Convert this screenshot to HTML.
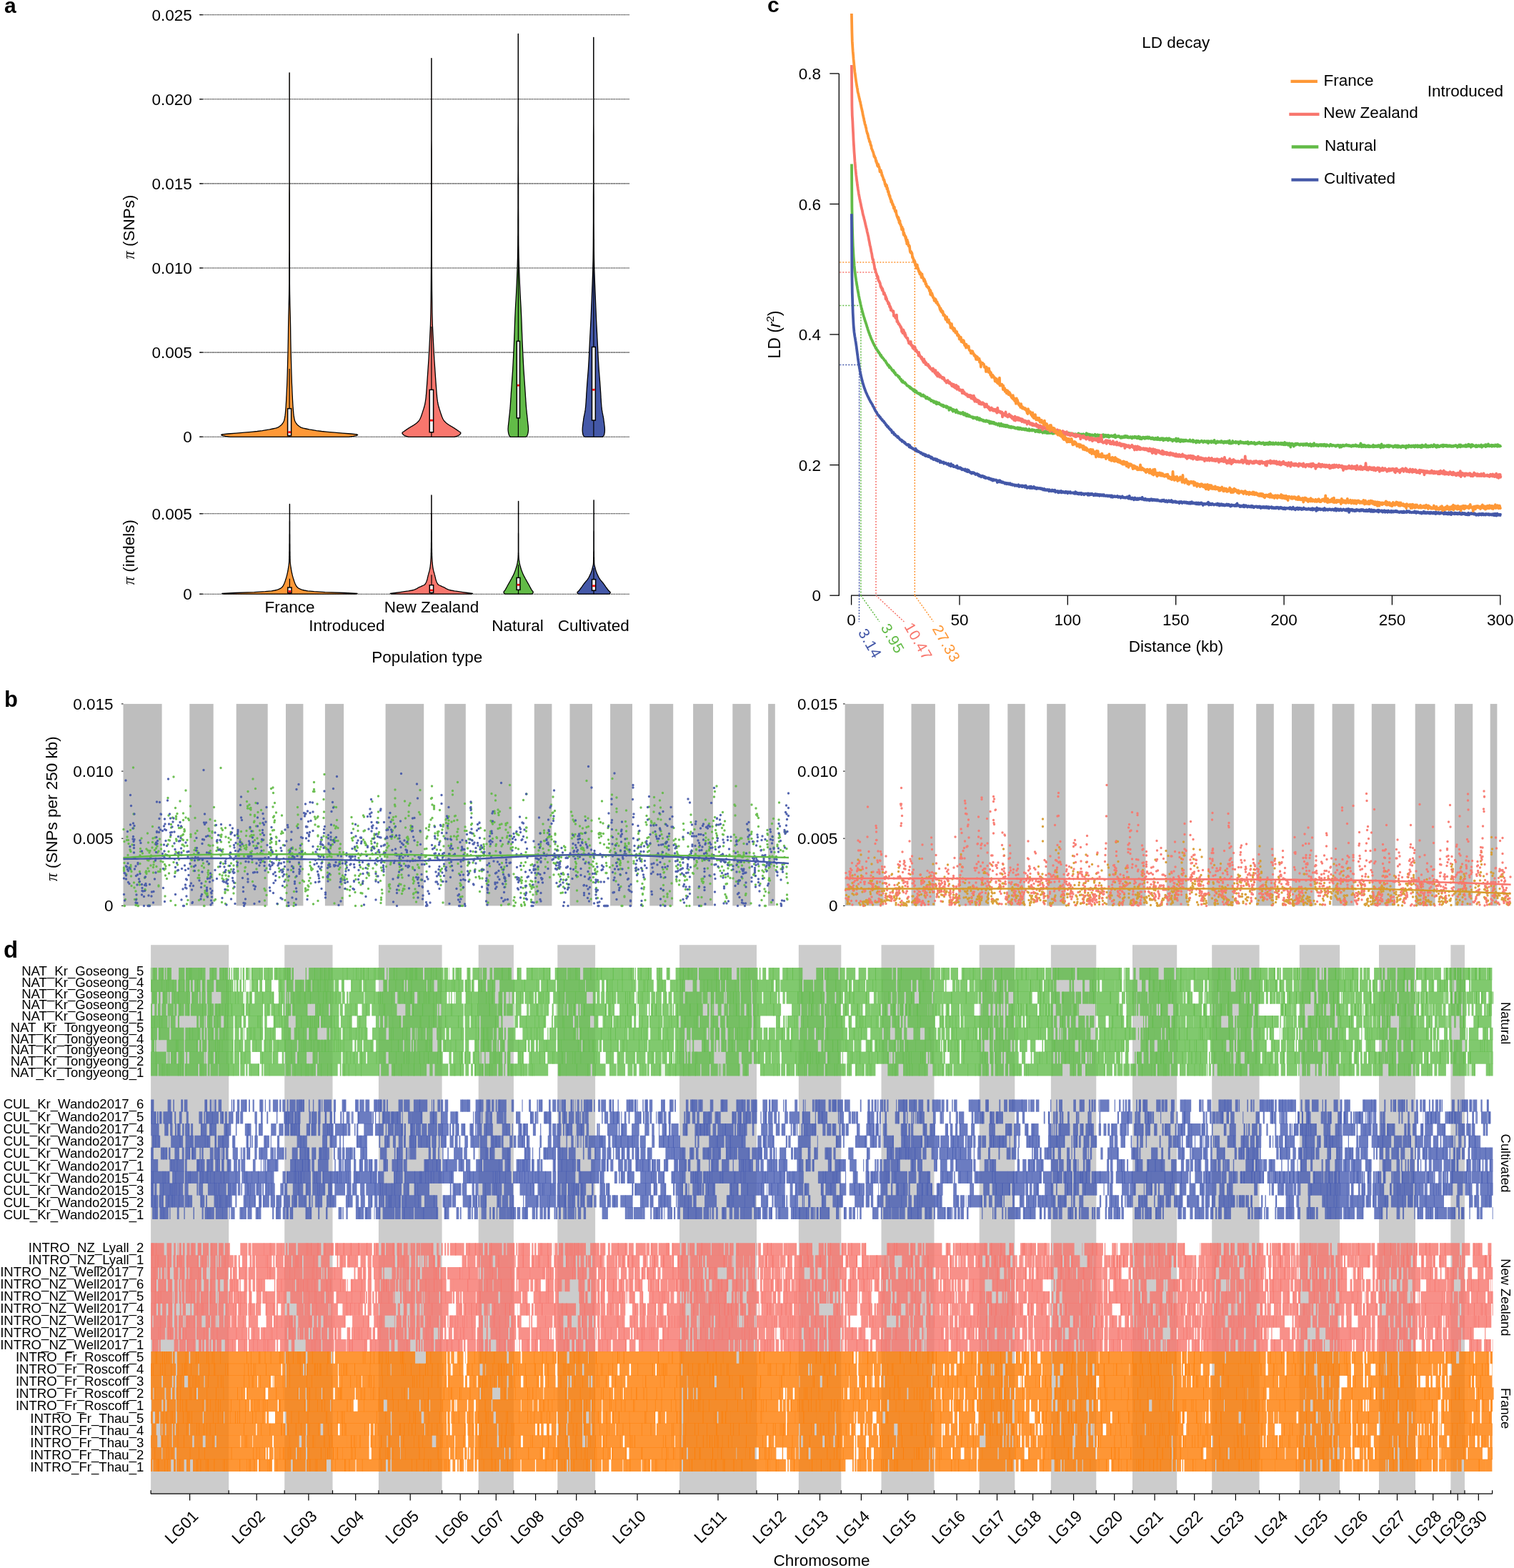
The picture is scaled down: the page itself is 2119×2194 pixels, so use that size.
<!DOCTYPE html>
<html><head><meta charset="utf-8"><title>Figure</title>
<style>html,body{margin:0;padding:0;background:#fff;overflow:hidden;} svg{display:block;} text{font-family:'Liberation Sans', Arial, Helvetica, sans-serif;}</style>
</head><body>
<svg width="2119" height="2194" viewBox="0 0 2119 2194">
<rect x="0" y="0" width="2119" height="2194" fill="#fff"/>
<text x="6" y="18" font-size="30" font-weight="bold">a</text>
<line x1="280" y1="611.2" x2="881" y2="611.2" stroke="#000" stroke-width="1.1" stroke-dasharray="1.4 0.9"/>
<line x1="279" y1="611.2" x2="284" y2="611.2" stroke="#000" stroke-width="1.1"/>
<text x="268.8" y="619.2" font-size="22.5" text-anchor="end" fill="#000" >0</text>
<line x1="280" y1="493.1" x2="881" y2="493.1" stroke="#000" stroke-width="1.1" stroke-dasharray="1.4 0.9"/>
<line x1="279" y1="493.1" x2="284" y2="493.1" stroke="#000" stroke-width="1.1"/>
<text x="268.8" y="501.1" font-size="22.5" text-anchor="end" fill="#000" >0.005</text>
<line x1="280" y1="375.0" x2="881" y2="375.0" stroke="#000" stroke-width="1.1" stroke-dasharray="1.4 0.9"/>
<line x1="279" y1="375.0" x2="284" y2="375.0" stroke="#000" stroke-width="1.1"/>
<text x="268.8" y="383.0" font-size="22.5" text-anchor="end" fill="#000" >0.010</text>
<line x1="280" y1="256.9" x2="881" y2="256.9" stroke="#000" stroke-width="1.1" stroke-dasharray="1.4 0.9"/>
<line x1="279" y1="256.9" x2="284" y2="256.9" stroke="#000" stroke-width="1.1"/>
<text x="268.8" y="264.9" font-size="22.5" text-anchor="end" fill="#000" >0.015</text>
<line x1="280" y1="138.8" x2="881" y2="138.8" stroke="#000" stroke-width="1.1" stroke-dasharray="1.4 0.9"/>
<line x1="279" y1="138.8" x2="284" y2="138.8" stroke="#000" stroke-width="1.1"/>
<text x="268.8" y="146.8" font-size="22.5" text-anchor="end" fill="#000" >0.020</text>
<line x1="280" y1="20.7" x2="881" y2="20.7" stroke="#000" stroke-width="1.1" stroke-dasharray="1.4 0.9"/>
<line x1="279" y1="20.7" x2="284" y2="20.7" stroke="#000" stroke-width="1.1"/>
<text x="268.8" y="28.7" font-size="22.5" text-anchor="end" fill="#000" >0.025</text>
<line x1="280" y1="831.2" x2="881" y2="831.2" stroke="#000" stroke-width="1.1" stroke-dasharray="1.4 0.9"/>
<line x1="279" y1="831.2" x2="284" y2="831.2" stroke="#000" stroke-width="1.1"/>
<text x="268.8" y="839.2" font-size="22.5" text-anchor="end" fill="#000" >0</text>
<line x1="280" y1="718.8" x2="881" y2="718.8" stroke="#000" stroke-width="1.1" stroke-dasharray="1.4 0.9"/>
<line x1="279" y1="718.8" x2="284" y2="718.8" stroke="#000" stroke-width="1.1"/>
<text x="268.8" y="726.8" font-size="22.5" text-anchor="end" fill="#000" >0.005</text>
<text transform="translate(187.5,317.6) rotate(-90)" font-size="22.5" text-anchor="middle"><tspan font-family="Liberation Serif, serif" font-style="italic">π</tspan> (SNPs)</text>
<text transform="translate(187.8,772.6) rotate(-90)" font-size="22.5" text-anchor="middle"><tspan font-family="Liberation Serif, serif" font-style="italic">π</tspan> (indels)</text>
<path d="M322.1,611.3 315.7,610.4 312.0,609.6 309.6,608.7 310.6,607.8 319.0,607.0 330.9,606.1 342.1,605.2 351.7,604.3 360.0,603.5 367.1,602.6 372.6,601.7 377.3,600.9 381.7,600.0 385.7,599.1 388.3,598.3 390.1,597.4 391.5,596.5 392.6,595.6 393.6,594.8 394.4,593.9 395.1,593.0 395.7,592.2 396.3,591.3 396.8,590.4 397.2,589.6 397.6,588.7 397.8,587.8 398.1,587.0 398.2,586.1 398.4,585.2 398.6,584.3 398.7,583.5 398.8,582.6 399.0,581.7 399.1,580.9 399.2,580.0 399.3,579.1 399.4,578.3 399.5,577.4 399.5,576.5 399.6,575.6 399.7,574.8 399.8,573.9 399.8,573.0 399.9,572.2 400.0,571.3 400.0,570.4 400.1,569.6 400.2,568.7 400.2,567.8 400.3,567.0 400.3,566.1 400.4,565.2 400.4,564.3 400.5,563.5 400.5,562.6 400.6,561.7 400.6,560.9 400.7,560.0 400.7,559.1 400.8,558.3 400.8,557.4 400.8,556.5 400.9,555.6 400.9,554.8 401.0,553.9 401.0,553.0 401.1,552.2 401.1,551.3 401.8,535.8 402.3,520.3 402.7,504.8 403.1,489.3 403.4,473.8 403.6,458.3 403.9,442.8 404.3,427.3 404.6,411.8 404.8,396.3 404.8,380.8 404.8,365.3 404.9,349.8 404.9,334.3 404.9,318.8 404.9,303.3 404.9,287.8 404.9,272.3 405.0,256.8 405.0,241.3 405.0,225.8 405.0,210.3 405.0,194.8 405.0,179.3 405.0,163.8 405.0,148.3 405.0,132.8 405.0,117.3 405.0,101.8 405.2,101.8 405.2,117.3 405.2,132.8 405.2,148.3 405.2,163.8 405.2,179.3 405.2,194.8 405.2,210.3 405.2,225.8 405.2,241.3 405.2,256.8 405.3,272.3 405.3,287.8 405.3,303.3 405.3,318.8 405.3,334.3 405.3,349.8 405.4,365.3 405.4,380.8 405.4,396.3 405.6,411.8 405.9,427.3 406.3,442.8 406.6,458.3 406.8,473.8 407.1,489.3 407.5,504.8 407.9,520.3 408.4,535.8 409.1,551.3 409.1,552.2 409.2,553.0 409.2,553.9 409.3,554.8 409.3,555.6 409.4,556.5 409.4,557.4 409.4,558.3 409.5,559.1 409.5,560.0 409.6,560.9 409.6,561.7 409.7,562.6 409.7,563.5 409.8,564.3 409.8,565.2 409.9,566.1 409.9,567.0 410.0,567.8 410.0,568.7 410.1,569.6 410.2,570.4 410.2,571.3 410.3,572.2 410.4,573.0 410.4,573.9 410.5,574.8 410.6,575.6 410.7,576.5 410.7,577.4 410.8,578.3 410.9,579.1 411.0,580.0 411.1,580.9 411.2,581.7 411.4,582.6 411.5,583.5 411.6,584.3 411.8,585.2 412.0,586.1 412.1,587.0 412.4,587.8 412.6,588.7 413.0,589.6 413.4,590.4 413.9,591.3 414.5,592.2 415.1,593.0 415.8,593.9 416.6,594.8 417.6,595.6 418.7,596.5 420.1,597.4 421.9,598.3 424.5,599.1 428.5,600.0 432.9,600.9 437.6,601.7 443.1,602.6 450.2,603.5 458.5,604.3 468.1,605.2 479.3,606.1 491.2,607.0 499.6,607.8 500.6,608.7 498.2,609.6 494.5,610.4 488.1,611.3Z" fill="#FE9837" stroke="#000" stroke-width="1.3" stroke-linejoin="round"/>
<line x1="405.1" y1="516.0" x2="405.1" y2="571.7" stroke="#000" stroke-width="1.2"/>
<line x1="405.1" y1="609.6" x2="405.1" y2="611.3" stroke="#000" stroke-width="1.2"/>
<rect x="402.6" y="571.7" width="5.0" height="37.9" fill="#fff" stroke="#000" stroke-width="1.5"/>
<rect x="403.3" y="603.3" width="3.6" height="2.8" fill="#f00"/>
<path d="M571.9,611.3 568.7,610.4 566.3,609.6 565.1,608.7 564.1,607.8 563.3,607.0 562.9,606.1 563.2,605.2 564.3,604.3 565.7,603.5 566.8,602.6 568.1,601.7 569.3,600.9 570.6,600.0 572.0,599.1 573.3,598.3 574.8,597.4 576.3,596.5 577.8,595.6 579.2,594.8 580.5,593.9 581.7,593.0 582.8,592.2 583.8,591.3 584.7,590.4 585.6,589.6 586.3,588.7 586.9,587.8 587.4,587.0 587.9,586.1 588.3,585.2 588.7,584.3 589.1,583.5 589.4,582.6 589.7,581.7 590.1,580.9 590.3,580.0 590.6,579.1 590.9,578.3 591.2,577.4 591.5,576.5 591.7,575.6 592.0,574.8 592.3,573.9 592.6,573.0 592.9,572.2 593.1,571.3 593.4,570.4 593.7,569.6 593.9,568.7 594.1,567.8 594.4,567.0 594.6,566.1 594.8,565.2 594.9,564.3 595.1,563.5 595.2,562.6 595.4,561.7 595.5,560.9 595.6,560.0 595.8,559.1 595.9,558.3 596.0,557.4 596.1,556.5 596.2,555.6 596.3,554.8 596.3,553.9 596.4,553.0 596.5,552.2 596.6,551.3 597.8,535.1 598.9,518.9 600.0,502.7 600.9,486.5 601.7,470.3 602.5,454.1 602.9,437.9 603.1,421.7 603.3,405.5 603.4,389.3 603.5,373.1 603.6,356.9 603.6,340.7 603.6,324.5 603.6,308.4 603.7,292.2 603.7,276.0 603.7,259.8 603.7,243.6 603.7,227.4 603.7,211.2 603.8,195.0 603.8,178.8 603.8,162.6 603.8,146.4 603.8,130.2 603.8,114.0 603.8,97.8 603.8,81.6 604.0,81.6 604.0,97.8 604.0,114.0 604.0,130.2 604.0,146.4 604.0,162.6 604.0,178.8 604.0,195.0 604.1,211.2 604.1,227.4 604.1,243.6 604.1,259.8 604.1,276.0 604.1,292.2 604.2,308.4 604.2,324.5 604.2,340.7 604.2,356.9 604.3,373.1 604.4,389.3 604.5,405.5 604.7,421.7 604.9,437.9 605.3,454.1 606.1,470.3 606.9,486.5 607.8,502.7 608.9,518.9 610.0,535.1 611.2,551.3 611.3,552.2 611.4,553.0 611.5,553.9 611.5,554.8 611.6,555.6 611.7,556.5 611.8,557.4 611.9,558.3 612.0,559.1 612.2,560.0 612.3,560.9 612.4,561.7 612.6,562.6 612.7,563.5 612.9,564.3 613.0,565.2 613.2,566.1 613.4,567.0 613.7,567.8 613.9,568.7 614.1,569.6 614.4,570.4 614.7,571.3 614.9,572.2 615.2,573.0 615.5,573.9 615.8,574.8 616.1,575.6 616.3,576.5 616.6,577.4 616.9,578.3 617.2,579.1 617.5,580.0 617.7,580.9 618.1,581.7 618.4,582.6 618.7,583.5 619.1,584.3 619.5,585.2 619.9,586.1 620.4,587.0 620.9,587.8 621.5,588.7 622.2,589.6 623.1,590.4 624.0,591.3 625.0,592.2 626.1,593.0 627.3,593.9 628.6,594.8 630.0,595.6 631.5,596.5 633.0,597.4 634.5,598.3 635.8,599.1 637.2,600.0 638.5,600.9 639.7,601.7 641.0,602.6 642.1,603.5 643.5,604.3 644.6,605.2 644.9,606.1 644.5,607.0 643.7,607.8 642.7,608.7 641.5,609.6 639.1,610.4 635.9,611.3Z" fill="#F8766D" stroke="#000" stroke-width="1.3" stroke-linejoin="round"/>
<line x1="603.9" y1="457.0" x2="603.9" y2="545.4" stroke="#000" stroke-width="1.2"/>
<line x1="603.9" y1="604.8" x2="603.9" y2="611.3" stroke="#000" stroke-width="1.2"/>
<rect x="601.2" y="545.4" width="5.4" height="59.4" fill="#fff" stroke="#000" stroke-width="1.5"/>
<rect x="601.9" y="586.8" width="4.0" height="2.8" fill="#f00"/>
<path d="M714.3,611.3 713.6,610.4 712.9,609.6 712.4,608.7 712.2,607.8 711.9,607.0 711.7,606.1 711.5,605.2 711.4,604.3 711.3,603.5 711.2,602.6 711.1,601.7 711.1,600.9 711.1,600.0 711.1,599.1 711.2,598.3 711.3,597.4 711.3,596.5 711.4,595.6 711.5,594.8 711.6,593.9 711.7,593.0 711.8,592.2 711.9,591.3 712.0,590.4 712.1,589.6 712.2,588.7 712.3,587.8 712.4,587.0 712.4,586.1 712.5,585.2 712.6,584.3 712.7,583.5 712.8,582.6 712.9,581.7 713.0,580.9 713.1,580.0 713.2,579.1 713.3,578.3 713.4,577.4 713.5,576.5 713.5,575.6 713.6,574.8 713.7,573.9 713.8,573.0 713.9,572.2 714.0,571.3 714.0,570.4 714.1,569.6 714.2,568.7 714.2,567.8 714.3,567.0 714.4,566.1 714.4,565.2 714.5,564.3 714.5,563.5 714.6,562.6 714.7,561.7 714.7,560.9 714.8,560.0 714.8,559.1 714.9,558.3 714.9,557.4 715.0,556.5 715.1,555.6 715.1,554.8 715.2,553.9 715.2,553.0 715.3,552.2 715.3,551.3 716.5,533.9 717.7,516.6 718.6,499.2 719.4,481.8 720.1,464.4 720.7,447.1 721.5,429.7 722.5,412.3 723.3,394.9 724.0,377.6 724.5,360.2 724.8,342.8 724.9,325.5 724.9,308.1 725.0,290.7 725.0,273.3 725.0,256.0 725.1,238.6 725.1,221.2 725.1,203.9 725.1,186.5 725.2,169.1 725.2,151.7 725.2,134.4 725.2,117.0 725.2,99.6 725.2,82.2 725.2,64.9 725.2,47.5 725.4,47.5 725.4,64.9 725.4,82.2 725.4,99.6 725.4,117.0 725.4,134.4 725.4,151.7 725.4,169.1 725.5,186.5 725.5,203.9 725.5,221.2 725.5,238.6 725.6,256.0 725.6,273.3 725.6,290.7 725.7,308.1 725.7,325.5 725.8,342.8 726.1,360.2 726.6,377.6 727.3,394.9 728.1,412.3 729.1,429.7 729.9,447.1 730.5,464.4 731.2,481.8 732.0,499.2 732.9,516.6 734.1,533.9 735.3,551.3 735.3,552.2 735.4,553.0 735.4,553.9 735.5,554.8 735.5,555.6 735.6,556.5 735.7,557.4 735.7,558.3 735.8,559.1 735.8,560.0 735.9,560.9 735.9,561.7 736.0,562.6 736.1,563.5 736.1,564.3 736.2,565.2 736.2,566.1 736.3,567.0 736.4,567.8 736.4,568.7 736.5,569.6 736.6,570.4 736.6,571.3 736.7,572.2 736.8,573.0 736.9,573.9 737.0,574.8 737.1,575.6 737.1,576.5 737.2,577.4 737.3,578.3 737.4,579.1 737.5,580.0 737.6,580.9 737.7,581.7 737.8,582.6 737.9,583.5 738.0,584.3 738.1,585.2 738.2,586.1 738.2,587.0 738.3,587.8 738.4,588.7 738.5,589.6 738.6,590.4 738.7,591.3 738.8,592.2 738.9,593.0 739.0,593.9 739.1,594.8 739.2,595.6 739.3,596.5 739.3,597.4 739.4,598.3 739.5,599.1 739.5,600.0 739.5,600.9 739.5,601.7 739.4,602.6 739.3,603.5 739.2,604.3 739.1,605.2 738.9,606.1 738.7,607.0 738.4,607.8 738.2,608.7 737.7,609.6 737.0,610.4 736.3,611.3Z" fill="#62BB47" stroke="#000" stroke-width="1.3" stroke-linejoin="round"/>
<line x1="725.4" y1="330.0" x2="725.4" y2="477.4" stroke="#000" stroke-width="1.2"/>
<line x1="725.4" y1="584.9" x2="725.4" y2="611.3" stroke="#000" stroke-width="1.2"/>
<rect x="723.3" y="477.4" width="4.2" height="107.5" fill="#fff" stroke="#000" stroke-width="1.5"/>
<rect x="724.0" y="537.8" width="2.8" height="2.8" fill="#f00"/>
<path d="M818.3,611.3 817.4,610.4 816.7,609.6 816.1,608.7 815.9,607.8 815.7,607.0 815.6,606.1 815.4,605.2 815.3,604.3 815.3,603.5 815.2,602.6 815.2,601.7 815.2,600.9 815.2,600.0 815.3,599.1 815.3,598.3 815.4,597.4 815.5,596.5 815.6,595.6 815.7,594.8 815.8,593.9 815.9,593.0 816.0,592.2 816.1,591.3 816.2,590.4 816.4,589.6 816.5,588.7 816.6,587.8 816.7,587.0 816.8,586.1 817.0,585.2 817.1,584.3 817.3,583.5 817.4,582.6 817.6,581.7 817.8,580.9 817.9,580.0 818.1,579.1 818.3,578.3 818.5,577.4 818.6,576.5 818.8,575.6 818.9,574.8 819.1,573.9 819.2,573.0 819.3,572.2 819.4,571.3 819.5,570.4 819.6,569.6 819.7,568.7 819.8,567.8 819.8,567.0 819.9,566.1 820.0,565.2 820.0,564.3 820.1,563.5 820.2,562.6 820.2,561.7 820.3,560.9 820.3,560.0 820.4,559.1 820.4,558.3 820.5,557.4 820.6,556.5 820.6,555.6 820.6,554.8 820.7,553.9 820.7,553.0 820.8,552.2 820.8,551.3 822.0,534.1 823.4,516.9 824.4,499.7 825.2,482.5 826.1,465.3 827.0,448.1 827.7,430.9 828.4,413.6 829.1,396.4 829.7,379.2 830.1,362.0 830.3,344.8 830.4,327.6 830.5,310.4 830.5,293.2 830.5,276.0 830.6,258.8 830.6,241.6 830.6,224.4 830.6,207.2 830.6,190.0 830.7,172.7 830.7,155.5 830.7,138.3 830.7,121.1 830.7,103.9 830.7,86.7 830.7,69.5 830.7,52.3 830.9,52.3 830.9,69.5 830.9,86.7 830.9,103.9 830.9,121.1 830.9,138.3 830.9,155.5 830.9,172.7 831.0,190.0 831.0,207.2 831.0,224.4 831.0,241.6 831.0,258.8 831.1,276.0 831.1,293.2 831.1,310.4 831.2,327.6 831.3,344.8 831.5,362.0 831.9,379.2 832.5,396.4 833.2,413.6 833.9,430.9 834.6,448.1 835.5,465.3 836.4,482.5 837.2,499.7 838.2,516.9 839.6,534.1 840.8,551.3 840.8,552.2 840.9,553.0 840.9,553.9 841.0,554.8 841.0,555.6 841.0,556.5 841.1,557.4 841.2,558.3 841.2,559.1 841.3,560.0 841.3,560.9 841.4,561.7 841.4,562.6 841.5,563.5 841.6,564.3 841.6,565.2 841.7,566.1 841.8,567.0 841.8,567.8 841.9,568.7 842.0,569.6 842.1,570.4 842.2,571.3 842.3,572.2 842.4,573.0 842.5,573.9 842.7,574.8 842.8,575.6 843.0,576.5 843.1,577.4 843.3,578.3 843.5,579.1 843.7,580.0 843.8,580.9 844.0,581.7 844.2,582.6 844.3,583.5 844.5,584.3 844.6,585.2 844.8,586.1 844.9,587.0 845.0,587.8 845.1,588.7 845.2,589.6 845.4,590.4 845.5,591.3 845.6,592.2 845.7,593.0 845.8,593.9 845.9,594.8 846.0,595.6 846.1,596.5 846.2,597.4 846.3,598.3 846.3,599.1 846.4,600.0 846.4,600.9 846.4,601.7 846.4,602.6 846.3,603.5 846.3,604.3 846.2,605.2 846.0,606.1 845.9,607.0 845.7,607.8 845.5,608.7 844.9,609.6 844.2,610.4 843.3,611.3Z" fill="#4458A8" stroke="#000" stroke-width="1.3" stroke-linejoin="round"/>
<line x1="830.9" y1="335.0" x2="830.9" y2="485.5" stroke="#000" stroke-width="1.2"/>
<line x1="830.9" y1="588.1" x2="830.9" y2="611.3" stroke="#000" stroke-width="1.2"/>
<rect x="828.5" y="485.5" width="4.8" height="102.6" fill="#fff" stroke="#000" stroke-width="1.5"/>
<rect x="829.2" y="543.9" width="3.4" height="2.8" fill="#f00"/>
<path d="M313.4,831.2 310.7,830.3 328.3,829.5 355.8,828.6 371.2,827.7 380.1,826.9 385.0,826.0 388.5,825.1 390.8,824.2 392.5,823.4 393.8,822.5 394.8,821.6 395.5,820.8 396.1,819.9 396.6,819.0 397.1,818.2 397.5,817.3 397.9,816.4 398.2,815.5 398.6,814.7 398.9,813.8 399.2,812.9 399.4,812.1 399.7,811.2 400.0,810.3 400.3,809.5 400.5,808.6 400.8,807.7 401.0,806.9 401.3,806.0 401.5,805.1 401.7,804.2 401.9,803.4 402.1,802.5 402.3,801.6 402.5,800.8 402.7,799.9 402.9,799.0 403.0,798.2 403.2,797.3 403.3,796.4 403.4,795.5 403.6,794.7 403.7,793.8 403.8,792.9 404.0,792.1 404.1,791.2 404.2,790.3 404.3,789.5 404.4,788.6 404.5,787.7 404.6,786.9 404.6,786.0 404.7,785.1 404.7,784.2 404.7,783.4 404.7,782.5 404.8,781.6 404.8,780.8 404.8,779.9 404.8,779.0 404.8,778.2 404.9,777.3 404.9,776.4 404.9,775.5 404.9,774.7 404.9,773.8 404.9,772.9 404.9,772.1 405.0,771.2 405.0,768.9 405.0,766.7 405.0,764.4 405.0,762.1 405.1,759.9 405.1,757.6 405.1,755.3 405.1,753.1 405.1,750.8 405.1,748.5 405.2,746.3 405.2,744.0 405.2,741.7 405.2,739.5 405.2,737.2 405.2,735.0 405.2,732.7 405.2,730.4 405.3,728.2 405.3,725.9 405.3,723.6 405.3,721.4 405.3,719.1 405.3,716.8 405.3,714.6 405.3,712.3 405.3,710.0 405.3,707.8 405.3,705.5 405.5,705.5 405.5,707.8 405.5,710.0 405.5,712.3 405.5,714.6 405.5,716.8 405.5,719.1 405.5,721.4 405.5,723.6 405.5,725.9 405.5,728.2 405.6,730.4 405.6,732.7 405.6,735.0 405.6,737.2 405.6,739.5 405.6,741.7 405.6,744.0 405.6,746.3 405.7,748.5 405.7,750.8 405.7,753.1 405.7,755.3 405.7,757.6 405.7,759.9 405.8,762.1 405.8,764.4 405.8,766.7 405.8,768.9 405.8,771.2 405.9,772.1 405.9,772.9 405.9,773.8 405.9,774.7 405.9,775.5 405.9,776.4 405.9,777.3 406.0,778.2 406.0,779.0 406.0,779.9 406.0,780.8 406.0,781.6 406.1,782.5 406.1,783.4 406.1,784.2 406.1,785.1 406.2,786.0 406.2,786.9 406.3,787.7 406.4,788.6 406.5,789.5 406.6,790.3 406.7,791.2 406.8,792.1 407.0,792.9 407.1,793.8 407.2,794.7 407.4,795.5 407.5,796.4 407.6,797.3 407.8,798.2 407.9,799.0 408.1,799.9 408.3,800.8 408.5,801.6 408.7,802.5 408.9,803.4 409.1,804.2 409.3,805.1 409.5,806.0 409.8,806.9 410.0,807.7 410.3,808.6 410.5,809.5 410.8,810.3 411.1,811.2 411.4,812.1 411.6,812.9 411.9,813.8 412.2,814.7 412.6,815.5 412.9,816.4 413.3,817.3 413.7,818.2 414.2,819.0 414.7,819.9 415.3,820.8 416.0,821.6 417.0,822.5 418.3,823.4 420.0,824.2 422.3,825.1 425.8,826.0 430.7,826.9 439.6,827.7 455.0,828.6 482.5,829.5 500.1,830.3 497.4,831.2Z" fill="#FE9837" stroke="#000" stroke-width="1.3" stroke-linejoin="round"/>
<line x1="405.4" y1="809.8" x2="405.4" y2="822.0" stroke="#000" stroke-width="1.2"/>
<line x1="405.4" y1="829.8" x2="405.4" y2="831.2" stroke="#000" stroke-width="1.2"/>
<rect x="402.8" y="822.0" width="5.2" height="7.8" fill="#fff" stroke="#000" stroke-width="1.5"/>
<rect x="403.5" y="826.1" width="3.8" height="2.8" fill="#f00"/>
<path d="M548.9,831.2 546.3,830.3 553.4,829.5 560.1,828.6 566.3,827.7 571.8,826.9 576.7,826.0 580.1,825.1 582.2,824.2 583.7,823.4 585.1,822.5 586.7,821.6 588.7,820.8 590.7,819.9 592.7,819.0 594.2,818.2 595.1,817.3 595.6,816.4 596.1,815.5 596.5,814.7 596.9,813.8 597.2,812.9 597.5,812.1 597.8,811.2 598.0,810.3 598.2,809.5 598.4,808.6 598.6,807.7 598.8,806.9 599.0,806.0 599.2,805.1 599.5,804.2 599.7,803.4 599.9,802.5 600.2,801.6 600.4,800.8 600.7,799.9 600.9,799.0 601.1,798.2 601.3,797.3 601.5,796.4 601.7,795.5 601.9,794.7 602.0,793.8 602.1,792.9 602.2,792.1 602.3,791.2 602.4,790.3 602.5,789.5 602.6,788.6 602.6,787.7 602.7,786.9 602.8,786.0 602.9,785.1 602.9,784.2 603.0,783.4 603.0,782.5 603.1,781.6 603.1,780.8 603.2,779.9 603.2,779.0 603.2,778.2 603.3,777.3 603.3,776.4 603.3,775.5 603.3,774.7 603.3,773.8 603.4,772.9 603.4,772.1 603.4,771.2 603.4,768.5 603.5,765.8 603.5,763.1 603.5,760.4 603.6,757.7 603.6,755.0 603.6,752.3 603.6,749.6 603.6,746.9 603.6,744.2 603.7,741.5 603.7,738.8 603.7,736.1 603.7,733.4 603.7,730.7 603.7,728.0 603.7,725.3 603.7,722.6 603.7,719.9 603.8,717.2 603.8,714.5 603.8,711.8 603.8,709.1 603.8,706.4 603.8,703.7 603.8,701.0 603.8,698.3 603.8,695.6 603.8,692.9 604.0,692.9 604.0,695.6 604.0,698.3 604.0,701.0 604.0,703.7 604.0,706.4 604.0,709.1 604.0,711.8 604.0,714.5 604.0,717.2 604.1,719.9 604.1,722.6 604.1,725.3 604.1,728.0 604.1,730.7 604.1,733.4 604.1,736.1 604.1,738.8 604.1,741.5 604.2,744.2 604.2,746.9 604.2,749.6 604.2,752.3 604.2,755.0 604.2,757.7 604.3,760.4 604.3,763.1 604.3,765.8 604.4,768.5 604.4,771.2 604.4,772.1 604.4,772.9 604.5,773.8 604.5,774.7 604.5,775.5 604.5,776.4 604.5,777.3 604.6,778.2 604.6,779.0 604.6,779.9 604.7,780.8 604.7,781.6 604.8,782.5 604.8,783.4 604.9,784.2 604.9,785.1 605.0,786.0 605.1,786.9 605.2,787.7 605.2,788.6 605.3,789.5 605.4,790.3 605.5,791.2 605.6,792.1 605.7,792.9 605.8,793.8 605.9,794.7 606.1,795.5 606.3,796.4 606.5,797.3 606.7,798.2 606.9,799.0 607.1,799.9 607.4,800.8 607.6,801.6 607.9,802.5 608.1,803.4 608.3,804.2 608.6,805.1 608.8,806.0 609.0,806.9 609.2,807.7 609.4,808.6 609.6,809.5 609.8,810.3 610.0,811.2 610.3,812.1 610.6,812.9 610.9,813.8 611.3,814.7 611.7,815.5 612.2,816.4 612.7,817.3 613.6,818.2 615.1,819.0 617.1,819.9 619.1,820.8 621.1,821.6 622.7,822.5 624.1,823.4 625.6,824.2 627.7,825.1 631.1,826.0 636.0,826.9 641.5,827.7 647.7,828.6 654.4,829.5 661.5,830.3 658.9,831.2Z" fill="#F8766D" stroke="#000" stroke-width="1.3" stroke-linejoin="round"/>
<line x1="604.0" y1="804.3" x2="604.0" y2="818.7" stroke="#000" stroke-width="1.2"/>
<line x1="604.0" y1="829.3" x2="604.0" y2="831.2" stroke="#000" stroke-width="1.2"/>
<rect x="601.3" y="818.7" width="5.3" height="10.6" fill="#fff" stroke="#000" stroke-width="1.5"/>
<rect x="602.0" y="824.6" width="3.9" height="2.8" fill="#f00"/>
<path d="M707.1,831.2 705.8,830.3 705.2,829.5 705.0,828.6 705.2,827.7 706.0,826.9 706.7,826.0 707.3,825.1 707.8,824.2 708.3,823.4 708.7,822.5 709.2,821.6 709.7,820.8 710.1,819.9 710.6,819.0 711.1,818.2 711.6,817.3 712.1,816.4 712.6,815.5 713.1,814.7 713.6,813.8 714.1,812.9 714.5,812.1 715.0,811.2 715.5,810.3 716.0,809.5 716.4,808.6 716.9,807.7 717.4,806.9 717.8,806.0 718.3,805.1 718.7,804.2 719.1,803.4 719.5,802.5 719.8,801.6 720.2,800.8 720.5,799.9 720.8,799.0 721.2,798.2 721.5,797.3 721.8,796.4 722.0,795.5 722.3,794.7 722.6,793.8 722.8,792.9 723.0,792.1 723.3,791.2 723.5,790.3 723.7,789.5 723.9,788.6 724.1,787.7 724.2,786.9 724.4,786.0 724.5,785.1 724.6,784.2 724.8,783.4 724.9,782.5 725.0,781.6 725.1,780.8 725.1,779.9 725.2,779.0 725.2,778.2 725.2,777.3 725.3,776.4 725.3,775.5 725.3,774.7 725.3,773.8 725.4,772.9 725.4,772.1 725.4,771.2 725.4,768.8 725.4,766.4 725.4,764.0 725.4,761.6 725.4,759.2 725.4,756.8 725.4,754.4 725.4,752.0 725.4,749.6 725.4,747.2 725.5,744.8 725.5,742.4 725.5,740.0 725.5,737.6 725.5,735.1 725.5,732.7 725.5,730.3 725.5,727.9 725.5,725.5 725.5,723.1 725.5,720.7 725.5,718.3 725.5,715.9 725.5,713.5 725.5,711.1 725.5,708.7 725.5,706.3 725.5,703.9 725.5,701.5 725.7,701.5 725.7,703.9 725.7,706.3 725.7,708.7 725.7,711.1 725.7,713.5 725.7,715.9 725.7,718.3 725.7,720.7 725.7,723.1 725.7,725.5 725.7,727.9 725.7,730.3 725.7,732.7 725.7,735.1 725.7,737.6 725.7,740.0 725.7,742.4 725.7,744.8 725.8,747.2 725.8,749.6 725.8,752.0 725.8,754.4 725.8,756.8 725.8,759.2 725.8,761.6 725.8,764.0 725.8,766.4 725.8,768.8 725.8,771.2 725.8,772.1 725.8,772.9 725.9,773.8 725.9,774.7 725.9,775.5 725.9,776.4 726.0,777.3 726.0,778.2 726.0,779.0 726.1,779.9 726.1,780.8 726.2,781.6 726.3,782.5 726.4,783.4 726.6,784.2 726.7,785.1 726.8,786.0 727.0,786.9 727.1,787.7 727.3,788.6 727.5,789.5 727.7,790.3 727.9,791.2 728.2,792.1 728.4,792.9 728.6,793.8 728.9,794.7 729.2,795.5 729.4,796.4 729.7,797.3 730.0,798.2 730.4,799.0 730.7,799.9 731.0,800.8 731.4,801.6 731.7,802.5 732.1,803.4 732.5,804.2 732.9,805.1 733.4,806.0 733.8,806.9 734.3,807.7 734.8,808.6 735.2,809.5 735.7,810.3 736.2,811.2 736.7,812.1 737.1,812.9 737.6,813.8 738.1,814.7 738.6,815.5 739.1,816.4 739.6,817.3 740.1,818.2 740.6,819.0 741.1,819.9 741.5,820.8 742.0,821.6 742.5,822.5 742.9,823.4 743.4,824.2 743.9,825.1 744.5,826.0 745.2,826.9 746.0,827.7 746.2,828.6 746.0,829.5 745.4,830.3 744.1,831.2Z" fill="#62BB47" stroke="#000" stroke-width="1.3" stroke-linejoin="round"/>
<line x1="725.5" y1="790.0" x2="725.5" y2="808.4" stroke="#000" stroke-width="1.2"/>
<line x1="725.5" y1="825.3" x2="725.5" y2="831.2" stroke="#000" stroke-width="1.2"/>
<rect x="723.1" y="808.4" width="4.8" height="16.9" fill="#fff" stroke="#000" stroke-width="1.5"/>
<rect x="723.8" y="816.9" width="3.4" height="2.8" fill="#f00"/>
<path d="M810.1,831.2 808.4,830.3 808.0,829.5 808.0,828.6 808.9,827.7 810.0,826.9 810.7,826.0 811.4,825.1 812.1,824.2 812.7,823.4 813.4,822.5 814.0,821.6 814.6,820.8 815.2,819.9 815.8,819.0 816.4,818.2 817.0,817.3 817.7,816.4 818.4,815.5 819.1,814.7 819.8,813.8 820.6,812.9 821.3,812.1 822.0,811.2 822.6,810.3 823.2,809.5 823.8,808.6 824.2,807.7 824.7,806.9 825.1,806.0 825.5,805.1 825.9,804.2 826.3,803.4 826.7,802.5 827.0,801.6 827.4,800.8 827.7,799.9 828.0,799.0 828.3,798.2 828.5,797.3 828.8,796.4 829.0,795.5 829.2,794.7 829.5,793.8 829.7,792.9 829.9,792.1 830.1,791.2 830.3,790.3 830.4,789.5 830.5,788.6 830.5,787.7 830.6,786.9 830.6,786.0 830.6,785.1 830.6,784.2 830.7,783.4 830.7,782.5 830.7,781.6 830.7,780.8 830.7,779.9 830.8,779.0 830.8,778.2 830.8,777.3 830.8,776.4 830.8,775.5 830.8,774.7 830.8,773.8 830.8,772.9 830.8,772.1 830.9,771.2 830.9,768.7 830.9,766.3 830.9,763.8 830.9,761.4 830.9,758.9 830.9,756.4 830.9,754.0 830.9,751.5 830.9,749.0 830.9,746.6 830.9,744.1 831.0,741.7 831.0,739.2 831.0,736.7 831.0,734.3 831.0,731.8 831.0,729.3 831.0,726.9 831.0,724.4 831.0,722.0 831.0,719.5 831.0,717.0 831.0,714.6 831.0,712.1 831.0,709.6 831.0,707.2 831.0,704.7 831.0,702.3 831.0,699.8 831.2,699.8 831.2,702.3 831.2,704.7 831.2,707.2 831.2,709.6 831.2,712.1 831.2,714.6 831.2,717.0 831.2,719.5 831.2,722.0 831.2,724.4 831.2,726.9 831.2,729.3 831.2,731.8 831.2,734.3 831.2,736.7 831.2,739.2 831.2,741.7 831.3,744.1 831.3,746.6 831.3,749.0 831.3,751.5 831.3,754.0 831.3,756.4 831.3,758.9 831.3,761.4 831.3,763.8 831.3,766.3 831.3,768.7 831.4,771.2 831.4,772.1 831.4,772.9 831.4,773.8 831.4,774.7 831.4,775.5 831.4,776.4 831.4,777.3 831.4,778.2 831.4,779.0 831.5,779.9 831.5,780.8 831.5,781.6 831.5,782.5 831.5,783.4 831.6,784.2 831.6,785.1 831.6,786.0 831.6,786.9 831.7,787.7 831.7,788.6 831.8,789.5 831.9,790.3 832.1,791.2 832.3,792.1 832.5,792.9 832.7,793.8 833.0,794.7 833.2,795.5 833.4,796.4 833.7,797.3 833.9,798.2 834.2,799.0 834.5,799.9 834.8,800.8 835.2,801.6 835.5,802.5 835.9,803.4 836.3,804.2 836.7,805.1 837.1,806.0 837.5,806.9 838.0,807.7 838.4,808.6 839.0,809.5 839.6,810.3 840.2,811.2 840.9,812.1 841.6,812.9 842.4,813.8 843.1,814.7 843.8,815.5 844.5,816.4 845.2,817.3 845.8,818.2 846.4,819.0 847.0,819.9 847.6,820.8 848.2,821.6 848.8,822.5 849.5,823.4 850.1,824.2 850.8,825.1 851.5,826.0 852.2,826.9 853.3,827.7 854.2,828.6 854.2,829.5 853.8,830.3 852.1,831.2Z" fill="#4458A8" stroke="#000" stroke-width="1.3" stroke-linejoin="round"/>
<line x1="831.0" y1="795.0" x2="831.0" y2="810.7" stroke="#000" stroke-width="1.2"/>
<line x1="831.0" y1="826.2" x2="831.0" y2="831.2" stroke="#000" stroke-width="1.2"/>
<rect x="828.5" y="810.7" width="5.1" height="15.5" fill="#fff" stroke="#000" stroke-width="1.5"/>
<rect x="829.2" y="818.4" width="3.7" height="2.8" fill="#f00"/>
<text x="405.5" y="857.2" font-size="22.5" text-anchor="middle" fill="#000" >France</text>
<text x="604.0" y="857.2" font-size="22.5" text-anchor="middle" fill="#000" >New Zealand</text>
<text x="485.4" y="882.8" font-size="22.5" text-anchor="middle" fill="#000" >Introduced</text>
<text x="724.5" y="882.8" font-size="22.5" text-anchor="middle" fill="#000" >Natural</text>
<text x="830.8" y="882.8" font-size="22.5" text-anchor="middle" fill="#000" >Cultivated</text>
<text x="597.7" y="927.2" font-size="22.5" text-anchor="middle" fill="#000" >Population type</text>
<text x="1074" y="17" font-size="30" font-weight="bold">c</text>
<line x1="1174.3" y1="102.9" x2="1174.3" y2="833.8" stroke="#000" stroke-width="1.3"/>
<line x1="1161.3" y1="833.2" x2="1174.3" y2="833.2" stroke="#000" stroke-width="1.3"/>
<text x="1149.0" y="841.2" font-size="22.5" text-anchor="end" fill="#000" >0</text>
<line x1="1161.3" y1="650.6" x2="1174.3" y2="650.6" stroke="#000" stroke-width="1.3"/>
<text x="1149.0" y="658.6" font-size="22.5" text-anchor="end" fill="#000" >0.2</text>
<line x1="1161.3" y1="468.0" x2="1174.3" y2="468.0" stroke="#000" stroke-width="1.3"/>
<text x="1149.0" y="476.0" font-size="22.5" text-anchor="end" fill="#000" >0.4</text>
<line x1="1161.3" y1="285.5" x2="1174.3" y2="285.5" stroke="#000" stroke-width="1.3"/>
<text x="1149.0" y="293.5" font-size="22.5" text-anchor="end" fill="#000" >0.6</text>
<line x1="1161.3" y1="102.9" x2="1174.3" y2="102.9" stroke="#000" stroke-width="1.3"/>
<text x="1149.0" y="110.9" font-size="22.5" text-anchor="end" fill="#000" >0.8</text>
<line x1="1191.0" y1="833.2" x2="2100.4" y2="833.2" stroke="#000" stroke-width="1.3"/>
<line x1="1191.6" y1="833.2" x2="1191.6" y2="846.5" stroke="#000" stroke-width="1.3"/>
<text x="1191.6" y="875.0" font-size="22.5" text-anchor="middle" fill="#000" >0</text>
<line x1="1343.0" y1="833.2" x2="1343.0" y2="846.5" stroke="#000" stroke-width="1.3"/>
<text x="1343.0" y="875.0" font-size="22.5" text-anchor="middle" fill="#000" >50</text>
<line x1="1494.3" y1="833.2" x2="1494.3" y2="846.5" stroke="#000" stroke-width="1.3"/>
<text x="1494.3" y="875.0" font-size="22.5" text-anchor="middle" fill="#000" >100</text>
<line x1="1645.7" y1="833.2" x2="1645.7" y2="846.5" stroke="#000" stroke-width="1.3"/>
<text x="1645.7" y="875.0" font-size="22.5" text-anchor="middle" fill="#000" >150</text>
<line x1="1797.1" y1="833.2" x2="1797.1" y2="846.5" stroke="#000" stroke-width="1.3"/>
<text x="1797.1" y="875.0" font-size="22.5" text-anchor="middle" fill="#000" >200</text>
<line x1="1948.4" y1="833.2" x2="1948.4" y2="846.5" stroke="#000" stroke-width="1.3"/>
<text x="1948.4" y="875.0" font-size="22.5" text-anchor="middle" fill="#000" >250</text>
<line x1="2099.8" y1="833.2" x2="2099.8" y2="846.5" stroke="#000" stroke-width="1.3"/>
<text x="2099.8" y="875.0" font-size="22.5" text-anchor="middle" fill="#000" >300</text>
<text x="1646.0" y="911.6" font-size="22.5" text-anchor="middle" fill="#000" >Distance (kb)</text>
<text transform="translate(1092.3,468.1) rotate(-90)" font-size="23" text-anchor="middle">LD (<tspan font-style="italic">r</tspan><tspan font-size="15" dy="-9">2</tspan><tspan dy="9">)</tspan></text>
<text x="1645.7" y="67.0" font-size="22.5" text-anchor="middle" fill="#000" >LD decay</text>
<line x1="1806.5" y1="113.9" x2="1843.9" y2="113.9" stroke="#FE9837" stroke-width="4.3"/>
<text x="1852.6" y="119.6" font-size="22.5" text-anchor="start" fill="#000" >France</text>
<line x1="1804.3" y1="159.9" x2="1846.5" y2="159.9" stroke="#F8766D" stroke-width="4.3"/>
<text x="1852.2" y="165.2" font-size="22.5" text-anchor="start" fill="#000" >New Zealand</text>
<line x1="1807.7" y1="205.5" x2="1845.3" y2="205.5" stroke="#62BB47" stroke-width="4.3"/>
<text x="1854.0" y="211.2" font-size="22.5" text-anchor="start" fill="#000" >Natural</text>
<line x1="1807.4" y1="251.7" x2="1845.3" y2="251.7" stroke="#4458A8" stroke-width="4.3"/>
<text x="1852.9" y="256.9" font-size="22.5" text-anchor="start" fill="#000" >Cultivated</text>
<text x="1997.7" y="134.7" font-size="22.5" text-anchor="start" fill="#000" >Introduced</text>
<line x1="1175.3" y1="366.9" x2="1280.3" y2="366.9" stroke="#FE9837" stroke-width="1.5" stroke-dasharray="2 2"/>
<line x1="1280.3" y1="366.9" x2="1280.3" y2="833.2" stroke="#FE9837" stroke-width="1.5" stroke-dasharray="2 2"/>
<line x1="1280.3" y1="833.2" x2="1306.3" y2="869.7" stroke="#FE9837" stroke-width="1.5" stroke-dasharray="2 2"/>
<line x1="1175.3" y1="381.1" x2="1226.0" y2="381.1" stroke="#F8766D" stroke-width="1.5" stroke-dasharray="2 2"/>
<line x1="1226.0" y1="381.1" x2="1226.0" y2="833.2" stroke="#F8766D" stroke-width="1.5" stroke-dasharray="2 2"/>
<line x1="1226.0" y1="833.2" x2="1265.7" y2="870.3" stroke="#F8766D" stroke-width="1.5" stroke-dasharray="2 2"/>
<line x1="1175.3" y1="427.6" x2="1204.9" y2="427.6" stroke="#62BB47" stroke-width="1.5" stroke-dasharray="2 2"/>
<line x1="1204.9" y1="427.6" x2="1204.9" y2="833.2" stroke="#62BB47" stroke-width="1.5" stroke-dasharray="2 2"/>
<line x1="1204.9" y1="833.2" x2="1230.8" y2="869.7" stroke="#62BB47" stroke-width="1.5" stroke-dasharray="2 2"/>
<line x1="1175.3" y1="510.6" x2="1202.6" y2="510.6" stroke="#4458A8" stroke-width="1.5" stroke-dasharray="2 2"/>
<line x1="1202.6" y1="510.6" x2="1202.6" y2="833.2" stroke="#4458A8" stroke-width="1.5" stroke-dasharray="2 2"/>
<line x1="1202.6" y1="833.2" x2="1202.4" y2="870.3" stroke="#4458A8" stroke-width="1.5" stroke-dasharray="2 2"/>
<path d="M1192 229.6l.4 60.7 .5 26.6 .5 15.9 .4 11.1 .5 8.6 .4 7.1 .5 6.2 .4 5.6 .5 4.6 .4 4.1 .5 3.5 .4 3.3 .5 3 .4 2.9 .5 2.8 .4 2.8 .5 2.6 .4 2.6 .5 2.7 .4 2.4 .5 2.4 .4 2.5 .5 2.2 .4 2.1 .5 2.3 .4 2.1 .5 1.9 .4 1.9 .5 2.1 .4 2 .5 1.6 .4 1.7 .5 1.9 .4 1.7 .5 1.5 .4 1.7 .5 1.7 .4 1.3 .5 1.4 .4 1.7 .5 1.4 .4 1.6 .5 1 .4 1.5 .5 1.4 .4 1.1 .5 1.8 .4 1.5 .5 1.1 .4 1.9 .5 1.2 .4 1.3 .5 1.3 .4 1.4 .5 .7 .4 1.8 .5 1.2 .4 .5 .5 1.8 .4 .9 .5 1.4 .4 .7 .5 1.2 .4 1.1 .5 .6 .4 1.5 .5 .6 .4 1.1 .5 .5 .4 1.5 .5 .6 .4 .6 .5 1.1 .4 1 .5 1 .4-.6 .5 1.7 .4 .6 .5 .5 .4 .4 .5 1.6 .4-.3 .5 1.4 .4 1 .5-.6 .4 1.2 .5 .2 .4 1.4 .5 1.2 .4 .8 .5-1.1 .4 1.1 .5 1.2 .4 1.1 .5 0 .4 0 .5 1.1 .4 .4 .5 .5 .4 .3 .5 1.2 .4 .5 .5 .4 .4 .5 .5 0 .4 1 .5 1.5 .4-.2 .5 .9 .4 1.1 .5 .2 .4 1.5 .5-.7 .4 .3 .5 0 .4 2.2 .5 1.4 .4-1.6 .5 .7 .4 1.4 .5-.4 .4 .9 .5 .5 .4 .9 .5 1.2 .4-.2 .5 1.2 .4-.4 .5 1.1 .4-1.2 .5 1 .4 2.1 .5-.5 .4 1.4 .5-.9 .4 2.4 .5 .2 .4 .6 .5-.3 .4 0 .5 .5 .4 .6 .5 0 .4 .9 .5 .8 .4 .8 .5 0 .4-.8 .5 1.9 .4 .7 .5 1.1 .4 .1 .5-.5 .4 .4 .5 2.5 .4-.5 .5 1.2 .4 .7 .5-1.8 .4 1.3 .5 .5 .4 .5 .5 .4 .4 .2 .5 .4 .4-.9 .5 1.4 .4 0 .5 1.1 .4-.1 .5 1.2 .4 .6 .5 0 .4 .3 .5 .3 .4-.1 .5 .6 .4 .1 .5 1 .4 .1 .5 .8 .4-1.1 .5 2 .4-.9 .5 .4 .4 .7 .5 0 .4 1 .5-.3 .4-.1 .5 .5 .4 1.9 .5-.6 .4-.6 .5 1.2 .4-.9 .5 2.8 .4-2.2 .5 1.8 .4 .3 .5-1.2 .4 1.6 .5 .8 .4-.1 .5 .1 .4 .8 .5-.3 .4 .4 .5-.1 .4 .8 .5-.9 .4 1.6 .5-.7 .4-.2 .5 1.4 .4 1.2 .5-.3 .4-.8 .5 1.1 .4-.6 .5 .5 .4 .4 .5-1.5 .4 2.1 .5-.7 .4 .5 .5-.3 .4 .2 .5 .7 .4 1.5 .5 .9 .4-1 .5 1 .4-.7 .5-1 .4 1.7 .5 .5 .4-.4 .5 .8 .4 .4 .5-.8 .4-.3 .5 1.2 .4 .2 .5 .1 .4 1.3 .5 .7 .4-1.3 .5 1 .4 .4 .5 .1 .4 .4 .5-.8 .4 1 .5 1.2 .4-.7 .5-.8 .4 1.1 .5 .7 .4-.5 .5-.5 .4 1.8 .5-1.9 .4 3.1 .5-1.7 .4-.7 .5 2 .4-.4 .5-1 .4 1.5 .5-.5 .4-.9 .5 1.1 .4 .9 .5 .5 .4-.2 .5 .1 .4 .6 .5-.4 .4 1.3 .5-.6 .4 .3 .5 .4 .4-1 .5 .4 .4 1.9 .5-.7 .4-.2 .5 .6 .4-.4 .5 .8 .4-.6 .5 .9 .4-1.1 .5 2.3 .4-1.2 .5-.6 .4 1.2 .5 .1 .4 .6 .5-.8 .4 1.4 .5 2.6 .4-3.5 .5 1.4 .4-.3 .5 .6 .4-1.3 .5 .7 .4 1.4 .5-.2 .4 1.4 .5-1.5 .4 .8 .5 2.3 .4-2.6 .5 .1 .4 .8 .5 .2 .4 .9 .5-.4 .4-.5 .5 .9 .4 2 .5-.8 .4-2.9 .5 2.2 .4-.4 .5 1.3 .4-.4 .5 1.8 .4-.6 .5 .2 .4-.4 .5 0 .4 .5 .5 .9 .4-.4 .5-.5 .4 1.4 .5-.7 .4 0 .5-.4 .4 .4 .5 .1 .4-1.5 .5 3.1 .4-.2 .5-.4 .4 1.1 .5-.3 .4 .1 .5-2 .4 1.9 .5 .7 .4 1 .5 .3 .4-.1 .5-1.8 .4-.7 .5 2.3 .4-.3 .5 .9 .4-.7 .5 .4 .4-1.1 .5 1.6 .4-.5 .5 .7 .4 .3 .5-.3 .4 .4 .5-.1 .4 .8 .5-.1 .4-.6 .5 .1 .4 1.9 .5-1.2 .4 .9 .5-.3 .4-.6 .5 0 .4 .8 .5 .3 .4 .4 .5-1.3 .4 .7 .5 .5 .4 1.4 .5-2.9 .4 2.3 .5-.6 .4 .9 .5-.6 .4 .8 .5 1 .4-2.7 .5 2.1 .4 .1 .5-.7 .4 1.1 .5-.4 .4-.4 .5 .8 .4-.1 .5 .9 .4-.5 .5-.2 .4 1.6 .5-.2 .4 .3 .5-.3 .4-.4 .5-.2 .4 .3 .5 1 .4-.5 .5-1.1 .4 1.2 .5-.9 .4 1.3 .5-.9 .4 .1 .5 1.2 .4-.1 .5-1 .4 1.9 .5 1.2 .4-2.6 .5 2.6 .4-1.8 .5 .2 .4 .4 .5-.8 .4 2.1 .5-.4 .4-.9 .5 .5 .4-.8 .5 1 .4 1.1 .5-1.9 .4 1.1 .5 .5 .4 .8 .5 .3 .4-1.2 .5-.1 .4 1 .5-.5 .4 .1 .5 1.2 .4 .6 .5-1 .4-.2 .5 .7 .4-1.8 .5 1.5 .4-.6 .5 2.6 .4-1.1 .5-.3 .4-.2 .5-1.6 .4 2.5 .5 .8 .4-1.7 .5 1.2 .4 .1 .5-1.6 .4 2 .5 .4 .4-.7 .5-.1 .4 .7 .5-1.7 .4 1.4 .5 .8 .4-1.6 .5 1.7 .4-.9 .5-1.2 .4 1.6 .5-.6 .4 1.1 .5-1 .4 1.7 .5-1.2 .4 .9 .5-.6 .4 .2 .5 1.3 .4-.7 .5-.3 .4-.6 .5 1.9 .4-.2 .5-.8 .4 .6 .5-.9 .4 .1 .5 .2 .4 1 .5 0 .4-.7 .5 1.2 .4 .1 .5-.4 .4 .7 .5-.9 .4 .2 .5 .6 .4-.4 .5 .7 .4-1.4 .5 2.1 .4-1.6 .5 .5 .4-.8 .5 1.5 .4 .6 .5-.1 .4-.1 .5-1.7 .4 .7 .5 .3 .4-.3 .5 1.6 .4-.6 .5-.1 .4 .4 .5-1 .4 .1 .5 .1 .4 1.1 .5-.1 .4 .3 .5 .4 .4-1.7 .5 .6 .4 .6 .5-1 .4 .6 .5 1.3 .4 .1 .5 0 .4-.7 .5-.1 .4 1 .5-1 .4-1.1 .5 2.5 .4-1.2 .5-.1 .4 .5 .5 .5 .4 0 .5-.2 .4 .3 .5-1.5 .4 .6 .5 .8 .4-.8 .5-.2 .4 .2 .5 .2 .4 .6 .5-.5 .4 1 .5 1.1 .4-1.3 .5 1.1 .4-.7 .5-1 .4 .7 .5-.7 .4 1.6 .5-1.4 .4 1.9 .5-.5 .4-1.9 .5 2.2 .4 .6 .5-1.7 .4 1.4 .5-2 .4 1.6 .5-1.4 .4 1.6 .5-1.6 .4-.6 .5 2.3 .4 1.5 .5-2.1 .4 1.1 .5-.5 .4-.2 .5 .7 .4 .8 .5-2.1 .4 1.4 .5-.1 .4-1.3 .5 2.4 .4 .3 .5-2.2 .4 2.1 .5-1.2 .4-.1 .5 1.3 .4-1 .5 .2 .4 .9 .5-.1 .4-.3 .5-1.6 .4-.1 .5 2 .4-1.5 .5 .9 .4-.9 .5 .7 .4-.7 .5 2.2 .4-2 .5 .7 .4 0 .5 1.1 .4-1.9 .5 1.1 .4-.1 .5 .6 .4 0 .5-.7 .4 .6 .5-.5 .4 .7 .5-.4 .4-.4 .5 .6 .4 .3 .5 1.4 .4-2 .5 .6 .4 .9 .5-2.6 .4 .3 .5 .5 .4 2.2 .5 .5 .4-1.5 .5 .7 .4-1.1 .5-1.6 .4 .1 .5 2.6 .4-.6 .5-1.1 .4 1.8 .5-1.9 .4 2 .5 .3 .4-1.6 .5-.3 .4 1.5 .5-1.4 .4 1.5 .5-1.5 .4 1.5 .5-.5 .4-.4 .5-.3 .4 .9 .5-1.6 .4 1.3 .5-.1 .4 .8 .5-1.4 .4 2.3 .5-1.5 .4-.6 .5 1.9 .4 .2 .5-1.3 .4-.5 .5 .7 .4-.5 .5 .3 .4 1.4 .5-.8 .4-.2 .5 .2 .4-.3 .5 .7 .4 .1 .5-.9 .4 .3 .5 1.8 .4-1.5 .5-.4 .4 1.7 .5-1.5 .4-.8 .5-.7 .4 .9 .5 .3 .4 .7 .5-.4 .4-.4 .5 .2 .4 0 .5 1.3 .4-1.4 .5 .2 .4 1.9 .5-1.9 .4 1.6 .5-.1 .4-1.1 .5-.9 .4 1.4 .5 .2 .4 .2 .5-.6 .4 .8 .5 .2 .4-1.8 .5 1.9 .4-3.4 .5 1.9 .4 .2 .5 1.7 .4-.6 .5-2.1 .4 1.4 .5-.1 .4 0 .5-.2 .4-.7 .5 1.7 .4-1.3 .5 .5 .4-.2 .5 0 .4 1.1 .5-.3 .4-.7 .5-.2 .4 .4 .5 1.1 .4-.6 .5 .1 .4-.4 .5 0 .4 .4 .5-1.5 .4 2.6 .5-1.8 .4 .2 .5 1.5 .4-.8 .5-.1 .4-.5 .5-.7 .4 1.3 .5 .8 .4-1.5 .5 1.7 .4-1.9 .5 .4 .4 .9 .5-.3 .4 .5 .5-1 .4-.2 .5 .1 .4-.2 .5 .1 .4-.3 .5 1.4 .4-.7 .5-1 .4 3.4 .5-2.5 .4-.3 .5 1.9 .4 0 .5-1.8 .4-.2 .5 .4 .4 1.6 .5-1 .4-.4 .5 .6 .4 1 .5-2 .4 .8 .5-.7 .4 2.7 .5-.3 .4-.6 .5-.8 .4 .6 .5-.1 .4-.1 .5-1.2 .4 0 .5 .5 .4 .3 .5 .7 .4 .1 .5-.3 .4-.9 .5 1.3 .4-.6 .5 1 .4-2.8 .5-.1 .4 1.7 .5 2 .4-1.2 .5-.5 .4 .8 .5-.3 .4 0 .5-.7 .4 .5 .5 .1 .4-.6 .5-.3 .4 .9 .5 .7 .4-.3 .5-.1 .4 .1 .5 1.6 .4-1.8 .5 .6 .4 .8 .5-1.5 .4 .2 .5 .6 .4 .5 .5-1 .4 .1 .5-.2 .4-.9 .5 1.7 .4 .1 .5-2.2 .4 1.2 .5-1.1 .4 .5 .5 .8 .4-.7 .5 1.6 .4-1.9 .5 1.3 .4 .2 .5 .7 .4-.3 .5-.5 .4-.1 .5-.1 .4 .9 .5-1.3 .4 .9 .5-.4 .4 .2 .5-.3 .4 1.8 .5-2.1 .4 .7 .5 .1 .4 .3 .5-.1 .4 0 .5 .4 .4-1.8 .5 1.1 .4-.9 .5 1.2 .4-1.1 .5 .2 .4 .7 .5 1.1 .4-.6 .5-.1 .4 .8 .5-1.7 .4-.9 .5 1.3 .4 .2 .5 1.1 .4 .7 .5-2.5 .4 2.8 .5-.6 .4-.5 .5-.4 .4 1.6 .5-1.7 .4-.4 .5 .5 .4-1.1 .5 1.4 .4-.4 .5 .3 .4 .1 .5-1 .4 1.8 .5-1.7 .4 1.4 .5-1.8 .4 1.5 .5-.9 .4 .7 .5-.5 .4-1.1 .5 .8 .4 1 .5 .4 .4-1.5 .5-.5 .4 1 .5 .5 .4-.3 .5-.1 .4 1.3 .5 .1 .4-.1 .5-1.2 .4 .7 .5-.1 .4-.9 .5 1.8 .4-.6 .5-.4 .4 1.5 .5-.5 .4 .1 .5 .3 .4-.3 .5-1.5 .4 .7 .5 1.1 .4-1.3 .5 .6 .4 .3 .5 .8 .4-2.9 .5 2.6 .4-.8 .5 .9 .4-.3 .5-.5 .4 1.2 .5-.6 .4-.9 .5 1.5 .4-1.1 .5 .7 .4-1.6 .5 1.2 .4-.7 .5 .1 .4-.7 .5 3.1 .4-1.7 .5 .3 .4 .7 .5-.9 .4 .5 .5-1.4 .4 1.2 .5-.4 .4 .7 .5-.2 .4-1.8 .5 .4 .4 .6 .5 1.4 .4 .7 .5-.9 .4-1.8 .5-.5 .4 1.6 .5 .2 .4-.1 .5 .7 .4-.3 .5-.8 .4 .3 .5 .8 .4 0 .5-.1 .4 1.8 .5-1.9 .4 .3 .5-.8 .4 .5 .5 .7 .4 .1 .5-.5 .4 .4 .5-.2 .4-1.4 .5-1.1 .4 4.3 .5-1.1 .4-.7 .5-1.2 .4 .4 .5 2 .4-3.1 .5 1.9 .4 .9 .5-.5 .4 .5 .5-.7 .4 2 .5-2.6 .4-.2 .5 1.2 .4 .9 .5-1.1 .4 .9 .5-1.2 .4-.4 .5 1.9 .4 .2 .5 0 .4-1.5 .5-.5 .4 0 .5 .8 .4 .6 .5 0 .4-1.5 .5 1.3 .4-.1 .5 0 .4 0 .5-.1 .4 .6 .5-.3 .4 .1 .5-.7 .4 .8 .5-.3 .4-1.5 .5 2 .4-.6 .5 .9 .4-.8 .5 .1 .4 .3 .5-.2 .4-.3 .5-1 .4 2.8 .5-2.6 .4 1 .5 .7 .4-.2 .5 .2 .4 .2 .5 .4 .4-.7 .5 1.9 .4-2.9 .5 1 .4-.5 .5-.1 .4 .7 .5 .9 .4-1.7 .5 .1 .4 1.1 .5-.2 .4 1.1 .5-.7 .4-.5 .5-.4 .4 .4 .5-.3 .4-.9 .5 1.1 .4-.1 .5-.1 .4-.1 .5 1.6 .4-.7 .5 .2 .4-1.2 .5-.3 .4 .6 .5 .4 .4-.4 .5 .1 .4 .9 .5-.5 .4-.9 .5 .4 .4 1.4 .5-.9 .4-1 .5 3 .4-1.6 .5-.5 .4-.6 .5 .2 .4 .6 .5 .2 .4 .3 .5-.7 .4-.9 .5 2.1 .4-.8 .5 .1 .4-.1 .5-1 .4 .6 .5 .4 .4 .6 .5-.7 .4-2.4 .5 2.2 .4 .5 .5 .7 .4-.4 .5 1.3 .4-.8 .5 0 .4-.3 .5-1.7 .4 1.7 .5-.2 .4-.8 .5 .8 .4-.1 .5-.7 .4 .3 .5-.1 .4 .4 .5-.5 .4 .8 .5-1.9 .4 1.3 .5-1.1 .4 1 .5 .7 .4-.3 .5-.1 .4 .1 .5 1.2 .4-2 .5 1.5 .4-1.8 .5 .8 .4 .5 .5-.8 .4 .8 .5 .5 .4-1.5 .5 .9 .4-.2 .5-1.2 .4 1.3 .5-.4 .4 1.6 .5-1.6 .4 1.9 .5-3.8 .4 4 .5-1 .4-.1 .5 1.2 .4-.8 .5 .4 .4 .2 .5-1.5 .4-.7 .5-1 .4 1.7 .5 .9 .4-.3 .5-.2 .4-.3 .5-.2 .4 .3 .5 .5 .4-1.6 .5 1.9 .4-1.7 .5 1 .4-.3 .5 .2 .4-.5 .5-.1 .4 .7 .5-.6 .4 2.7 .5-2.2 .4-.1 .5 .1 .4-.4 .5-1 .4 1.6 .5 .5 .4-1.4 .5 1.2 .4-.9 .5 .9 .4 .3 .5 .1 .4 0 .5-.9 .4 1.2 .5-1 .4 .7 .5 .2 .4-.7 .5-.7 .4 1.4 .5-1.3 .4 .2 .5-.1 .4 1.4 .5-.7 .4-1.5 .5 2.2 .4 1 .5-.2 .4-1.7 .5 .5 .4 .3 .5 .3 .4-.6 .5-.9 .4 1.4 .5 0 .4-1.5 .5 .8 .4 .4 .5-.1 .4 .4 .5 .2 .4-.2 .5-.5 .4-.9 .5 1.5 .4 .6 .5 .5 .4-1.5 .5 0 .4 1.1 .5 0 .4-.8 .5 .3 .4-1.1 .5 1 .4-1 .5 .5 .4 0 .5-.2 .4-1.2 .5 .9 .4 .9 .5-.3 .4-.2 .5 .6 .4 .3 .5 .1 .4-1.2 .5 .6 .4-.3 .5-.4 .4-.4 .5 1.1 .4-.6 .5 2.3 .4-1.7 .5-.1 .4-.1 .5 1.7 .4-2.1 .5 .6 .4-.4 .5 .5 .4 .1 .5 .8 .4-1.8 .5 1 .4 1.3 .5-1.6 .4 .2 .5-.5 .4-1.3 .5 1.9 .4 1 .5-1.2 .4-1 .5 1.6 .4-.2 .5 .7 .4 0 .5-.9 .4 .5 .5-1.6 .4 2.2 .5-.7 .4 .7 .5 0 .4-1 .5 .1 .4-.5 .5-.9 .4 1.5 .5 .2 .4-.9 .5 1.3 .4-.4 .5 .3 .4-.9 .5-.8 .4 2 .5-.1 .4-.6 .5-.2 .4 .1 .5 .1 .4-.2 .5-1.1 .4 2.1 .5-1.7 .4 .9 .5 0 .4 .4 .5-1.4 .4 2.2 .5-.4 .4 .1 .5 .4 .4-1.6 .5-1.7 .4 2.6 .5 .7 .4-.1 .5-1.2 .4 .3 .5 .3 .4-1.5 .5 .8 .4 .1 .5 1.7 .4-1.7 .5 1.7 .4-1.2 .5-1.2 .4 2.9 .5-2.4 .4 1.2 .5 3.6 .4-4.4 .5-.5 .4 1.7 .5-.7 .4-1 .5 .1 .4 .4 .5 1.2 .4-.9 .5 3.1 .4-1.6 .5-.3 .4 .1 .5-.1 .4-2.1 .5 2.1 .4-.7 .5-.3 .4-.7 .5-.4 .4 .4 .5 .8 .4-.8 .5 .3 .4 .1 .5 1 .4-.7 .5 .1 .4 1.1 .5-1.2 .4 .7 .5-1.2 .4 1 .5-.1 .4 0 .5-.4 .4-.4 .5 .5 .4 1.3 .5-.2 .4-.1 .5-1.6 .4 1.4 .5-.8 .4 .7 .5-.7 .4-.7 .5 1.8 .4-.4 .5-1.2 .4-.5 .5 1 .4-.4 .5 .6 .4 .7 .5 .7 .4-1.4 .5 1.3 .4-.1 .5-1.2 .4-.9 .5 1.9 .4-.2 .5 1.4 .4-.7 .5-.5 .4 .4 .5-1.7 .4 .9 .5-.3 .4 1.5 .5-.9 .4-2.7 .5 3.4 .4-1.7 .5 1.2 .4-.9 .5 .6 .4 .3 .5-.3 .4-.9 .5 1.8 .4-.8 .5-.3 .4 .6 .5-.9 .4 1.8 .5-1.2 .4 .1 .5 0 .4-.9 .5-.2 .4 1 .5 .2 .4 .7 .5-.6 .4-1.2 .5 1.2 .4 .3 .5 .1 .4-.5 .5-1.1 .4 1.8 .5-1.4 .4 1 .5-1.6 .4 1.7 .5-1.1 .4 1.4 .5 .5 .4-.4 .5-1.8 .4 .2 .5 .1 .4 1.1 .5-.2 .4-.1 .5 .1 .4 .2 .5 .1 .4 .8 .5-1.3 .4 .2 .5-1.5 .4 .4 .5 .5 .4-.4 .5 1.1 .4 .6 .5-1.1 .4 0 .5 0 .4 .4 .5-.4 .4 .7 .5-.1 .4 0 .5 .4 .4-.6 .5 .1 .4 1.3 .5-1.4 .4 .7 .5-.6 .4-.4 .5 0 .4-.2 .5 .6 .4-.4 .5 .1 .4 1.2 .5-1 .4 2.6 .5-2.2 .4 .4 .5-1.1 .4 .6 .5 1.9 .4-1.4 .5 .2 .4-.6 .5 .5 .4-1.5 .5 .2 .4 1 .5 .3 .4-.9 .5 .1 .4-.1 .5 .2 .4-.8 .5-.2 .4 1.1 .5-1.3 .4 .6 .5 .3 .4-.3 .5 .9 .4-.5 .5 .3 .4-.7 .5 .2 .4 1 .5-.1 .4-.6 .5 .6 .4-.1 .5 0 .4 1 .5-1.5 .4 .7 .5 0 .4-.5 .5-.7 .4 1.4 .5-.3 .4-.2 .5 0 .4 0 .5-.7 .4 .9 .5-1.5 .4 1.3 .5-1.1 .4 .9 .5 .8 .4-.7 .5-.2 .4 .8 .5-.6 .4-.1 .5 0 .4 1.4 .5-.6 .4-.1 .5-1.3 .4 1.4 .5-4.1 .4 4 .5-1.2 .4 2.3 .5-2.7 .4 2.2 .5-.3 .4-2 .5 1.2 .4 1.3 .5-.3 .4-2.1 .5 .9 .4-.5 .5 .1 .4 .3 .5 1.9 .4-1.3 .5-.2 .4-.1 .5 .7 .4 .1 .5-1.2 .4 1.8 .5-1.9 .4 .6 .5 .5 .4 1 .5-1.6 .4 .5 .5 .8 .4-.5 .5 .4 .4-.1 .5-.6 .4 .3 .5 .2 .4-.7 .5 1.3 .4-2.7 .5 .8 .4 1.8 .5-.8 .4-.8 .5 .8 .4 .5 .5-1.2 .4 1 .5-.7 .4 0 .5 .1 .4 .9 .5-1.7 .4 .6 .5 .8 .4-1.4 .5-.3 .4 1.6 .5-.4 .4-.1 .5 .2 .4-.8 .5 2.9 .4-2.9 .5 .4 .4-2.6 .5 2.6 .4 1.5 .5-1.1 .4 .4 .5-.8 .4 1.7 .5-1.2 .4-1.1 .5 1.5 .4-.8 .5 .7 .4-.3 .5 .1 .4-.1 .5-.8 .4-.4 .5 1.8 .4-.8 .5 .3 .4-.5 .5-1.2 .4 .6 .5 2 .4-1.7 .5 .3 .4-.8 .5 .7 .4 .2 .5 .1 .4 .1 .5-.4 .4 0 .5 .5 .4 .2 .5-.3 .4 1.4 .5-1.2 .4 0 .5-.6 .4 1.3 .5-1.6 .4-.4 .5 .5 .4 1.2 .5-1.4 .4 1.9 .5-1 .4-1.1 .5 .9 .4 1.5 .5-1.9 .4-.4 .5 1.4 .4 .6 .5-.2 .4-1 .5 .4 .4 .1 .5 .6 .4 .7 .5-1.6 .4 1 .5-1.2 .4 .7 .5-1.2 .4 .2 .5 .9 .4-1 .5 1.3 .4-1.1 .5 .5 .4-.1 .5-.2 .4 .3 .5 .8 .4 1.5 .5-3.2 .4 1.1 .5-.4 .4-.5 .5 .9 .4-.9 .5 .6 .4 1 .5-2.5 .4 1.7 .5 .2 .4-1.1 .5 1.1 .4-.1 .5-.5 .4 1.1 .5-1.8 .4 1.4 .5-.6 .4-.7 .5 .7 .4-.1 .5 .8 .4-1.7 .5 1 .4-.2 .5 1.5 .4-2 .5 1.6 .4-2.1 .5 1.6 .4-.4 .5 .4 .4-.8 .5-.5 .4-.2 .5 2.2 .4-.9 .5-.8 .4 1.3 .5-1.2 .4 0 .5-.4 .4 1.8 .5 .6 .4-2.2 .5 1 .4-.4 .5 1.7 .4-3.4 .5 1.9 .4 .4 .5-1.6 .4 1.4 .5-.2 .4 .4 .5-1 .4 .8 .5-.8 .4 .9 .5-2.7 .4 2 .5-.8 .4 2.3 .5-.4 .4-.2 .5-1.2 .4 .3 .5 1.5 .4-.7 .5-1.2 .4 .6 .5 .1 .4 .7 .5-1.5 .4 1.6 .5-.5 .4-.6 .5-1 .4 .7 .5 .4 .4 .7 .5-.9 .4 1.1 .5-.8 .4-.6 .5-1.6 .4 1.2 .5-.2 .4 1 .5 .3 .4 .8 .5-1 .4-.9 .5 2.6 .4-1.5 .5-.4 .4 0 .5-.9 .4 .5 .5 .8 .4 .9 .5-.3 .4-.2 .5 .3 .4-1.2 .5-.1 .4 .3 .5-.9 .4 .8 .5-.2 .4 .8 .5-.5 .4-1.5 .5 1.5 .4 1 .5-2.4 .4 .8 .5 .6 .4-1.1 .5 .6 .4 .5 .5-1.1 .4 1.2 .5 .1 .4-1.3 .5 1 .4 .8 .5-1.5 .4 1 .5 .2 .4-.7 .5 .9 .4-.5 .5-1 .4 1.1 .5 .3 .4-.1 .5-1 .4 .8 .5 .7 .4-.9 .5 .7 .4 .1 .5-1 .4 .5 .5-.7 .4 1 .5-.9 .4-.3 .5 .4 .4-.1 .5 .4 .4 0 .5-1.2 .4 .4 .5 .7 .4 .1 .5-.3 .4 1.9 .5-1.1 .4-.9 .5 .6 .4 .4 .5-.7 .4-1.6 .5 1.4 .4 0 .5 1.5 .4-3 .5 2.6 .4-1.3 .5 .8 .4-.9 .5 .3 .4 .7 .5-.8 .4 .8 .5-.9 .4-.2 .5 .1 .4-.2 .5 .3 .4 1.1 .5-1.9 .4-.4 .5 1.2 .4 1.3 .5-.5 .4 .2 .5 0 .4-1.5 .5 .6 .4-2.1 .5 1.6 .4 .9 .5-1.6 .4-.4 .5 .5 .4 1.2 .5 .7 .4 1.1 .5-.9 .4-2.2 .5-.6 .4 1.8 .5 .7 .4-2 .5 .8 .4 .1 .5 .3 .4-.1 .5 .5 .4 .4 .5-.8 .4 .5 .5 1 .4-2.3 .5 .1 .4 1.1 .5 1 .4-1.3 .5 .7 .4-1.1 .5 1 .4-1.2 .5 1 .4-.2 .5 0 .4 .7 .5-.2 .4-1.3 .5 1.1 .4-1.9 .5 2 .4 1.3 .5-1.7 .4 0 .5-.3 .4 .6 .5-1 .4 .8 .5-.7 .4-.1 .5 .4 .4-.1 .5-1.3 .4 2.9 .5-1.5 .4-1.3 .5 2 .4-.8 .5 .2 .4 .3 .5-1.2 .4-1.5 .5 2.1 .4 .3 .5 .6 .4-1.4 .5 .4 .4 .5 .5-.6 .4 .1 .5 .4 .4-1 .5 2 .4-1.9 .5 .7 .4-.3 .5-.3 .4 1 .5 .3 .4 .3 .5-.6 .4-.8 .5 1 .4-1.7 .5 1.1 .4 .3 .5 .1 .4-1.3 .5-.3 .4 2.4 .5-1.7 .4-.8 .5 .3 .4 .9 .5 .9 .4-.9 .5 .9 .4-.7 .5 .1 .4 .4 .5-1" fill="none" stroke="#62BB47" stroke-width="3.8" stroke-linejoin="round"/>
<path d="M1191.9 299.3l.5 84.6 .4 26.1 .5 15.6 .4 12.3 .5 9.6 .4 7.3 .5 5.8 .4 4.2 .5 3.4 .4 2.8 .5 2.7 .4 2.6 .5 2.8 .4 2.9 .5 3.2 .4 3.4 .5 3.6 .4 3.4 .5 3.5 .4 3.3 .5 3.1 .4 2.9 .5 2.8 .4 2.6 .5 2.5 .4 2.5 .5 2.3 .4 2.4 .5 1.9 .4 2.2 .5 1.7 .4 1.8 .5 1.6 .4 1.8 .5 1.6 .4 1.7 .5 1.2 .4 1.6 .5 1.6 .4 1.1 .5 1.1 .4 1.5 .5 1 .4 1.3 .5 1.1 .4 .9 .5 .8 .4 1.2 .5 1.1 .4 .8 .5 1 .4 1 .5 .6 .4 1.2 .5 1 .4 .7 .5 .8 .4 .9 .5 1.1 .4 .3 .5 .8 .4 1 .5 .5 .4 .7 .5 1 .4 1.2 .5 .9 .4 .3 .5 .8 .4 1.3 .5 .8 .4 .9 .5 1 .4 1 .5 .5 .4 .9 .5 .2 .4 .6 .5 1.2 .4 .8 .5 .7 .4 .6 .5 .7 .4 .6 .5-.2 .4 .9 .5 1 .4 .6 .5-.2 .4 1.6 .5-.1 .4 .7 .5 .7 .4 .7 .5-.3 .4 1.5 .5 .1 .4 .2 .5 .7 .4-.2 .5 1.1 .4 .9 .5 .1 .4 .7 .5 .6 .4 .6 .5 1.4 .4-.4 .5 .5 .4 .9 .5 1.2 .4-.6 .5 1 .4-.5 .5 1.9 .4 .2 .5 .9 .4-.1 .5 0 .4 1.5 .5 .4 .4-.3 .5 .2 .4 1.5 .5 .2 .4 2 .5-1.2 .4 .5 .5 .7 .4-.3 .5 .9 .4 1.9 .5-.6 .4 .2 .5 .1 .4 1.5 .5 .5 .4 .2 .5 0 .4 .9 .5 .4 .4-.2 .5 1.2 .4-1.3 .5 .9 .4 1 .5 .5 .4-.2 .5 1.3 .4 .8 .5 0 .4 .2 .5 .8 .4 .1 .5-.6 .4 .9 .5 1.3 .4-1.1 .5 1.1 .4 0 .5 .1 .4 .2 .5 1.1 .4 .4 .5 .4 .4-.8 .5 1.1 .4 .7 .5 .6 .4 .2 .5 .4 .4 .5 .5 .1 .4-.6 .5 .8 .4-.2 .5-.7 .4 .8 .5 2.5 .4-1.6 .5-.4 .4 1.3 .5 1.6 .4-.7 .5 .6 .4-.1 .5 .3 .4 1.1 .5 0 .4-.2 .5 .8 .4 .4 .5-.5 .4 .6 .5 .2 .4-.3 .5 1.4 .4-.5 .5-1.6 .4 1.2 .5 .5 .4 1.9 .5-1.3 .4 1.1 .5-.2 .4 .8 .5 .3 .4-.6 .5 .5 .4 .5 .5 .3 .4 .1 .5 .1 .4 .8 .5 .6 .4-.2 .5-.6 .4 1 .5 0 .4 .5 .5 1 .4-1 .5 .3 .4-.3 .5 .6 .4 .1 .5 1.5 .4-.6 .5-.3 .4 1.7 .5-1.7 .4 1.5 .5 .3 .4 0 .5-.3 .4 .3 .5 0 .4 .9 .5-1.6 .4 1.2 .5 .6 .4-.2 .5-.5 .4 1.1 .5-.1 .4 1.1 .5 .6 .4-.6 .5-1 .4 1.2 .5-.3 .4 1.4 .5 .6 .4-.7 .5 1.3 .4-.2 .5-.3 .4-.7 .5 .8 .4-.8 .5 1.7 .4-.4 .5 1 .4-.5 .5-1.2 .4 1.8 .5 .3 .4 .6 .5-1.4 .4 .2 .5 .8 .4-.5 .5 0 .4 .3 .5 2.4 .4-1.8 .5 0 .4 .5 .5 .4 .4 1 .5-.1 .4 .1 .5-.3 .4 .3 .5-.3 .4-.4 .5 2.3 .4-1.3 .5 1 .4-.6 .5 .3 .4 .1 .5-.5 .4 .9 .5 .4 .4 .5 .5-.1 .4 .5 .5-.2 .4-.1 .5-1 .4 1 .5 1.5 .4-1.4 .5 1.2 .4-.4 .5-.1 .4 1.8 .5-3.2 .4 3.1 .5-.4 .4-.3 .5-1 .4 1.5 .5-.8 .4-.2 .5 2.2 .4-.2 .5 .2 .4-.2 .5 .1 .4 .4 .5 0 .4 .1 .5 .5 .4-1.7 .5 2.1 .4-2.7 .5 3 .4 .4 .5-1.1 .4 1.1 .5 .2 .4-.8 .5 .3 .4 .5 .5-1.2 .4 1.2 .5 .5 .4-.2 .5-.5 .4 .8 .5 1.3 .4 .1 .5-.7 .4-.3 .5 .6 .4 .2 .5-.2 .4 .3 .5 .7 .4 .4 .5-1.9 .4 2.2 .5-.3 .4 .7 .5-.5 .4 .4 .5 .9 .4-2.6 .5 2.9 .4-.7 .5-1.1 .4-.3 .5 1.9 .4-.6 .5 1.4 .4-.3 .5-.1 .4 .9 .5-.4 .4 .5 .5 1.3 .4-1.2 .5 .5 .4 .1 .5-1.1 .4 .8 .5 .3 .4 0 .5-.6 .4 .8 .5 .7 .4 .1 .5 1 .4-1.1 .5 .2 .4 .1 .5 .3 .4 0 .5-.6 .4 1.5 .5 .6 .4 .2 .5-1.1 .4 .7 .5 1.4 .4-1.1 .5 .5 .4-.2 .5 .9 .4 .1 .5 1 .4-.9 .5 .1 .4-.8 .5 .6 .4 0 .5 .4 .4-.5 .5 1.7 .4-1.2 .5 1 .4-.8 .5 1.1 .4 .9 .5-1.3 .4 .9 .5-.2 .4 .4 .5 .2 .4-.5 .5 .5 .4-.2 .5 0 .4-.1 .5 1.5 .4-.9 .5 1 .4 .1 .5-.8 .4 1.3 .5-1 .4 1 .5 .7 .4-1.2 .5 0 .4 .1 .5 2.1 .4-1.5 .5-.4 .4 1.4 .5-.5 .4 .2 .5-.4 .4 .5 .5-.1 .4-.1 .5-.2 .4 .4 .5 .2 .4 1.2 .5 1.7 .4-1.6 .5-.5 .4-.3 .5 1 .4 .2 .5 .5 .4-.5 .5-1.6 .4 2 .5-.6 .4 .2 .5 1 .4-1.1 .5 .9 .4 .6 .5-.2 .4 .2 .5-.8 .4 .7 .5 0 .4 .7 .5 0 .4-.2 .5 1.3 .4-.7 .5-.4 .4-.1 .5 .4 .4-.2 .5 1.4 .4-.5 .5-.4 .4-.1 .5-.2 .4 .6 .5 1 .4-.1 .5-.5 .4 .2 .5-1.1 .4 1.7 .5-.5 .4 1 .5-.8 .4-.1 .5 .5 .4-.4 .5 1.3 .4-.6 .5 .1 .4 .1 .5-.3 .4 .6 .5-.1 .4 1 .5-.9 .4 .2 .5-.4 .4 .1 .5 .1 .4 1.1 .5-.7 .4 .6 .5-.6 .4 0 .5-.9 .4 1.8 .5 .8 .4-1.3 .5 1 .4-.3 .5-.8 .4 .9 .5-.9 .4 .4 .5 1 .4-.6 .5-.7 .4 1.6 .5-1.4 .4 .6 .5 0 .4 .1 .5-.3 .4-.4 .5 2.1 .4-1.6 .5 .1 .4-.9 .5 1.6 .4 .8 .5 .1 .4 .9 .5-.7 .4-.6 .5-.1 .4 .9 .5-.8 .4 .2 .5-.7 .4 .7 .5 1.2 .4-1.1 .5 .3 .4-1.6 .5 2.3 .4-.5 .5 .7 .4-.7 .5-.6 .4-.2 .5 1.2 .4-.3 .5-1.5 .4 1.6 .5-.3 .4 .9 .5-.6 .4-.4 .5 .7 .4-.2 .5 1.3 .4-1.1 .5-.4 .4 .8 .5-.1 .4 .4 .5 0 .4-.6 .5 .6 .4 .1 .5-.6 .4 .4 .5 .6 .4-1 .5 .3 .4 .5 .5 .3 .4 .4 .5-1 .4 1 .5 .3 .4 .6 .5-1.1 .4-.2 .5-.3 .4 1.4 .5 .5 .4-1.1 .5 .7 .4 .3 .5 .2 .4-.7 .5 .7 .4-.4 .5-.4 .4 .8 .5 .1 .4-.7 .5 .9 .4 1 .5-2 .4 1.4 .5 .2 .4-.5 .5 .3 .4-.3 .5 1 .4-1.3 .5 .6 .4-1.1 .5 1.5 .4 .1 .5-1.2 .4 .5 .5 .9 .4-.5 .5-.4 .4-.7 .5 1.7 .4 1.1 .5-1.4 .4 .6 .5 0 .4-.2 .5 .1 .4 .1 .5-.6 .4 2.1 .5 .2 .4-1.4 .5 .9 .4-1.5 .5 .4 .4 .9 .5-1.3 .4-.1 .5 1.1 .4-1.4 .5 2.3 .4-.5 .5-.3 .4 .3 .5-.9 .4 0 .5 1.1 .4 .1 .5-.4 .4-.1 .5-.2 .4 1.2 .5-1.7 .4 .4 .5 .3 .4-.6 .5 .2 .4 .2 .5 1.3 .4 .5 .5-.9 .4-1.1 .5 .6 .4 .4 .5-.1 .4 0 .5 .6 .4-1.5 .5 .9 .4 .5 .5 .3 .4-.2 .5-.1 .4-.1 .5-.2 .4 .4 .5-.1 .4-.3 .5 1.2 .4 .1 .5-.9 .4 .6 .5 .4 .4-2.5 .5 1.9 .4 .3 .5-1.3 .4 .2 .5 1.2 .4-.1 .5 .7 .4-1.1 .5 1 .4 0 .5 .6 .4-1.7 .5 .3 .4 .5 .5 0 .4-.7 .5 .3 .4-.5 .5 2.2 .4-1.3 .5 0 .4-.3 .5 .4 .4 .5 .5-.6 .4 .2 .5 1.3 .4-.7 .5-.3 .4-.4 .5 .3 .4-.4 .5 .6 .4-.5 .5 0 .4 .2 .5-.4 .4 .8 .5 1.5 .4-1.9 .5-.6 .4 1.6 .5-.6 .4 1.3 .5-.9 .4 .4 .5-1 .4-.5 .5 .9 .4 .5 .5-.8 .4-.5 .5 .7 .4 .1 .5 .1 .4 .2 .5 1.5 .4-1.4 .5-.2 .4-.4 .5 1.2 .4-1.4 .5 1.9 .4-.9 .5-.8 .4 1 .5-.1 .4 .8 .5-1.5 .4 1 .5-.1 .4 .6 .5-1.2 .4 .3 .5 1.7 .4-.8 .5-1.2 .4 1.1 .5-.6 .4 .1 .5-.3 .4 1.4 .5-.9 .4 .5 .5 0 .4-1 .5 .5 .4 1 .5-1.4 .4 1.2 .5-.2 .4 .5 .5 .1 .4 .1 .5-.4 .4 .1 .5-.5 .4 .1 .5 .9 .4-.8 .5 1 .4 0 .5-1 .4 .9 .5-.8 .4 .7 .5-.6 .4 .7 .5-.1 .4-.6 .5 1.9 .4-.7 .5-1.4 .4 1.2 .5-.5 .4 1.6 .5-1.2 .4 .3 .5-.3 .4 .5 .5-.7 .4-.1 .5 .3 .4 0 .5 .7 .4-.3 .5-.2 .4 0 .5-.2 .4 .6 .5-1.2 .4 1.1 .5 .9 .4-.9 .5-.1 .4 .4 .5-.5 .4 .1 .5 1 .4-.8 .5 1.6 .4-.8 .5-.3 .4-.3 .5 .2 .4-1.1 .5 1.5 .4 .5 .5-.2 .4-.5 .5 .6 .4 .1 .5-.4 .4 .3 .5 .4 .4-.3 .5-.4 .4 .3 .5 .1 .4-1 .5 1.1 .4-.2 .5-1.1 .4 .3 .5 2.1 .4-1 .5 .8 .4-3.6 .5 3.8 .4-.5 .5-.7 .4 .6 .5 .8 .4 .5 .5-1 .4-.3 .5-.5 .4 1 .5 .3 .4-.6 .5-.1 .4 2.2 .5-1.7 .4 0 .5-1.2 .4 .8 .5 1.4 .4-1.1 .5 1.5 .4-1.2 .5-.4 .4 .4 .5 1.2 .4-1.7 .5 .6 .4-.4 .5 1.2 .4-1.1 .5 .4 .4-.9 .5 .1 .4 .8 .5-.5 .4 .4 .5 .4 .4 .2 .5-1.1 .4-1.5 .5 2.8 .4-.8 .5-.3 .4 .4 .5 1.4 .4-.9 .5 1 .4-1.1 .5 .9 .4-1.5 .5 .7 .4 .3 .5 1 .4-.7 .5 .4 .4-.9 .5 .1 .4 1 .5 .2 .4-.1 .5 0 .4-1 .5 1.7 .4-1.2 .5 .7 .4-.3 .5-1.4 .4-.1 .5 .2 .4 1 .5 .7 .4-.7 .5 .6 .4-1.2 .5 .4 .4-.1 .5 .6 .4-.7 .5 .7 .4 .5 .5-.6 .4-.3 .5 .3 .4-.4 .5 .2 .4 1.1 .5-.2 .4-1.1 .5 .8 .4 .5 .5 .2 .4-.1 .5 .3 .4-.6 .5 .1 .4-.1 .5 .8 .4-.1 .5 .6 .4-.4 .5-1.1 .4-.4 .5 .1 .4 .4 .5 .9 .4-1.2 .5-.3 .4 1.1 .5 .7 .4 0 .5 .6 .4-1 .5-.3 .4 .2 .5-.6 .4 .4 .5 1.2 .4 .6 .5-.5 .4-.6 .5-.2 .4 .3 .5-1.3 .4 1.6 .5 .1 .4-.5 .5 .1 .4-.4 .5 1 .4 0 .5-2.1 .4 1.3 .5 .6 .4 .9 .5-1.5 .4 .5 .5 .9 .4-.5 .5-.4 .4-.1 .5 .3 .4-.4 .5 1.1 .4-1.1 .5 .9 .4 .2 .5 .3 .4-.7 .5 0 .4 .3 .5-.2 .4 .7 .5-.7 .4 1.3 .5 .5 .4-2 .5 .7 .4-1 .5 1.2 .4-.1 .5-.4 .4-.5 .5 .7 .4 1.2 .5-.2 .4-.7 .5-.5 .4 .3 .5-.4 .4-.3 .5 .3 .4 1 .5-.2 .4 0 .5-.8 .4-.1 .5 1.4 .4-.7 .5 .9 .4-1.1 .5 1.1 .4-.5 .5-.3 .4 0 .5 1.4 .4-.5 .5-.7 .4 .3 .5-1 .4 2 .5-.2 .4-1 .5 .5 .4-1.9 .5 2.3 .4-.3 .5-.1 .4 .4 .5-.3 .4-.7 .5 .1 .4 .4 .5 .7 .4-.5 .5-.4 .4 .6 .5-.9 .4 2 .5-1 .4-.8 .5 .7 .4 .6 .5-.3 .4 1 .5-2.1 .4 1.9 .5-1 .4 .6 .5 .5 .4-1.7 .5-.1 .4 .6 .5-.7 .4-.2 .5 1.3 .4 .7 .5-1 .4 .6 .5 2 .4-2 .5-.4 .4 .2 .5 .3 .4-.4 .5 .7 .4-.3 .5 .5 .4-.5 .5-.1 .4-.5 .5-.2 .4 .7 .5-.1 .4 .5 .5-2.8 .4 2.4 .5 1.6 .4-1.1 .5-1.2 .4 .4 .5 1.3 .4 .1 .5-.4 .4-.8 .5 1.3 .4-1.1 .5-.5 .4 0 .5 1 .4-.3 .5 .8 .4 0 .5 .4 .4-.6 .5-.1 .4 0 .5-.5 .4 0 .5 .1 .4 .6 .5-.6 .4 .5 .5 .7 .4-2.1 .5 1 .4-.1 .5 .7 .4-.9 .5 .5 .4 1.8 .5-2.2 .4 .8 .5 .2 .4-.2 .5-.6 .4 1.4 .5-1.7 .4 .5 .5 .5 .4-.2 .5 1.1 .4-.9 .5-.3 .4 .6 .5 .9 .4-.6 .5-.4 .4 0 .5 .8 .4-.9 .5 .3 .4-.4 .5-.8 .4 1.6 .5 .1 .4-1.1 .5 1.1 .4-.4 .5-1 .4 .6 .5 1 .4 .2 .5-.3 .4 1.4 .5-1.4 .4-.6 .5-.4 .4 1.8 .5-1.2 .4 .1 .5-.2 .4 0 .5 .3 .4 .5 .5 .1 .4-.1 .5 .4 .4-.9 .5-.3 .4 .7 .5-1.2 .4 1.8 .5-.2 .4 0 .5-3.3 .4 2.8 .5 .3 .4-.6 .5 0 .4 .2 .5 .6 .4-.5 .5 1 .4 .8 .5-1 .4-.4 .5-.1 .4 1.2 .5-.7 .4 .2 .5-.2 .4-.5 .5 1.3 .4-1 .5 .2 .4-1.3 .5 2.6 .4-.9 .5-.4 .4-.4 .5 .1 .4-.6 .5 1.3 .4-.8 .5 .8 .4 .1 .5 .9 .4-1 .5 0 .4 .2 .5-.7 .4 .3 .5 .4 .4 .5 .5-.2 .4-.6 .5 .9 .4-.9 .5-.7 .4 1.9 .5-.9 .4-.3 .5-.4 .4 .5 .5 1.3 .4-1 .5 1.4 .4-1.3 .5 .7 .4-.6 .5-.3 .4 0 .5 .2 .4-.6 .5 0 .4 1 .5 .6 .4-.7 .5 0 .4-.5 .5 1.2 .4 0 .5-1.3 .4 .8 .5-.3 .4-.6 .5 1.9 .4 .5 .5-1.3 .4 .7 .5-1.1 .4 .5 .5 .7 .4-1 .5 .4 .4-.8 .5 1 .4 .4 .5-1.3 .4 .1 .5 .5 .4 .9 .5-1.1 .4-.2 .5 .5 .4 .7 .5-1.6 .4 .9 .5 .9 .4-.8 .5-.1 .4 .7 .5-1.2 .4 2 .5-1 .4-.5 .5 .4 .4-.1 .5-.1 .4-.6 .5 .6 .4-.8 .5 1.9 .4-1.5 .5 .2 .4 0 .5 1 .4-.6 .5 1 .4-1.1 .5 .4 .4-.1 .5-.1 .4 .8 .5 .1 .4 .1 .5-1.6 .4 1.1 .5-.9 .4 0 .5-.3 .4 .5 .5 .9 .4 .5 .5 .3 .4-1.6 .5 .2 .4 .5 .5 0 .4 .1 .5-1.2 .4 1 .5 .5 .4-.2 .5-.2 .4-.4 .5 .4 .4 1.1 .5-.7 .4 .4 .5 .4 .4-1.7 .5 1.1 .4-.1 .5 1 .4-1.4 .5 .1 .4-.3 .5 .5 .4-.2 .5 .1 .4 .3 .5-.4 .4-.3 .5 .3 .4-.1 .5 .6 .4 .5 .5-.9 .4-1.2 .5 1.8 .4-.4 .5-.5 .4 .4 .5 1.3 .4-2 .5 .3 .4 .6 .5-1.8 .4 1.6 .5 .9 .4-.2 .5-.1 .4-.4 .5 .1 .4 1.7 .5-1.4 .4 .6 .5-1.5 .4 .9 .5 .1 .4-.1 .5-1.4 .4 1.1 .5 1.1 .4-.5 .5-.8 .4 1 .5-1.6 .4 1.5 .5-.2 .4-.5 .5-.2 .4-.4 .5 .9 .4 1.1 .5-.5 .4-.2 .5 .3 .4-.9 .5 .7 .4-2.1 .5 1.5 .4 0 .5 .3 .4-.1 .5 .5 .4-.7 .5 .9 .4-.7 .5 .7 .4-.4 .5 .4 .4-.2 .5-.6 .4 .5 .5-.9 .4 .8 .5 .2 .4-.4 .5 .1 .4 .7 .5 .2 .4 .1 .5-1.2 .4 .1 .5 .8 .4 0 .5-1.6 .4 2.3 .5-.5 .4-1.4 .5 1.4 .4-.9 .5 .2 .4-.5 .5 .1 .4 .3 .5 .3 .4-.7 .5 3 .4-2.8 .5-1.6 .4 1.5 .5 .2 .4 1.4 .5-2 .4 .2 .5 .8 .4-.3 .5-.3 .4 .9 .5-.9 .4 .1 .5 1.2 .4-.3 .5-.5 .4 .2 .5 .1 .4 .3 .5-.9 .4 1.3 .5-.3 .4 .7 .5-.6 .4 .1 .5-2.4 .4 1.6 .5 1.3 .4-.8 .5-.5 .4 .7 .5-.4 .4 .2 .5-.6 .4 .7 .5 .6 .4-.7 .5 .1 .4-.7 .5 .7 .4-.5 .5-.5 .4 .5 .5 .1 .4 .5 .5 .3 .4-.7 .5-.1 .4 .6 .5-.9 .4 .4 .5 0 .4 .1 .5-.3 .4 1.4 .5-.4 .4-.7 .5-.7 .4 .5 .5-1.3 .4 .5 .5 2.7 .4-1.6 .5 .1 .4 .4 .5-1.3 .4 1 .5-.1 .4 .5 .5-1.1 .4 1.8 .5-.4 .4-.5 .5-.5 .4-.2 .5-.6 .4 .8 .5 .6 .4 .6 .5-.2 .4 .1 .5-1 .4 0 .5-.6 .4 .5 .5-.3 .4 .6 .5 .6 .4-.5 .5-.1 .4 .6 .5 .5 .4-.2 .5-1.7 .4 2.1 .5-1.3 .4-.6 .5 .7 .4 .8 .5-2.2 .4 2.4 .5 2.5 .4-2.9 .5-1.2 .4 .5 .5-.3 .4 1.4 .5-1.2 .4 .7 .5-.6 .4-.6 .5 1.6 .4 .2 .5 .2 .4-1.3 .5 .4 .4 .4 .5-.2 .4-.3 .5 1.6 .4-1.7 .5 .8 .4-.8 .5 1.2 .4-1 .5-.9 .4 1.5 .5-.4 .4-.3 .5 .2 .4-.3 .5 .7 .4-.1 .5 .8 .4-1.3 .5 1.2 .4-.5 .5-1.1 .4 1.3 .5-1.5 .4 1.4 .5-1.5 .4 1.3 .5-.3 .4-.7 .5-.2 .4 .7 .5 1.2 .4-.3 .5-.4 .4-.1 .5-.2 .4 1.2 .5-.8 .4 .7 .5-1.6 .4 0 .5 1.8 .4-1.4 .5 .5 .4 .4 .5 .3 .4-.2 .5 0 .4-2.2 .5 2.1 .4 .4 .5-.5 .4 0 .5 1.1 .4-1.3 .5-1.3 .4 1.6 .5 0 .4 1.1 .5-1.4 .4-.4 .5 .8 .4 1 .5-2.1 .4 1.8 .5-.4 .4 .1 .5-.9 .4 .5 .5-.5 .4 .5 .5-.4 .4 1.1 .5-1 .4 .2 .5-1.2 .4 .8 .5 2.1 .4-1.7 .5-.7 .4 1 .5-.2 .4-.1 .5 .1 .4-.1 .5 .9 .4-1.3 .5 .9 .4 .4 .5-1 .4 1.9 .5-.6 .4-.8 .5-.3 .4 .9 .5-1.5 .4 1.4 .5 1 .4-1.1 .5 .3 .4-1 .5 1 .4-.9 .5 .2 .4 .3 .5 1.2 .4-1.5 .5-.8 .4 1.2 .5 .5 .4-.1 .5-.2 .4 .7 .5-.2 .4-.1 .5-.8 .4-.6 .5 1.9 .4-1.5 .5 1.4 .4-.1 .5-1.4 .4 .3 .5 .7 .4 .4 .5-1.2 .4 .4 .5-.4 .4-.1 .5 .8 .4-.3 .5-1 .4 1.5 .5-.4 .4 0 .5-.6 .4 1.3 .5-.2 .4 0 .5-.2 .4 .2 .5 .8 .4-.8 .5 0 .4-.4 .5 .7 .4-.5 .5-.3 .4 1.1 .5-.7 .4 .9 .5-1.2 .4 .1 .5-.3 .4 1.5 .5-.5 .4-1.2 .5 1.6 .4-.9 .5 .4 .4-.4 .5 .5 .4 0 .5 .2 .4 .1 .5-2.1 .4 1.3 .5 .3 .4-.1 .5-.5 .4 .4 .5 .1 .4-1.1 .5 .7 .4 1 .5-.9 .4 .4 .5 .1 .4 .3 .5 .2 .4 .2 .5-.6 .4 .1 .5-.2 .4 .2 .5-.1 .4 .5 .5 0 .4-1.2 .5-.6 .4 1.7 .5-.6 .4-.6 .5 1.5 .4 .4 .5-1.6 .4 .1 .5 .2 .4-.1 .5 .5 .4-.6 .5 .7 .4-.3 .5 .9 .4-.7 .5 .7 .4 .3 .5-.5 .4 .1 .5-.7 .4 .3 .5 1.4 .4-.6 .5-.7 .4-.3 .5 .2 .4 .7 .5-1.9 .4 1.4 .5-.9 .4 1.7 .5-1.7 .4 1.4 .5-.7 .4 .2 .5 1 .4-1 .5 .4 .4-.1 .5-.9 .4 .6 .5 .7 .4-.4 .5-.1 .4-.5 .5 1.4 .4-1.3 .5 1.5 .4-1 .5 .3 .4-1.2 .5 .9 .4-.6 .5 .6 .4 .7 .5-.5 .4 0 .5 .4 .4-1.3 .5 .8 .4-.4 .5 1 .4-1 .5 1.4 .4 .3 .5-2.5 .4 1.2 .5-.9 .4 1.7 .5-1.2 .4 .9 .5-.2 .4-.7 .5-.4 .4 1.7 .5-1.1 .4 .6 .5 .7 .4-.1 .5-.9 .4-.5 .5 .9 .4-.7 .5-.5 .4 .7 .5-.1 .4-.6 .5 .9 .4 .7 .5-.2 .4 .9 .5-.5 .4-.5 .5-1.4 .4 1.4 .5 .6 .4-.9 .5 1.1 .4-1.5 .5 .8 .4 .3 .5 .6 .4-1.1 .5 1.3 .4-1.4 .5-.9 .4 1 .5 1 .4-1.1 .5 1.3 .4-1.2 .5 1.3 .4-2.5 .5 3.1 .4-3 .5 1.3 .4-.7 .5 .9 .4-.3 .5 0 .4 .6 .5 .2 .4-.8 .5 1 .4-1.8 .5 .4 .4-.2 .5 1.2 .4 .2 .5-.8 .4-.1 .5-.3 .4 1.2 .5 .3 .4-1.1 .5 .3 .4-.2 .5 .3 .4 .3 .5-1.7 .4 1.1 .5 .9 .4-1.1 .5 1.4 .4 .1 .5-1.5 .4 .1 .5 1.3 .4-1.8 .5 .4 .4-.3 .5 1 .4 .2 .5 .1 .4-.1 .5-1 .4 1.6 .5-.8 .4-.2 .5 1.3 .4-.9 .5 .1 .4 .3 .5 .8 .4-1.3 .5 .5 .4-1.9 .5 .9 .4 1.9 .5-.1 .4-1.3 .5-.4 .4-.3 .5 .1 .4 .4 .5-.7 .4 1 .5 0 .4-.7 .5 0 .4 .1 .5 .4 .4 .2 .5 .5 .4-1.4 .5 .9 .4 .2 .5 .2 .4 .4 .5-.8 .4 1 .5 .7 .4-1.1 .5 .7 .4-.4 .5-.3 .4-.4 .5 .3 .4 1.1 .5-1.2 .4-.5 .5 .2 .4 .8 .5-.9 .4 1 .5-.1 .4-.3 .5 .9 .4-1.8 .5 .5 .4 .2 .5 .4 .4-1.1 .5 .5 .4 1.2 .5-1.1 .4 .9 .5-.7 .4-.3 .5 .7 .4 .5 .5-.8 .4-.8 .5 .4 .4 .2 .5 .1 .4-.4 .5 1 .4-1 .5 1.2 .4-1.2 .5 .1 .4 1.3 .5-.3 .4-.6 .5-.2 .4 .3 .5 .2 .4 .1 .5 .5 .4-1.1 .5 .5 .4 0 .5-.8 .4 1.5 .5 .4 .4-1.1 .5-1 .4 .6 .5 1.6 .4-2.4 .5 .1 .4 .9 .5 .6 .4 1.1 .5-.8 .4-2 .5 1.1 .4-.2 .5 0 .4 1.1 .5-.3 .4-.7 .5 .7 .4 0 .5 .6 .4-1.1 .5 .8" fill="none" stroke="#4458A8" stroke-width="3.8" stroke-linejoin="round"/>
<path d="M1191.9 91.1l.5 56.9 .4 14.1 .5 7.6 .4 8.7 .5 9.6 .4 9.1 .5 8.1 .4 7.1 .5 6.7 .4 6.2 .5 5.6 .4 5.1 .5 4.7 .4 4.2 .5 3.7 .4 3.6 .5 3.2 .4 3.8 .5 2.8 .4 3.2 .5 2.7 .4 3 .5 2.5 .4 2.2 .5 2.7 .4 1.6 .5 2.9 .4 1.3 .5 2.7 .4 2.3 .5 1.9 .4 1.8 .5 1.9 .4 2.2 .5 2.5 .4 1.9 .5 1.4 .4 1.4 .5 2.7 .4 .8 .5 2.3 .4 1.7 .5 2.6 .4 1.5 .5 2 .4 1.8 .5 1.3 .4 2.6 .5 2.4 .4 1.1 .5 2.4 .4 1.6 .5 2.9 .4 2.1 .5 2.4 .4 2 .5 3.2 .4 1 .5 2.4 .4 2.1 .5 3.3 .4 1.4 .5 2.2 .4 3.4 .5 2.6 .4 1.7 .5-.6 .4 3.5 .5 1.9 .4 1.8 .5 2.6 .4 3.8 .5-.2 .4 1.3 .5 3 .4 .9 .5 1.5 .4 .7 .5 2 .4 1.8 .5-1.1 .4 1.6 .5 4.1 .4 1 .5-.3 .4 .6 .5 2.1 .4-.1 .5 2.1 .4 3.5 .5-.7 .4 2.3 .5-.6 .4 1.8 .5 2.3 .4-2.3 .5 2.3 .4 1.3 .5 1.6 .4 2.6 .5 0 .4-1.7 .5 2.6 .4 .2 .5 1 .4 4.7 .5-2.9 .4 2.7 .5-.3 .4 3 .5 .3 .4 .7 .5 .7 .4 2.5 .5-1.7 .4 1.2 .5 .5 .4 3.9 .5-1.1 .4 2.5 .5-.8 .4 4.6 .5-2.4 .4 2.1 .5 .4 .4 .3 .5 0 .4 1.4 .5 .8 .4-1.4 .5 6.8 .4-1.2 .5-.1 .4 .5 .5 .1 .4 3 .5-.5 .4 1.6 .5-1.4 .4-3.5 .5 9.4 .4-2 .5 2.3 .4-.1 .5 2.2 .4 .8 .5-.4 .4 .1 .5 1.9 .4 .6 .5 0 .4 2.2 .5 .8 .4-.8 .5 1.9 .4 4.6 .5-1.8 .4-.1 .5 3.9 .4-2.9 .5-1.8 .4 1.6 .5 1.2 .4 3 .5 1.7 .4-3.2 .5 4.9 .4-2.2 .5 2.6 .4 1 .5 .7 .4 .2 .5 .9 .4-1 .5 2.5 .4 1.5 .5 .6 .4 2.8 .5-1.3 .4 .2 .5 1.8 .4-1.1 .5-1.3 .4-.5 .5 5 .4-.3 .5 1 .4-.9 .5 1.5 .4 2.5 .5-1.3 .4-1.2 .5 1.4 .4 2.9 .5-2.5 .4-1.2 .5 .9 .4 1.8 .5 3.3 .4-.3 .5-.5 .4-.1 .5 2.1 .4 .5 .5 .1 .4 1 .5 0 .4 3.8 .5-4.7 .4 3.7 .5-.8 .4 2.8 .5-.6 .4 1.3 .5 .8 .4 .2 .5 1.6 .4-2.4 .5 3.5 .4-.9 .5 1.3 .4 2 .5 0 .4 1.7 .5-4.8 .4 2.2 .5 2.9 .4-2 .5 1.7 .4 2.9 .5-.6 .4-1.7 .5 2.2 .4 .8 .5-.3 .4 .3 .5 .8 .4-1.6 .5 2.5 .4-.9 .5 2.2 .4 .5 .5-1.2 .4 2.3 .5 .1 .4 0 .5 1.4 .4-.9 .5 .5 .4 .8 .5 .3 .4 1.9 .5-4 .4 3 .5-1.7 .4 2.2 .5 1.4 .4 .1 .5 1.6 .4-.5 .5-3.4 .4 2.4 .5 3.7 .4 .4 .5-1.4 .4-1.7 .5 5 .4-5 .5 3.4 .4-.1 .5 .7 .4-2.1 .5 2 .4 2.3 .5-1.7 .4-.7 .5 2 .4 .5 .5 .1 .4-.5 .5 2 .4-.5 .5-1 .4 2.1 .5 0 .4 .5 .5-1.9 .4 1.4 .5 1.9 .4 .9 .5-.4 .4 .1 .5 1 .4 .7 .5 1.3 .4-1.3 .5-1 .4 1.6 .5-2.7 .4 2.8 .5-.3 .4 .8 .5 .9 .4-.2 .5-1.6 .4 1.7 .5-.3 .4 1.3 .5 .8 .4-1.4 .5 2.4 .4 1.1 .5-1.7 .4 1.5 .5-2.4 .4 1.4 .5 2.2 .4-3.1 .5 1.9 .4-.2 .5 2.8 .4 .3 .5-1.9 .4 1.2 .5-3.1 .4 4.6 .5-.3 .4 1.5 .5-4.3 .4 3.7 .5-.6 .4-2.5 .5 2.7 .4 1 .5 1.4 .4-.5 .5-.6 .4 1.5 .5-.4 .4-.3 .5-.2 .4 1.7 .5 .3 .4 2.4 .5-2.6 .4-1.7 .5 3.3 .4 1.3 .5-2.3 .4 .4 .5 .9 .4 1.8 .5-.6 .4 1 .5-.2 .4 1.1 .5-.7 .4-.6 .5 1.5 .4-.2 .5 2.3 .4-2.1 .5 .7 .4-.3 .5 2.1 .4-.1 .5 0 .4-2.1 .5 0 .4 2.5 .5 .8 .4 1.2 .5-3.8 .4 2.3 .5-1.6 .4 1.2 .5 1.2 .4 1.7 .5-1.6 .4-3.2 .5 4 .4 2.3 .5 1.7 .4-4.7 .5 1.9 .4 0 .5 2.3 .4-.6 .5 1.6 .4-2.9 .5 1.6 .4-.4 .5-.5 .4 1.5 .5-1.1 .4 4.5 .5-1.9 .4-1.5 .5 .7 .4 3.2 .5-2.5 .4 1.8 .5 .1 .4 .9 .5-.3 .4-.8 .5-.2 .4-1.2 .5 2.4 .4 .5 .5-.4 .4 .5 .5-1.1 .4 4.5 .5-3.1 .4-.4 .5 .8 .4 .8 .5 1.4 .4-3.7 .5 3.9 .4-1.2 .5 .8 .4 1.7 .5-.1 .4-1.5 .5 .9 .4 2.7 .5-.4 .4-.4 .5 2.2 .4-1.6 .5-.5 .4-1 .5-.4 .4 2.2 .5 0 .4 1.2 .5-1.9 .4 2.6 .5-2 .4 2.2 .5-.7 .4-1.2 .5-.2 .4 1.2 .5 0 .4 1.7 .5-1.8 .4-.8 .5 2 .4 2.6 .5-.2 .4-6.7 .5 4.7 .4 1 .5-.4 .4 0 .5 .2 .4-.8 .5 .7 .4 .4 .5 1.1 .4-1.6 .5 1.8 .4-1.2 .5 .4 .4-.2 .5 6.6 .4-3.3 .5 .3 .4-.5 .5-1.1 .4 .5 .5 .5 .4 .3 .5 .4 .4 1.3 .5-5.4 .4 3.2 .5 1.7 .4-1.1 .5 .4 .4 2.2 .5-1.4 .4 2.1 .5-2.1 .4 .5 .5-1.4 .4-1 .5 2.1 .4 .8 .5-.3 .4-1.1 .5 2.6 .4-.5 .5 .1 .4-.9 .5 3.2 .4 0 .5-1.3 .4-.4 .5 .6 .4 2 .5 1.5 .4-3.3 .5-.4 .4-1.6 .5 6 .4-4.8 .5 2.7 .4-.3 .5 1.2 .4-2.6 .5-.8 .4 2.3 .5 .5 .4 1.1 .5-3.4 .4 1.7 .5 .4 .4-1.2 .5 1.6 .4 1.4 .5-.9 .4-1.6 .5 2.4 .4 .8 .5-.3 .4 1.3 .5-3.7 .4 2.8 .5 .3 .4-1 .5 .5 .4-.7 .5 2.6 .4-1.7 .5-.7 .4 1.6 .5 0 .4 .9 .5-1.7 .4 .3 .5 1.5 .4 2.5 .5-2.1 .4-2.1 .5 2.1 .4-1.1 .5-1.2 .4 1.7 .5 .2 .4 1.4 .5 1.3 .4 0 .5-.3 .4-1.4 .5 .9 .4-.1 .5 2 .4-2.5 .5 .3 .4 2.7 .5-1 .4-1.1 .5 .9 .4 .2 .5 .2 .4 .9 .5-.4 .4-.6 .5-.2 .4-1.4 .5 1.8 .4 2.1 .5-1 .4-1 .5 .7 .4-.6 .5 1.5 .4 2.3 .5-.1 .4-.6 .5-.4 .4-1.1 .5-1.1 .4 1.7 .5-.5 .4 1.8 .5-.7 .4-.8 .5 1.4 .4 3.2 .5-4.6 .4 2.6 .5-.5 .4-.7 .5-.7 .4 1.1 .5 .4 .4 .8 .5 .1 .4-.4 .5-1.1 .4 1.4 .5-.9 .4-.6 .5 2.6 .4-2.8 .5 .4 .4 1.8 .5-2.4 .4 2.4 .5 .8 .4-1 .5 1 .4 2.5 .5-.8 .4-.5 .5-.3 .4-1.3 .5 .6 .4 0 .5 .5 .4 .2 .5-1 .4 3.1 .5-3.2 .4 1.9 .5 1 .4-1.3 .5-.6 .4 1 .5 2.5 .4-1.6 .5-1 .4 1.2 .5-.9 .4-1.9 .5 2.7 .4 1.1 .5 .3 .4-1.4 .5-1.6 .4 3.4 .5-1.6 .4 1.2 .5 .6 .4-.9 .5-.4 .4-.6 .5 .4 .4 .7 .5-.5 .4 1.1 .5-2.8 .4 1.3 .5 1.3 .4-.7 .5 .3 .4-.6 .5 2.3 .4 1.3 .5-3.2 .4 2.8 .5-3.1 .4 2.1 .5-2.6 .4 3.2 .5-.5 .4 .3 .5 1.4 .4-.6 .5-.7 .4-.9 .5 1.2 .4-.9 .5 .5 .4 2.5 .5-.7 .4-.6 .5 .5 .4-2.5 .5 2 .4-2.1 .5 1.4 .4 1.4 .5 .1 .4 .5 .5-.6 .4-.1 .5 .1 .4 1.8 .5 0 .4-3.4 .5 2.1 .4 1.6 .5-1.9 .4 .7 .5-.9 .4-.7 .5 1.8 .4-.6 .5 .4 .4-1.5 .5 .4 .4 1.4 .5-.3 .4 1.3 .5-1.9 .4 4.9 .5-2.7 .4-.5 .5 .8 .4-.8 .5-.1 .4 .3 .5-1.4 .4 1.6 .5 1.1 .4-2.9 .5 3 .4-1.6 .5 .4 .4 .7 .5 .3 .4 1.5 .5-1.8 .4 2.4 .5-2 .4 .6 .5 .4 .4-1.6 .5-.5 .4 1.7 .5 .8 .4 .3 .5-1.4 .4 2.7 .5-2.3 .4-.5 .5 2.4 .4 .1 .5-2.6 .4 2.4 .5-2.6 .4 1.8 .5 2.9 .4-1.2 .5-.6 .4 0 .5-1.7 .4 1.5 .5 .3 .4-1.8 .5 1.7 .4 .5 .5-.3 .4 .3 .5-.7 .4-1 .5 1.5 .4-2.3 .5 1.6 .4 2.3 .5 1 .4-1.7 .5-3.4 .4 4.8 .5-.9 .4-.9 .5 1.3 .4-.2 .5-2 .4-6.5 .5 9.4 .4-4.1 .5 3.7 .4-.2 .5 .9 .4 1 .5-.4 .4 .4 .5-.8 .4-.3 .5 .8 .4-1.3 .5-1 .4 1.1 .5-1.8 .4 1.4 .5 3.3 .4-1.8 .5-.8 .4-.4 .5-1.4 .4 1.6 .5-.2 .4 1.1 .5 .2 .4-.1 .5-2.2 .4 4.2 .5-1.1 .4-.5 .5-.3 .4 1 .5 1.1 .4-.7 .5-2.1 .4 0 .5-1.3 .4 3.2 .5 .8 .4 .7 .5-1.3 .4 1 .5-2.1 .4 1.9 .5-.7 .4-.6 .5-1.2 .4 3.6 .5-4.1 .4 3.6 .5-1.7 .4 1.9 .5-1.4 .4 1.8 .5-1.2 .4-.9 .5 .7 .4-1.2 .5 2.4 .4 1.1 .5-.7 .4-.3 .5 1.6 .4-3 .5 2.2 .4-.6 .5-.5 .4 1.4 .5-2 .4 1.3 .5 .7 .4-1.8 .5 1.3 .4 4.1 .5-2.5 .4-2.3 .5 2.4 .4-1.4 .5 .6 .4-.7 .5 1.7 .4-1.7 .5 1.3 .4 .2 .5 .6 .4-2.2 .5 2.4 .4-.9 .5 1.9 .4-2.2 .5-.1 .4 .7 .5-.2 .4 .2 .5-1.3 .4-.9 .5 .9 .4 1.1 .5 1.4 .4-.8 .5-.8 .4 1.1 .5 .4 .4 3.5 .5-1.8 .4-1.3 .5-2 .4 1.7 .5 0 .4 1.1 .5 2.1 .4-2.7 .5-2.3 .4 2.4 .5-1.8 .4 3.2 .5 .4 .4-.9 .5-2.2 .4 1.8 .5 1.8 .4-2.7 .5 .6 .4 1.1 .5 .4 .4-.4 .5 .4 .4-.1 .5-.9 .4 .7 .5 .6 .4-1.7 .5 1.7 .4 0 .5 .5 .4 0 .5-1.7 .4-.2 .5 2 .4-.4 .5 .4 .4-.7 .5-.9 .4 2.1 .5-.5 .4 1.2 .5 .5 .4 .1 .5 0 .4-2.4 .5-1.3 .4 1.9 .5-.6 .4-.1 .5 2.6 .4-2.8 .5 3.2 .4 .3 .5 2.1 .4-2 .5 1.4 .4-5.4 .5 2.1 .4 2.2 .5-2.8 .4 3.2 .5-1.7 .4-2.1 .5 5.6 .4-4.3 .5 4.6 .4-4.9 .5 .8 .4 1.5 .5-.2 .4-1.9 .5 2.2 .4 .1 .5 .5 .4-2.5 .5 1.3 .4 .7 .5 1.2 .4-.7 .5-.6 .4 0 .5 2.5 .4-2.8 .5 1.5 .4-3 .5 4.9 .4-1.5 .5-2.7 .4 3 .5 1.1 .4-.6 .5-.9 .4 1.1 .5-2 .4 .7 .5 0 .4 .6 .5-1.3 .4 3.1 .5-1.8 .4-1.1 .5 1.1 .4 .9 .5-.4 .4 1.4 .5-1.7 .4-.4 .5 1.6 .4 1.1 .5-2.7 .4-.7 .5 1.2 .4 .8 .5-1.1 .4 1.6 .5-1.2 .4 2.2 .5-2.5 .4 .4 .5 1.4 .4 .8 .5 .4 .4-2 .5 1 .4 .7 .5 1.2 .4-2.8 .5-.4 .4 2.3 .5-.9 .4 2.1 .5-1.6 .4 .5 .5-1.3 .4 1.4 .5 1.2 .4-1.7 .5-1.1 .4 2.6 .5-1.4 .4 .6 .5-.9 .4 2.1 .5-2 .4 .4 .5 .7 .4-.2 .5-2.5 .4 3.4 .5-1.9 .4 1.8 .5-.7 .4 .4 .5-.7 .4-.4 .5 1.6 .4 .2 .5 1 .4-.5 .5-1.5 .4 2.4 .5 1.4 .4-1.8 .5-1.1 .4-.9 .5 1.4 .4-1.8 .5 2.8 .4-1.4 .5-.2 .4 1.1 .5-1.8 .4-.6 .5 1.7 .4 2.1 .5-2.5 .4 2.2 .5-3.3 .4 2.3 .5 .7 .4 1.7 .5-4.4 .4 2.2 .5-1 .4 1.6 .5-1 .4 .8 .5-1 .4 .3 .5 1.3 .4 1.4 .5-1.5 .4-.1 .5-.7 .4 2.6 .5-4.3 .4 0 .5 1.6 .4 1.5 .5 .7 .4-.4 .5 .3 .4-.7 .5-.7 .4-.7 .5 1.9 .4-1.6 .5 1.7 .4 .5 .5-1.7 .4 .3 .5-.1 .4 1.6 .5-.6 .4-.9 .5 1.2 .4 2.5 .5-2.4 .4 .6 .5-1.3 .4-.7 .5 1.3 .4 .1 .5-.4 .4 1.9 .5-1.7 .4 .1 .5 .5 .4 .5 .5-2.9 .4 2.6 .5 1.3 .4-2.9 .5 2 .4-1.1 .5-.6 .4 1.6 .5-.4 .4-2.4 .5 1.9 .4 1.8 .5-1.7 .4-.1 .5 .5 .4-.1 .5 1.6 .4-2 .5-.3 .4 2 .5 .7 .4-.1 .5 0 .4-1.8 .5-.9 .4 1 .5 .8 .4-2 .5 1.8 .4 1.1 .5-1.5 .4 3.3 .5-1.5 .4-2.4 .5 .2 .4 .5 .5 1.8 .4-.2 .5-1.3 .4 1 .5-3.2 .4 3.7 .5-2.6 .4 .7 .5 .2 .4-1 .5 3.3 .4-1.9 .5 0 .4-4.3 .5 5.6 .4 .3 .5 .2 .4 .7 .5-2.6 .4 3.2 .5 1.1 .4-3.7 .5 .2 .4 1.2 .5 .8 .4-1.8 .5-.7 .4 3.6 .5-3.1 .4-2.8 .5 4.1 .4 .6 .5 .9 .4 .1 .5 1.6 .4-4.5 .5-.5 .4-.5 .5 3.9 .4-2.6 .5-1.6 .4-.4 .5 2.7 .4-.7 .5 1 .4-1.5 .5 .2 .4 1.5 .5-.8 .4 1 .5-.9 .4-.2 .5 .8 .4-.8 .5 .6 .4 .4 .5-1.2 .4 .5 .5 .3 .4 .7 .5-.5 .4 0 .5 .3 .4-1 .5 .9 .4-1.4 .5-1.3 .4 2.8 .5-3 .4 2.3 .5 2.1 .4-1 .5-2.1 .4 2.1 .5-.6 .4-1.3 .5 .9 .4-7.6 .5 7.4 .4 .8 .5-2.3 .4 3 .5 1.4 .4-2.7 .5-1 .4 .7 .5 2.1 .4-2.2 .5 1.3 .4 2.2 .5-3.7 .4 1 .5-.8 .4 .3 .5 .6 .4-1.1 .5 1.5 .4-.3 .5 1.2 .4-.6 .5-.3 .4 1.4 .5-2.1 .4 1 .5-1.6 .4 2.6 .5-2.7 .4 2.2 .5-2.1 .4 1.2 .5-1.6 .4 .4 .5-.3 .4 1.8 .5 .1 .4 .3 .5-.4 .4-.8 .5 1.1 .4 1.2 .5-2.4 .4-.5 .5 1.7 .4 1.8 .5-2.6 .4-.3 .5-.8 .4 .3 .5 0 .4-.2 .5 2.5 .4 .3 .5-1.5 .4 .1 .5 .9 .4-1 .5 .1 .4 .6 .5-.7 .4 1.6 .5 2.5 .4-4 .5 .3 .4-1.3 .5 5.8 .4-4.7 .5 .5 .4-.8 .5-1.2 .4 1.5 .5-.7 .4 1.2 .5-.7 .4 .1 .5 .1 .4-2.5 .5 4.1 .4-2.6 .5 1.6 .4 .2 .5-1.3 .4-1 .5 2.4 .4-1.8 .5 1.1 .4 .7 .5-1.2 .4-1.5 .5 1.3 .4 1.5 .5-1.6 .4 2.1 .5-2.9 .4 .7 .5-.9 .4 1 .5 3.1 .4-1.2 .5-1 .4-.4 .5 2.2 .4-1.5 .5-1 .4 3.2 .5-3.6 .4 1.9 .5 .7 .4 .4 .5 1.3 .4-1.4 .5-1.6 .4 2.1 .5-1 .4-1.9 .5 .3 .4 .3 .5-1.6 .4 3.3 .5 .2 .4-.1 .5-1.6 .4 1.1 .5 1.6 .4-1 .5-.6 .4-.7 .5 .9 .4 1.7 .5-1.5 .4 2.9 .5-3.6 .4 1.7 .5-2.9 .4 1.8 .5 1.9 .4-2.2 .5-.1 .4 .9 .5 3.4 .4-3.9 .5-1.8 .4 2.8 .5 .2 .4 .5 .5-.8 .4 .4 .5-1 .4 1.8 .5-1.2 .4 .7 .5-1.5 .4 2.7 .5-1.4 .4-.8 .5 .6 .4-1.3 .5 .6 .4 1.8 .5-.2 .4 .3 .5-.1 .4-1.2 .5 .5 .4 2.2 .5-2.4 .4-1.8 .5 1.9 .4-.4 .5 .4 .4 .2 .5-1.3 .4 1.8 .5-.7 .4 1 .5-1.6 .4-.4 .5 .7 .4 2.7 .5-4.3 .4 3.6 .5-1.4 .4 1.5 .5-1.9 .4 1 .5 0 .4 2.2 .5-2.8 .4 .5 .5-1.2 .4 1.3 .5-1.3 .4 .8 .5 .7 .4 .2 .5-1.8 .4 .1 .5 2.7 .4-2.2 .5 .9 .4-.6 .5-1.6 .4 1.9 .5 0 .4 2.3 .5-4.5 .4 1.7 .5 1.5 .4-1.5 .5-2 .4 3.5 .5-.5 .4-1.3 .5-.1 .4 .4 .5 1.1 .4-.5 .5 4.6 .4-3.9 .5 .9 .4-2 .5 2.7 .4-1.9 .5 .7 .4-.2 .5 .1 .4-.3 .5-3.1 .4 1.7 .5 2.3 .4-2.4 .5 1.4 .4-2 .5 1.2 .4 2.6 .5-1.5 .4-1.4 .5 .3 .4-1.3 .5 2.7 .4-.9 .5 1.2 .4 .1 .5-1.3 .4-.8 .5-.3 .4 1 .5 .5 .4 1.7 .5-2.8 .4 1.7 .5-1.8 .4 .6 .5 1.7 .4-.3 .5-1.3 .4-.1 .5 2.2 .4-1.6 .5-.2 .4-.9 .5 4.5 .4-.8 .5-1.6 .4 2.1 .5-2.1 .4-1 .5 1.1 .4 1.1 .5-3.1 .4 2.9 .5 0 .4 .4 .5-1.2 .4 .8 .5-3.5 .4 2.1 .5 1.4 .4-.6 .5-.3 .4-1.9 .5 1.4 .4-1.9 .5 1.9 .4 .7 .5-1 .4 1.2 .5-.5 .4 1.1 .5-1.5 .4-1.6 .5 .5 .4 .6 .5 1 .4 .2 .5-1.1 .4 1.1 .5-.9 .4 1.6 .5-2.4 .4 3.2 .5-1.1 .4-.8 .5 5.2 .4-4 .5-1.4 .4 1.6 .5 1.5 .4-2 .5 .1 .4 .4 .5-1.3 .4 3.1 .5-2.6 .4 1.2 .5-.4 .4-1.1 .5 2.4 .4-1.2 .5-1.2 .4 0 .5-1.5 .4 1.1 .5 2.4 .4 .1 .5-2.2 .4 1.9 .5 .5 .4-.2 .5 .6 .4-3.9 .5 2.7 .4-1.4 .5 2 .4-1.7 .5 1.1 .4 1 .5-3 .4 1.1 .5 0 .4 .9 .5-1.9 .4 2.9 .5 1.5 .4-2.7 .5 1 .4-4 .5 1.9 .4 2.3 .5-.4 .4 .5 .5 .8 .4-1.5 .5-.4 .4-.2 .5 .7 .4-2.7 .5 4.5 .4-4.5 .5 .7 .4 2.1 .5 1.1 .4-.4 .5 1.2 .4-2.4 .5-.2 .4 1.5 .5-2.1 .4 1.7 .5 .4 .4-.2 .5-2.9 .4 2.3 .5-7 .4 8.4 .5-1.6 .4 1.8 .5 .5 .4-3.3 .5 2.8 .4-.6 .5 1.4 .4-3.4 .5 0 .4 .7 .5-1.3 .4 2.5 .5-1.1 .4 1.2 .5 .2 .4 .7 .5-2.7 .4 2.6 .5 0 .4-2.1 .5 .5 .4-1 .5 3.3 .4 .2 .5-3.7 .4 2 .5 .6 .4 .4 .5-.9 .4 2.2 .5-3.2 .4 2.2 .5-.9 .4 .3 .5-1.3 .4-1.2 .5 1.5 .4 1.3 .5-1.6 .4-1 .5 1.9 .4 3.3 .5-4.3 .4 1.1 .5 .7 .4-.2 .5 .9 .4 .3 .5-1.5 .4-.9 .5-1.1 .4 3.4 .5-.8 .4 .9 .5-2.3 .4 1.2 .5-1.1 .4-.1 .5-.7 .4 1.6 .5 .9 .4 .3 .5-.6 .4-.6 .5 2.9 .4-.6 .5-.6 .4-1.1 .5 1.4 .4-2.5 .5-.6 .4 2.4 .5-.6 .4 1.1 .5-2.2 .4 1.3 .5-1.6 .4 .9 .5 1 .4-.6 .5-1.1 .4-.6 .5 1.3 .4-.6 .5-.6 .4 1.9 .5-1.2 .4 2.7 .5 1 .4-1.1 .5 2.1 .4-5 .5-.6 .4 2 .5-2 .4 2.4 .5 .9 .4-.1 .5 .3 .4-1.5 .5 .2 .4 .4 .5-.3 .4 1.2 .5 2.2 .4-3.4 .5-.8 .4 2.1 .5-1 .4 0 .5-.7 .4-1.6 .5 1.7 .4-2.2 .5 2.7 .4-1.5 .5 3.2 .4-2.4 .5 .7 .4-.5 .5-.8 .4-.4 .5-1.2 .4 2.3 .5-1.7 .4 4 .5-3 .4 .8 .5 .8 .4-.2 .5 1.7 .4-1.5 .5-.5 .4 .5 .5 2.1 .4-1 .5-3.3 .4 2.2 .5-.9 .4 1.2 .5 .8 .4-.8 .5 .8 .4 1.3 .5-4.2 .4 2.1 .5 .2 .4 .5 .5-.4 .4 1 .5-1.1 .4 .6 .5-2.5 .4 2.2 .5-1.7 .4 2.2 .5 1.5 .4-2.2 .5 .6 .4 .4 .5 .9 .4-.7 .5 .5 .4-2.1 .5 .6 .4-1.7 .5 4.6 .4-4.2 .5 2.6 .4-.9 .5 0 .4-1.6 .5 1.4 .4 .2 .5 .4 .4-.9 .5 .8 .4-1.5 .5 2.7 .4-2.3 .5 5.4 .4-4.9 .5-.4 .4 1.1 .5-.4 .4 1.6 .5 .2 .4-2.3 .5 0 .4-.1 .5 1.6 .4 .7 .5-.4 .4-1 .5 .3 .4 .8 .5 .7 .4-1.5 .5 1.5 .4-1.8 .5 .7 .4 1.2 .5-2.5 .4-1 .5 .8 .4 1.2 .5-1.1 .4 1.2 .5 1.9 .4-2.2 .5 2.2 .4-.6 .5-2.3 .4 2.5 .5-.1 .4 .2 .5-.9 .4 .1 .5-1 .4-.4 .5 1.1 .4 .9 .5-1.5 .4 2.8 .5-2.6 .4 1 .5-2 .4 3.6 .5-1 .4 .8 .5-3.1 .4-1.1 .5 3.3 .4-1.4 .5 .3 .4-1.3 .5 1.7 .4 1.4 .5-2.2 .4 1.6 .5-2 .4-1.7 .5 3.1 .4 2.1 .5-.3 .4-2.3 .5 2.4 .4-3 .5 1.9 .4-.8 .5 1.7 .4-1.4 .5-.3 .4 1.8 .5-2.1 .4 1.7 .5 1 .4-2.6 .5 1.1 .4 .4 .5-2.8 .4 1.6 .5 0 .4 0 .5-.4 .4 2.7 .5-2.7 .4 1.1 .5 .9 .4 1.2 .5-3.9 .4 .4 .5 .3 .4 1 .5 1.5 .4-1.3 .5 .4 .4 1.8 .5-2.3 .4 .6 .5 2.3 .4-1.4 .5-1.7 .4 0 .5 2.2 .4-2.8 .5 .3 .4 2.2 .5 .7 .4 .4 .5-3.3 .4 1.9 .5-4.7 .4 3.1 .5 4.8 .4-1.7 .5-1.1 .4-2 .5-.4 .4 3 .5-1.5 .4-.8 .5 1.9 .4 0 .5-1.7 .4 .4 .5 3.3 .4-3.9 .5 2.5 .4-2.1 .5-.2 .4-.2 .5 1.2 .4 .1 .5 1 .4-1.8 .5 1.4 .4-1.2 .5-.1 .4 1.7 .5-.2 .4-2.5 .5 2.2 .4-2 .5 .5 .4 3.4 .5-.4 .4-1.9 .5 1 .4 .9 .5 .6 .4 0 .5-3.1 .4 .9 .5 .3 .4-3.2 .5 2.1 .4 1.5 .5-.8 .4-.4 .5-.7 .4 .8 .5 .7 .4-.4 .5 1.9 .4-.4 .5-2.6 .4 2.8 .5-1.1 .4 .9 .5-1.7 .4 1.9 .5-1.9 .4 2.1 .5-1.2 .4-.3 .5-1.3 .4-.3 .5 3.1 .4-2.5 .5 0 .4 2 .5-.5 .4 .7 .5-2.3 .4-1 .5 1.6 .4 2.4 .5-1.3 .4 .6 .5 .1 .4-.4 .5 0 .4-.4 .5 .5 .4 .2 .5-1.2 .4 1.6 .5-.7 .4-.1 .5-.1 .4 1.3 .5-1.2 .4 1.7 .5-2.7 .4 2 .5-2.7 .4 2 .5-.6 .4 .1 .5-.7 .4 1.2 .5 .8 .4-3 .5 2.2 .4 .4 .5 .5 .4-.2 .5-1.8 .4 2.6 .5-2.3 .4 1.7 .5-.3 .4-1 .5-2.5 .4 3 .5 2.1 .4-1 .5-1.5 .4 1.7 .5 1.2 .4 .6 .5-4.8 .4 3.1 .5 .1 .4-2 .5-1.3 .4 3.9 .5-2.1" fill="none" stroke="#F8766D" stroke-width="3.8" stroke-linejoin="round"/>
<path d="M1191.9 19l.5 25.3 .4 13.6 .5 8.1 .4 6 .5 5.4 .4 5.3 .5 5 .4 4.6 .5 4.3 .4 4.1 .5 3.4 .4 3.5 .5 3.5 .4 2.8 .5 3.1 .4 2.5 .5 2.8 .4 1.9 .5 4 .4 1.5 .5 1.7 .4 2 .5 2.2 .4 2 .5 1.8 .4 2.2 .5 1.1 .4 2.9 .5 1.5 .4 2.7 .5 1.8 .4 1.6 .5 2.6 .4 1.6 .5 3.2 .4 1.5 .5 2.6 .4 .8 .5 3.7 .4 .7 .5 3 .4 1.6 .5 .5 .4 2.8 .5 1.2 .4 2.5 .5 2.5 .4 1.2 .5 2.1 .4-.1 .5 2.8 .4 1.9 .5 2.3 .4 .1 .5 2.6 .4 1.5 .5-.3 .4 1.9 .5 3 .4-.2 .5 1.4 .4 3.6 .5 .7 .4 .9 .5 1.7 .4 .7 .5 1.2 .4 1.4 .5 1.9 .4 2.8 .5-.9 .4 1.7 .5 1.1 .4-.1 .5 3.1 .4 2.1 .5-1.1 .4 3.4 .5-.7 .4 3.5 .5 1.2 .4-1.1 .5-1.3 .4 3.5 .5-.5 .4 1.1 .5 2.7 .4 3.5 .5-1.2 .4 .9 .5-1.6 .4 3 .5-.2 .4 4.2 .5-.7 .4 1.9 .5 1.1 .4 .8 .5 3 .4 .4 .5-.3 .4 2 .5 1.8 .4 2.6 .5-.9 .4 3.5 .5-2.3 .4 1.9 .5-.8 .4 5.2 .5-1.9 .4 1.3 .5 4.5 .4-1.1 .5 .9 .4 4.2 .5-.5 .4 3 .5-.9 .4 3.1 .5 1.9 .4-.5 .5 4.2 .4-2.5 .5 1.5 .4 1.7 .5 2.8 .4-1 .5 1 .4 2.3 .5 2.9 .4-1.6 .5-.2 .4 3.1 .5 2.5 .4-.8 .5 2.3 .4-2.1 .5 4.4 .4 1.3 .5 2.1 .4 .6 .5 2 .4-1.8 .5 4 .4-2.8 .5 3 .4 4 .5 .8 .4-3.5 .5 5.3 .4-.6 .5 .6 .4 2.8 .5 1 .4 3.3 .5-3.6 .4 2.8 .5 1.7 .4-1.8 .5 6.3 .4 2.1 .5-2.9 .4 2.9 .5 0 .4 2.1 .5-.5 .4 3.8 .5-2.3 .4 5.5 .5-.6 .4 4.7 .5-5.7 .4 3.8 .5-.8 .4 3.2 .5 2.3 .4-1.1 .5 .4 .4 .8 .5 4.6 .4 3.1 .5 1.1 .4-.7 .5-.4 .4 2.3 .5-.7 .4 1.1 .5 5.7 .4-1.1 .5 2.2 .4 .2 .5 3.8 .4 1.3 .5-2.7 .4 1.7 .5 .5 .4 4.4 .5 .8 .4-1.6 .5 5.3 .4-3 .5-1.2 .4-.5 .5 4.1 .4 1.6 .5-.7 .4 2.5 .5 2.2 .4-1.3 .5 2.3 .4 2.3 .5-1.2 .4-1 .5 2.5 .4 1 .5 3.5 .4-3.6 .5-1.1 .4 4 .5 .9 .4-.5 .5 2.5 .4 .4 .5 2.4 .4-2.7 .5 1.1 .4 2 .5 0 .4 3.9 .5-.3 .4-.2 .5 3.5 .4-.9 .5 1.7 .4 .5 .5-.8 .4 .8 .5 1.5 .4-1.4 .5 2.1 .4 2.9 .5-.1 .4-1.4 .5 6.5 .4-5 .5 3.7 .4 .9 .5 1.8 .4-2.9 .5 2.3 .4 .5 .5 3 .4-.5 .5 .8 .4 1 .5 3.2 .4-1.4 .5 1.1 .4-2.3 .5 3.5 .4-2.5 .5 4.5 .4-.6 .5-1 .4 .3 .5 2.5 .4 1.1 .5-.4 .4 1.1 .5 .8 .4 .4 .5 1.3 .4 1.5 .5 2.5 .4-.4 .5-1.3 .4 4.4 .5 0 .4-1.7 .5 2.9 .4-1.9 .5 .4 .4 .8 .5 4.7 .4-1.8 .5 1 .4 .4 .5-.1 .4 2.2 .5 1.1 .4 2.9 .5-4 .4 4.8 .5-.8 .4-3.3 .5 5.3 .4 1.8 .5-.2 .4-.7 .5 .5 .4-2.9 .5 4.6 .4 .5 .5-1.2 .4 2.6 .5-.8 .4 5.6 .5-5.2 .4 1.2 .5-1.5 .4 3.6 .5 3 .4-1 .5-.5 .4 3.2 .5-.4 .4 2.2 .5-1.6 .4-2.1 .5 3.3 .4-.9 .5 3.8 .4-1.9 .5 .1 .4 2.1 .5-1.9 .4 2.5 .5 2.7 .4-1.9 .5 1.3 .4 1.2 .5-.9 .4 1.2 .5 4.3 .4-3.3 .5 1.3 .4 .3 .5-1 .4 .2 .5 6.1 .4-.5 .5-1.9 .4 2.3 .5 .9 .4 .3 .5-1.7 .4-1.3 .5 .9 .4 2.3 .5 3.2 .4 .9 .5-2.5 .4 .4 .5 3.2 .4 2 .5-4.6 .4 2.9 .5 0 .4-.2 .5 .5 .4 .5 .5 1.1 .4-2.4 .5 3.4 .4 1.9 .5 .5 .4 .5 .5-.2 .4 .3 .5 3.4 .4-3.1 .5 1.1 .4 2.4 .5-1.5 .4-1.8 .5 1.8 .4 .7 .5 1 .4 0 .5 2.9 .4 0 .5 .2 .4-1 .5 2.9 .4 .5 .5 2.5 .4-4.2 .5 1.4 .4 3 .5-3.7 .4 2.8 .5 .5 .4 .2 .5-1.2 .4 2.2 .5-2 .4 5 .5-2.3 .4 1.6 .5 .3 .4 7.1 .5-5.8 .4 1 .5-.8 .4 1.2 .5-1.4 .4 .6 .5 .9 .4 .3 .5-.1 .4 1.8 .5 2.7 .4 .1 .5-.8 .4 .6 .5 1.8 .4 4.4 .5-6.7 .4 3.7 .5-2.1 .4 4.8 .5-1.9 .4 1.6 .5 .1 .4 1.4 .5-5.6 .4 3.5 .5 2.6 .4-1.9 .5 3.7 .4 1.7 .5-3.8 .4 2 .5 2.3 .4 2.5 .5-.9 .4 0 .5-2.2 .4 2 .5 .7 .4-.8 .5 2.2 .4-.7 .5 .3 .4 4.8 .5-3.4 .4 3.9 .5-3.3 .4 1 .5-1.5 .4 1.6 .5 4.1 .4-2.1 .5-.1 .4 3.4 .5-3.4 .4 1.2 .5 1.1 .4-7.1 .5 10.8 .4 0 .5-2.2 .4 1.6 .5-.6 .4 0 .5 1.1 .4-1.6 .5 2.3 .4 .2 .5 4.7 .4-5.3 .5 5.2 .4-.5 .5-.4 .4-.8 .5 4.6 .4-.1 .5-2.1 .4 .3 .5 1.1 .4 3.3 .5-4.2 .4 2.2 .5 2.3 .4-3.8 .5 2.7 .4 2.5 .5-2.1 .4 1 .5-1.9 .4 3.7 .5-2.1 .4 1.8 .5 1.7 .4-1 .5 2.9 .4 .2 .5 0 .4 1.3 .5-1.4 .4-3 .5 5.6 .4 .3 .5-1.6 .4-.2 .5 3.8 .4-2.3 .5 .6 .4 .4 .5 5.1 .4-4.7 .5-2.7 .4 4.6 .5-1.2 .4-.8 .5 3.6 .4-.7 .5 2.8 .4-1.6 .5 3 .4 .1 .5-1.2 .4 1.6 .5 2.2 .4-1.5 .5-3.1 .4 3 .5 .6 .4 2.2 .5-2 .4 2.6 .5-1.7 .4 .6 .5 0 .4 .8 .5 .1 .4 1.2 .5-1.5 .4 0 .5 1.9 .4 .8 .5-.5 .4 1.7 .5 .3 .4 2.6 .5-4.9 .4 6.1 .5-6.9 .4 1.3 .5 3.8 .4-1.7 .5 1.5 .4 .1 .5-1.1 .4 .2 .5 2 .4 1.6 .5 .8 .4-.4 .5-.5 .4 2.9 .5-5.3 .4 4.1 .5 2.4 .4 .9 .5-.3 .4 .6 .5-.2 .4-1.2 .5-3.6 .4 3.2 .5 .8 .4 3.4 .5-3 .4 .4 .5 2.1 .4-2.4 .5 2 .4 1.2 .5-1.2 .4 .8 .5-2.6 .4 1.2 .5 2 .4 2.7 .5-2.6 .4-.3 .5 .5 .4 2.8 .5-3.2 .4 3 .5-.6 .4 1 .5-1 .4 1.7 .5 2.5 .4-2.5 .5-.1 .4-3.2 .5 5.5 .4-1.6 .5 2 .4-.1 .5-1.2 .4 .5 .5-.8 .4 5.9 .5-1.5 .4 .2 .5 .9 .4 .6 .5-.5 .4 .6 .5 2.7 .4-6.7 .5 3.5 .4-1.1 .5 1.5 .4-4.1 .5 2.8 .4 3.5 .5-3.2 .4 3.4 .5-2.1 .4 1.5 .5-2 .4 1.8 .5-1.7 .4 4.3 .5-3.6 .4 3.8 .5-1.2 .4 1 .5 3 .4-2.6 .5-.3 .4 1.4 .5 1.5 .4-1.8 .5 4.1 .4-2.3 .5-.6 .4-.2 .5 1.2 .4 1.5 .5 1.1 .4-6.8 .5 4.6 .4 1.2 .5-3.1 .4 5.7 .5-.2 .4-1.4 .5 1.8 .4-2.5 .5 5 .4-3 .5-.1 .4 4.6 .5-4.8 .4 2.7 .5-1.8 .4 .8 .5 .7 .4-.2 .5 3.7 .4-.3 .5-2.5 .4 5.2 .5-3.8 .4 0 .5 1.3 .4-2.2 .5 4.3 .4-3.6 .5-.3 .4 4.1 .5-3.1 .4 1.4 .5-1.4 .4 1.5 .5 1.2 .4-4 .5 2.4 .4 .8 .5 3.9 .4 1.3 .5-2.3 .4 .4 .5 1 .4 .2 .5-3.9 .4 .4 .5 1.6 .4-1.3 .5 2 .4 1 .5-1.3 .4 2.4 .5 1.8 .4-2.1 .5 .9 .4-.6 .5 .2 .4-.5 .5-.8 .4 3.1 .5 1.1 .4-1.7 .5 .5 .4-2.3 .5 2.1 .4 1.2 .5-.5 .4 .5 .5-1.6 .4-.2 .5 1.9 .4 3.2 .5-3 .4-1.6 .5 1.6 .4 1 .5 2.6 .4 0 .5-3 .4-.1 .5 1.5 .4 .6 .5-1.4 .4 3.5 .5-2.2 .4 1.4 .5-.6 .4 1.4 .5-.8 .4 .8 .5 1.8 .4-1.4 .5 2.2 .4-4.3 .5 1.9 .4-1.2 .5-.4 .4 2.5 .5 3.4 .4-2.5 .5 1.4 .4-4.7 .5 3.8 .4-2.1 .5 2.5 .4 1.5 .5-2.3 .4 2.8 .5-3 .4 1.7 .5-1.1 .4 6.5 .5-5.3 .4-3.3 .5 3.3 .4-.1 .5 3.8 .4-6.8 .5 4.5 .4 1.4 .5 2 .4-.8 .5-2.1 .4 2.7 .5-2.5 .4 .1 .5-.1 .4 .1 .5 3.3 .4-5.1 .5 .3 .4 4.4 .5-.7 .4 .8 .5-1.7 .4 1.7 .5-1.3 .4-.3 .5 .2 .4 1.2 .5 0 .4-.6 .5 3.4 .4-1.7 .5-1.2 .4-1.5 .5 2.3 .4-2.5 .5 1.4 .4-.3 .5 .6 .4 1.9 .5-5.6 .4 8.1 .5-1.6 .4-1.3 .5-.2 .4 2.4 .5-1.3 .4 3.3 .5-3 .4-1.2 .5-.7 .4 2.4 .5 2.1 .4-3.7 .5 4.4 .4-.6 .5-1.8 .4 2.8 .5-4.9 .4-.6 .5 4.3 .4 .4 .5 .1 .4-.6 .5-2.2 .4 3.5 .5-1.4 .4 2.3 .5-1 .4-2.2 .5 3.2 .4 .5 .5 .1 .4-2.4 .5-.4 .4 3.3 .5-1.3 .4 0 .5 2.1 .4 .2 .5-.8 .4-1 .5 3 .4-4.1 .5 1.9 .4 .7 .5-2.7 .4 1.2 .5 2.9 .4-1.5 .5-1.5 .4 2.9 .5-.5 .4 .1 .5 3 .4-5.4 .5 1.7 .4-.5 .5 4 .4-3.5 .5 5.5 .4-3 .5-.1 .4 1.3 .5-1.9 .4-1 .5 .6 .4 1.2 .5-1.5 .4 2 .5-1.1 .4 .8 .5 .4 .4 3 .5 1.4 .4-.6 .5-3.2 .4-.7 .5 3.2 .4 .6 .5-.4 .4-2.5 .5 1.7 .4-.8 .5 2.3 .4 0 .5-1.1 .4-.9 .5 3.8 .4-2.4 .5 1.2 .4-.3 .5 .5 .4 .8 .5-2.4 .4 0 .5 1.9 .4-6.3 .5 5.5 .4-.6 .5 2.2 .4-.5 .5-.8 .4-1.5 .5 1.8 .4-.1 .5 .8 .4 .4 .5-1.4 .4 2.2 .5-1.7 .4 1.8 .5-.1 .4 1.8 .5-2 .4 2.8 .5-3.2 .4-.7 .5 2.7 .4-3.1 .5 2.9 .4 .2 .5-.2 .4 .5 .5-.2 .4 1.9 .5-2.2 .4-3 .5 2.8 .4 2.2 .5 .4 .4-.4 .5-1 .4-1.4 .5 4.3 .4-3.5 .5-.8 .4-2.1 .5 7.5 .4-3.1 .5-3 .4 4.7 .5-6.5 .4 2.4 .5 4.3 .4-1.1 .5 1.2 .4 1.3 .5-2.9 .4 4.5 .5-3.7 .4-.7 .5 3.1 .4-3 .5 .6 .4 2.1 .5-2.7 .4-.7 .5 2.9 .4-.4 .5-.9 .4 2.7 .5-3.5 .4 3.4 .5-3 .4 2.7 .5-2.7 .4 3.3 .5-1.1 .4-.5 .5 .9 .4-.2 .5 1.7 .4-2.4 .5 2 .4-1.2 .5-.4 .4 .3 .5-.9 .4 2.6 .5-.3 .4 .5 .5-3.2 .4 2.1 .5 3.4 .4-.4 .5-2.1 .4 .4 .5 .4 .4 1.6 .5 .8 .4-1.8 .5 0 .4-.3 .5 .7 .4 2.6 .5-4 .4 2.3 .5-9.5 .4 6.8 .5-.8 .4 1.9 .5 3.6 .4 .4 .5-1.3 .4-1.3 .5 2 .4-3.5 .5-.5 .4 1 .5 1.3 .4-2.6 .5 1.8 .4 4.3 .5-3.1 .4-.2 .5-.3 .4 2.4 .5 0 .4-.8 .5-.3 .4-3.2 .5 1.2 .4 1.9 .5-.1 .4 .5 .5-.2 .4 4 .5-1 .4-8.8 .5 8.4 .4-.5 .5-.6 .4-.3 .5 1.2 .4 2.6 .5-3.9 .4 .8 .5 .2 .4-2.5 .5 2.9 .4-1.2 .5 1.9 .4 .4 .5 2.4 .4-3.2 .5 0 .4 1.8 .5 2.3 .4-2.9 .5 .6 .4 .3 .5 0 .4-1.6 .5-.3 .4 .3 .5 .6 .4 1.2 .5-1.8 .4 .3 .5 1.4 .4-.1 .5 .5 .4-2.2 .5 5.4 .4-3.4 .5 0 .4-.9 .5 2.3 .4 1.1 .5-1.7 .4 0 .5-.1 .4 4.2 .5-2.6 .4-1.6 .5 1.1 .4 1.6 .5-1.4 .4 .4 .5-.1 .4-.5 .5 1.3 .4 1.9 .5-1.8 .4-1.2 .5-.8 .4 1.4 .5-.7 .4-.4 .5 2.6 .4-.5 .5 1.4 .4-.9 .5-1.3 .4 2.2 .5-.7 .4 1.7 .5-3.8 .4 1.1 .5 .8 .4 4.3 .5-3.5 .4-2.5 .5 .5 .4 2.4 .5-3.3 .4 1.5 .5 1 .4 4.6 .5-3.8 .4 1 .5-.8 .4-2.5 .5 4.4 .4-.4 .5-3 .4 .9 .5-1.6 .4 4.6 .5-3 .4 1.6 .5 .2 .4 1.3 .5-1.8 .4-.7 .5 1.7 .4 .7 .5-2.4 .4 .9 .5-1.9 .4 4 .5-2.7 .4 2.3 .5-.1 .4 0 .5 .3 .4-2.3 .5 1.5 .4-1.2 .5 .9 .4-.8 .5 4.3 .4-2.8 .5 1.1 .4-2.1 .5 3.4 .4-2.5 .5 0 .4-.1 .5-1.6 .4-.6 .5 3.1 .4-1.6 .5 1.1 .4 3.1 .5-3 .4 3.2 .5-2.2 .4-1.9 .5 2.4 .4 .8 .5-.4 .4-1.9 .5-.5 .4 2.7 .5 1.5 .4-.1 .5-2.8 .4 .2 .5 .8 .4 1.2 .5-.8 .4 0 .5-.5 .4-3.5 .5 2 .4 1.9 .5-2.2 .4 5 .5-3.8 .4 2 .5 .5 .4 1.2 .5-3.9 .4 1.3 .5 2.4 .4-1.9 .5 1.1 .4-4.3 .5 3.9 .4-.3 .5-.3 .4-2.2 .5 1.5 .4 .7 .5-.1 .4-.9 .5 3 .4-.1 .5-1.7 .4 2.6 .5-3.6 .4 2.1 .5 1.9 .4-1.4 .5-.9 .4 1 .5-.8 .4-.5 .5-.3 .4 1.2 .5-.2 .4 .7 .5-1.5 .4 1.6 .5 .9 .4-2 .5 3 .4-3.1 .5 .1 .4 .2 .5-.8 .4-.4 .5 .6 .4 1.3 .5-.7 .4 3.2 .5-2.2 .4-.3 .5-.1 .4 1.4 .5-.4 .4 .4 .5 .8 .4 1 .5-3.3 .4 2.3 .5-.8 .4 .3 .5-1.1 .4 1.7 .5 .1 .4-.3 .5-1.5 .4 2.1 .5-2.2 .4-.7 .5 3.2 .4-1.2 .5-1.9 .4 1.3 .5 1 .4 1.3 .5-1.5 .4-.8 .5-.2 .4-.4 .5 1.8 .4-.9 .5 2 .4-1.8 .5 2.5 .4-1.7 .5 .4 .4-.1 .5 0 .4 2.4 .5-3.1 .4 .4 .5 .4 .4 1.3 .5-2.2 .4 3.3 .5-3.2 .4 .6 .5 1 .4 .1 .5-1.4 .4 2.5 .5 1.3 .4-2.4 .5 1.1 .4 0 .5 2.6 .4-3.1 .5 .3 .4-.9 .5 .9 .4-.7 .5-.1 .4 .2 .5 1.6 .4-1.6 .5 1.6 .4-1.3 .5 1.9 .4-3.2 .5 .2 .4 2.4 .5 1.2 .4-2.6 .5-2.1 .4 4.3 .5-.8 .4-1.5 .5 2.9 .4 0 .5-2.6 .4 .3 .5 1.5 .4 .1 .5 .9 .4-1.1 .5 2 .4-3.1 .5-.6 .4 .4 .5-.2 .4 .9 .5-.9 .4 2.3 .5 .6 .4 .6 .5-2.8 .4-1 .5 1.2 .4 .6 .5-.6 .4 1.3 .5 .1 .4-.2 .5-1.8 .4 2.6 .5-2.3 .4-2.1 .5 3.1 .4 1.8 .5-1.6 .4-2.1 .5 1.7 .4 2.1 .5-1.3 .4-.4 .5-1.4 .4 1.6 .5-.8 .4 2.9 .5-1.5 .4 .7 .5-3.2 .4 2.2 .5 1.2 .4 1.2 .5-.5 .4-2.7 .5 5 .4-5 .5 .8 .4 0 .5-1 .4 1.1 .5-.4 .4 .3 .5-.2 .4 .6 .5 1.3 .4-1.8 .5-.6 .4 2.4 .5-.8 .4 1 .5-2.1 .4 1.1 .5-.9 .4-.6 .5 1.1 .4 .6 .5 .6 .4-2 .5 2.7 .4 .4 .5-.9 .4-1 .5 .6 .4 1.4 .5-2.4 .4 2.9 .5-4.1 .4-.1 .5 3.2 .4-2.2 .5 3 .4-1.8 .5-.1 .4 1.1 .5 1.1 .4-.3 .5-1.3 .4-.1 .5 1.5 .4-2 .5-.2 .4 .1 .5 5.6 .4-2.3 .5-1.2 .4-1.1 .5 1.2 .4-2.8 .5 1.9 .4 1.6 .5-.9 .4-1.8 .5 1.5 .4-.1 .5 2.1 .4-.7 .5-.8 .4 2.8 .5-3.6 .4 2.3 .5-.9 .4-.7 .5-.5 .4 1.4 .5 1.4 .4-4.2 .5 2.4 .4 1.1 .5-2.3 .4 .2 .5 2.9 .4-2.2 .5-.2 .4 1.1 .5-.1 .4 .4 .5 0 .4 1.2 .5-1.3 .4 .7 .5-2.3 .4 1.4 .5-.9 .4 2.6 .5-1.5 .4 1.3 .5-2.6 .4-.2 .5 2.3 .4-1.3 .5-1.7 .4 1.6 .5-.6 .4 2.9 .5-1.9 .4 1 .5-.2 .4 1 .5-1 .4 .1 .5-.1 .4-2.3 .5 1.8 .4-1.7 .5 .1 .4 1.7 .5-2.5 .4 2 .5 1.6 .4-1.4 .5 1.1 .4-8.1 .5 7.1 .4-3.5 .5 2 .4 .6 .5 3.3 .4 .3 .5-5.2 .4 2 .5-.4 .4 3.2 .5-1 .4-1.6 .5 1.6 .4 .5 .5-2.4 .4 2.2 .5-.5 .4 .3 .5-3.3 .4 2.2 .5-3.1 .4 3.7 .5-1.5 .4 2.9 .5 .2 .4-6.2 .5 6.4 .4-2.7 .5 2 .4-1.1 .5-.7 .4 .2 .5-.3 .4 2.6 .5-1.8 .4-1.5 .5 2.3 .4-1.5 .5 1.4 .4-1.8 .5 1.6 .4-1.7 .5 .2 .4 1.5 .5 .8 .4-1 .5-.3 .4 3.7 .5-3.7 .4-3.3 .5 4.3 .4-1.5 .5-1.3 .4 3.5 .5-.3 .4-1.6 .5-.1 .4 .6 .5 1.5 .4-2.7 .5 3.2 .4-1.5 .5 .3 .4 1.5 .5-2.4 .4 1.2 .5-.7 .4-4.2 .5 3.9 .4 .3 .5-.3 .4 1.9 .5-2.3 .4 1.4 .5-.2 .4 .1 .5-2.9 .4 1.7 .5 0 .4 2.9 .5-2.7 .4 1.4 .5-.5 .4-2.3 .5 .4 .4 1.9 .5 .7 .4 1.2 .5-2.5 .4-1.4 .5 1.7 .4-1.8 .5 3.8 .4-2.3 .5 .4 .4 2.6 .5-2 .4-2.3 .5 2.4 .4-1.5 .5-.8 .4 .6 .5-.8 .4 2.7 .5-1.9 .4 .7 .5 2 .4-1.7 .5-.4 .4 .9 .5-.9 .4 .9 .5-.4 .4 1.5 .5-1.6 .4-.7 .5 .7 .4-2.4 .5 2.7 .4 1.4 .5 1.5 .4-2.1 .5 1.2 .4-4.2 .5 4.4 .4-1.2 .5 1.1 .4-2.3 .5 1.3 .4-.3 .5-.9 .4 .5 .5 2.2 .4-4.1 .5 1.6 .4 1.2 .5 1.3 .4-3.4 .5-.3 .4-.9 .5 3.1 .4-.6 .5 .2 .4-.1 .5-2.2 .4 3.9 .5-.2 .4-3 .5 .8 .4-.3 .5 .3 .4 3.5 .5-1.1 .4-2.7 .5 4.2 .4-2.1 .5-.3 .4-1.4 .5 .2 .4 .8 .5 4.2 .4-5.4 .5 .5 .4 2.2 .5-.9 .4-1.3 .5 4.8 .4-4 .5-.5 .4 .6 .5 1.1 .4 .1 .5 .5 .4-.9 .5-1 .4 2.6 .5-2.1 .4-.5 .5 1.8 .4-1.1 .5-.5 .4 0 .5 .4 .4-.8 .5 .6 .4 1.6 .5-.2 .4-4.1 .5 5.3 .4-.1 .5-3.3 .4 3.5 .5-3.8 .4 3.3 .5-2.1 .4 1.4 .5-.3 .4 .5 .5-2.6 .4 4 .5-1.1 .4-.7 .5 1.5 .4-1.8 .5 2.9 .4-.8 .5 .9 .4-3.8 .5 1.4 .4-2.8 .5 2.8 .4-1.3 .5-.1 .4 2.4 .5-1.4 .4 1.7 .5-3 .4 .5 .5 1.5 .4-3.5 .5 1.6 .4 1.5 .5-2.6 .4 3.2 .5-2 .4 2.6 .5-2 .4 3 .5-4.4 .4 4.1 .5-3.7 .4 4.1 .5-2 .4-2.5 .5 3.6 .4-1.6 .5 .6 .4 .2 .5 1.3 .4-1.7 .5 1.5 .4-2.2 .5 .7 .4 1.5 .5 1.1 .4-1.6 .5-.4 .4 1.1 .5 .2 .4-2 .5 5.5 .4-4.7 .5-1.1 .4 1.8 .5 .7 .4-.6 .5-.8 .4 .8 .5 .9 .4-1.6 .5-.3 .4 1.5 .5 .1 .4-1.8 .5 5 .4-1.9 .5 1 .4-.8 .5-3.4 .4 4.9 .5-5.1 .4 1 .5 1.8 .4-1.2 .5 1.9 .4 .3 .5-1.3 .4 2.5 .5-4.4 .4 2.9 .5 .3 .4-1.1 .5 1.4 .4-3.4 .5 3.1 .4-1.3 .5 .8 .4 .5 .5 1 .4-2.2 .5 1.3 .4 .8 .5-.2 .4 .1 .5-3.4 .4 2.8 .5 .9 .4-2 .5 1.2 .4-1.1 .5 1.5 .4-.5 .5-1.6 .4 2 .5-.1 .4-2.4 .5 1.5 .4-.1 .5-1.3 .4 3.2 .5-2.4 .4 1.1 .5-3 .4 2.7 .5-1.6 .4 2.4 .5-.9 .4 1.8 .5 1 .4-4.7 .5 2.5 .4-.3 .5-.5 .4-.3 .5 1 .4 .9 .5 .2 .4 .6 .5-1.4 .4 1.5 .5-.5 .4 .6 .5-.1 .4-.4 .5 .4 .4-2.1 .5-1.9 .4 1.1 .5 2.4 .4-.6 .5-.7 .4 2.6 .5-.8 .4 1.3 .5-3.8 .4 .9 .5 1.3 .4 .7 .5 .7 .4-1.4 .5 1.6 .4-.3 .5-1.5 .4 1.7 .5-1.3 .4 .1 .5-2.2 .4 .4 .5 2.4 .4-.8 .5-2 .4-1 .5 2.3 .4 3.8 .5-3.4 .4-.7 .5 0 .4 1.3 .5 .8 .4-.9 .5 1.9 .4-1.3 .5-2.5 .4 3 .5-2.5 .4 2.5 .5-1.3 .4-3.2 .5 .2 .4 2.4 .5 .5 .4 1.3 .5-.7 .4 1.3 .5-1.1 .4-.9 .5-1.6 .4 3.4 .5-.4 .4-.2 .5-2.4 .4 2.5 .5-4.1 .4 3.4 .5-.8 .4 0 .5-4.2 .4 6.9 .5-4.4 .4 .4 .5 .5 .4-.3 .5-1.8 .4 3.7 .5-1.3 .4 .5 .5-2.5 .4 2.7 .5-.4 .4 2 .5-3 .4-1.9 .5 2.9 .4 .5 .5 1 .4-.5 .5-2.3 .4 1.3 .5-1.7 .4 2.4 .5 3 .4-5.4 .5-.5 .4 1.5 .5 0 .4 1 .5-1 .4-2.3 .5 2.9 .4 .5 .5 1.1 .4-1.3 .5-3 .4 3.5 .5-1.8 .4-1.5 .5 1.8 .4 .3 .5 .2 .4-1.6 .5 .5 .4 .7 .5 .4 .4 .2 .5-2.5 .4 3.3 .5-3.4 .4 2.4 .5-.6 .4-3.9 .5 2.8 .4 1 .5 .5 .4-.7 .5 .4 .4-.2 .5-.3 .4 1.6 .5 4.2 .4-6 .5 .2 .4 1.1 .5-1.8 .4 2.3 .5-1.3 .4 2.7 .5-4.1 .4 1.6 .5-1.5 .4 1.9 .5-1.5 .4-.8 .5 .5 .4 .3 .5 1.1 .4-1.6 .5 2.3 .4-.7 .5-.5 .4-.2 .5 .5 .4 2.4 .5-3.7 .4 1.3 .5 .2 .4 .4 .5-1.4 .4-2.5 .5 4.2 .4-.1 .5 .5 .4-.6 .5-2.2 .4 3.4 .5-2.4 .4 1.1 .5 2.3 .4-1.2 .5-2.9 .4 1.4 .5 1.8 .4-.7 .5-1.5 .4-1.7 .5 .6 .4 .7 .5 .8 .4 1.5 .5-.2 .4-4.1 .5 1.8 .4-.6 .5 .2 .4 1.7 .5-.8 .4-1.5 .5 3.7 .4-3.2 .5-.5 .4 .8 .5 3.3 .4-1.5 .5-2 .4 1.3 .5-1.7 .4 2.6 .5-.8 .4-3.8 .5 3.5 .4 1.4 .5-3.7 .4 2 .5-.6 .4 1.3 .5-2.8 .4 3.4 .5-1.7 .4 2.4 .5-.9 .4-1.6 .5-1.2 .4 .8 .5 2.8 .4-.5 .5-.9" fill="none" stroke="#FE9837" stroke-width="3.8" stroke-linejoin="round"/>
<text transform="translate(1200.5,884.9) rotate(60)" font-size="21" letter-spacing="0.8" fill="#4458A8">3.14</text>
<text transform="translate(1232.2,878.1) rotate(60)" font-size="21" letter-spacing="0.8" fill="#62BB47">3.95</text>
<text transform="translate(1265.0,876.5) rotate(60)" font-size="21" letter-spacing="0.8" fill="#F8766D">10.47</text>
<text transform="translate(1304.2,879.7) rotate(60)" font-size="21" letter-spacing="0.8" fill="#FE9837">27.33</text>
<text x="6" y="989" font-size="31" font-weight="bold">b</text>
<rect x="172.5" y="984.9" width="54.1" height="282.5" fill="#BEBEBE"/>
<rect x="265.3" y="984.9" width="33.4" height="282.5" fill="#BEBEBE"/>
<rect x="330.7" y="984.9" width="44.0" height="282.5" fill="#BEBEBE"/>
<rect x="400.0" y="984.9" width="24.4" height="282.5" fill="#BEBEBE"/>
<rect x="454.9" y="984.9" width="26.2" height="282.5" fill="#BEBEBE"/>
<rect x="539.6" y="984.9" width="53.6" height="282.5" fill="#BEBEBE"/>
<rect x="622.3" y="984.9" width="29.5" height="282.5" fill="#BEBEBE"/>
<rect x="679.8" y="984.9" width="36.7" height="282.5" fill="#BEBEBE"/>
<rect x="747.8" y="984.9" width="24.6" height="282.5" fill="#BEBEBE"/>
<rect x="797.5" y="984.9" width="31.5" height="282.5" fill="#BEBEBE"/>
<rect x="854.1" y="984.9" width="30.9" height="282.5" fill="#BEBEBE"/>
<rect x="909.3" y="984.9" width="32.9" height="282.5" fill="#BEBEBE"/>
<rect x="970.1" y="984.9" width="27.9" height="282.5" fill="#BEBEBE"/>
<rect x="1025.3" y="984.9" width="25.3" height="282.5" fill="#BEBEBE"/>
<rect x="1075.1" y="984.9" width="9.7" height="282.5" fill="#BEBEBE"/>
<line x1="170.0" y1="1267.4" x2="172.5" y2="1267.4" stroke="#000" stroke-width="1"/>
<text x="158.6" y="1275.4" font-size="22.5" text-anchor="end" fill="#000" >0</text>
<line x1="170.0" y1="1173.2" x2="172.5" y2="1173.2" stroke="#000" stroke-width="1"/>
<text x="158.6" y="1181.2" font-size="22.5" text-anchor="end" fill="#000" >0.005</text>
<line x1="170.0" y1="1079.1" x2="172.5" y2="1079.1" stroke="#000" stroke-width="1"/>
<text x="158.6" y="1087.1" font-size="22.5" text-anchor="end" fill="#000" >0.010</text>
<line x1="170.0" y1="984.9" x2="172.5" y2="984.9" stroke="#000" stroke-width="1"/>
<text x="158.6" y="992.9" font-size="22.5" text-anchor="end" fill="#000" >0.015</text>
<path d="M173 1160.5h0m.5 53.5h0m0 4.5h0m0-2.5h0m.5-38.5h0m0 30h0m0 60h0m.5 0h0m1-9h0m1.5-35h0m.5-48h0m.5-4.5h0m1 25.5h0m.5-21h0m.5 5h0m2 8.5h0m.5 1.5h0m0-29h0m.5 30h0m0 25.5h0m0-4h0m0-2.5h0m.5 15.5h0m.5 13.5h0m0-20h0m1-37.5h0m1.5-108h0m.5 85h0m0-20h0m.5 61h0m0 35h0m.5 7h0m.5 16.5h0m1.5 8h0m0-19.5h0m1 17.5h0m0-6.5h0m2 9.5h0m.5 0h0m1-33h0m1 3.5h0m0-18.5h0m.5-22.5h0m0 11.5h0m.5-17h0m0-4h0m1.5-14.5h0m1.5 21h0m3 34.5h0m.5 16h0m.5 1h0m.5-25h0m.5-1.5h0m.5 3.5h0m0-2.5h0m0-32h0m1.5 15.5h0m0-37.5h0m0 36.5h0m.5 12.5h0m0-25h0m.5-11h0m.5 88h0m0-63h0m.5 15h0m.5-26h0m.5 74h0m.5-65.5h0m0-11h0m.5 10h0m0 .5h0m.5-2.5h0m0 12.5h0m.5-14h0m1.5-11h0m.5-7.5h0m0-22h0m.5 16.5h0m.5 40.5h0m0 7.5h0m.5-11h0m.5-4h0m1-16.5h0m.5-17.5h0m0 9h0m1.5 6h0m.5 25.5h0m1-28.5h0m.5 9h0m1 26.5h0m.5 20.5h0m0-1h0m0-48h0m1.5-17h0m.5 45.5h0m.5-3h0m.5-11.5h0m.5-17h0m0-6h0m2.5 24h0m2 11h0m.5-7.5h0m.5 44.5h0m.5-29h0m0-29.5h0m0 20h0m.5-3.5h0m1.5 17.5h0m1-32.5h0m.5-15.5h0m0-65h0m1 24.5h0m0 34.5h0m0 16h0m.5 30.5h0m.5-11.5h0m.5-11.5h0m0-23h0m1-5h0m.5 89.5h0m.5-102.5h0m0-4.5h0m2-9.5h0m0 40h0m1.5 22.5h0m0-119.5h0m2 134.5h0m.5 45h0m0-47h0m0-89h0m.5 61.5h0m.5-18h0m0-31h0m0-1h0m0 4h0m.5 29h0m0 1.5h0m1-38h0m0 55h0m.5 16.5h0m1-11.5h0m1-40h0m0 34h0m0 10h0m1-6.5h0m.5-75h0m.5 37.5h0m.5 11.5h0m1.5-12.5h0m.5 24.5h0m0-7.5h0m.5-6h0m.5 13.5h0m.5-6.5h0m0-37.5h0m0 9.5h0m0 20h0m.5 23h0m1-6.5h0m0-23.5h0m0 3h0m.5-1h0m1.5-56.5h0m0 38h0m1.5 121h0m.5-89.5h0m0 8h0m1 76h0m.5-114h0m1 2h0m2-19.5h0m.5 43h0m0-3.5h0m0 .5h0m.5 34.5h0m.5 10h0m.5-9h0m.5-3h0m2 18h0m.5-23.5h0m.5-5.5h0m.5-13h0m.5-32h0m.5 42h0m0-20.5h0m2.5-3.5h0m0 28h0m.5 2.5h0m.5 10.5h0m0 25h0m0-27h0m1 16.5h0m.5 41.5h0m0-35h0m.5 4h0m3.5-17h0m.5-8.5h0m1.5 5h0m1 6h0m0 53.5h0m0-8.5h0m.5 8.5h0m.5-28h0m.5 7h0m0 2.5h0m1-15.5h0m.5 17h0m1 3h0m.5-3.5h0m.5-22.5h0m0 25.5h0m.5-32h0m.5-3h0m0 6h0m.5-14.5h0m0-27h0m0-23h0m.5 33h0m.5-30h0m.5 7.5h0m.5-23.5h0m0 37h0m.5 7h0m1 4h0m.5 29.5h0m0 3.5h0m0-28.5h0m.5-26.5h0m.5-9h0m0 1.5h0m1 18h0m1.5-53.5h0m.5 130.5h0m1-111.5h0m0 6.5h0m.5 103.5h0m1.5-68h0m1-11.5h0m.5 7h0m.5 3h0m.5 24h0m2 10.5h0m.5-35.5h0m0-19h0m1-94.5h0m0 122.5h0m0 9.5h0m.5-28.5h0m0-7h0m.5-12h0m0 9h0m.5 94.5h0m0-71h0m.5 33.5h0m0 4h0m.5-37h0m0-30.5h0m.5 27h0m.5 20h0m.5 12.5h0m0 10h0m2 17h0m0 1.5h0m.5-29h0m0 44h0m0-106h0m.5 12.5h0m0 54h0m1 5h0m.5 15h0m1.5-5h0m0 5.5h0m1-34h0m0 14.5h0m0-7.5h0m0-46h0m.5 6h0m1.5 41.5h0m0-26h0m0-10h0m1-9h0m0-10.5h0m0 29.5h0m.5 22.5h0m0-8.5h0m3 35h0m.5 7h0m0-39h0m2 24.5h0m2.5-30h0m.5-37.5h0m0 44.5h0m1 6.5h0m0-22h0m0-16h0m.5-11h0m1 27.5h0m1.5-23h0m1 14.5h0m0-4h0m0 23h0m.5-44.5h0m.5 15.5h0m3 4.5h0m.5 14.5h0m1-11h0m0 32h0m.5-5h0m.5-.5h0m1-44h0m0 13h0m0 6h0m.5-3h0m0-23h0m.5-41h0m1 6.5h0m0 3h0m.5-23.5h0m2 18.5h0m.5 5.5h0m.5 28h0m0 10.5h0m.5 22.5h0m0-52.5h0m.5-7h0m0-2.5h0m1 38h0m0 2h0m.5 20.5h0m.5 15.5h0m.5 27h0m.5-143.5h0m0 73h0m1 20.5h0m0-15h0m.5-18h0m.5-1.5h0m.5-8.5h0m0 35h0m0-33.5h0m1-38.5h0m.5 20h0m.5 32.5h0m.5 27.5h0m0 32.5h0m1-21.5h0m0-21.5h0m1-36.5h0m1 43.5h0m1.5-18h0m.5-10h0m.5 15.5h0m0 26h0m1-8.5h0m0-51.5h0m.5 44h0m1.5 17h0m0 11h0m1-.5h0m.5-30h0m0 15h0m1 53.5h0m.5 16.5h0m.5 7.5h0m0-21.5h0m0-17.5h0m.5 17.5h0m1.5-31h0m0 37.5h0m2.5-32h0m1-28h0m1.5 12.5h0m0-25h0m.5-4.5h0m0-8h0m.5 29.5h0m0-4h0m.5-89.5h0m0 69h0m0 13.5h0m.5-7.5h0m0 11h0m1 1.5h0m.5-29h0m.5-33h0m0-27h0m.5 7.5h0m0 34h0m1 18h0m0-19.5h0m.5 8.5h0m.5-27h0m0 24.5h0m2-11h0m0 44h0m0 9.5h0m0-12.5h0m0-7h0m.5 1h0m0 31h0m.5-6h0m1 68h0m2-50h0m.5-11.5h0m0 16h0m0 8h0m2.5-61h0m1-3h0m0-22.5h0m1.5 24.5h0m.5 17h0m.5 33.5h0m1.5 25.5h0m.5 18h0m.5-28.5h0m1.5-7.5h0m0 26h0m.5-10.5h0m0 28.5h0m1 0h0m0-62h0m.5 21.5h0m.5 5h0m.5-30h0m0-12h0m.5 9.5h0m1.5-11h0m1 6h0m0 .5h0m.5 22.5h0m.5-17.5h0m.5-5h0m.5-1h0m.5-8h0m0 1.5h0m.5 12.5h0m.5-1.5h0m0 14.5h0m.5 54.5h0m0 0h0m.5-4h0m0-16h0m2-20h0m.5-38.5h0m1.5-33h0m1-26.5h0m.5 24h0m0-13.5h0m1.5 69h0m1 26.5h0m.5-48.5h0m.5 7.5h0m1 5h0m0-9h0m1-9.5h0m.5 12h0m.5 3h0m0 36h0m0-16h0m0-25.5h0m2 43h0m1.5-40h0m.5 53.5h0m0-4h0m0 1h0m1 2h0m2 7.5h0m.5-8.5h0m0-6h0m1-15.5h0m0 17h0m.5-8h0m1.5-21h0m0-5h0m0 22h0m1 7.5h0m.5-22h0m0 2h0m.5 1.5h0m1.5-1.5h0m.5-23h0m.5 72h0m0-157.5h0m1-13h0m0 10h0m.5 3h0m.5 35.5h0m.5 11h0m.5-8h0m2.5-21h0m0 19h0m1 25h0m0 1h0m0 14.5h0m0 11.5h0m0-11.5h0m0-28h0m0 104h0m0-118h0m1 14h0m0 45.5h0m1.5-13.5h0m1.5-3.5h0m.5-10h0m0 42.5h0m1-20.5h0m0-22h0m.5 31h0m1 21.5h0m.5-30h0m.5-53h0m0-26h0m0 51.5h0m.5-34h0m.5-52.5h0m.5 101.5h0m1.5 1.5h0m1-15h0m.5 16.5h0m.5 11h0m.5 22h0m.5 8.5h0m1-16h0m.5-5.5h0m.5-10h0m1 33h0m.5-7h0m0-37h0m.5 7.5h0m0-10h0m1 14.5h0m1.5-23h0m0 5.5h0m1-5.5h0m1 1h0m0-48h0m0 26h0m.5 109h0m.5-91h0m0 0h0m1-14h0m.5 17.5h0m.5-20h0m0-27h0m1 18h0m1.5 11h0m0 18h0m1.5 40h0m.5 6h0m0-15.5h0m0-19.5h0m.5 5h0m0 13.5h0m.5 2.5h0m0 5.5h0m0-27h0m.5-6h0m1.5 56h0m0-8.5h0m.5-25h0m.5 53h0m.5-25.5h0m0-6h0m1-32.5h0m1.5 34.5h0m0 2h0m1 6h0m0 8.5h0m.5-38h0m.5 10.5h0m1-5h0m.5 19h0m.5 14.5h0m3.5 1h0m0 8h0m1-13h0m1-42h0m.5-55h0m.5 29.5h0m1-20.5h0m0 23.5h0m1-16h0m.5 11.5h0m1.5 15.5h0m.5 1.5h0m0 36.5h0m0 23.5h0m.5 19h0m.5-37h0m1.5-46.5h0m1 2h0m.5-30.5h0m0 7h0m.5 32h0m.5 6h0m.5 34.5h0m0-9.5h0m.5-19h0m1.5-9.5h0m0 26h0m0-9.5h0m.5 24.5h0m0 11.5h0m1 18h0m1-17.5h0m.5-15h0m.5-19.5h0m.5-40.5h0m0-34h0m.5 22h0m.5-20h0m1 19h0m0 17.5h0m0-1.5h0m1 2h0m.5 2.5h0m0 9h0m.5-9.5h0m.5 46.5h0m1-32h0m.5 13.5h0m0 5.5h0m.5 7.5h0m.5 20.5h0m.5-32h0m0 10.5h0m.5 3h0m1.5-24h0m1.5-24h0m.5 9.5h0m0 2.5h0m0-8.5h0m1-59h0m0 52h0m0 21h0m.5 1h0m.5 19.5h0m1.5-30h0m.5-12.5h0m0-5.5h0m0 2h0m0 18h0m2 33h0m0 11h0m1-21h0m0 16h0m.5-42h0m.5-3.5h0m.5 20h0m0-8.5h0m.5-47.5h0m.5 6.5h0m0-37h0m0 22h0m0 31h0m1-2.5h0m1.5 33.5h0m.5 34.5h0m.5 31h0m.5-4.5h0m0-45h0m0 42h0m1-38h0m0 27h0m.5 5h0m.5-44.5h0m1.5 19h0m.5-32.5h0m.5 14.5h0m.5-8h0m.5-24.5h0m1.5 38.5h0m0-22.5h0m1.5-4h0m0 13h0m0-19h0m0-20.5h0m2 24h0m.5 54.5h0m0 9.5h0m0-7.5h0m1-2.5h0m.5 5.5h0m.5-33.5h0m.5-2.5h0m1-33.5h0m.5-26.5h0m.5 21.5h0m.5-6.5h0m.5-14.5h0m.5-4h0m1 9h0m1 5.5h0m0 13.5h0m0-45.5h0m.5 2h0m0-23h0m0 12h0m1 25.5h0m0 27.5h0m3 3.5h0m.5 52h0m0 1.5h0m.5-2.5h0m.5 21h0m0-38h0m.5 29.5h0m.5-24h0m0 4.5h0m0-10h0m.5-8.5h0m1 4h0m0 34.5h0m1-13.5h0m.5 26.5h0m.5-22.5h0m.5-12h0m0 30.5h0m1-2h0m0-1h0m1-35h0m.5 35.5h0m0-4.5h0m.5-118.5h0m1 63.5h0m0-26.5h0m0-13h0m1.5 34h0m.5-7h0m1 1h0m0-2h0m.5 4.5h0m0-2.5h0m0 7.5h0m.5-6.5h0m.5-38h0m0 5.5h0m.5-14.5h0m1.5-3h0m.5 37h0m.5-5.5h0m.5 2.5h0m1.5 .5h0m.5 43.5h0m0 11.5h0m.5 2h0m0 15h0m.5 20.5h0m0-23h0m0 8h0m.5 20h0m0-6h0m.5-17h0m1.5 11h0m1 4.5h0m.5 13.5h0m.5-14h0m1-24.5h0m0-41h0m.5-4h0m0 31.5h0m1.5 3.5h0m.5 1h0m0-78h0m1.5-31h0m0 34h0m.5 24.5h0m.5 67h0m1.5 .5h0m4-43.5h0m.5 17h0m0-6h0m1-.5h0m.5-1h0m0-38.5h0m.5 60.5h0m0-11h0m0-21h0m0-14.5h0m1-2.5h0m2-9h0m0 42.5h0m0-2h0m.5-45h0m.5-3h0m2-7h0m.5-29.5h0m1-17.5h0m0 16.5h0m.5 28h0m0-18.5h0m2.5 3.5h0m0-2h0m0 4.5h0m.5 23.5h0m1 28.5h0m0-18h0m0 34h0m2.5-11h0m.5-15h0m.5-10h0m0 2h0m.5 3h0m1-5.5h0m1.5-30h0m.5 43.5h0m.5 12.5h0m0 29.5h0m0-1.5h0m0 8.5h0m.5 5h0m0 7.5h0m1-5.5h0m.5-17.5h0m.5-12.5h0m0-42h0m1 102h0m0-106.5h0m.5-2.5h0m.5 16h0m0 14h0m.5 28h0m2-38h0m.5-27h0m.5 4.5h0m0-5.5h0m2 12h0m.5 1h0m0-15h0m.5 8.5h0m.5-10h0m0 5.5h0m0 35.5h0m.5 11.5h0m.5 12.5h0m.5-12.5h0m.5 7.5h0m.5 10h0m.5-23.5h0m0-18.5h0m.5 10.5h0m.5-31h0m1.5-43.5h0m0 5.5h0m2 36.5h0m0 21.5h0m1-28h0m1-.5h0m1.5 29.5h0m.5 3.5h0m.5-10.5h0m0-16.5h0m.5-53h0m.5 75h0m0-9.5h0m0 48.5h0m0-22h0m1.5 36h0m1.5 13.5h0m0 19h0m.5-15.5h0m.5 28h0m0 0h0m0-22.5h0m.5-6.5h0m0-48.5h0m.5 30h0m1 34.5h0m.5 13h0m.5-25h0m.5-38.5h0m1-1h0m1-9.5h0m0-31h0m0-38h0m.5 32.5h0m2 5.5h0m0 16.5h0m1 16.5h0m.5-8.5h0m0 24h0m1-5h0m0 .5h0m.5 2h0m0-34.5h0m.5 47h0m.5 10h0m1-12.5h0m1-22h0m0-31.5h0m.5-11h0m0-22h0m0-8.5h0m.5 14.5h0m.5 14.5h0m0 23h0m1.5 16h0m0 15.5h0m.5-40.5h0m1.5 3h0m0 32.5h0m1 14.5h0m1 11h0m.5-35.5h0m3.5 5.5h0m.5 29h0m.5-8h0m.5 10.5h0m0 18.5h0m.5-43.5h0m0-18.5h0m.5-27h0m.5 29h0m1 4.5h0m.5-5.5h0m0 32.5h0m.5 10h0m0-13h0m.5 1.5h0m1-23.5h0m.5-12.5h0m0 16h0m.5-2h0m0-7.5h0m0-3.5h0m.5-11h0m.5-11.5h0m2.5 19h0m.5 55.5h0m1.5 26.5h0m0-31.5h0m.5 2h0m1 16h0m.5-24.5h0m.5-13h0m0-18h0m.5-10h0m.5-20.5h0m0 2.5h0m.5-17.5h0m1-38h0m.5 40h0m1 2.5h0m0 20.5h0m2.5-23h0m0-15.5h0m.5 3h0m1-25h0m0 7h0m.5 63.5h0m0 7.5h0m.5-9.5h0m.5-10h0m.5 1h0m1.5-39.5h0m0 26.5h0m.5-22h0m.5 3h0m1.5 13.5h0m0 4.5h0m0-23h0m2 131h0m.5-82.5h0m0-31h0m.5 63.5h0m0-9h0m0-9h0m.5-26h0m.5 9h0m.5 39h0m1-4.5h0m1 12.5h0m0-15.5h0m1 28h0m1-4h0m0-4.5h0m0-78h0m0 6.5h0m0-8.5h0m1.5 19.5h0m.5-20.5h0m0 18.5h0m1-5h0m0 15.5h0m.5 85h0m1-.5h0m1-90.5h0m0-76h0m.5 32h0m0 27h0m1 29h0m0 1.5h0m.5-18h0m0 11h0m2 4.5h0m1.5 37.5h0m0 37h0m0 0h0m0 7.5h0m1 0h0m0-12h0m1.5 7.5h0m0-35.5h0m.5-41h0m.5-21h0m1.5 2h0m1.5 20.5h0m.5-19.5h0m2 62h0m.5 2h0m.5 17h0m.5 16.5h0m0-49h0m0-9.5h0m.5 20h0m0 40h0m0-32h0m0-3.5h0m.5 0h0m1.5 10.5h0m.5-123h0m.5 92h0m.5 51h0m0-5.5h0m.5-6.5h0m.5 16h0m0-1h0m1-59h0m0 35h0m.5-8.5h0m0-40.5h0m.5-29.5h0m0-18.5h0m0 13.5h0m.5 0h0m0-47h0m.5 61h0m4 65.5h0m.5 10.5h0m.5-8h0m.5-29.5h0m0 22h0m.5 26.5h0m0 3h0m.5-18.5h0m.5-1.5h0m.5-3h0m0-29.5h0m0 24h0m1 18.5h0m1-10.5h0m1.5-56h0m.5 31h0m.5 17h0m.5-37.5h0m.5 52h0m.5 14.5h0m0-11.5h0m0-27h0m.5 16.5h0m0 21.5h0m.5-55.5h0m.5 15.5h0m.5 24.5h0m0-51h0m0 18.5h0m0 2.5h0m.5-3.5h0m.5-10h0m0-13h0m1.5-4h0m1-2h0m0-3h0m0-15h0m3.5-13h0m0 34.5h0m1 5.5h0m.5-31h0m0 14.5h0m0-11h0m1 11h0m.5 25.5h0m.5 11h0m3-6.5h0m0-34.5h0m0-6.5h0m1.5 24h0m.5-19.5h0m.5 1h0m.5 56.5h0m.5-43.5h0m0-27h0m1-16h0m.5-15h0m0 44.5h0m.5 4h0m1-37h0m1-.5h0m0-22h0m.5 30.5h0m0 52.5h0m.5 26h0m0-16.5h0m.5-9.5h0m0-20.5h0m1-43h0m.5 32h0m0 14.5h0m0-13h0m0 20.5h0m0 20h0m2-1.5h0m1-18h0m.5-5h0m.5 14h0m0-8h0m0 24.5h0m0-14h0m0 40h0m1-39h0m0 22h0m1-8h0m.5 18h0m.5-7h0m.5-21.5h0m.5 44.5h0m.5-50h0m1.5 23.5h0m.5 26h0m.5-27.5h0m.5 19.5h0m0-10h0m.5-7.5h0m.5-39.5h0m1.5 1.5h0m0 4h0m2 41h0m.5 6h0m1.5 5.5h0m.5-15h0m1-28.5h0m0 39h0m3-101.5h0m1 37h0m.5-31.5h0m0 25.5h0m.5 19.5h0m.5-39.5h0m1.5 2.5h0m0 21h0m.5 27h0m1-30h0m.5-14.5h0m0 53h0m0 8.5h0m.5 4.5h0m0-6.5h0m.5-4h0m1 18.5h0m0 19h0m.5 15h0m.5-34.5h0m0-6h0m.5-19.5h0m.5-6h0m1-21h0m1-18h0m1.5 10h0m.5 21.5h0m.5-1h0m.5 9.5h0m.5-29.5h0m0 8.5h0m0 11h0m.5 2.5h0m0-29.5h0m1 28h0m.5 7h0m.5-4h0m1.5-47.5h0m0 23h0m.5 13h0m.5 27.5h0m0-41h0m1-7.5h0m0-65h0m2 52.5h0m.5 11.5h0m.5 17.5h0m1 40.5h0m0-5.5h0m0 14h0m.5-40h0m.5 16h0m1 59h0m0-26h0m1-22h0m0-47h0m0-15h0m2 46.5h0m0 11h0m.5-9h0m0 31h0m0-15h0m0 22h0m1-33.5h0m1 16.5h0m.5-1.5h0m.5 5h0m1 27h0m0-5.5h0m0-19.5h0m.5-14.5h0m1 11h0m.5 37h0m1-22.5h0m.5-67.5h0m.5-21h0m0 22h0m0 4.5h0m.5-6.5h0m1 14h0m.5-13h0m0-16h0m.5 15.5h0m.5 4h0m1-49h0m1.5 31h0m.5 14.5h0m0 30h0m1-15h0m2.5 17h0m0 23h0m.5-14h0m.5 4h0m0 10h0m.5-35.5h0m1.5-27.5h0m.5 16.5h0m.5 22h0m0-10.5h0m0-31.5h0m.5 25.5h0m1 11.5h0m0 21.5h0m1-23.5h0m1.5-20h0m.5-58h0m.5-22.5h0m.5 121.5h0m2.5-23.5h0m1 5h0m0 29.5h0m0-39.5h0m0 13h0m1 37.5h0m0-51.5h0m.5-20h0m.5-45.5h0m0 15.5h0m0 4.5h0m0 38h0m.5 6h0m.5 26.5h0m.5-4.5h0m1-35.5h0m.5 17h0m1.5 25.5h0m0 .5h0m.5-5h0m0 11.5h0m0-5.5h0m.5-19.5h0m0 16.5h0m0 17h0m0-9h0m.5 25h0m1 27h0m1 0h0m3-13.5h0m0 1h0m.5-64.5h0m.5-10h0m0 3h0m.5-34h0m1-15.5h0m0 29h0m0 0h0m.5-7h0m0 28h0m0 3.5h0m.5-14h0m1.5 15.5h0m0 17h0m.5 8.5h0m.5-34h0m0-1h0m1 12.5h0m.5-2.5h0m.5 7h0m2-.5h0m3 9h0m0 3h0m3-8.5h0m0 18.5h0m1-1h0m0-21.5h0m1 37.5h0m.5-10.5h0m0-35.5h0m1-20.5h0m.5-3h0m0 20h0m.5-9.5h0m.5 20.5h0m.5 6h0m.5-5.5h0m1-65h0m.5 52h0m.5 23.5h0m0-3h0m0 63h0m.5-49.5h0m.5-36.5h0m0 57h0m.5 15h0m0 16h0m0-17h0m1.5-6.5h0m.5-2.5h0m.5-11h0m.5-.5h0m.5 29.5h0m.5-81h0m.5-28h0m1-9h0m0 12.5h0m1 18.5h0m.5 19.5h0m0-6.5h0m1.5-14h0m0 12h0m.5 7h0m0-44.5h0m0-17h0m1.5 68h0m0-16h0m1.5-32h0m.5 2h0m2 14h0m.5-11h0m.5-18h0m.5-20.5h0m.5 11.5h0m0 25h0m2 16h0m0-.5h0m1 29h0m.5 7h0m1-26.5h0m.5-31h0m2.5-26h0m0 39.5h0m.5-20h0m.5-9.5h0m.5 33h0m0 0h0m0-16h0m1 20.5h0m0 28h0m1-3.5h0m.5-19h0m0-63.5h0m.5 107h0m0 49.5h0m0-20h0m.5-7.5h0m.5-10h0m0 26h0m0-33.5h0m.5-.5h0m.5-11.5h0m.5-24.5h0m.5-4.5h0m0 81h0m0-108h0m1.5 25h0m0 20h0m0-3.5h0m1-8h0m0-1.5h0m0 31h0m.5 34.5h0m0 4.5h0m0-3.5h0m1.5-55.5h0m0-21.5h0m1-4.5h0m0 26.5h0m.5 8.5h0m.5 42h0m.5 20.5h0m.5 0h0m1.5-31.5h0m.5 21h0m2.5-81h0m0-17.5h0m1.5 22.5h0m1-7h0m0 7.5h0m1 49h0m0-18.5h0m.5 14.5h0m0 6.5h0m0-46.5h0m0-2h0m.5 7.5h0m.5 2h0m.5 9h0m0 12h0m.5-19h0m1-12h0m.5-9h0m0 63h0m.5-6h0m.5-25.5h0m1 53.5h0m0-36.5h0m0-12h0m0-1h0m.5-11h0m1 2.5h0m2-30h0m.5 2.5h0m0-22h0m.5 8.5h0m.5 64.5h0m1 6.5h0m.5-5.5h0m.5 18h0m1 9h0m.5 14h0m.5-36.5h0m.5-30h0m1-16.5h0m1 32.5h0m1 27.5h0m0 23h0m.5-72h0m.5-28.5h0m1-27h0m0 24h0m0-13.5h0m0 13.5h0m1.5 27h0m1 30.5h0m1 1h0m1.5-62h0m0 51.5h0m1.5-17h0m0 16h0m.5-1h0m.5-21h0m0-.5h0m.5 16h0m.5 2h0m.5 8.5h0m1 40.5h0m1-13h0m0-43.5h0m.5-14h0m0 15.5h0m1.5 67h0m.5 0h0m1 0h0m.5-12h0m0-25.5h0m.5-28.5h0m0 31.5h0m.5-28.5h0m1 31h0m0-6h0m.5 4.5h0m2-30.5h0m1-56.5h0m0 29.5h0m0-10.5h0m.5 6h0m1 19h0m.5 3.5h0m1 8.5h0m0 12h0m1-35h0m0-5h0m1-22.5h0m0 36h0m0 1.5h0m.5-5h0m1 51.5h0m.5-10.5h0m0 32.5h0m1.5-49h0m.5-9.5h0m0-4.5h0m0-31.5h0m.5-7.5h0m.5 16.5h0m1-24.5h0m1-33.5h0m1-7.5h0m0 36h0m.5 41.5h0m0-6h0m.5-17.5h0m1-6.5h0m0 11h0m.5-66h0m.5 72h0m0-3h0m0 34.5h0m.5 0h0m2 10.5h0m.5-22h0m.5 11.5h0m1 15h0m1 7.5h0m1.5-13.5h0m0-54h0m1-22h0m0 31h0m1 16.5h0m0 41h0m0-28h0m0-42.5h0m0 13.5h0m.5 50h0m1-56h0m.5-13h0m0 57.5h0m.5 45h0m0 10h0m.5-34h0m.5 9.5h0m.5 17.5h0m.5 2h0m.5-20h0m1.5-29h0m0 7.5h0m0 11h0m2-15h0m0-15h0m0 10h0m.5 4h0m.5 18.5h0m1-52h0m1 33.5h0m0 7.5h0m2 11.5h0m1-38h0m.5-23h0m.5-42h0m1 1.5h0m0 13.5h0m0 42h0m0 17.5h0m1-29h0m0-71.5h0m.5 133.5h0m1-24.5h0m1-17h0m0-15h0m1 36h0m0-16.5h0m.5 37h0m0-37h0m.5-21h0m0 31h0m0 25.5h0m.5-12h0m1-23h0m.5-24h0m1 33h0m.5-33h0m0 26h0m.5 12h0m.5 18h0m.5-30.5h0m0 1h0m1.5-3.5h0m0-3h0m0-12.5h0m.5 26h0m.5 32h0m1.5 14h0m.5-2h0m1-47h0m.5 1h0m1-1.5h0m.5-42.5h0m.5 13.5h0m.5 32.5h0m1 7.5h0m0-21h0m2 71h0m.5-97h0m.5 6.5h0m0-9.5h0m0-38h0m2.5 55h0m0 43h0m.5-46h0m0 16h0m.5 28.5h0m0-13.5h0m1.5 16.5h0m.5 12.5h0m.5-107h0m.5 9h0m1-1h0m.5 2.5h0m1.5 15h0m0-12h0m.5 67.5h0m0 6.5h0m2 18h0m0-52h0m2 75h0m1-41.5h0m.5 7.5h0m.5-15.5h0m1-21h0m0 31h0m.5 8.5h0m0 25h0m.5-9.5h0m0-33.5h0m.5 57h0m0 0h0m1 0h0m0-51h0m0 31h0m2-29.5h0m0-41.5h0m.5-10h0m0 15h0m0-20h0m.5 24h0m0-17.5h0m1.5 63.5h0m0-17h0m0 34.5h0m.5-20h0m0-23h0m.5-8h0m0 7h0m.5 27h0m0-19h0m1.5-4h0m.5 53.5h0m1-110h0m.5 45.5h0m.5-27h0m1-25.5h0m.5 40.5h0m.5 25.5h0m.5-19h0m2 25h0m0-18h0m.5-1h0m1 14.5h0m0 52.5h0m.5-83.5h0m0 2h0m.5-24.5h0m1.5-12.5h0m0 25.5h0m.5 5h0m0-11h0m0-43.5h0m.5 45.5h0m.5 3h0m1 18h0m.5 26.5h0m1.5-1h0m.5-5h0m1 4.5h0m0-23.5h0m1 17h0m.5-24.5h0m0 25.5h0m.5-9.5h0m1-36h0m.5 1.5h0m1.5 22.5h0m0 25.5h0m0 9.5h0m0 5h0m.5 30h0m0-5.5h0m.5 6.5h0m.5-23h0" stroke="#62BB47" stroke-opacity="0.92" stroke-width="3.4" stroke-linecap="round" fill="none"/>
<path d="M173.5 1229h0m0 22.5h0m.5-30h0m.5 38.5h0m.5-38h0m1-130h0m.5 138h0m0-5h0m0-13h0m1 1h0m1 3.5h0m0-15h0m0-38h0m.5 44.5h0m.5 10.5h0m0 16h0m1.5-20.5h0m0 22.5h0m1-21h0m0-31h0m.5-30.5h0m0-41.5h0m1 15h0m2.5 31.5h0m0 15h0m.5-3.5h0m0-18.5h0m.5 25.5h0m.5 15.5h0m0-6.5h0m0-4h0m0-6.5h0m.5-37h0m0 16.5h0m0 19h0m.5 41.5h0m.5-15h0m1 11h0m0 51h0m.5-37.5h0m0 33.5h0m.5-7h0m1-14h0m0 25.5h0m.5-39.5h0m.5-15h0m0-1.5h0m1.5 22.5h0m1 3.5h0m.5-11h0m0-46.5h0m1 3.5h0m1.5 11.5h0m0 46.5h0m0 14.5h0m.5-5.5h0m0-4h0m1 4.5h0m1.5 20.5h0m0-13h0m1-16h0m0 8h0m.5-19h0m.5-.5h0m.5 9.5h0m.5 2.5h0m2.5 28.5h0m.5 0h0m.5-14.5h0m0 0h0m.5 14.5h0m0 0h0m0 0h0m1 0h0m0-30h0m2.5 16.5h0m.5-6h0m2 15h0m.5-15.5h0m1.5-17.5h0m1-26h0m.5-2.5h0m0 19.5h0m.5-28.5h0m0-13.5h0m0 2.5h0m.5-10h0m.5-8h0m0-41.5h0m0 42.5h0m.5 16h0m.5-4h0m2-12h0m0-6.5h0m.5-12.5h0m.5-23h0m1 38.5h0m.5-22h0m.5 .5h0m2 23h0m0 32h0m0 3h0m1 45h0m0-27h0m1-59.5h0m0 26h0m.5 9h0m0 8.5h0m.5-53.5h0m0 115.5h0m0-101h0m.5-7.5h0m1 23.5h0m.5-15h0m1 35h0m0-13h0m1-63.5h0m1-30h0m1 63h0m1-14h0m1 6h0m0 20h0m.5 3.5h0m1.5-4h0m.5-7.5h0m1-7h0m1-5h0m1 19h0m0 16h0m.5 22h0m0 24.5h0m.5-31h0m0-7h0m.5 25h0m0 38h0m2-44h0m1 10.5h0m1-.5h0m0-62.5h0m0 15.5h0m0 23h0m1 2.5h0m0-19h0m1.5-26.5h0m0 26h0m1-4h0m.5-16.5h0m0 31h0m.5 72h0m0-62.5h0m0-3.5h0m.5 22.5h0m1.5 28.5h0m.5 23.5h0m1 0h0m0 0h0m1-56.5h0m1 31h0m0-4h0m0-20.5h0m.5-38.5h0m.5 51h0m.5 24h0m0-11h0m.5-12h0m.5-39h0m1 6.5h0m.5 17h0m.5 9h0m0-33h0m2 17h0m0 31h0m1.5-3.5h0m1 9h0m.5 18.5h0m.5-1h0m1-23h0m1-27h0m1 6h0m0-14.5h0m1-4.5h0m0 11.5h0m1-21h0m.5-17.5h0m.5 14h0m1.5 13.5h0m.5-4.5h0m.5-2h0m0 9h0m1 0h0m0 29.5h0m2 26h0m.5-16.5h0m0 12.5h0m.5-18h0m.5 15.5h0m.5-31.5h0m0-39.5h0m.5-6h0m0 28.5h0m1.5-125.5h0m.5 97.5h0m0-24h0m1 2.5h0m0-14.5h0m2 12h0m0 19.5h0m1 22.5h0m0 49h0m0 3h0m0 1.5h0m.5-41h0m.5 24h0m0 25.5h0m.5-85.5h0m1.5 39h0m0-14.5h0m1 0h0m0 40h0m0-5h0m1-7h0m0 21.5h0m.5-17h0m0 39.5h0m.5-6h0m0-11h0m.5 1h0m.5 5h0m.5-8.5h0m0 17h0m1-31.5h0m3-14.5h0m0-52.5h0m1.5-10.5h0m1 22.5h0m0 52.5h0m.5-54h0m1.5-7h0m.5 20.5h0m1 0h0m1-13.5h0m0 37h0m.5-4.5h0m1-54.5h0m0 36.5h0m1.5 66.5h0m1-23.5h0m1.5 1h0m.5-21h0m.5 7h0m.5 24.5h0m.5-36.5h0m0-3h0m.5 12.5h0m.5 17.5h0m0-33.5h0m.5 64.5h0m0-33h0m1.5 3.5h0m.5-5.5h0m2-10h0m.5-24.5h0m0 15h0m.5-11.5h0m0-45.5h0m.5 38.5h0m0 1h0m.5-27h0m0 32.5h0m.5 58.5h0m1-93h0m1-6h0m0 69.5h0m.5 4h0m0-13h0m1-17h0m0 14h0m0 5h0m.5-39h0m0 52.5h0m.5-14h0m0 20h0m0-55h0m0 15h0m.5-32h0m.5 95.5h0m.5-74h0m.5 7.5h0m0-18.5h0m2 31h0m.5-3.5h0m0-40h0m.5-5.5h0m0 2.5h0m0 8.5h0m.5 18.5h0m2-2.5h0m.5-11h0m0 5.5h0m0-4.5h0m.5-52h0m1-11.5h0m0 29h0m1 3.5h0m.5 33.5h0m.5 47.5h0m1 13h0m0 6h0m.5 16h0m.5 4h0m1-2.5h0m.5-1h0m.5-6h0m.5-52.5h0m2.5 17.5h0m.5 11h0m0-4h0m0-32h0m1 1.5h0m0 6.5h0m.5-29h0m.5 5h0m0 16h0m.5-18h0m.5-22.5h0m1.5 37h0m0 2.5h0m.5-34h0m0 35h0m1 4.5h0m.5-30.5h0m.5 6h0m.5 43h0m.5 18h0m1 25.5h0m.5-20.5h0m0-23.5h0m1 20h0m0-53.5h0m1.5 21h0m1 12.5h0m0-34h0m.5-62.5h0m0 32h0m0-12h0m.5 36h0m1.5 23h0m.5 58.5h0m0-50.5h0m1.5-4h0m.5-5h0m.5 1h0m.5-12.5h0m.5-16h0m1-13h0m0 4h0m.5-27h0m0 13h0m0 24h0m1-30h0m.5 8.5h0m0 14.5h0m.5 43h0m.5-5h0m.5 11.5h0m0-17.5h0m1-50.5h0m1-20.5h0m1 53h0m2 17h0m1 10.5h0m0 1h0m.5 31h0m.5 4.5h0m0-61h0m0 30.5h0m.5-3.5h0m1-23h0m.5-16h0m0-16h0m.5 49h0m.5 4h0m.5-3h0m0-15h0m1 30.5h0m0 26.5h0m.5-14h0m0-27.5h0m2 12.5h0m.5 11.5h0m.5-6.5h0m1-26h0m1 65h0m1-53.5h0m1-2h0m.5-1.5h0m.5-31h0m2 41h0m0-31h0m0 70h0m.5-48.5h0m.5-17.5h0m1 26.5h0m0 41h0m0-37.5h0m.5 19h0m.5-13.5h0m0-6.5h0m1-18h0m.5 5h0m0 17h0m.5 10h0m.5-21h0m0-29.5h0m.5-22h0m2 16h0m1.5-22.5h0m.5 3h0m0 59.5h0m.5 46h0m.5 4.5h0m.5-41.5h0m.5-32h0m.5 12h0m.5-15h0m.5 4.5h0m1-20.5h0m.5-11h0m0 23h0m.5 25h0m.5 44h0m.5-58h0m1 22h0m0-5h0m1.5-15.5h0m.5 34h0m0 3h0m1.5 29.5h0m.5-23h0m0 15h0m.5-153.5h0m0 143h0m0-21.5h0m1-28.5h0m1-39h0m1-61h0m.5 109.5h0m.5 13h0m0-26h0m0 22.5h0m0 6h0m1-3.5h0m.5-24h0m0-12h0m0 29.5h0m1-66.5h0m0 25.5h0m1 27.5h0m0-7.5h0m1-19h0m2-35h0m1 4.5h0m.5-2h0m.5-15h0m.5 13.5h0m.5 18h0m0 .5h0m0 16h0m1.5 85.5h0m0-93h0m0-8.5h0m.5-22h0m1 14.5h0m.5 27h0m.5-8.5h0m0 2h0m1-5.5h0m.5-42h0m0 15h0m1 11h0m2.5-25.5h0m.5 13h0m0 26.5h0m0 22h0m2 25h0m1.5 25h0m0-31h0m.5-11.5h0m1.5 16h0m.5-13h0m0-6.5h0m.5 31h0m1 4h0m.5 2h0m0-13h0m0 21.5h0m0-36h0m.5 31h0m.5 4.5h0m1-18h0m.5-16.5h0m0-18h0m.5-3h0m1-6h0m0 41h0m0 30.5h0m0-35.5h0m.5-.5h0m0-26h0m1.5 1h0m1 17h0m0-13h0m.5-26h0m0 5h0m.5-58.5h0m.5 49.5h0m1 92.5h0m0 2.5h0m0 4.5h0m2.5-29h0m.5-12.5h0m.5 18.5h0m0-6h0m0-2h0m.5-14.5h0m0-37.5h0m0 16h0m0-20.5h0m.5 12.5h0m0-1h0m.5 11.5h0m.5 .5h0m0 30.5h0m.5-27.5h0m0 14.5h0m.5 3h0m1-30h0m0-17.5h0m0 10h0m0-4h0m.5-17h0m.5-18.5h0m1.5-13h0m1-19h0m0 26.5h0m.5 45.5h0m.5 35h0m.5 1.5h0m0-33.5h0m1.5 32.5h0m.5-4.5h0m.5-35h0m1-85h0m1.5 110.5h0m0 14.5h0m1 55h0m1-57.5h0m.5 32.5h0m1-7.5h0m.5-.5h0m0-3.5h0m0 31h0m.5-63h0m2 10h0m3 23.5h0m.5 12h0m0-8h0m.5-11.5h0m0-15.5h0m.5 10.5h0m1-22h0m0 9.5h0m0-12.5h0m.5 20h0m1 20h0m1.5-16.5h0m1-19h0m1 11.5h0m.5-11.5h0m0 4.5h0m.5 6h0m0-8h0m1-35.5h0m1 22h0m.5 11h0m.5 45h0m1.5 1h0m0-11h0m0-24h0m0 23h0m.5-19h0m.5-28.5h0m.5 13.5h0m0 4h0m.5-49h0m.5 16.5h0m1 20.5h0m.5-11h0m1.5-3.5h0m.5 54.5h0m.5-13h0m1-13.5h0m.5 6.5h0m1-38.5h0m1 .5h0m0 7.5h0m0-8h0m.5 5.5h0m0 17.5h0m1.5 11.5h0m0 30h0m.5-3.5h0m0-10.5h0m1.5 43.5h0m2.5-11.5h0m0-40h0m1-17h0m1 23.5h0m.5-37h0m0-41.5h0m0 43h0m1.5 23.5h0m0-49h0m1.5-21h0m.5-7h0m.5 10.5h0m1-24h0m.5 32h0m0-13.5h0m0 53h0m0-27h0m.5-6.5h0m.5 2h0m.5 26.5h0m.5-30h0m1 18.5h0m.5 13.5h0m1-8h0m.5 29h0m1-14h0m0 39h0m0 26h0m0-36.5h0m0-55h0m.5 35h0m.5-35.5h0m0-8h0m.5-8.5h0m.5 .5h0m.5 19.5h0m0 34.5h0m.5 21h0m.5 8.5h0m.5-45h0m1 3h0m0-21h0m1.5-37.5h0m.5 38h0m0-40h0m.5 75h0m0-23h0m.5 18h0m2.5 11.5h0m0-2.5h0m.5 5.5h0m0 3h0m0-25h0m0-11.5h0m.5-32.5h0m1 31.5h0m.5 11.5h0m1-20.5h0m1-11.5h0m.5 9.5h0m.5 1.5h0m1-11.5h0m1.5-17h0m.5 13.5h0m1-20h0m.5 33h0m.5-20.5h0m.5 11h0m1 3h0m0 6.5h0m.5 19h0m1 40.5h0m.5 32h0m1-54.5h0m1-3h0m.5-8.5h0m.5-8h0m0 6.5h0m0-38h0m1 12.5h0m0 25.5h0m1 55h0m0-4.5h0m0 22.5h0m0-70.5h0m1.5 31h0m.5 11.5h0m1-19.5h0m.5-10.5h0m0-8.5h0m0-3h0m0-25h0m0-4h0m1 8.5h0m.5-28.5h0m.5 36.5h0m.5 11.5h0m0-114.5h0m0 129h0m.5-17h0m0 22.5h0m.5-37h0m1.5 20h0m.5-18h0m0 0h0m1.5-6h0m1 21h0m1-8h0m0 22.5h0m1.5-21.5h0m0 2.5h0m.5-14.5h0m0 26.5h0m1 9h0m0-16h0m.5 14h0m.5 13.5h0m.5 18h0m0-31h0m1.5-7h0m1-13.5h0m1.5-28.5h0m.5-6.5h0m.5-11.5h0m0 17.5h0m.5 42h0m.5-33.5h0m1.5-26.5h0m0 31.5h0m.5 41.5h0m0-20.5h0m.5 7h0m1.5 23.5h0m1-130.5h0m1 133.5h0m0-113.5h0m.5 139h0m0-7h0m.5-13.5h0m0-7.5h0m.5-28.5h0m.5 40h0m1-38.5h0m.5-38.5h0m0 37.5h0m.5-18.5h0m1 15h0m.5-1h0m0 28h0m.5-14h0m0 21.5h0m.5 9.5h0m.5 17.5h0m0-16.5h0m.5 11.5h0m2-43.5h0m.5 23.5h0m2 29.5h0m0 5h0m1-2h0m0-38.5h0m.5 40h0m1-37h0m0 17h0m1.5 3.5h0m.5-38h0m1-10.5h0m0 61h0m2.5-80.5h0m1 5.5h0m2.5-1.5h0m0 8h0m.5-24.5h0m0-13h0m.5 16h0m.5 21h0m.5 26h0m0 14h0m1.5-8h0m0 8h0m.5-33.5h0m0-1h0m1 37.5h0m.5-34.5h0m.5 21.5h0m0-2h0m0-5.5h0m.5-21.5h0m0-13h0m.5-3h0m0 33.5h0m0 31h0m.5-40h0m1-49h0m.5 1h0m1-31h0m0-12h0m.5 53h0m.5 55.5h0m.5-26h0m0 5h0m.5-3h0m0-2.5h0m0 39h0m.5-35.5h0m1 27.5h0m0-32h0m0 15.5h0m1.5-36h0m.5 43h0m1 17.5h0m0-20h0m0 4.5h0m.5-52.5h0m.5-23.5h0m1 32h0m0-18.5h0m0-11h0m1.5-15h0m0 72.5h0m.5-7h0m.5 69.5h0m1-78h0m.5 41h0m0-53.5h0m1 32h0m0-31h0m0 8.5h0m1 28h0m1 6.5h0m0-30.5h0m1.5 9h0m1.5-1.5h0m2.5 48.5h0m2 9.5h0m.5 6h0m1-7.5h0m0 16h0m1 0h0m0-5.5h0m.5-37.5h0m0-46h0m1 27h0m0 26h0m0 26.5h0m.5-45.5h0m1-27.5h0m0 4h0m.5-1.5h0m0-12h0m1 28h0m0-15h0m.5 53h0m0-11h0m0-6.5h0m.5-28h0m0-7.5h0m0 12.5h0m1-12.5h0m.5 76.5h0m.5-33.5h0m0 36h0m1.5-91h0m1-9h0m1 51.5h0m.5 5.5h0m1 9h0m0-11h0m1-15.5h0m0-27.5h0m1-5h0m0-9.5h0m.5 26h0m0-60.5h0m.5-1h0m0-7.5h0m0 11.5h0m.5 10.5h0m.5 16h0m.5 6h0m.5 10h0m1 5h0m.5 56h0m.5 1h0m0-34h0m0-23h0m1-2h0m.5 41h0m0-2h0m1-26h0m.5 16h0m0-21.5h0m1 11.5h0m.5-36h0m1 37.5h0m0-20h0m0-26h0m.5 29.5h0m1-23.5h0m1-8h0m0-.5h0m.5 21.5h0m.5 25.5h0m0-9.5h0m1 9h0m.5-14.5h0m.5 34h0m.5 24h0m.5-55h0m1.5 7h0m.5 24h0m.5-24h0m.5-1h0m2.5 40.5h0m0 28.5h0m.5-32h0m1-18.5h0m0 32.5h0m0 23h0m.5-17h0m0-4h0m0-25h0m.5 18.5h0m.5 0h0m1-30.5h0m.5-14h0m0-16.5h0m.5-7.5h0m1 6h0m0 5h0m1 18h0m.5-36h0m.5 3h0m.5 12h0m0-40h0m.5 11h0m.5-13.5h0m1 69.5h0m2 32h0m0-2h0m.5-13h0m0 21.5h0m1.5-2.5h0m0-20h0m1 14h0m.5-29h0m.5 21h0m1-8.5h0m1 12h0m0-21h0m1-17h0m.5 1h0m0-17h0m1-81h0m0 118h0m.5 43h0m1.5-20h0m.5 .5h0m.5 24h0m0-37.5h0m0-6.5h0m1 31.5h0m.5-21.5h0m0 2h0m0 12.5h0m1-12h0m0 29.5h0m0-26h0m0-4.5h0m1.5-25.5h0m0 4h0m1 4.5h0m1 47h0m1.5-80.5h0m0 46h0m.5 1.5h0m.5-18h0m.5-38h0m.5 38h0m.5-.5h0m2.5-17h0m.5-16.5h0m0 5h0m1.5-12h0m.5 4.5h0m2 4h0m1.5-11.5h0m0 35h0m0-3h0m.5 18h0m0 14h0m.5 3h0m.5 12.5h0m1 1.5h0m0-10h0m.5-6h0m.5 3.5h0m1-74h0m0-15h0m1 17h0m0 4.5h0m0 91.5h0m0-44.5h0m.5 30h0m.5-46.5h0m.5-19.5h0m1-1h0m0-23.5h0m1.5 19.5h0m0-18.5h0m1.5 9h0m1.5 17.5h0m0 41.5h0m0 32.5h0m0-13h0m1-128.5h0m0 139h0m0 7.5h0m0-8.5h0m0-9.5h0m1 19h0m0-71h0m.5 12.5h0m0 27.5h0m1.5-1h0m2-9h0m2.5 3.5h0m0 46.5h0m.5 0h0m.5-5h0m1 5h0m0-29.5h0m1-26h0m0 4h0m0 1.5h0m0 45.5h0m0-86h0m1.5 33.5h0m.5 11h0m.5 7h0m0-12h0m.5-15.5h0m2 .5h0m.5 45.5h0m.5-50h0m0 15.5h0m.5 9.5h0m0 12.5h0m.5-53h0m0 21h0m.5-58.5h0m1 42h0m.5-20h0m0 57.5h0m0 35h0m1 2.5h0m0-11.5h0m0-44h0m0 1h0m0-28.5h0m0 22.5h0m.5 28h0m1 2h0m.5-1h0m.5 5.5h0m2-40.5h0m.5 27h0m2.5-24h0m.5-23h0m0 1h0m.5 20.5h0m0-16h0m1.5 35.5h0m0-36.5h0m.5-32h0m0 34.5h0m.5-20h0m.5 1.5h0m.5 4.5h0m1-37.5h0m1-2h0m1 24.5h0m1 50.5h0m1.5-1h0m0-53.5h0m.5-6.5h0m.5-36h0m.5 88.5h0m1 5h0m.5-21.5h0m0 37.5h0m.5-16h0m.5 11.5h0m.5 24.5h0m0-19h0m.5-26.5h0m0 26.5h0m1-9.5h0m1.5 4h0m.5-12.5h0m0 16h0m0 25.5h0m.5-31.5h0m.5-2h0m0 2.5h0m.5 4h0m.5 25h0m.5-7.5h0m.5-8h0m.5-36h0m1.5 6.5h0m.5 42h0m.5 32.5h0m1-5h0m1-19.5h0m1 6h0m.5-17.5h0m0-31h0m.5 13.5h0m.5-14h0m1 13.5h0m.5-1h0m0-12h0m0 44h0m.5-21h0m0 44h0m.5-30h0m.5 4.5h0m2-48h0m.5 21.5h0m2.5 14h0m1-49h0m0-12h0m.5 29.5h0m0 18.5h0m.5-24.5h0m.5-1.5h0m1.5 11h0m.5-19h0m0-34.5h0m1 38h0m0 39h0m1-33.5h0m1 6h0m0-8h0m.5-15h0m0-4.5h0m.5 9h0m1-12h0m.5 2.5h0m.5 29.5h0m0-25.5h0m1 9.5h0m.5 32.5h0m0 9h0m1-28.5h0m.5-17.5h0m.5 1h0m1.5 23h0m.5 36.5h0m.5 10.5h0m0-11h0m0 14h0m1-26h0m.5-30.5h0m0 12h0m0-42.5h0m.5-17.5h0m1 33.5h0m.5 58h0m1-53.5h0m0-1.5h0m.5 72h0m.5-37h0m0 24.5h0m.5-171.5h0m.5 134.5h0m0-12.5h0m0 35.5h0m.5 31h0m0-10.5h0m1-9h0m0-13.5h0m2-39h0m.5-87h0m1.5 120.5h0m1.5-23.5h0m.5 65h0m.5-73.5h0m0 3.5h0m.5 28.5h0m.5-27h0m.5 39.5h0m.5 9.5h0m0-13.5h0m0 21h0m.5-4.5h0m0-14h0m0 23.5h0m.5-24.5h0m1-19.5h0m.5 18.5h0m0 14h0m0 17.5h0m.5 4.5h0m0 0h0m1 0h0m1-5.5h0m1-67h0m1 39h0m1-16.5h0m0 40h0m.5-46.5h0m.5-12h0m.5 17.5h0m1-3.5h0m1 21h0m0 33.5h0m1 0h0m.5 0h0m0 0h0m1 0h0m0 0h0m.5 0h0m0 0h0m.5 0h0m1 0h0m.5 0h0m.5-38.5h0m.5-72.5h0m.5-18.5h0m4 13h0m0-33h0m0 7.5h0m.5 22h0m0 13h0m.5 20.5h0m.5-9.5h0m0 26.5h0m0 22.5h0m.5 28.5h0m1-17.5h0m.5 17h0m.5-20.5h0m0-146h0m.5 134h0m1.5-22h0m0-11h0m.5 24.5h0m.5 51h0m.5-46.5h0m2 4.5h0m0 21.5h0m.5-35.5h0m.5 43h0m.5-3h0m1-19h0m.5-33.5h0m.5-19.5h0m0-1.5h0m.5 9h0m0-15h0m.5-2h0m.5-11h0m0 17h0m.5 49h0m.5-16.5h0m.5 2h0m2-6.5h0m.5-3.5h0m0-5.5h0m.5-12h0m1 21h0m.5 2h0m0 24.5h0m2 9h0m1-1h0m.5 15.5h0m.5-5h0m.5-51h0m.5 57.5h0m.5 21h0m.5-7.5h0m0 7.5h0m0-6.5h0m.5-23.5h0m1 10.5h0m1.5-94.5h0m0-35h0m.5-16.5h0m0-3.5h0m.5 45h0m0 29.5h0m.5-34h0m1 44.5h0m0 7h0m1.5 24.5h0m.5 3.5h0m0-22.5h0m0 13h0m.5 5h0m1 10.5h0m0-20.5h0m1-28.5h0m0-.5h0m.5-19.5h0m.5 30h0m0 31h0m1.5-15h0m0-39h0m1.5 42h0m.5-13h0m0-6.5h0m.5 29.5h0m0 52h0m.5-6h0m0-17.5h0m1-24.5h0m1.5 5.5h0m.5 3.5h0m0-36h0m.5-7.5h0m1 20.5h0m0 6.5h0m2.5 3.5h0m0-34h0m0-3.5h0m1 5h0m.5-35h0m0-17.5h0m2-15h0m1.5 65.5h0m0-12.5h0m1-12.5h0m.5 67.5h0m.5 25h0m0-38.5h0m.5 42.5h0m.5-37.5h0m1 6h0m1-12h0m0-53h0m2 8.5h0m1.5 7h0m0-16h0m1 19h0m.5 36.5h0m.5 13.5h0m.5-29.5h0m0 .5h0m.5 1.5h0m.5-22.5h0m0 9h0m1-44.5h0m.5 21h0m0 10.5h0m0 28h0m0 .5h0m.5-37h0m0 45.5h0m0 17h0m.5 43.5h0m0-9h0m.5-14.5h0m0-16.5h0m.5-45h0m1.5 31.5h0m.5-13h0m0-8h0m.5-11h0m0-46h0m.5 110h0m2 22h0m.5 0h0m0-40h0m0-14h0m1-33.5h0m0-1h0m0-25.5h0m1.5 24.5h0m.5-7h0m0-15.5h0m.5 56.5h0m1.5-23h0m0-5.5h0m.5-17h0m1-20.5h0m1.5-16.5h0m1 27.5h0m1-14.5h0m.5 14.5h0m1.5 25.5h0m1.5 11.5h0m.5-7h0m.5 18h0m.5 14.5h0m.5-35h0m.5 42.5h0m1-7.5h0m0-15h0m1 5.5h0m0 8.5h0m1-20.5h0m2 19h0m1.5-1h0m1 6h0m1-7h0m.5-44h0m0 87.5h0m0-57h0m0 5.5h0m.5 33h0m.5-16h0m.5 39h0m0-25.5h0m2.5 3.5h0m.5-19.5h0m.5 35.5h0m1-42h0m.5-3h0m0-2.5h0m0 35h0m0 10h0m.5-33.5h0m0-103h0m0 47.5h0m.5 33h0m0 3.5h0m1-5h0m.5 44h0m.5-14h0m0 23.5h0m0-127.5h0m1 90.5h0m.5-21.5h0m.5 2h0m.5-4h0m.5-20h0m0-16h0m.5 28h0m0 2h0m.5-18h0m1.5 4h0m.5 32h0m0-32h0m1.5 13.5h0m.5-30.5h0m.5-3.5h0m.5 20.5h0m2.5 6h0m1-8.5h0m0 33.5h0m.5-21.5h0m0 88h0m0-27h0m.5-40.5h0m0-10h0m.5-7h0m1-24h0m.5 8.5h0m1 22h0m1-4.5h0m.5-29.5h0m1 19.5h0m0-22h0m0 15.5h0m1 26h0m0 8h0m.5 13h0m0 4h0m0 26h0m0-4h0m0-15h0m1-45h0m0 83.5h0m.5-85h0m.5 13.5h0m.5-36h0m0 42h0m0 2h0m1-44.5h0m1 2h0m1-4h0m1 42.5h0m0 6.5h0m.5 21h0m.5-46h0m0-22.5h0m1 30h0m.5-5h0m.5-58h0m0 77h0m1.5-14.5h0m2 10.5h0m0 4h0m.5-98h0m.5 107.5h0m0 13.5h0m.5 24.5h0m0 18h0m.5-36.5h0m.5-41h0m.5 21h0m1-55.5h0m.5-8.5h0m0-.5h0m.5 31.5h0m.5-3.5h0m.5 39.5h0m1-27h0m0-31.5h0m1.5-7h0m0 37.5h0m.5 13h0m.5-57h0m0 12.5h0m.5 52.5h0m.5-1.5h0m0-7.5h0m1 25h0m1-26.5h0m.5-20h0m0 53h0m.5-24h0m.5-25h0m0 85h0m.5-58.5h0m0 35h0m0 2.5h0m1.5-36.5h0m.5-.5h0m0 17.5h0m1-21.5h0m0-4.5h0m.5 66.5h0m1.5-93h0m0 4.5h0m0 34.5h0m0 12.5h0m.5-12h0m.5 50.5h0m1-73h0m2.5-17h0m3 41h0m0 4.5h0m1.5-13.5h0m0 .5h0m1.5 36h0m.5-46h0m1-16h0m.5 4h0m0-5.5h0m0 34.5h0m0 9.5h0m1.5-14.5h0m0 45.5h0m0 16.5h0m.5-34.5h0m0 3.5h0m1 13h0m0-17.5h0m1 23.5h0m.5-23.5h0m1.5-27.5h0m0 1.5h0m1 10h0m0 11h0m.5 36h0m0-3.5h0m1-41h0m.5 4h0m.5 41.5h0m0-45.5h0m.5-2.5h0m1.5 5.5h0m0 46h0m1-3.5h0m.5-23h0m0-6h0m0-14h0m.5-27h0m1-13h0m0-28h0m1 7.5h0m.5 10.5h0m.5-9h0m.5-11.5h0m.5 27.5h0m.5-9.5h0m3 59.5h0m0 5.5h0m.5-21h0m1-12h0m0-23h0m1.5 26h0m.5-2h0m.5-3.5h0m.5 19h0m0-2.5h0m0 4.5h0m0 2h0m1 20h0m0-34.5h0m0 19h0m.5-15h0m.5-10.5h0m0-17h0m.5 20h0m1-35h0m0 9h0m.5-5.5h0m0 33h0m.5 4.5h0m.5 25.5h0m0-4.5h0m1.5 17h0m0-8h0m0 28h0m2-77h0m.5-.5h0m.5-14h0m1-5.5h0m0 27h0m.5 32.5h0m1.5-28h0m0-4h0m0 6.5h0m2-29.5h0m0 22h0m1 16.5h0m1-1.5h0m0 7.5h0m.5-11h0m1 31h0m1-2.5h0m.5-27h0m.5 1.5h0m.5-10h0m.5 7h0m.5-20h0m0-27.5h0m.5 3.5h0m0 10.5h0m1 17.5h0m1-12h0m.5-9.5h0m.5 89h0m0-84h0m1.5 11.5h0m0 .5h0m.5 18.5h0m.5-4h0m3 17.5h0m0-11.5h0m0-5.5h0m1 22.5h0m0-4.5h0m1.5-28.5h0m0-5h0m.5-21h0m0-13.5h0m1.5 3.5h0m1 20.5h0m.5 88h0m0-33.5h0m.5 35h0m0 1.5h0m0 0h0m1-7.5h0m.5-43.5h0m.5 3.5h0m0-7h0m2 47.5h0m.5-96.5h0m0-2.5h0m.5 24.5h0m.5-19.5h0m.5-30h0m1 18.5h0m0-28h0m.5 37h0m0-25h0m.5 7.5h0m.5 17h0m1.5-33h0m0-20.5h0m0 31.5h0" stroke="#4458A8" stroke-opacity="0.92" stroke-width="3.4" stroke-linecap="round" fill="none"/>
<path d="M172.5,1200.20 L177.2,1199.90 L181.9,1199.60 L186.5,1199.30 L191.2,1199.01 L195.9,1198.72 L200.6,1198.45 L205.3,1198.19 L209.9,1197.94 L214.6,1197.71 L219.3,1197.49 L224.0,1197.30 L228.7,1197.13 L233.4,1196.99 L238.0,1196.87 L242.7,1196.76 L247.4,1196.65 L252.1,1196.54 L256.8,1196.44 L261.4,1196.34 L266.1,1196.24 L270.8,1196.15 L275.5,1196.05 L280.2,1195.97 L284.8,1195.88 L289.5,1195.80 L294.2,1195.72 L298.9,1195.65 L303.6,1195.58 L308.2,1195.52 L312.9,1195.46 L317.6,1195.41 L322.3,1195.36 L327.0,1195.32 L331.7,1195.28 L336.3,1195.25 L341.0,1195.23 L345.7,1195.21 L350.4,1195.20 L355.1,1195.20 L359.7,1195.20 L364.4,1195.20 L369.1,1195.20 L373.8,1195.21 L378.5,1195.21 L383.1,1195.21 L387.8,1195.22 L392.5,1195.22 L397.2,1195.23 L401.9,1195.23 L406.5,1195.24 L411.2,1195.25 L415.9,1195.25 L420.6,1195.26 L425.3,1195.27 L429.9,1195.28 L434.6,1195.29 L439.3,1195.30 L444.0,1195.31 L448.7,1195.33 L453.4,1195.34 L458.0,1195.35 L462.7,1195.37 L467.4,1195.38 L472.1,1195.40 L476.8,1195.41 L481.4,1195.43 L486.1,1195.45 L490.8,1195.47 L495.5,1195.48 L500.2,1195.50 L504.8,1195.52 L509.5,1195.54 L514.2,1195.56 L518.9,1195.59 L523.6,1195.61 L528.2,1195.63 L532.9,1195.65 L537.6,1195.68 L542.3,1195.70 L547.0,1195.73 L551.7,1195.75 L556.3,1195.78 L561.0,1195.81 L565.7,1195.85 L570.4,1195.92 L575.1,1196.02 L579.7,1196.12 L584.4,1196.25 L589.1,1196.38 L593.8,1196.52 L598.5,1196.66 L603.1,1196.80 L607.8,1196.94 L612.5,1197.07 L617.2,1197.19 L621.9,1197.30 L626.5,1197.38 L631.2,1197.45 L635.9,1197.49 L640.6,1197.50 L645.3,1197.49 L650.0,1197.48 L654.6,1197.45 L659.3,1197.42 L664.0,1197.38 L668.7,1197.33 L673.4,1197.28 L678.0,1197.22 L682.7,1197.16 L687.4,1197.09 L692.1,1197.03 L696.8,1196.96 L701.4,1196.89 L706.1,1196.83 L710.8,1196.76 L715.5,1196.70 L720.2,1196.64 L724.8,1196.59 L729.5,1196.54 L734.2,1196.49 L738.9,1196.46 L743.6,1196.43 L748.3,1196.41 L752.9,1196.40 L757.6,1196.40 L762.3,1196.40 L767.0,1196.40 L771.7,1196.40 L776.3,1196.41 L781.0,1196.41 L785.7,1196.41 L790.4,1196.42 L795.1,1196.42 L799.7,1196.43 L804.4,1196.44 L809.1,1196.44 L813.8,1196.45 L818.5,1196.46 L823.1,1196.47 L827.8,1196.48 L832.5,1196.49 L837.2,1196.50 L841.9,1196.51 L846.6,1196.52 L851.2,1196.53 L855.9,1196.54 L860.6,1196.55 L865.3,1196.56 L870.0,1196.57 L874.6,1196.59 L879.3,1196.60 L884.0,1196.61 L888.7,1196.63 L893.4,1196.65 L898.0,1196.67 L902.7,1196.69 L907.4,1196.72 L912.1,1196.75 L916.8,1196.78 L921.4,1196.82 L926.1,1196.85 L930.8,1196.89 L935.5,1196.93 L940.2,1196.97 L944.8,1197.01 L949.5,1197.06 L954.2,1197.10 L958.9,1197.15 L963.6,1197.20 L968.3,1197.25 L972.9,1197.30 L977.6,1197.36 L982.3,1197.41 L987.0,1197.46 L991.7,1197.52 L996.3,1197.58 L1001.0,1197.64 L1005.7,1197.71 L1010.4,1197.79 L1015.1,1197.87 L1019.7,1197.95 L1024.4,1198.04 L1029.1,1198.13 L1033.8,1198.22 L1038.5,1198.32 L1043.1,1198.42 L1047.8,1198.53 L1052.5,1198.63 L1057.2,1198.75 L1061.9,1198.86 L1066.6,1198.98 L1071.2,1199.10 L1075.9,1199.22 L1080.6,1199.34 L1085.3,1199.47 L1090.0,1199.60 L1094.6,1199.73 L1099.3,1199.87 L1104.0,1200.00" fill="none" stroke="#62BB47" stroke-width="2.4"/>
<path d="M172.5,1202.00 L177.2,1201.92 L181.9,1201.85 L186.5,1201.77 L191.2,1201.71 L195.9,1201.64 L200.6,1201.58 L205.3,1201.52 L209.9,1201.46 L214.6,1201.41 L219.3,1201.36 L224.0,1201.32 L228.7,1201.27 L233.4,1201.23 L238.0,1201.20 L242.7,1201.16 L247.4,1201.13 L252.1,1201.10 L256.8,1201.08 L261.4,1201.06 L266.1,1201.04 L270.8,1201.03 L275.5,1201.02 L280.2,1201.01 L284.8,1201.00 L289.5,1201.00 L294.2,1201.00 L298.9,1201.01 L303.6,1201.02 L308.2,1201.04 L312.9,1201.06 L317.6,1201.09 L322.3,1201.12 L327.0,1201.15 L331.7,1201.19 L336.3,1201.23 L341.0,1201.27 L345.7,1201.31 L350.4,1201.36 L355.1,1201.41 L359.7,1201.46 L364.4,1201.51 L369.1,1201.56 L373.8,1201.62 L378.5,1201.67 L383.1,1201.73 L387.8,1201.78 L392.5,1201.84 L397.2,1201.89 L401.9,1201.94 L406.5,1202.00 L411.2,1202.05 L415.9,1202.11 L420.6,1202.18 L425.3,1202.25 L429.9,1202.33 L434.6,1202.41 L439.3,1202.50 L444.0,1202.59 L448.7,1202.68 L453.4,1202.77 L458.0,1202.87 L462.7,1202.97 L467.4,1203.07 L472.1,1203.17 L476.8,1203.27 L481.4,1203.37 L486.1,1203.46 L490.8,1203.56 L495.5,1203.65 L500.2,1203.74 L504.8,1203.83 L509.5,1203.91 L514.2,1203.99 L518.9,1204.06 L523.6,1204.13 L528.2,1204.19 L532.9,1204.24 L537.6,1204.29 L542.3,1204.33 L547.0,1204.36 L551.7,1204.38 L556.3,1204.40 L561.0,1204.40 L565.7,1204.39 L570.4,1204.37 L575.1,1204.33 L579.7,1204.28 L584.4,1204.23 L589.1,1204.16 L593.8,1204.08 L598.5,1204.00 L603.1,1203.90 L607.8,1203.80 L612.5,1203.70 L617.2,1203.59 L621.9,1203.47 L626.5,1203.35 L631.2,1203.23 L635.9,1203.11 L640.6,1202.98 L645.3,1202.84 L650.0,1202.66 L654.6,1202.46 L659.3,1202.23 L664.0,1201.99 L668.7,1201.73 L673.4,1201.47 L678.0,1201.20 L682.7,1200.93 L687.4,1200.66 L692.1,1200.40 L696.8,1200.16 L701.4,1199.93 L706.1,1199.70 L710.8,1199.47 L715.5,1199.24 L720.2,1199.01 L724.8,1198.78 L729.5,1198.55 L734.2,1198.33 L738.9,1198.13 L743.6,1197.93 L748.3,1197.74 L752.9,1197.57 L757.6,1197.41 L762.3,1197.25 L767.0,1197.09 L771.7,1196.92 L776.3,1196.76 L781.0,1196.60 L785.7,1196.46 L790.4,1196.33 L795.1,1196.22 L799.7,1196.12 L804.4,1196.05 L809.1,1196.01 L813.8,1196.00 L818.5,1196.01 L823.1,1196.04 L827.8,1196.07 L832.5,1196.12 L837.2,1196.18 L841.9,1196.25 L846.6,1196.33 L851.2,1196.42 L855.9,1196.50 L860.6,1196.60 L865.3,1196.69 L870.0,1196.79 L874.6,1196.89 L879.3,1196.99 L884.0,1197.09 L888.7,1197.20 L893.4,1197.32 L898.0,1197.45 L902.7,1197.59 L907.4,1197.74 L912.1,1197.89 L916.8,1198.04 L921.4,1198.20 L926.1,1198.37 L930.8,1198.53 L935.5,1198.69 L940.2,1198.86 L944.8,1199.04 L949.5,1199.22 L954.2,1199.40 L958.9,1199.59 L963.6,1199.78 L968.3,1199.98 L972.9,1200.19 L977.6,1200.40 L982.3,1200.62 L987.0,1200.85 L991.7,1201.08 L996.3,1201.33 L1001.0,1201.60 L1005.7,1201.88 L1010.4,1202.17 L1015.1,1202.47 L1019.7,1202.78 L1024.4,1203.09 L1029.1,1203.40 L1033.8,1203.71 L1038.5,1204.02 L1043.1,1204.32 L1047.8,1204.61 L1052.5,1204.91 L1057.2,1205.20 L1061.9,1205.49 L1066.6,1205.78 L1071.2,1206.07 L1075.9,1206.36 L1080.6,1206.65 L1085.3,1206.94 L1090.0,1207.23 L1094.6,1207.52 L1099.3,1207.81 L1104.0,1208.10" fill="none" stroke="#4458A8" stroke-width="2.4"/>
<rect x="1182.6" y="984.9" width="54.2" height="282.5" fill="#BEBEBE"/>
<rect x="1275.5" y="984.9" width="33.4" height="282.5" fill="#BEBEBE"/>
<rect x="1340.9" y="984.9" width="44.0" height="282.5" fill="#BEBEBE"/>
<rect x="1410.3" y="984.9" width="24.4" height="282.5" fill="#BEBEBE"/>
<rect x="1465.2" y="984.9" width="26.2" height="282.5" fill="#BEBEBE"/>
<rect x="1549.9" y="984.9" width="53.6" height="282.5" fill="#BEBEBE"/>
<rect x="1632.7" y="984.9" width="29.5" height="282.5" fill="#BEBEBE"/>
<rect x="1690.1" y="984.9" width="36.7" height="282.5" fill="#BEBEBE"/>
<rect x="1758.2" y="984.9" width="24.6" height="282.5" fill="#BEBEBE"/>
<rect x="1808.0" y="984.9" width="31.5" height="282.5" fill="#BEBEBE"/>
<rect x="1864.6" y="984.9" width="30.9" height="282.5" fill="#BEBEBE"/>
<rect x="1919.8" y="984.9" width="33.0" height="282.5" fill="#BEBEBE"/>
<rect x="1980.7" y="984.9" width="27.9" height="282.5" fill="#BEBEBE"/>
<rect x="2035.9" y="984.9" width="25.3" height="282.5" fill="#BEBEBE"/>
<rect x="2085.7" y="984.9" width="9.7" height="282.5" fill="#BEBEBE"/>
<line x1="1180.1" y1="1267.4" x2="1182.6" y2="1267.4" stroke="#000" stroke-width="1"/>
<text x="1172.4" y="1275.4" font-size="22.5" text-anchor="end" fill="#000" >0</text>
<line x1="1180.1" y1="1173.2" x2="1182.6" y2="1173.2" stroke="#000" stroke-width="1"/>
<text x="1172.4" y="1181.2" font-size="22.5" text-anchor="end" fill="#000" >0.005</text>
<line x1="1180.1" y1="1079.1" x2="1182.6" y2="1079.1" stroke="#000" stroke-width="1"/>
<text x="1172.4" y="1087.1" font-size="22.5" text-anchor="end" fill="#000" >0.010</text>
<line x1="1180.1" y1="984.9" x2="1182.6" y2="984.9" stroke="#000" stroke-width="1"/>
<text x="1172.4" y="992.9" font-size="22.5" text-anchor="end" fill="#000" >0.015</text>
<path d="M1184.5 1252.5h0m1.5 12h0m0-5h0m.5 2.5h0m1-7h0m.5 0h0m.5-13h0m.5 22.5h0m.5-24h0m2.5 1h0m1-16.5h0m0 25.5h0m0-15h0m.5-6.5h0m1 15h0m.5 2h0m0 6h0m3.5-.5h0m.5-11.5h0m.5 11h0m.5-8.5h0m0-11.5h0m.5-4.5h0m.5-23.5h0m1.5 60.5h0m0-46.5h0m1.5 49h0m1-70h0m0 21.5h0m.5 11h0m0-3.5h0m0 17.5h0m1.5 5.5h0m.5 14h0m.5 2.5h0m.5 1h0m0 1h0m.5-.5h0m.5-4.5h0m1 0h0m0 5.5h0m.5-5h0m1.5-2.5h0m0 3h0m.5-.5h0m1.5 2.5h0m0-1h0m0 1.5h0m1-5.5h0m0 3h0m.5-.5h0m2-3h0m0-11h0m0-15.5h0m.5 18.5h0m0-15h0m1 0h0m.5-15.5h0m0-11.5h0m.5 23.5h0m0 5h0m.5 8h0m.5-3h0m0 23.5h0m.5-38.5h0m1 16.5h0m1-44h0m1 62h0m.5-22h0m0 3.5h0m1 19h0m1-13.5h0m0-13.5h0m.5 6h0m.5 2h0m0 4h0m0 14.5h0m3-3.5h0m1 7.5h0m.5-1h0m.5-3.5h0m0-9h0m.5 6.5h0m.5-12h0m1-26.5h0m0 41.5h0m0-26h0m2 10.5h0m.5 13.5h0m1 1.5h0m1-11h0m.5-14.5h0m.5-8h0m0 30.5h0m0-.5h0m.5 1.5h0m0-5h0m1 0h0m.5 5h0m2.5 .5h0m.5-4.5h0m.5-1.5h0m1 1h0m.5-31h0m.5-1h0m.5 24.5h0m.5-.5h0m.5-2.5h0m1.5 11.5h0m0-2h0m1.5 5.5h0m1 6.5h0m0-2.5h0m0-5.5h0m0-7h0m1 1.5h0m0 4.5h0m0-3h0m0-5h0m1-11h0m1.5-18.5h0m.5-5.5h0m0 21.5h0m.5 5.5h0m.5 16.5h0m0-8h0m1-6.5h0m0-15.5h0m.5 39.5h0m0-4.5h0m2.5-31.5h0m0 1h0m0 9h0m.5 5.5h0m.5 20h0m0-3.5h0m.5 3.5h0m.5-.5h0m1 0h0m.5-2h0m0 2.5h0m.5-.5h0m1.5-.5h0m.5 1.5h0m.5-5h0m.5-4.5h0m2 3.5h0m0 1h0m2-38.5h0m2.5 39h0m.5-8.5h0m1 7h0m0-7h0m1.5 6h0m.5 3h0m0-2.5h0m.5 5h0m0-5h0m.5-3h0m1 9h0m0-4h0m0 1.5h0m.5-6h0m.5 6h0m.5-4h0m0 0h0m.5-2.5h0m.5 4.5h0m1.5-.5h0m.5-9h0m0-9h0m.5-42h0m1 22.5h0m1.5 8.5h0m0 19h0m1-23h0m2.5 13h0m.5-8h0m.5 19.5h0m1 2h0m0-6.5h0m0-4.5h0m.5 5.5h0m1.5-10.5h0m0 2h0m0-13h0m1 10.5h0m1.5 23h0m.5-17h0m.5-17.5h0m0 7h0m.5 4h0m.5 10.5h0m0-12.5h0m.5 1.5h0m0 7h0m1-19h0m1 19h0m1.5-12.5h0m.5-23h0m0 39.5h0m0-11h0m.5 27.5h0m3-28h0m.5-15h0m0 18.5h0m1.5 10.5h0m2.5 4h0m.5-9h0m0-14h0m.5 16.5h0m2.5 3.5h0m0-7h0m0-2h0m0 4.5h0m1.5 14h0m0-9h0m.5 9h0m2-7h0m.5-9h0m0-18.5h0m.5 10.5h0m.5 12h0m1-1.5h0m0 .5h0m1-1.5h0m0 1h0m.5-18.5h0m0 0h0m1-19.5h0m.5 23h0m1.5 16h0m0-12h0m.5 16h0m0 7h0m0 3h0m0-1.5h0m2.5 1h0m.5 1.5h0m.5-4h0m.5-30h0m1 9.5h0m.5 12.5h0m0-6.5h0m1 11h0m0 6.5h0m2 1h0m0-8.5h0m0 7h0m.5-10h0m1.5 7h0m.5 3h0m.5-4.5h0m0-1.5h0m1 5.5h0m.5-6h0m.5-2.5h0m.5 13.5h0m0-21.5h0m.5 1.5h0m0-8.5h0m0-10h0m.5-19h0m1-14h0m1.5 17.5h0m1 16h0m.5 15h0m1 12h0m1.5-20.5h0m0 11.5h0m1-16.5h0m.5 17.5h0m0 7.5h0m2-9h0m0 4h0m.5 7.5h0m1-16h0m0 15.5h0m.5 4h0m.5-5h0m1.5-15h0m1 5h0m1 10h0m.5 6h0m1-22.5h0m1 12h0m0 .5h0m2.5 9.5h0m.5 2.5h0m.5 1.5h0m0-3.5h0m1-4h0m.5-.5h0m0 .5h0m1-4h0m.5-10h0m1 9h0m.5 4h0m0-6h0m.5 4h0m.5 7.5h0m0-.5h0m0 2.5h0m0-3.5h0m1-6.5h0m0 4.5h0m1 0h0m.5-3h0m0-12h0m.5-9.5h0m.5 2h0m1 .5h0m1-16h0m1-1.5h0m1 1.5h0m1 24h0m.5 15.5h0m0 1h0m1.5-19h0m0 12h0m.5 8.5h0m0-5h0m.5-6.5h0m.5-2h0m0 7.5h0m2-13h0m0-4h0m.5-6.5h0m1.5 11h0m0-35h0m0 19h0m0 25h0m.5 4.5h0m0 3h0m0-13h0m1 1.5h0m.5 8h0m0 6h0m.5-3.5h0m.5 1h0m1.5-1.5h0m0-10.5h0m.5 11h0m2 1.5h0m.5-3.5h0m.5 5.5h0m1-5.5h0m.5-15.5h0m.5 22h0m.5-33h0m.5 9h0m.5 1h0m1-3h0m1 2h0m1-18.5h0m1 13.5h0m0-12.5h0m1 12.5h0m0-26.5h0m.5-21.5h0m1 9h0m0 39.5h0m.5 13h0m2 15.5h0m1.5-7h0m0 1h0m2-4h0m.5-1.5h0m1 8.5h0m1 2h0m1-2.5h0m0 1h0m.5 3h0m.5-1.5h0m0-5h0m0 4h0m.5-4.5h0m0-5.5h0m0-7h0m.5-4.5h0m0 2h0m2 5.5h0m1-11h0m1.5 14.5h0m.5-15h0m0 18h0m.5 1h0m2-3h0m1 10h0m1-4.5h0m0-11h0m1 10.5h0m0 0h0m.5-8.5h0m.5-8h0m.5-11.5h0m.5 24h0m.5 1h0m.5-13.5h0m0 16.5h0m1 5h0m1-1.5h0m.5 2.5h0m.5 .5h0m.5 1h0m4-18h0m1.5 1h0m.5 10.5h0m0-19h0m1 1.5h0m.5-14.5h0m0 25.5h0m0 10.5h0m0 3h0m1.5-3.5h0m0-1h0m0-.5h0m.5-3.5h0m0-2.5h0m1-2h0m1 4.5h0m1.5 4.5h0m1-3h0m1-10h0m.5 5.5h0m.5-1.5h0m1 2.5h0m.5-5.5h0m0 9h0m1.5-20.5h0m.5-26.5h0m0 10.5h0m0 10.5h0m1 23h0m.5-10h0m0-1h0m1-1h0m0 15h0m.5-7.5h0m.5-25h0m1.5 21h0m0 3h0m.5-15.5h0m0-6.5h0m0-6h0m.5-66.5h0m0-10.5h0m0 31h0m.5 71.5h0m.5 2h0m.5 10h0m.5 3.5h0m1-10h0m1 6.5h0m2-18h0m.5 11h0m1 1h0m1-22.5h0m0-9.5h0m.5 8h0m0 4.5h0m1 29h0m.5 2.5h0m0-3h0m0 1h0m1.5 .5h0m1-7h0m1 5h0m2-3.5h0m.5-.5h0m.5-4h0m.5-2h0m0-26h0m0-9h0m1-28.5h0m1 31h0m1 8h0m0-2.5h0m1.5-32h0m1-8.5h0m1 20.5h0m.5 33.5h0m0 1h0m1 14h0m1 5.5h0m1 1.5h0m0 0h0m.5 1h0m0-11h0m.5 0h0m0 7.5h0m.5-2.5h0m.5 7h0m.5-1.5h0m0-9.5h0m1-8.5h0m2 23h0m1-16.5h0m0 1h0m.5 4h0m1 10.5h0m.5 .5h0m.5-15.5h0m2.5-11.5h0m.5 7.5h0m.5-33h0m2-16.5h0m.5 21.5h0m0 4h0m1-15.5h0m.5 55h0m.5-24h0m2 28h0m0-13.5h0m1 1.5h0m.5 9.5h0m.5-6h0m0 4h0m.5-41.5h0m0 7.5h0m1.5 10.5h0m.5-3.5h0m.5 13h0m.5 4.5h0m0-5h0m1 16.5h0m0 .5h0m1-12.5h0m0-8.5h0m.5 1h0m.5-.5h0m.5 19.5h0m.5-5.5h0m1 1h0m0 4.5h0m0-20.5h0m.5-7h0m0 20h0m0 7.5h0m1.5-18h0m0 3.5h0m.5 4.5h0m0-18h0m.5-5.5h0m.5-5.5h0m0-28.5h0m.5 10.5h0m0 17.5h0m.5 41.5h0m.5-5h0m.5-1.5h0m0-.5h0m.5 2h0m.5-28h0m0 17h0m.5 4h0m0 4h0m2 2h0m0-7h0m1 3h0m1.5-6.5h0m.5-39.5h0m.5 19.5h0m0 15h0m1.5 7.5h0m1-16.5h0m0-2h0m.5-1h0m.5 10h0m0 23.5h0m2-43h0m1-27h0m.5 34h0m1 18h0m1.5 6h0m0 3.5h0m0 8.5h0m0-3.5h0m.5-26.5h0m.5 15h0m2-11.5h0m.5-21h0m0 31h0m1-2.5h0m0 10h0m.5 4h0m2.5 3h0m2.5 1.5h0m.5-16.5h0m0 7.5h0m1.5-46h0m1 4h0m1.5 10h0m0 30.5h0m0-30h0m.5 28h0m.5 4h0m0-7.5h0m2 4h0m1.5 13.5h0m.5-.5h0m.5-.5h0m.5-6h0m0 0h0m1.5-15h0m0-10h0m.5-11.5h0m.5-2h0m.5-42.5h0m.5-1.5h0m2 .5h0m.5 28h0m.5 24h0m.5 24.5h0m0 11h0m.5 1.5h0m.5-4h0m0 1.5h0m3.5-.5h0m.5 .5h0m.5-2h0m0-4.5h0m1-18h0m0 17h0m.5-28h0m.5 10.5h0m0 12.5h0m.5 4h0m.5-15.5h0m.5-6h0m.5-19h0m1 20h0m.5-20.5h0m.5 14.5h0m2-1.5h0m0 17h0m.5 6h0m0 5.5h0m1-11h0m.5-9.5h0m.5 29.5h0m.5-2.5h0m.5-2.5h0m.5 4.5h0m1 1.5h0m1-7h0m0 .5h0m2 2.5h0m.5-21h0m.5 23h0m1-12h0m1 10h0m0 1h0m.5 0h0m.5-5.5h0m.5-5h0m0 3h0m.5 1h0m0-5h0m0-10.5h0m0 8h0m1.5-6h0m0-3.5h0m.5 11.5h0m0 3.5h0m3.5 1h0m1-34h0m0 4h0m.5-8h0m1-6h0m1 24h0m0-3.5h0m0 24h0m0 7h0m.5-5h0m1 1.5h0m1.5 2.5h0m0-7h0m.5 1h0m0 7.5h0m3-10h0m1.5 5.5h0m0-1.5h0m.5 .5h0m.5 8.5h0m1-7.5h0m.5-7.5h0m0-2h0m.5 3h0m.5 6.5h0m.5-5.5h0m1.5-13.5h0m0 5h0m.5 13h0m0-28.5h0m.5 5h0m1-31.5h0m0 42.5h0m0 14.5h0m2 3.5h0m.5 .5h0m0 3h0m.5 .5h0m1-.5h0m2.5 0h0m.5-1h0m.5-.5h0m.5 .5h0m.5-.5h0m.5-1.5h0m0 2h0m0-3h0m.5-3h0m1-2.5h0m0 1.5h0m1 0h0m2-3h0m.5-3.5h0m.5 .5h0m.5-20h0m0-3.5h0m0-23h0m0-16h0m1.5 65.5h0m0-.5h0m1.5-58h0m.5 47h0m1.5-21.5h0m1 34h0m1 8h0m0-7h0m.5 0h0m0-1.5h0m.5-9.5h0m0 6.5h0m.5 10h0m.5-2.5h0m.5 2h0m0-14.5h0m1.5-1.5h0m.5-6h0m.5 17h0m.5-2.5h0m0-3h0m0-7.5h0m1.5 13h0m.5-6.5h0m1-14h0m0 8h0m1 6.5h0m.5-5.5h0m1-12.5h0m2 8.5h0m0-11.5h0m1.5-29.5h0m.5 5.5h0m0 16h0m.5-7.5h0m.5-22.5h0m1.5-15h0m.5 19h0m1 0h0m1.5 29h0m.5 6h0m0 11.5h0m.5 8.5h0m0 0h0m0 4.5h0m0-1.5h0m.5-.5h0m.5 7h0m1.5 .5h0m0 4h0m1-8.5h0m.5-.5h0m0 2.5h0m2-17.5h0m.5 0h0m0-14.5h0m1 21h0m.5-3.5h0m.5-6h0m0-3.5h0m.5 .5h0m.5 5h0m.5-53h0m0 14h0m1 9.5h0m1 21h0m0 4.5h0m0-4h0m1.5 18.5h0m1-22.5h0m.5 33.5h0m.5-48.5h0m1 52h0m1.5-34h0m.5 21.5h0m.5-7h0m0-15.5h0m0-42h0m1 48.5h0m.5-13h0m1-25.5h0m0 34.5h0m1 20.5h0m1 6h0m.5-4.5h0m0 5h0m.5 4h0m1-7h0m1-4.5h0m.5 11.5h0m0-13h0m.5 9h0m.5 3h0m3-45h0m0 7h0m0 1h0m0 7.5h0m.5 0h0m.5 18h0m4 5h0m.5-12h0m1-10.5h0m.5 2h0m1-26h0m0 35h0m.5 18h0m0 1h0m.5-5h0m0 6.5h0m0-3h0m.5 1.5h0m.5-5.5h0m1-10h0m0 1h0m1 10.5h0m1 4h0m1-9.5h0m.5-8h0m0 4.5h0m1 0h0m1-24h0m0 2h0m.5-21h0m.5 23h0m.5 14h0m0 7.5h0m.5 2h0m.5-14.5h0m.5 15.5h0m.5-14h0m.5 12h0m1-6.5h0m0 10h0m0 1h0m2-40.5h0m0 23.5h0m.5 1h0m0 6.5h0m.5 14.5h0m1-5.5h0m.5 2.5h0m0 4.5h0m.5-4h0m1-2h0m.5 7h0m.5-6.5h0m2.5 6.5h0m.5-3.5h0m0 2.5h0m1.5 1.5h0m.5-4h0m.5-7.5h0m2-9h0m0-10h0m.5 7.5h0m.5 14.5h0m0 2h0m.5-.5h0m0 0h0m1 .5h0m.5-10h0m0 0h0m.5-5.5h0m.5-8.5h0m1.5-12h0m1 3h0m0 37h0m1-30h0m.5-8.5h0m0 7.5h0m.5 21.5h0m1-19.5h0m.5 7.5h0m.5-11h0m.5 23h0m0-3.5h0m1.5 10.5h0m0 2h0m3-12h0m.5 0h0m0 6.5h0m1-20h0m0-2h0m1 19.5h0m0 4.5h0m0-22h0m1.5 17.5h0m2.5 8.5h0m0-16.5h0m0-1h0m1-35h0m.5 21h0m.5-1.5h0m1.5-6h0m.5 2.5h0m0 17.5h0m1-14h0m0-9.5h0m.5-5h0m.5 18h0m.5 10h0m1.5 12.5h0m2 8h0m1-.5h0m1-4.5h0m1.5-76h0m1 21h0m0-.5h0m0 8h0m0 15.5h0m1.5-8h0m0 1.5h0m.5 24h0m.5 9.5h0m0-8h0m0-8h0m.5 .5h0m.5 20h0m0-4h0m.5 4h0m0 .5h0m.5-1.5h0m0-15h0m3-5.5h0m.5 12.5h0m0-16h0m.5 6h0m.5 9.5h0m0-18.5h0m1 16.5h0m0-17.5h0m4 21.5h0m.5 4h0m0-13h0m1 8.5h0m.5 8h0m0 0h0m0 7h0m.5-11h0m.5-3h0m.5 7.5h0m.5 4.5h0m2-49.5h0m0 21h0m.5-34.5h0m1 61h0m.5-17h0m.5 12.5h0m0-3h0m.5-6.5h0m1-6h0m0-2h0m1 13.5h0m.5-7h0m0-20h0m.5 1.5h0m.5-21.5h0m.5 26h0m3 16h0m1-8h0m.5 25h0m0-1.5h0m.5 0h0m1.5-4h0m.5 .5h0m1 5h0m1.5-6.5h0m0 2h0m.5-2h0m0 1h0m1 1.5h0m.5-6.5h0m1 7h0m0-3h0m0 4h0m1-8.5h0m.5-4.5h0m0 13.5h0m0-5h0m.5-6h0m1.5-8h0m.5 13.5h0m1.5 6.5h0m0-1h0m.5 0h0m0-2.5h0m0 3.5h0m.5 .5h0m0-5h0m0 6.5h0m1 0h0m0-2.5h0m1.5-5h0m0-12.5h0m1.5-2h0m.5 12.5h0m.5-13.5h0m.5 13h0m2.5-5h0m0-9.5h0m.5 18.5h0m.5-7h0m0 2h0m2.5 5h0m.5-3h0m1 3h0m0-6h0m1 4.5h0m.5 6.5h0m0-1.5h0m0-1h0m0-10.5h0m.5-30h0m1 0h0m1 20h0m0 20h0m.5-14h0m1 8.5h0m.5-12.5h0m.5 19.5h0m.5-10h0m.5 6h0m0-4h0m1 4.5h0m1-1.5h0m.5-4h0m0 6h0m1-1.5h0m0 5h0m0 1.5h0m1.5 0h0m0-1.5h0m3.5-4.5h0m1-28.5h0m0-.5h0m0 2h0m.5 3.5h0m.5 28h0m0-24h0m0-5.5h0m.5 8.5h0m.5-8.5h0m0 8h0m0-13h0m.5 5.5h0m0 9h0m.5 1h0m4-10h0m.5 29.5h0m1.5-34.5h0m.5 1h0m.5 15.5h0m.5 18.5h0m1-8.5h0m1 2.5h0m0-20.5h0m1-4h0m.5 10.5h0m.5 6h0m.5-3.5h0m1-1h0m1 5h0m1 2h0m1-25.5h0m.5 19h0m1.5-7h0m.5 23.5h0m0-2.5h0m1-6.5h0m0-7.5h0m.5 7h0m0 2.5h0m.5-25.5h0m.5 18h0m1-20.5h0m1-4h0m0 21h0m0-14.5h0m1-23h0m1 35.5h0m1 9h0m0-.5h0m1-5h0m0-6h0m0 13h0m.5-16h0m1 4h0m0 14.5h0m.5 1h0m0-22h0m.5 11.5h0m0 2.5h0m2.5 7h0m1 2.5h0m.5 1.5h0m.5-13h0m0 14.5h0m.5-43.5h0m2 14h0m.5-8.5h0m1 21h0m0 7.5h0m.5-.5h0m0-9h0m.5 15h0m0-2.5h0m1 8h0m0 1h0m.5-1.5h0m.5 1h0m.5-2.5h0m0-9.5h0m1 0h0m.5-37.5h0m1-1h0m1 17.5h0m4 20h0m.5-8.5h0m0-3.5h0m.5 2h0m.5 8h0m.5-6h0m.5 7.5h0m.5-17h0m1.5 9h0m.5-9.5h0m.5 10h0m2 9.5h0m2-5.5h0m0 9.5h0m2-7h0m1-13.5h0m.5 12h0m.5-10h0m.5-8h0m1 13.5h0m0-7h0m1.5 13.5h0m0-17.5h0m1 17.5h0m0-7h0m0 7.5h0m.5 14h0m.5-.5h0m.5 1.5h0m.5-1.5h0m.5 0h0m1 0h0m0-1h0m.5-4.5h0m0-1h0m.5 1.5h0m.5-2.5h0m0 4h0m.5-34.5h0m.5 40.5h0m0-21h0m.5-1h0m1-10.5h0m.5 18.5h0m.5 8h0m.5-5.5h0m.5 9.5h0m1.5-11.5h0m.5-6h0m0 16.5h0m.5-3.5h0m0-4h0m.5 3.5h0m.5 .5h0m.5-20.5h0m.5 3h0m1 21h0m0-5h0m1 6.5h0m1-8h0m0-3.5h0m1.5 9h0m.5-11.5h0m.5-2.5h0m1.5 10h0m1-8.5h0m.5-16.5h0m.5 10.5h0m.5-3.5h0m.5 19.5h0m0-13h0m.5-9h0m.5 1.5h0m1 3.5h0m.5-18.5h0m0 21.5h0m1-11.5h0m0 7h0m1-5.5h0m.5 0h0m.5-18h0m0 45h0m1.5-37.5h0m.5 17h0m0 19.5h0m.5-2.5h0m1.5-9h0m0 7h0m.5 4h0m1-2h0m1-14.5h0m.5-6h0m0 19.5h0m0-5.5h0m1-1h0m1.5 7.5h0m1 5h0m2-.5h0m0-15.5h0m0-24h0m2 2.5h0m.5 20h0m0 3.5h0m0-3.5h0m1 8h0m0 6h0m.5-3h0m0-3h0m.5 4.5h0m1 6h0m.5-13.5h0m0-21h0m.5 2.5h0m0 19h0m1 5.5h0m1-1h0m1-14h0m1.5 7h0m0 16h0m1-5h0m.5-13.5h0m1-1.5h0m.5 4h0m0 6h0m1.5-.5h0m0-13h0m1 3.5h0m0-10.5h0m2 2.5h0m.5-16h0m.5 4.5h0m0 8.5h0m1 8h0m2-9h0m.5 1.5h0m1 1.5h0m0-5.5h0m.5 12.5h0m1.5 10h0m0-6.5h0m1-12h0m0-9h0m0-3h0m1-17.5h0m.5 25h0m2 22.5h0m.5 6.5h0m0 6h0m0-5.5h0m.5-4.5h0m.5-8h0m.5 11h0m1 4h0m.5-4.5h0m1-6.5h0m1 12h0m0-12h0m0 10.5h0m.5-4.5h0m.5-6h0m.5 11.5h0m0-23h0m0-3.5h0m0-1.5h0m.5-2.5h0m2 11.5h0m0 17h0m2 1.5h0m1-1h0m.5 3h0m0-1.5h0m.5-5.5h0m0-3.5h0m1.5 5.5h0m0-30.5h0m1 4.5h0m1 13h0m0 11.5h0m.5 1.5h0m.5 .5h0m.5 .5h0m1.5 3.5h0m.5 .5h0m.5-4h0m1.5-9h0m1.5-20h0m1 14h0m0 18h0m.5-20h0m0-8h0m3 16.5h0m0-14h0m.5 8h0m.5-8.5h0m2 11.5h0m.5 11h0m.5-3.5h0m.5-2.5h0m.5 6.5h0m1-7.5h0m1.5 11.5h0m0-10.5h0m0 5.5h0m0-11h0m.5-3.5h0m1 10.5h0m0 7.5h0m.5-2h0m.5-.5h0m2-4.5h0m0-2h0m.5 .5h0m0 3.5h0m1 3.5h0m1.5-1.5h0m2.5-14h0m0 5.5h0m1 6.5h0m.5 1h0m.5-.5h0m.5-2.5h0m0-22.5h0m.5 31.5h0m0-36.5h0m.5-17.5h0m.5 4h0m0 9.5h0m.5-16.5h0m.5 8h0m0 2.5h0m0 8.5h0m.5-12.5h0m.5 18h0m1 17h0m2-2h0m1.5 9.5h0m.5 5.5h0m.5 1h0m0 .5h0m.5-11h0m0 8h0m.5 .5h0m1.5-11.5h0m1 8h0m.5-8.5h0m0-16.5h0m0 13.5h0m.5-18h0m0 14.5h0m.5-17.5h0m.5 1h0m0-15h0m2 31h0m0 18h0m0-6.5h0m.5-9h0m0-12h0m1 17.5h0m.5-17h0m0-12h0m.5 6.5h0m0 11h0m.5-14.5h0m.5 13h0m0 8h0m1.5-1h0m0-3h0m2 21.5h0m2-16.5h0m.5 3.5h0m.5 2.5h0m0-3.5h0m.5 2.5h0m1.5 4h0m.5-12h0m4-12.5h0m.5 0h0m1 9.5h0m1-5h0m1 28h0m.5-12.5h0m0 0h0m.5-.5h0m1-12h0m.5 8h0m0 1h0m.5-10h0m0 23.5h0m1-12.5h0m0-26h0m.5 8h0m1-27h0m0 15.5h0m1-11h0m0-17h0m2.5 43h0m.5-9.5h0m1 18.5h0m0 11h0m1 2h0m0-12.5h0m1.5-4h0m1-4h0m0 13h0m0 10.5h0m.5-11.5h0m0-6.5h0m0 4h0m.5 6.5h0m0-7h0m.5 14h0m0 .5h0m2 5h0m.5-.5h0m2-25.5h0m0-19h0m.5-27.5h0m0-21.5h0m0 24h0m1-7.5h0m.5 37.5h0m1-3.5h0m0 23.5h0m1-5.5h0m.5 16h0m.5-12h0m0 8.5h0m.5 10h0m1-9.5h0m0-5h0m2.5 16h0m0-7.5h0m0-2.5h0m1-3.5h0m.5 2h0m1.5 .5h0m0-9.5h0m1-17h0m1 0h0m1 32h0m.5-2h0m.5-7h0m0-26.5h0m.5 3.5h0m.5 32h0m0 .5h0m1.5-2h0m1.5 3h0m0-3.5h0m1.5-5.5h0m.5 14h0m1.5-11.5h0m0 5h0m0 4.5h0m0 3h0m.5-3h0m0 3h0m1-1.5h0m.5 1h0m0 0h0m1-2h0" stroke="#D79A2B" stroke-opacity="0.92" stroke-width="3.4" stroke-linecap="round" fill="none"/>
<path d="M1183.5 1245.5h0m.5 11.5h0m0-35.5h0m1.5 6h0m1 10.5h0m0 6.5h0m.5 13h0m.5 1.5h0m0-21h0m.5 6h0m0-2.5h0m.5 3h0m.5-24.5h0m0 10h0m0-10.5h0m.5 4h0m.5 3h0m.5-5.5h0m0-5.5h0m1 45h0m.5-43h0m.5-10h0m.5 58.5h0m.5-24h0m0 0h0m.5 4h0m.5-7h0m.5-4.5h0m1.5-2h0m0-8.5h0m2-12.5h0m0 49h0m.5-10.5h0m0-5.5h0m.5-13h0m0-12.5h0m.5-1.5h0m.5-2.5h0m0-6.5h0m.5-32.5h0m.5 41h0m0 20h0m0-47h0m1 17.5h0m.5-2.5h0m.5-27h0m.5 12h0m.5 44.5h0m0 26.5h0m1.5-30.5h0m1-17.5h0m.5 13.5h0m0-10.5h0m1 51.5h0m0-23h0m1-10.5h0m.5 3h0m0 10.5h0m.5-13.5h0m0 11h0m.5 1.5h0m1.5-24.5h0m0-7.5h0m0-9h0m1.5-34.5h0m.5-42h0m1 71.5h0m.5-9h0m0 44h0m0 8h0m.5 14.5h0m0-.5h0m.5 1.5h0m.5 4h0m1-1.5h0m.5-36.5h0m.5 11h0m0 .5h0m0 8h0m.5 17.5h0m0-7h0m0 7.5h0m.5 1h0m.5-22h0m.5 1h0m0-3.5h0m.5-19h0m0 21h0m.5-4h0m0-7.5h0m2.5-49h0m0 80h0m1-105h0m.5 8.5h0m0 11.5h0m0-17h0m.5 17h0m.5 58h0m.5 16.5h0m0-29.5h0m0-16.5h0m.5 2.5h0m.5-15.5h0m1 26h0m0 24.5h0m0 16h0m0 3.5h0m.5 0h0m0 .5h0m0-1h0m0-1h0m.5-7.5h0m0-4.5h0m0-25h0m0-2.5h0m.5 14h0m0-30h0m.5 .5h0m.5-13h0m0 75.5h0m1-71h0m0-1h0m1 17.5h0m0 3.5h0m0 0h0m1 .5h0m.5 48h0m0-14.5h0m2-37h0m0 22.5h0m0-8h0m.5 8h0m0-14h0m0 8.5h0m.5 26h0m.5-3h0m.5 11.5h0m0-38h0m0-28.5h0m0 22h0m0 16.5h0m1.5 9h0m0-5h0m2-11.5h0m1 9h0m0-12h0m0 28h0m.5 1h0m0-2h0m0 2h0m1-6h0m1.5 11.5h0m0-3.5h0m.5 1h0m0-3.5h0m.5 3h0m1-8.5h0m1.5-20h0m.5 31h0m.5-21.5h0m1 4.5h0m1.5 9.5h0m.5-3.5h0m0-4h0m0-2h0m1.5 9.5h0m0-3h0m.5-22.5h0m0-17.5h0m.5 33.5h0m0 23h0m0-15h0m.5-3.5h0m.5-2h0m0-35h0m.5 1h0m.5 14.5h0m0-15h0m0-5.5h0m1-80.5h0m.5 30.5h0m0-28.5h0m.5 25h0m0-49.5h0m0 22.5h0m.5 135.5h0m0 5h0m0-134.5h0m.5 10.5h0m.5 50.5h0m.5 28.5h0m1 15h0m0 13h0m0-16.5h0m.5-23h0m.5-4.5h0m0 11h0m.5-9h0m1 5h0m0 4.5h0m0 23.5h0m0-5.5h0m1 16h0m1-3h0m.5 0h0m.5-10.5h0m0-2.5h0m.5 6.5h0m0 15.5h0m1-1h0m.5-25h0m0-7.5h0m.5-5h0m.5-40.5h0m0 0h0m.5 36h0m.5-11h0m0 27h0m1-24h0m1.5-7h0m0 10h0m.5 12.5h0m0 15.5h0m.5-13.5h0m0 8h0m.5 5.5h0m.5 0h0m0-19h0m1 46h0m0-30h0m0 7h0m.5 7.5h0m.5-8.5h0m1 18.5h0m1.5 0h0m0 3.5h0m0 2h0m.5-8h0m.5 0h0m0 3.5h0m0-8h0m0-6h0m.5 18.5h0m.5-4.5h0m0-6.5h0m1-4.5h0m.5 11.5h0m.5 .5h0m0 2h0m.5-13.5h0m1-24h0m1 10.5h0m0 32h0m0-29.5h0m0 28.5h0m.5-3.5h0m.5-60.5h0m.5-19.5h0m.5 49.5h0m0 32h0m0-3h0m.5-25h0m0 11h0m1-3.5h0m0-9h0m0 29.5h0m1.5-18h0m0 4h0m0 16.5h0m1-10h0m0-14h0m1.5 7h0m.5 3.5h0m.5-12h0m0-22h0m.5 25.5h0m1 21.5h0m1.5-44.5h0m.5 20.5h0m.5 13h0m.5-29.5h0m1-53h0m.5 9.5h0m.5 7h0m0 32h0m0 16.5h0m.5 2h0m.5-7h0m0 15.5h0m.5-6h0m.5 1.5h0m.5 5h0m0-22.5h0m.5 2.5h0m0-6h0m.5 5.5h0m0 10.5h0m.5 22.5h0m1.5-31.5h0m0-32.5h0m.5 11.5h0m0 22.5h0m0 8.5h0m.5 16h0m.5-2h0m0-9.5h0m.5-13h0m.5 16h0m0 3h0m2-34h0m0 21.5h0m0-1h0m.5 5h0m.5-2.5h0m0 4h0m0-3.5h0m.5-.5h0m.5 7.5h0m.5 15h0m0-24h0m0 10.5h0m.5-15h0m0 14h0m0 .5h0m1-11.5h0m1 6.5h0m1-1.5h0m.5 7h0m.5 5h0m.5-11.5h0m0-7.5h0m.5 3.5h0m0-2.5h0m1-19.5h0m0 36.5h0m2-32h0m.5 11.5h0m.5-2h0m0 2h0m.5-14h0m0 15h0m.5-9.5h0m0 17h0m1.5 26.5h0m0-14h0m1 3.5h0m0-7.5h0m0-2.5h0m.5 5h0m0 8.5h0m.5 3.5h0m.5 3.5h0m.5-1h0m.5-1.5h0m1-5h0m.5-3h0m0-7h0m.5-23h0m0 2.5h0m.5 12.5h0m0-26.5h0m1-13.5h0m.5 65h0m.5-94.5h0m1.5 70.5h0m0-1h0m0 10.5h0m0 6h0m0 3.5h0m.5-9h0m.5 4h0m0-26.5h0m.5-17h0m2 27.5h0m0-2h0m.5 7.5h0m.5-8.5h0m0-4h0m0 24.5h0m.5-10.5h0m0-37h0m0 24.5h0m.5-33h0m0 23.5h0m1-26h0m0-38.5h0m1 59h0m0-53.5h0m.5 35.5h0m.5 12h0m.5 .5h0m.5-23h0m0 43.5h0m1.5-47.5h0m.5 14.5h0m.5-24h0m0-56.5h0m.5 3.5h0m.5 14.5h0m0-7.5h0m0 135h0m1.5-127h0m0 46h0m1-1h0m.5-28h0m.5-2h0m.5-7h0m.5 25h0m.5 63h0m.5 27.5h0m1 2.5h0m.5-4h0m1.5-6h0m.5 5.5h0m.5-10.5h0m1-11h0m.5 9h0m0 3h0m0-9h0m0 8.5h0m.5-9.5h0m0 1.5h0m0-1h0m.5 6.5h0m.5-33.5h0m1 3.5h0m1 17h0m1-26h0m0 54h0m0-21h0m0-27.5h0m.5 14.5h0m.5-48h0m.5-.5h0m.5 17h0m.5 8.5h0m0-35h0m0-28h0m.5 19.5h0m0 58.5h0m.5 39.5h0m0 5.5h0m.5-15h0m.5-.5h0m.5-.5h0m.5-20h0m0-18h0m.5-25h0m0-4.5h0m0-9.5h0m1-54.5h0m0-2.5h0m0 64.5h0m0 57.5h0m0 16.5h0m.5-6h0m0-16h0m.5-4h0m0 3.5h0m0-2.5h0m.5-22.5h0m0 10.5h0m2-2h0m1-32.5h0m.5 32.5h0m0 20.5h0m.5 13.5h0m1.5-9.5h0m.5-18h0m0-76.5h0m.5 87.5h0m0-53h0m0 13h0m0 18.5h0m1.5 12.5h0m.5 14.5h0m0-3.5h0m1.5-18.5h0m0-8.5h0m.5-72.5h0m1.5 61.5h0m0 34.5h0m.5 10h0m.5 16.5h0m.5-46.5h0m0-14.5h0m.5 21.5h0m.5-12h0m.5-40.5h0m0-18.5h0m0-33h0m0 7h0m.5 30h0m.5 2h0m0-35.5h0m1.5 15.5h0m.5-.5h0m.5 77.5h0m0 24.5h0m0-23.5h0m0 22h0m1-23h0m0 13h0m.5-9h0m1.5-7.5h0m2 57.5h0m0-27h0m.5 3h0m0 7h0m.5-14.5h0m0-11h0m.5 22h0m.5 6.5h0m1 14.5h0m.5-48.5h0m0-34h0m.5-17.5h0m.5 43.5h0m1 19h0m0 13h0m.5-21.5h0m0-21.5h0m.5 17.5h0m0 13h0m.5-60h0m.5 1h0m0 53h0m.5 4.5h0m0 7h0m.5 3.5h0m0 20.5h0m.5-2.5h0m.5 3.5h0m1-9.5h0m0 2h0m0 4.5h0m0-.5h0m1.5 7.5h0m.5-38h0m.5-23h0m.5 33.5h0m0-14h0m0 40.5h0m1-61h0m0-17.5h0m.5 11h0m0 20h0m.5 4h0m.5 19h0m1-2.5h0m0 28.5h0m.5 1.5h0m1.5-43.5h0m.5-4.5h0m0 37.5h0m.5-8.5h0m0 7.5h0m1-3.5h0m.5 9.5h0m0-8h0m.5 8h0m.5-12h0m0 14h0m.5-36.5h0m.5 13.5h0m.5-20h0m.5 11.5h0m.5 35h0m.5-54.5h0m0 5.5h0m.5 8h0m0 16h0m0 4.5h0m0-5.5h0m.5 6h0m0 16h0m1.5 5h0m1-31h0m0 20.5h0m.5 4.5h0m0 3h0m0-10h0m0 11.5h0m.5-32h0m1 12h0m0-4h0m.5 8h0m0 7.5h0m1 2h0m0-3h0m1-3h0m.5-2h0m.5-28.5h0m0 13h0m0 14.5h0m2-3h0m0-23.5h0m1 10h0m.5-2.5h0m1-4.5h0m.5 2.5h0m0-26.5h0m.5-24h0m.5 25h0m0 16h0m0 17h0m1-2h0m0-21h0m.5 .5h0m.5 3h0m0 16.5h0m.5-9.5h0m.5 18h0m1-2h0m0 11h0m.5-7h0m.5-1.5h0m.5 3h0m0-12h0m1.5 16.5h0m0 10.5h0m0-15h0m.5-1.5h0m0 7.5h0m0-1.5h0m0-12h0m.5-22h0m1-22.5h0m.5 24.5h0m.5-22.5h0m0 67.5h0m.5-31h0m0 2.5h0m1 12h0m0 11h0m.5 5h0m.5-3h0m.5-7h0m.5-30h0m0 13h0m2.5-7.5h0m0 11.5h0m0-4.5h0m.5 3h0m1 6h0m0 1.5h0m.5-1h0m0-11h0m1.5 12h0m.5-6h0m.5 3h0m0 3h0m.5 7h0m0 11.5h0m0-20.5h0m0-3h0m.5 15h0m0 2.5h0m.5-6.5h0m.5-46.5h0m0 61.5h0m2-52.5h0m0 12h0m0-19h0m.5 1h0m0 26h0m0 9h0m1.5-10.5h0m0 12.5h0m0-7.5h0m1 20h0m.5-2h0m0-16h0m.5-15.5h0m.5 8.5h0m1 17h0m0 2.5h0m.5-27h0m0-25.5h0m1 69.5h0m0-33h0m.5-8h0m1.5-.5h0m1-15h0m.5 13.5h0m1 18.5h0m0 14.5h0m0-10.5h0m.5-13h0m.5 10h0m0-24h0m0-65.5h0m.5 106h0m.5-57h0m0 23.5h0m1.5-10h0m0-12.5h0m.5 9.5h0m.5-31.5h0m0-40.5h0m1-27.5h0m.5-5h0m0 32h0m0 65h0m.5 .5h0m0-7h0m0 42h0m.5 3.5h0m0-3h0m0-9h0m0-3.5h0m1.5-23.5h0m0-18.5h0m0-10.5h0m.5 83h0m.5-51h0m1 30.5h0m0 12h0m1-4.5h0m0 11h0m1-20.5h0m.5 15h0m0-2.5h0m.5-27h0m0 18.5h0m1-7.5h0m0-3h0m0 15h0m.5 14.5h0m2-27.5h0m0 3.5h0m0-26h0m0 8h0m.5-2.5h0m1 8h0m.5 14h0m0-14h0m0 20.5h0m1-22.5h0m.5 20h0m0 22h0m.5-35.5h0m0-16.5h0m0 23.5h0m.5 2h0m.5 4.5h0m.5 12h0m0-3.5h0m.5-1.5h0m0-11h0m.5 5.5h0m0 2h0m.5 12h0m0-8h0m1 5h0m0-.5h0m.5-6h0m0-6.5h0m0-16.5h0m1 25.5h0m.5-21h0m0-45.5h0m.5 31.5h0m0-36.5h0m.5 18.5h0m1-22.5h0m.5 91h0m0-84h0m.5-1h0m0 25h0m2-11h0m1 31h0m.5 22h0m0-25h0m2.5-2h0m.5-1.5h0m.5-34.5h0m.5 30h0m0-10.5h0m1 18.5h0m0-3.5h0m.5 4h0m.5 2h0m1 12.5h0m0 14h0m0 5.5h0m.5 4h0m.5 1h0m1-8.5h0m0-27.5h0m.5 13.5h0m0 6.5h0m.5-1h0m1-12.5h0m.5-12h0m0-.5h0m.5-39.5h0m.5 24.5h0m0-36.5h0m.5 28h0m0 24h0m0 31h0m1 8.5h0m.5-16.5h0m0-19.5h0m.5 39.5h0m.5-52h0m0 31h0m.5 16.5h0m0-3h0m.5 7h0m0-8h0m0 5.5h0m.5-16.5h0m.5-2.5h0m.5 17h0m.5 6h0m.5 1.5h0m0 0h0m0-1h0m1-8h0m0 3.5h0m.5-1h0m0-9h0m0-6h0m1 8h0m.5 2.5h0m1 7.5h0m0-5.5h0m0-3h0m.5 .5h0m0-4h0m.5 8.5h0m.5-21h0m.5 3.5h0m.5 4h0m0 7h0m0 5.5h0m1-37.5h0m0 41h0m.5-69.5h0m0 .5h0m1 18.5h0m0 9h0m0 24.5h0m1-6.5h0m1-12h0m0 28h0m.5-7h0m2-3.5h0m.5-2.5h0m0 7.5h0m.5 7.5h0m1 8.5h0m.5-14h0m.5-8h0m.5 7.5h0m0 0h0m0-3.5h0m1-4.5h0m0-12h0m.5-25.5h0m.5-9h0m.5-9h0m.5-7.5h0m.5-38h0m.5-43.5h0m3 155.5h0m0-13.5h0m1.5 17h0m1-8.5h0m0 1h0m1-5h0m1-1.5h0m0-5.5h0m0 23h0m.5-18.5h0m.5 18h0m.5-26.5h0m0-10.5h0m.5-12.5h0m.5 53.5h0m0-31.5h0m0-9h0m.5-13.5h0m.5 7h0m.5-4h0m1.5 1.5h0m0-37.5h0m.5 14h0m0 6h0m0 21h0m1.5 8.5h0m.5 26h0m0-6h0m.5 2h0m0 0h0m1-16.5h0m1 3.5h0m.5 9.5h0m0 5.5h0m0 4.5h0m0 9h0m0-23.5h0m.5-17.5h0m.5 9.5h0m2 8.5h0m0 5.5h0m0 16h0m.5-15h0m0 18h0m.5-29.5h0m1-11.5h0m0 35h0m.5-17h0m.5 7h0m1.5-11h0m.5 .5h0m1.5-27h0m.5 15h0m0 10.5h0m0-18h0m.5-9h0m.5 3h0m.5-32h0m0 10.5h0m0 44h0m0-48.5h0m.5-30h0m1 22h0m0-26.5h0m1 9.5h0m0 8.5h0m.5 23h0m0-6h0m1-26.5h0m1 104.5h0m.5-130h0m0 77.5h0m0-12h0m.5 7.5h0m.5 42h0m.5-7h0m0 22h0m0-19h0m0 4h0m.5 7h0m0 3.5h0m.5 3h0m.5-4h0m0-24.5h0m.5-4h0m1.5 2.5h0m.5-23h0m0-.5h0m.5-9h0m1-39.5h0m.5-22.5h0m0 126h0m0-128.5h0m.5 81h0m.5-2h0m0-14h0m0-48.5h0m.5 112.5h0m.5-37.5h0m.5 8.5h0m.5 25.5h0m.5-26.5h0m.5 11h0m0 15h0m.5 2h0m0-5.5h0m1-4h0m0-1.5h0m0-6h0m.5-24h0m0-4.5h0m.5 11.5h0m0-48h0m.5 24.5h0m0-18.5h0m0 48h0m1-17.5h0m0 11.5h0m0-43h0m0 42h0m.5-23h0m0 4.5h0m0-15h0m.5 44.5h0m.5-18h0m1 5h0m0 19.5h0m1.5-21h0m.5-17h0m0-18h0m0 14.5h0m0-9h0m0 15.5h0m1 7h0m0 1.5h0m.5 21h0m0-7.5h0m1 9h0m.5 4h0m.5-25h0m0 21h0m.5 5h0m.5 .5h0m.5-7.5h0m1 9h0m.5-13h0m0-16h0m.5-7.5h0m2 9.5h0m.5-10.5h0m.5 28.5h0m0-7.5h0m.5 3.5h0m.5 19.5h0m0-1h0m0-6h0m0 7.5h0m.5-1.5h0m0 .5h0m0 2h0m1-6.5h0m.5-10h0m0 12.5h0m0-14.5h0m1-21h0m0-14.5h0m.5-28h0m.5 26h0m0-12.5h0m1 28h0m0 17h0m.5 13h0m0-1h0m.5 10h0m.5-6.5h0m0-8.5h0m.5 10h0m0 2h0m1-15h0m1 1h0m0 25.5h0m.5-79h0m0 9h0m.5 43.5h0m.5 23h0m1-38h0m1 21h0m.5-6h0m0-15h0m0-22.5h0m0 40h0m1 3.5h0m1.5-1h0m0-18.5h0m.5 29h0m.5-9.5h0m1.5 20h0m0-8h0m.5-2h0m1 5h0m.5-.5h0m0-18.5h0m0 9.5h0m.5-8h0m.5 16.5h0m.5-5.5h0m.5-3.5h0m.5-16.5h0m0-3.5h0m1-32h0m.5 22h0m.5 1.5h0m0-23.5h0m0 44.5h0m1 0h0m0-10.5h0m1.5-4h0m0 12h0m.5-4.5h0m0-16.5h0m1 25.5h0m0 11h0m0-19.5h0m.5-58h0m0 13.5h0m.5 21.5h0m.5 36h0m0 .5h0m1 2h0m0-9h0m.5 5.5h0m.5 8.5h0m.5 3h0m0 .5h0m1.5-8h0m0-26h0m0 6h0m0 14.5h0m.5-7h0m.5-11h0m0-35.5h0m.5 6.5h0m.5 37h0m1.5-4h0m0 32.5h0m0-18h0m.5-10h0m0 10.5h0m0 4.5h0m1-11h0m.5-16.5h0m0-6.5h0m0 14.5h0m.5-1h0m0 4.5h0m0-33.5h0m0 30h0m1 9.5h0m0-20.5h0m0-4h0m1-23.5h0m.5-41.5h0m0 15h0m0 20.5h0m2 2.5h0m0-.5h0m3 41h0m0 14h0m2.5 11.5h0m0-6h0m0-4.5h0m.5-18h0m0-25h0m0-34.5h0m.5-19h0m0 66.5h0m.5-8h0m0 24.5h0m.5-8h0m.5-25.5h0m.5 8.5h0m0 37.5h0m0-18.5h0m.5-4.5h0m.5-.5h0m.5-47h0m.5 22h0m.5 26h0m.5-2.5h0m.5-24h0m1.5 7h0m.5 5.5h0m.5-5h0m0 41h0m1-1h0m.5-10.5h0m1 5h0m.5-19.5h0m0 18h0m.5 3h0m.5 5h0m0-8h0m0-8h0m.5 4.5h0m0 5h0m0 11.5h0m.5-3.5h0m0 2h0m0-21h0m1 12.5h0m.5 13h0m0 7.5h0m.5 5.5h0m.5 0h0m0-8h0m0-8.5h0m0-1.5h0m0 2h0m1 8h0m0 3h0m0-5.5h0m.5-37.5h0m.5 13.5h0m0 8h0m.5 4h0m.5 9h0m0 1h0m.5-2h0m1-.5h0m1.5 .5h0m.5 16.5h0m1-16.5h0m1-15h0m1-19.5h0m0 20h0m0 13h0m.5-20h0m1.5-28h0m0 19h0m1.5-12.5h0m1-14.5h0m.5-46.5h0m.5-9.5h0m0 65.5h0m0 1.5h0m0 9.5h0m0-24h0m0 12h0m.5-13.5h0m0-1h0m.5 6h0m0 32h0m0 17h0m2 10.5h0m1-5h0m0-3.5h0m0-20h0m.5 36h0m.5-12h0m0-29.5h0m1-4h0m1 18.5h0m.5-15h0m1.5 16h0m.5 17h0m.5 1h0m0-12.5h0m.5-23h0m.5-2.5h0m1 32.5h0m1 7h0m0 0h0m.5-6h0m0-2h0m.5 4h0m0 1h0m.5 11h0m0-40h0m0 13.5h0m0-1.5h0m1.5 31.5h0m0-18h0m.5-57h0m.5 38.5h0m0 17h0m.5 8.5h0m1.5 2h0m0-11h0m0 .5h0m.5 18.5h0m1-49h0m0 4.5h0m.5 3.5h0m.5 15h0m0 23.5h0m.5-53h0m0-70.5h0m.5 17h0m.5 2h0m0-6h0m.5 28.5h0m.5 6.5h0m0 25.5h0m0-8.5h0m.5 26h0m0 0h0m0-21h0m0 3h0m.5-9.5h0m1-1h0m0-16.5h0m.5 42h0m1-20h0m.5 4h0m0 29h0m.5 8h0m0-5.5h0m0-26h0m1-22.5h0m1 56h0m1-33h0m0 30h0m1 10.5h0m1 5.5h0m1 1.5h0m0-31.5h0m.5-4h0m0 12.5h0m.5 20.5h0m.5 1.5h0m0-25h0m.5-24.5h0m0 36.5h0m.5 3.5h0m.5 1h0m1.5-9h0m0-2.5h0m0-47h0m.5-10h0m0 6.5h0m.5 11h0m0 26.5h0m0 9.5h0m0-26h0m.5-30.5h0m.5 24h0m0 25h0m.5-2h0m0 2h0m2 7.5h0m.5-8.5h0m1-27h0m.5 29h0m.5-16.5h0m.5 3.5h0m0-7h0m.5 2.5h0m0 49.5h0m.5-84h0m.5 47h0m.5 3.5h0m1 5h0m0-3h0m0-9.5h0m1 13.5h0m1 2.5h0m0-18h0m1.5-5h0m0 7.5h0m.5-8.5h0m.5 40.5h0m.5 5h0m0-1.5h0m.5-9h0m0-6h0m0 4.5h0m.5-11.5h0m0 .5h0m0 3h0m.5 2.5h0m0-5h0m.5 4h0m0 8.5h0m0-8.5h0m.5-40.5h0m.5 5h0m0 30.5h0m0-13.5h0m1 9.5h0m.5-24h0m.5 2h0m0 5h0m.5 5h0m2.5-6.5h0m.5 9.5h0m.5 3h0m.5 2h0m0-10.5h0m0 6.5h0m.5-9.5h0m.5-8.5h0m0-12.5h0m.5 36h0m0-8.5h0m0 27.5h0m.5-8.5h0m0 2.5h0m1-12h0m.5 8h0m0 9h0m0 6h0m.5-15.5h0m1 11h0m.5 1h0m0-8h0m1-4.5h0m.5-1.5h0m0 5.5h0m0 8h0m1.5 4.5h0m.5 1.5h0m1-8h0m.5-4.5h0m2 8h0m0-.5h0m0-10h0m0 16h0m.5-7.5h0m0-23h0m0 24.5h0m.5-9.5h0m.5 8h0m0 .5h0m.5-8h0m1 0h0m0 2.5h0m0 8h0m1 2.5h0m.5-6h0m0-5h0m1-14h0m0 10.5h0m.5-6.5h0m0-29h0m1-18.5h0m.5 8.5h0m0 70h0m0-59.5h0m0 35h0m.5-18.5h0m0-13h0m2.5-7h0m0 1h0m.5 36h0m0-2.5h0m0 10.5h0m.5-39.5h0m0 24.5h0m2.5 16h0m1.5 5h0m.5-9.5h0m0 10.5h0m.5-10h0m0 6h0m.5-16.5h0m.5-25.5h0m.5 9.5h0m0 6.5h0m0-6h0m1 4.5h0m.5 2h0m0-1.5h0m.5 12.5h0m0-29.5h0m.5-1h0m1.5-7h0m0-9h0m.5 38.5h0m0 30.5h0m.5 6.5h0m0-20h0m.5 12h0m0 6.5h0m0-8h0m.5-14h0m.5 3h0m0-15.5h0m0-8.5h0m.5-7h0m1 51.5h0m.5-22.5h0m0-12h0m.5 5.5h0m1 8h0m.5-11.5h0m0 2.5h0m.5 11h0m0 4.5h0m.5 1h0m0-14.5h0m0-3h0m0 13.5h0m1 7h0m0 1h0m1.5 6h0m.5 1.5h0m0-16.5h0m0-1h0m0 1.5h0m0-6.5h0m3 2h0m0 .5h0m.5 7.5h0m1.5-20h0m.5-18h0m.5-20.5h0m0-21.5h0m.5 45.5h0m.5-24.5h0m0 2h0m1 39h0m0 31h0m.5-11h0m0 1.5h0m0 .5h0m0 3h0m1 6h0m.5-2h0m.5-3h0m1-16h0m0 20h0m0-4.5h0m.5 .5h0m0 3h0m0-6h0m0-9.5h0m.5-14h0m0 8h0m.5-19h0m0 27.5h0m1 4h0m0 .5h0m1-11.5h0m.5-1.5h0m0 7.5h0m0-1h0m1-1.5h0m.5 3.5h0m.5-34.5h0m0-32h0m.5 78.5h0m0-61h0m1.5 5h0m.5-38.5h0m1.5 33h0m0-19.5h0m.5 20h0m0-4h0m0 12.5h0m0 4.5h0m0 18.5h0m.5-13.5h0m.5 4.5h0m.5-15h0m.5 1.5h0m0-1.5h0m1-50h0m1 22.5h0m0 45.5h0m.5-7.5h0m.5-18h0m.5-4h0m.5 41.5h0m.5 25h0m0-25.5h0m0-5.5h0m.5-42h0m0 37h0m0 3h0m0 9h0m.5 8.5h0m1-17h0m0-58.5h0m1 49h0m3 0h0m0-9h0m0 8.5h0m0 11h0m.5-1.5h0m.5-19.5h0m.5-6.5h0m0-6h0m0 13h0m.5 7.5h0m.5 3.5h0m.5 13h0m0 26.5h0m.5-13h0m1.5 5h0m.5-4.5h0m.5-21.5h0m.5 3h0m0 10h0m.5 13h0m1-4.5h0m.5-12.5h0m0-4.5h0m0 14.5h0m.5-17.5h0m0-5.5h0m0-17.5h0m1 2h0m.5 32h0m.5 25.5h0m1-11.5h0m0-14.5h0m.5-17h0m0 8.5h0m.5-34h0m.5 21.5h0m0 10h0m.5 37.5h0m0-22.5h0m.5 5.5h0m1.5-30.5h0m0-34.5h0m0-18h0m.5 2.5h0m0 34h0m.5 39.5h0m1 8h0m0-4h0m0 .5h0m0-4.5h0m.5-16h0m1-6h0m.5 10h0m.5 5h0m1-21h0m.5-1h0m.5 10.5h0m.5-22.5h0m.5 29h0m1 4.5h0m1 1.5h0m2.5-7h0m0-1h0m.5-7h0m.5-33.5h0m0 15h0m1 8.5h0m.5 19h0m.5-12.5h0m0 22.5h0m0 5h0m.5 1h0m0-3h0m1 16h0m.5-.5h0m1-13h0m0-2.5h0m0-33.5h0m0 34h0m0-11.5h0m.5-9h0m1-1.5h0m.5 15h0m0-7h0m0 19.5h0m.5 13.5h0m0-29h0m.5-3h0m.5-17.5h0m.5-79h0m0-4h0m.5 72.5h0m.5 11h0m.5 46.5h0m0-15.5h0m.5 21h0m0-33.5h0m0-13.5h0m.5 12h0m.5 27.5h0m0 3.5h0m0 0h0m.5 4.5h0m1-4.5h0m.5-.5h0m.5-29.5h0m.5-4h0m0 5.5h0m0-25h0m1-55.5h0m0 53h0m.5-8h0m0 40.5h0m0 4h0m.5-9h0m0 10h0m0-17.5h0m1 1h0m0-47h0m.5 20h0m1.5 15h0m1 4.5h0m.5 11h0m.5 32h0m.5-21.5h0m1.5-18h0m.5-26h0m0 3h0m0 4.5h0m0-76.5h0m.5 106h0m0-10.5h0m1.5 29.5h0m.5 3h0m0 4.5h0m1.5 2h0m0-12.5h0m.5 10.5h0m.5 4.5h0m.5 .5h0m.5-15h0m0 3.5h0m.5-14.5h0m.5 20.5h0m0-8h0m.5-46h0m.5-22.5h0m.5-2.5h0m0-16h0m.5 33h0m0 14.5h0m0 22.5h0m.5-33h0m.5 15.5h0m.5 18.5h0m1 6.5h0m.5 6h0m0 11h0m0-10.5h0m0 4h0m0-5.5h0m0 5h0m0-6h0m.5-30h0m0 10h0m.5 11.5h0m.5-5.5h0m1 20.5h0m.5-5h0m.5-1h0m.5-7h0m0-2h0m.5 2h0m0-27.5h0m.5 14.5h0m.5-3.5h0m0-32.5h0m1 13.5h0m0-24h0m0-69.5h0m.5 10h0m.5 41h0m1-5h0m1 17h0m1.5 33h0m1-16h0m1 27h0m0-12.5h0m.5-40h0m1 55.5h0m.5 4.5h0m0 9.5h0m1 14.5h0m0 1h0m.5 4.5h0m0-2h0m1-44.5h0m0-75.5h0m1 57h0m0-1h0m0 53.5h0m.5-36.5h0m0 60.5h0m.5-34h0m0 33.5h0m0-9h0m1 2h0m0 8h0m0 0h0m1 0h0m.5 .5h0m.5-5.5h0m0-5.5h0m1 3.5h0m.5-8h0m0-3.5h0m.5-5.5h0m0 22.5h0m0-14h0m.5-16.5h0m.5 1h0m0 29h0m0-13h0m.5 .5h0m.5 4.5h0m1 3.5h0m.5-6.5h0m.5-2h0m0 7h0m.5 2.5h0m0-35h0m.5-44.5h0m0 8.5h0m0 18.5h0m1.5 11h0m0-5h0m.5 23h0m0-37.5h0m0 18h0m.5-28h0m.5 37.5h0m0-27h0m1-12h0m0 37.5h0m.5 40h0m.5-111.5h0m.5 105.5h0m.5-40.5h0m0 7h0m0 9.5h0m.5 30h0m1.5-48.5h0m.5-23h0m.5 12h0m.5 17h0m0-22.5h0m1 60.5h0m0-2h0m.5-2h0m1-2h0m2.5-9.5h0m0-12.5h0m.5 21.5h0m.5 7.5h0m.5 .5h0m0-3h0m.5-26h0m1.5-1h0m0-6.5h0m.5-25.5h0m.5-12.5h0m.5 12.5h0m1-26h0m.5 37h0m1 17.5h0m.5-4.5h0m0-32h0m.5 45h0m.5-40h0m0 11.5h0m.5 11h0m0 17h0m0 15h0m1 0h0m0 .5h0m0-4.5h0m1 3.5h0m.5-5h0m0-1.5h0m0-2h0m.5-16h0m1 15.5h0m.5 0h0m.5 16.5h0m.5 1h0m1 3h0m1.5-6h0m0-4.5h0m1 0h0m.5-3.5h0m.5 5.5h0m0-2.5h0m.5-25.5h0m2 5.5h0m0-8.5h0m0-2h0m.5 14.5h0m0-32h0m.5 12.5h0m.5-14.5h0m.5-17h0m0 34h0m0-9.5h0m.5-28.5h0m0-27h0m0 79.5h0m0 33h0m0-24h0m.5 7h0m.5-43h0m0 22h0m.5 36.5h0m.5-54.5h0m1-24.5h0m0 19h0m0-4.5h0m.5 30h0m0 2h0m1-29h0m0 26.5h0m.5 36.5h0m0-73.5h0m.5-4h0m1.5 71h0m0-22.5h0m.5-19h0m.5 12.5h0m.5 12h0m1-3.5h0m0 3h0m1 8h0m.5-22.5h0m0 15h0m.5-12.5h0m1-55h0m0-50.5h0m0 73.5h0m.5 37h0m0 1h0m0-2h0m0 29h0m.5-23.5h0m.5 8.5h0m.5-4h0m0-5h0m0-5h0m0 12.5h0m.5-.5h0m0-23h0m2 13h0m0 3.5h0m0 9.5h0m1 15.5h0m0-8h0m0 9h0m0-5h0m.5-5.5h0m0-3h0m0 9.5h0m0-11.5h0m.5-19.5h0m0 2h0m.5-37h0m0 52.5h0m3-32.5h0m0 50h0m.5-58.5h0m1 11.5h0m0 15h0m0 14.5h0m.5 4h0m.5-4.5h0m.5-.5h0m.5-12h0m.5-7h0m0 14h0m1-7.5h0m0 13.5h0m1-8h0m0-28.5h0m2 13h0m0 11.5h0m.5-20h0m0-60h0m1 22.5h0m.5 37h0m0 14h0m1 36.5h0m0-12.5h0m2-1.5h0m0 .5h0m0-13.5h0m.5-8.5h0m.5 12.5h0m.5-12h0m.5 1h0m1 6.5h0m.5-5h0m0 4h0m1-1h0m0 9.5h0m.5 18.5h0m.5-56h0m0 12h0m0-19.5h0m0 24h0m.5-36h0m.5 50h0m0-19h0m.5-11h0m0 35.5h0m.5 10h0m.5-7h0m.5-1h0m1.5-6.5h0m.5 4h0m.5-18.5h0m1-3h0m0 6.5h0m.5-3h0m0 22h0m0-6.5h0m1 11h0m0 8.5h0m0-24h0m.5 19h0m0-14h0m1-31.5h0m0-13h0m.5-11h0m0 39h0m0-37.5h0m.5 17.5h0m0-29h0m1 20h0m.5 5h0m0-52.5h0m2-23.5h0m.5 30.5h0m.5 51.5h0m1.5-10h0m0 30h0m0-.5h0m0 15h0m0-26h0m.5 9.5h0m.5-7.5h0m0 9h0m0 25h0m.5-7.5h0m.5-15h0m0-3.5h0m.5 14.5h0m2-38h0m.5 23.5h0m.5-21h0m1-21.5h0m0 39.5h0m.5-42h0m1 39h0m.5 33.5h0m0-8.5h0m1-1.5h0m.5-8.5h0m.5-15.5h0m0-32h0m0 6h0m.5-52.5h0m1 55h0m0 18h0m.5 4h0m0 15h0m1.5-14h0m0 16.5h0m.5 29h0m0-56.5h0m1 34.5h0m.5-12h0m1.5 5.5h0m0 2h0m0 4h0m0 8h0m.5 2h0m0-12h0m.5-11.5h0m.5 28.5h0m.5-14.5h0m.5-8h0m0-13.5h0m0-11.5h0m0-6.5h0m.5 8.5h0m0 2.5h0m.5-16.5h0m.5-24h0m1-18h0m0-36.5h0m0-9h0m.5 22h0m0 44.5h0m.5 27.5h0m1 20h0m.5 30h0m0-27.5h0m.5 37.5h0m.5-24.5h0m.5 13h0m0-35.5h0m.5 5h0m.5-5h0m0-5h0m.5 7.5h0m.5-16h0m1.5 57.5h0m1 .5h0m1.5-2h0m1-2.5h0m0-.5h0m.5-2.5h0m0 2.5h0m0-1h0m.5-9.5h0m0-23.5h0m.5 2h0m.5-13.5h0m.5-6.5h0m0 57.5h0m.5-52h0m0 7.5h0m.5 2.5h0m0 26.5h0m0-2h0m1 6.5h0m.5-7.5h0m.5 21.5h0m.5-52h0m.5 11.5h0m0-29h0m.5-11h0m.5 5h0m0 2h0m.5 8.5h0m0-1.5h0m.5 3.5h0m1-17h0m0 12.5h0m0-25.5h0m.5-17h0m1-24h0m.5 3.5h0m0-28.5h0m.5 7.5h0m0 .5h0m.5 152h0m0-57.5h0m.5 30h0m0-8h0m.5 10.5h0m0 14.5h0m.5 0h0m.5 .5h0m.5 3h0m0 2.5h0m0-14.5h0m.5-1.5h0m0-23.5h0m.5 13.5h0m0 29.5h0m.5-32h0m.5 15.5h0m1.5-8.5h0m3-4h0m0-2.5h0m0 23.5h0m.5 5.5h0m0 1.5h0m1.5-5h0m0-6.5h0m0-6h0m1-2h0m0-11.5h0m0 8.5h0m1 0h0m.5 9h0m.5-22.5h0m0 25.5h0m1-5h0m0-15h0m0 3h0m0-22.5h0m.5-.5h0m0-42.5h0m.5 89.5h0m.5-74.5h0m2.5 76h0m.5-29h0m0-5.5h0m1-9.5h0m0 46.5h0m.5-49.5h0m.5-39.5h0m.5 41.5h0m.5-.5h0m1 14.5h0m0-8h0m1 16h0m.5-21.5h0m0-1h0m0-45h0m0 22h0m0 12.5h0m.5 35h0m0 6h0m1-3h0m0 16h0m.5-13h0m0 3h0m0-30.5h0m0 41.5h0m0 1.5h0m.5-35h0m0 5.5h0m1-2h0m0 1h0m.5 17h0m0 5h0m.5-9.5h0m0-31h0m1 28h0m0 11.5h0m.5 8.5h0m2-5h0m.5 5.5h0m0 3h0m0-8.5h0m1.5-.5h0m0 4.5h0m0-11.5h0m1-23h0" stroke="#F8766D" stroke-opacity="0.92" stroke-width="3.4" stroke-linecap="round" fill="none"/>
<path d="M1182.6,1228.90 L1187.3,1228.91 L1192.0,1228.92 L1196.7,1228.94 L1201.3,1228.95 L1206.0,1228.96 L1210.7,1228.97 L1215.4,1228.99 L1220.1,1229.00 L1224.8,1229.01 L1229.4,1229.02 L1234.1,1229.04 L1238.8,1229.05 L1243.5,1229.06 L1248.2,1229.07 L1252.9,1229.09 L1257.5,1229.10 L1262.2,1229.11 L1266.9,1229.12 L1271.6,1229.14 L1276.3,1229.15 L1281.0,1229.16 L1285.6,1229.17 L1290.3,1229.19 L1295.0,1229.20 L1299.7,1229.21 L1304.4,1229.23 L1309.1,1229.24 L1313.7,1229.25 L1318.4,1229.27 L1323.1,1229.28 L1327.8,1229.29 L1332.5,1229.31 L1337.2,1229.32 L1341.8,1229.33 L1346.5,1229.35 L1351.2,1229.36 L1355.9,1229.37 L1360.6,1229.39 L1365.3,1229.40 L1369.9,1229.41 L1374.6,1229.43 L1379.3,1229.44 L1384.0,1229.45 L1388.7,1229.47 L1393.4,1229.48 L1398.0,1229.49 L1402.7,1229.51 L1407.4,1229.52 L1412.1,1229.54 L1416.8,1229.55 L1421.5,1229.56 L1426.1,1229.58 L1430.8,1229.59 L1435.5,1229.60 L1440.2,1229.62 L1444.9,1229.63 L1449.6,1229.65 L1454.2,1229.66 L1458.9,1229.68 L1463.6,1229.69 L1468.3,1229.70 L1473.0,1229.72 L1477.7,1229.73 L1482.3,1229.75 L1487.0,1229.76 L1491.7,1229.77 L1496.4,1229.79 L1501.1,1229.80 L1505.8,1229.82 L1510.4,1229.83 L1515.1,1229.85 L1519.8,1229.86 L1524.5,1229.87 L1529.2,1229.89 L1533.9,1229.90 L1538.5,1229.91 L1543.2,1229.92 L1547.9,1229.94 L1552.6,1229.95 L1557.3,1229.96 L1562.0,1229.97 L1566.6,1229.99 L1571.3,1230.00 L1576.0,1230.01 L1580.7,1230.02 L1585.4,1230.04 L1590.1,1230.05 L1594.7,1230.06 L1599.4,1230.07 L1604.1,1230.09 L1608.8,1230.10 L1613.5,1230.11 L1618.2,1230.12 L1622.8,1230.14 L1627.5,1230.15 L1632.2,1230.16 L1636.9,1230.17 L1641.6,1230.19 L1646.3,1230.20 L1650.9,1230.21 L1655.6,1230.23 L1660.3,1230.24 L1665.0,1230.25 L1669.7,1230.27 L1674.4,1230.28 L1679.0,1230.30 L1683.7,1230.31 L1688.4,1230.33 L1693.1,1230.34 L1697.8,1230.36 L1702.5,1230.37 L1707.1,1230.39 L1711.8,1230.41 L1716.5,1230.42 L1721.2,1230.44 L1725.9,1230.46 L1730.6,1230.48 L1735.2,1230.50 L1739.9,1230.52 L1744.6,1230.54 L1749.3,1230.55 L1754.0,1230.58 L1758.7,1230.60 L1763.3,1230.62 L1768.0,1230.64 L1772.7,1230.66 L1777.4,1230.68 L1782.1,1230.71 L1786.8,1230.73 L1791.4,1230.75 L1796.1,1230.78 L1800.8,1230.80 L1805.5,1230.83 L1810.2,1230.86 L1814.9,1230.89 L1819.5,1230.93 L1824.2,1230.96 L1828.9,1231.00 L1833.6,1231.04 L1838.3,1231.08 L1843.0,1231.13 L1847.6,1231.17 L1852.3,1231.22 L1857.0,1231.27 L1861.7,1231.32 L1866.4,1231.37 L1871.1,1231.43 L1875.7,1231.49 L1880.4,1231.54 L1885.1,1231.60 L1889.8,1231.66 L1894.5,1231.73 L1899.2,1231.79 L1903.8,1231.85 L1908.5,1231.93 L1913.2,1232.00 L1917.9,1232.08 L1922.6,1232.17 L1927.3,1232.26 L1931.9,1232.35 L1936.6,1232.45 L1941.3,1232.55 L1946.0,1232.65 L1950.7,1232.76 L1955.4,1232.87 L1960.0,1232.98 L1964.7,1233.10 L1969.4,1233.21 L1974.1,1233.33 L1978.8,1233.45 L1983.5,1233.57 L1988.1,1233.69 L1992.8,1233.81 L1997.5,1233.94 L2002.2,1234.06 L2006.9,1234.18 L2011.6,1234.31 L2016.2,1234.44 L2020.9,1234.57 L2025.6,1234.71 L2030.3,1234.84 L2035.0,1234.98 L2039.7,1235.13 L2044.3,1235.27 L2049.0,1235.42 L2053.7,1235.57 L2058.4,1235.72 L2063.1,1235.87 L2067.8,1236.03 L2072.4,1236.19 L2077.1,1236.35 L2081.8,1236.51 L2086.5,1236.67 L2091.2,1236.84 L2095.9,1237.01 L2100.5,1237.18 L2105.2,1237.35 L2109.9,1237.52 L2114.6,1237.70" fill="none" stroke="#F8766D" stroke-width="2.6"/>
<path d="M1182.6,1243.60 L1187.3,1243.60 L1192.0,1243.59 L1196.7,1243.59 L1201.3,1243.59 L1206.0,1243.59 L1210.7,1243.58 L1215.4,1243.58 L1220.1,1243.58 L1224.8,1243.58 L1229.4,1243.57 L1234.1,1243.57 L1238.8,1243.57 L1243.5,1243.57 L1248.2,1243.57 L1252.9,1243.56 L1257.5,1243.56 L1262.2,1243.56 L1266.9,1243.56 L1271.6,1243.55 L1276.3,1243.55 L1281.0,1243.55 L1285.6,1243.55 L1290.3,1243.55 L1295.0,1243.54 L1299.7,1243.54 L1304.4,1243.54 L1309.1,1243.54 L1313.7,1243.54 L1318.4,1243.54 L1323.1,1243.53 L1327.8,1243.53 L1332.5,1243.53 L1337.2,1243.53 L1341.8,1243.53 L1346.5,1243.53 L1351.2,1243.52 L1355.9,1243.52 L1360.6,1243.52 L1365.3,1243.52 L1369.9,1243.52 L1374.6,1243.52 L1379.3,1243.52 L1384.0,1243.52 L1388.7,1243.51 L1393.4,1243.51 L1398.0,1243.51 L1402.7,1243.51 L1407.4,1243.51 L1412.1,1243.51 L1416.8,1243.51 L1421.5,1243.51 L1426.1,1243.51 L1430.8,1243.51 L1435.5,1243.50 L1440.2,1243.50 L1444.9,1243.50 L1449.6,1243.50 L1454.2,1243.50 L1458.9,1243.50 L1463.6,1243.50 L1468.3,1243.50 L1473.0,1243.50 L1477.7,1243.50 L1482.3,1243.50 L1487.0,1243.50 L1491.7,1243.50 L1496.4,1243.50 L1501.1,1243.50 L1505.8,1243.50 L1510.4,1243.50 L1515.1,1243.50 L1519.8,1243.50 L1524.5,1243.50 L1529.2,1243.50 L1533.9,1243.50 L1538.5,1243.50 L1543.2,1243.50 L1547.9,1243.50 L1552.6,1243.50 L1557.3,1243.50 L1562.0,1243.50 L1566.6,1243.50 L1571.3,1243.50 L1576.0,1243.50 L1580.7,1243.50 L1585.4,1243.50 L1590.1,1243.50 L1594.7,1243.50 L1599.4,1243.50 L1604.1,1243.50 L1608.8,1243.50 L1613.5,1243.51 L1618.2,1243.51 L1622.8,1243.51 L1627.5,1243.51 L1632.2,1243.51 L1636.9,1243.51 L1641.6,1243.51 L1646.3,1243.51 L1650.9,1243.51 L1655.6,1243.51 L1660.3,1243.51 L1665.0,1243.51 L1669.7,1243.51 L1674.4,1243.51 L1679.0,1243.51 L1683.7,1243.52 L1688.4,1243.52 L1693.1,1243.52 L1697.8,1243.52 L1702.5,1243.52 L1707.1,1243.52 L1711.8,1243.52 L1716.5,1243.52 L1721.2,1243.52 L1725.9,1243.53 L1730.6,1243.53 L1735.2,1243.53 L1739.9,1243.53 L1744.6,1243.53 L1749.3,1243.53 L1754.0,1243.53 L1758.7,1243.53 L1763.3,1243.54 L1768.0,1243.54 L1772.7,1243.54 L1777.4,1243.54 L1782.1,1243.54 L1786.8,1243.54 L1791.4,1243.55 L1796.1,1243.55 L1800.8,1243.55 L1805.5,1243.55 L1810.2,1243.55 L1814.9,1243.56 L1819.5,1243.56 L1824.2,1243.56 L1828.9,1243.56 L1833.6,1243.56 L1838.3,1243.57 L1843.0,1243.57 L1847.6,1243.57 L1852.3,1243.57 L1857.0,1243.58 L1861.7,1243.58 L1866.4,1243.58 L1871.1,1243.58 L1875.7,1243.59 L1880.4,1243.59 L1885.1,1243.59 L1889.8,1243.59 L1894.5,1243.60 L1899.2,1243.60 L1903.8,1243.61 L1908.5,1243.63 L1913.2,1243.68 L1917.9,1243.73 L1922.6,1243.80 L1927.3,1243.89 L1931.9,1243.98 L1936.6,1244.09 L1941.3,1244.20 L1946.0,1244.33 L1950.7,1244.46 L1955.4,1244.60 L1960.0,1244.74 L1964.7,1244.89 L1969.4,1245.03 L1974.1,1245.19 L1978.8,1245.34 L1983.5,1245.49 L1988.1,1245.64 L1992.8,1245.78 L1997.5,1245.93 L2002.2,1246.07 L2006.9,1246.21 L2011.6,1246.35 L2016.2,1246.50 L2020.9,1246.65 L2025.6,1246.81 L2030.3,1246.97 L2035.0,1247.13 L2039.7,1247.30 L2044.3,1247.47 L2049.0,1247.65 L2053.7,1247.82 L2058.4,1248.00 L2063.1,1248.19 L2067.8,1248.37 L2072.4,1248.56 L2077.1,1248.76 L2081.8,1248.95 L2086.5,1249.15 L2091.2,1249.35 L2095.9,1249.56 L2100.5,1249.76 L2105.2,1249.97 L2109.9,1250.19 L2114.6,1250.40" fill="none" stroke="#D79A2B" stroke-width="2.4"/>
<text transform="translate(79.5,1131.6) rotate(-90)" font-size="22.5" text-anchor="middle"><tspan font-family="Liberation Serif, serif" font-style="italic">π</tspan> (SNPs per 250 kb)</text>
<text x="5" y="1340" font-size="33" font-weight="bold">d</text>
<rect x="211.1" y="1322.2" width="109.1" height="768.0" fill="#CCCCCC"/>
<rect x="398.2" y="1322.2" width="67.3" height="768.0" fill="#CCCCCC"/>
<rect x="529.9" y="1322.2" width="88.7" height="768.0" fill="#CCCCCC"/>
<rect x="669.7" y="1322.2" width="49.2" height="768.0" fill="#CCCCCC"/>
<rect x="780.3" y="1322.2" width="52.8" height="768.0" fill="#CCCCCC"/>
<rect x="951.0" y="1322.2" width="108.0" height="768.0" fill="#CCCCCC"/>
<rect x="1117.8" y="1322.2" width="59.5" height="768.0" fill="#CCCCCC"/>
<rect x="1233.5" y="1322.2" width="74.0" height="768.0" fill="#CCCCCC"/>
<rect x="1370.7" y="1322.2" width="49.6" height="768.0" fill="#CCCCCC"/>
<rect x="1470.9" y="1322.2" width="63.4" height="768.0" fill="#CCCCCC"/>
<rect x="1585.0" y="1322.2" width="62.2" height="768.0" fill="#CCCCCC"/>
<rect x="1696.2" y="1322.2" width="66.4" height="768.0" fill="#CCCCCC"/>
<rect x="1818.8" y="1322.2" width="56.3" height="768.0" fill="#CCCCCC"/>
<rect x="1930.0" y="1322.2" width="51.0" height="768.0" fill="#CCCCCC"/>
<rect x="2030.4" y="1322.2" width="19.6" height="768.0" fill="#CCCCCC"/>
<path d="M211.1 1362.6h1m4.2 0h3.6m6.8 0h2.7m4.3 0h1.7m1.2 0h3.4m19.9 0h2.3m2.4 0h2.1m.8 0h11.4m2.3 0h6.3m10 0h5.9m8.9 0h3.9m4.1 0h1.7m4.4 0h5.3m5 0h1.3m6 0h3.6m1.6 0h1.2m2.1 0h11.4m5.3 0h7m7.4 0h2.8m.4 0h5.4m4.9 0h2.5m2.4 0h1.7m1.4 0h2.1m20.5 0h1.3m11.1 0h3.7m4.4 0h2.4m3.4 0h2.9m2.7 0h2m2.7 0h15.9m5.3 0h9.1m3.9 0h3.2m3.1 0h3.6m.5 0h4.9m1.3 0h8.4m1.2 0h4.8m11.6 0h1.4m8.6 0h4.3m12.8 0h2.5m2.7 0h1.9m.9 0h2m2.6 0h1.8m.3 0h9.1m11 0h3.9m3.4 0h6.4m4.8 0h5.5m6.3 0h2.7m4.4 0h5.6m9.2 0h2m4.2 0h5.1m5.9 0h1.9m11.2 0h2.2m3.5 0h9.1m1.9 0h2.7m6.9 0h4.1m8.3 0h5.5m14.3 0h9.7m6.8 0h5.5m2.8 0h1.7m9.4 0h7.4m6.8 0h4.1m7.4 0h3.4m7.2 0h8.4m1.7 0h6.4m2.6 0h4.6m1.3 0h11.4m5.1 0h9.2m3.5 0h10.6m1.7 0h1.8m4.3 0h1.2m6.6 0h7.7m2.6 0h5.3m10.4 0h4.5m7.7 0h2.9m13.4 0h2.6m2.2 0h7.2m.3 0h5.6m9 0h23m1.5 0h4m2 0h5.9m3.5 0h6.1m12 0h8.3m3.3 0h12.9m6.7 0h4.1m4.2 0h2.8m3.3 0h9.6m10 0h2.4m5.4 0h14.3m27.6 0h1.3m6 0h12m5.2 0h7.3m18.9 0h3.9m9.1 0h2.6m7.7 0h6.9m17.8 0h4.5m6.7 0h4.5m23 0h8.6m6 0h6.6m7.6 0h2.6m.7 0h2m8.2 0h10.4m7.2 0h9.8m3.7 0h2.6m10.1 0h4.2m12.7 0h9.3m.3 0h3.9m15.8 0h2.6m6.4 0h4.1m2 0h5.9m9.5 0h6.9m5.2 0h8.3m5 0h4m.5 0h5.5m13.2 0h5m4.2 0h22.3m5.5 0h8.7m20.7 0h4.1m4.5 0h6.5m13.5 0h2.2m11.9 0h12.7m24.4 0h4.8m1.5 0h10.6m8.1 0h3.7m16.1 0h14.4m.5 0h2.6m6.1 0h1.7m11.2 0h2.2m5.4 0h1.7m2.3 0h9.7m7.7 0h7.1m.4 0h9m2.7 0h1.9m5.6 0h2.1m6.2 0h1.7m16.9 0h5m.5 0h2.4m3.5 0h3.9m4.9 0h11.7m8.3 0h1.1m3.2 0h2m12.3 0h3.2m6.5 0h3.1m11.3 0h8.7m6.9 0h4.1m10.7 0h6.9m5.1 0h3.3m6.4 0h8.7m11.2 0h14.8m2.8 0h9.4m2.7 0h12m14.3 0h1.7m1.6 0h3.7m1.2 0h4m2.9 0h2.8m1.4 0h1.8m.9 0h3.8m8.3 0h3.6m6.1 0h4m1.8 0h9.9m3.7 0h4.5M212.3 1396.2h2.2m2 0h3.4m7.6 0h1.5m.5 0h5.1m5.6 0h4.8m4.4 0h12.9m6 0h1.9m8.6 0h2.1m9 0h6.5m21 0h2.8m1.7 0h8m3 0h7.6m3.9 0h3.5m1.7 0h1.8m4.9 0h11.9m9.6 0h5m7.1 0h5.3m5.3 0h1.9m3.9 0h5.1m4.3 0h3.2m1.2 0h6.5m.4 0h8m10.7 0h7.4m2.6 0h2.1m4.5 0h4.2m2.3 0h2.6m2.7 0h3.6m7.5 0h2.2m23 0h13.9m4.9 0h3.8m2.1 0h13.7m7.5 0h3.4m6.1 0h8.8m.5 0h1.8m7.2 0h3.5m5.7 0h3.2m2.9 0h2.1m5.1 0h4.7m5.1 0h9.1m5.7 0h1.4m5.3 0h8.4m7.1 0h3.2m2.3 0h11m10.2 0h5m3 0h1.9m7.6 0h3.2m4.4 0h3m8.5 0h3.1m8.2 0h5m8.5 0h2.7m4.2 0h2.7m4.2 0h2.8m1.6 0h4.9m2.1 0h2.8m13 0h6.9m2.1 0h14.5m23.8 0h4m7.4 0h5m4.5 0h3.4m2.8 0h5.5m12.8 0h3.8m2.1 0h6.8m4 0h5.5m1.4 0h8m4.5 0h4.4m2 0h8.1m5.7 0h1.9m9.2 0h13.8m4.3 0h15m7.7 0h3.4m5.4 0h.6m2.5 0h2.2m3.6 0h12.1m3.9 0h5.5m3.5 0h4.9m5.8 0h2.4m13.9 0h13.5m11.3 0h9.8m7.8 0h3.2m17.5 0h4.1m1.5 0h2.4m8.4 0h3.5m.9 0h2.9m8.7 0h5.5m16.1 0h4.5m.4 0h4.8m8.8 0h3.2m2.5 0h10.9m6.6 0h5m10.8 0h10.5m5.3 0h2.2m2.8 0h5.1m2.7 0h1.6m9.8 0h1.6m5.8 0h4.9m7.2 0h11.1m7.5 0h13.8m11.6 0h9.7m10.7 0h14.2m3.7 0h3.4m18.3 0h2.6m4.9 0h4.1m3.8 0h4.9m12.6 0h2.6m14.2 0h3.8m10.9 0h3.8m.9 0h9.1m7.5 0h6.6m3.9 0h12.4m5.7 0h1.9m7.7 0h8.3m6.5 0h4.3m19.3 0h13m9.5 0h2.5m6.5 0h2.3m3.9 0h5.3m10.9 0h6.7m6.8 0h11.2m3.7 0h3.6m1.4 0h10.1m5.6 0h2.9m3.7 0h1.9m12.5 0h5.8m4.3 0h4m14.7 0h3.6m8.7 0h2.4m13.5 0h4m4.8 0h2.1m1.8 0h1.8m9.2 0h2.7m1.1 0h2.2m7.6 0h3m2.8 0h4m4.2 0h5m2 0h3.1m.6 0h2.1m5.8 0h5.4m4 0h2.5m6.2 0h3.4m6.7 0h1.7m6.4 0h1.8m7.8 0h2.8m2.1 0h3.4m7.2 0h4.8m.5 0h3.7m4 0h11m7.2 0h9.2m11.1 0h2.5m16.8 0h15.1m5.9 0h16.1m7.7 0h2.1m4.3 0h6.6m1.5 0h3m22.6 0h1.7m3.4 0h.8m3.3 0h2.4m3.2 0h2.9m3 0h4.2m6 0h9.6m4.3 0h1.8m1.1 0h1.3m2.4 0h7.3m6.1 0h2.2M211.1 1429.7h2m2.6 0h8.1m2.6 0h8.2m4.2 0h6.8m29.6 0h2.9m8.6 0h1m5.5 0h4.3m6.7 0h5.1m5.5 0h4.1m9.5 0h2.9m5 0h2m9 0h13.9m.7 0h2.9m5.5 0h3.4m9.9 0h1.7m6 0h3.8m3.4 0h5.3m11.7 0h6.8m8.1 0h4.8m1.7 0h4.2m1.6 0h3.3m3.2 0h1.4m3.3 0h10.1m1.2 0h3.2m3.3 0h2.8m12.3 0h3.4m9.4 0h4.6m21.7 0h4.7m7.4 0h4.6m7.1 0h10.5m3.5 0h24.9m1 0h11.5m3.3 0h3.2m1.9 0h2.3m2.9 0h9.3m.8 0h17.4m3.3 0h2.5m2.8 0h6.5m4.1 0h5m6.2 0h21.2m.4 0h4.1m20.9 0h.4m7.4 0h10.2m11.3 0h6.1m6.1 0h2m9.3 0h1.9m13.5 0h2.1m14.6 0h4.6m1.5 0h15.8m8.7 0h2.7m8.5 0h10.8m1.7 0h6.1m4 0h7.5m3.4 0h3.1m.7 0h1.3m9.4 0h5.5m7 0h1.5m13.9 0h5.6m8.7 0h4.3m6.6 0h1.9m3.7 0h6.6m12.3 0h3.2m4.4 0h13.3m5.6 0h7.2m11.3 0h2.4m15.1 0h14.5m5.9 0h1.5m.7 0h7.6m25.7 0h2m7.8 0h1.3m10.8 0h3.7m5.3 0h4.1m5.5 0h21.8m3.6 0h10.2m4 0h2.4m4.8 0h1.8m8.5 0h1.6m8 0h2.4m3.2 0h1.7m1.2 0h2.6m3.1 0h8.3m6.6 0h3m2.1 0h4.9m12.2 0h4.8m4.4 0h1.6m6.3 0h2.1m16.7 0h4.1m18.8 0h1.7m7.4 0h3.2m.5 0h1.3m3 0h5.3m3.1 0h5.6m6.5 0h1.4m3.3 0h15.2m6 0h13.1m7 0h7m9.2 0h3.2m4.8 0h3.1m2.4 0h7.1m3.8 0h2.9m4.2 0h3m8.6 0h3.8m3.9 0h9.2m4 0h3.1m8.9 0h4.9m5.5 0h3.7m6.8 0h1.7m14.6 0h3.5m13 0h10.9m6.8 0h3.6m10.8 0h1.9m5.7 0h1.7m21.9 0h1.1m5.6 0h7.4m13.6 0h9.1m2.6 0h4.7m8.2 0h7m11.2 0h10m2.7 0h5.7m4.8 0h5.1m5.7 0h4.7m19 0h2.1m4.5 0h11.8m7.7 0h5.6m1.6 0h9.9m2.5 0h7.9m.6 0h7.3m6.8 0h2.3m7.3 0h4.1m6.5 0h8.2m5.4 0h4.1m4.7 0h4.7m.9 0h3.2m1.1 0h6.9m4.9 0h7.3m5.4 0h4m.4 0h11.8m.7 0h1.9m5.9 0h8.5m10.4 0h3.3m6.1 0h5m2.5 0h2.9m2.6 0h3.6m.3 0h2.9m13.8 0h9.4m2.7 0h4.8m7 0h2.8m9 0h5.9m.4 0h2.8m7.9 0h5.1m6.4 0h1.9m9 0h2.5m8.8 0h2.4m13.4 0h7.6M211.8 1463.3h3m2.4 0h1.3m27.3 0h2.4m.6 0h8.8m17.7 0h2m5.7 0h6.3m3 0h9.7m2.6 0h3.1m2.9 0h15m2.4 0h8.2m6.1 0h8.3m7.5 0h8.5m4.8 0h6.9m3.9 0h7.4m8.4 0h1.8m7.4 0h8.6m6.4 0h3.5m1.3 0h9m2.9 0h6.4m.7 0h5.2m2.7 0h2.1m3.5 0h8.6m2.8 0h3.4m1.7 0h5.6m14.7 0h2.3m9.9 0h11.5m1.5 0h1.2m24.9 0h10.4m7.6 0h8.8m4.7 0h3.6m12.4 0h2.9m3 0h3.1m8.2 0h4.2m3.3 0h3.6m7.3 0h7.7m12.7 0h5.2m8.8 0h2.4m4.7 0h4.6m.5 0h6m1 0h4m8 0h1.6m5.9 0h2.9m18.8 0h10.4m2.8 0h2.9m2.9 0h3.4m6 0h7.9m2.2 0h2.8m13.4 0h2.7m2 0h24.7m5.6 0h1.6m.9 0h7.3m4 0h1.9m1.7 0h5m6.3 0h11.5m8.9 0h1.9m4.9 0h2.3m4 0h17.4m7.5 0h3.9m3.1 0h19.2m2.9 0h4.9m8.8 0h4m9.9 0h1.8m8.5 0h1.9m13.8 0h2.2m7.6 0h4.5m6.4 0h1.3m4.8 0h5.1m4.1 0h4.2m5.4 0h16.1m3 0h7.3m3.4 0h1.4m2.1 0h13.3m.9 0h9.7m4.8 0h14.5m.6 0h18.2m1 0h17.9m5.6 0h2.3m10.6 0h2.8m4.2 0h2.7m7.5 0h4.1m2 0h7.5m7.9 0h3.5m9.3 0h4.1m5.2 0h2.9m.6 0h4m3.1 0h1.9m1.9 0h3.9m3.9 0h6.2m3.2 0h2.2m1.7 0h5.5m2.7 0h3m10.3 0h14.4m7.1 0h8.1m1.4 0h4m3.9 0h3.4m2.5 0h2m3 0h6.3m2.1 0h1.7m4.3 0h2.1m1.6 0h1.8m9.3 0h8.6m1.3 0h3.4m11.6 0h4.8m9.4 0h5.6m6.5 0h3.1m6.1 0h4.2m17.3 0h7.4m12.5 0h12.2m.9 0h2.1m11.1 0h8.5m5.8 0h2.1m8.7 0h2.9m4.2 0h6.1m1.9 0h6.9m8.3 0h3.5m5.8 0h8.6m3.8 0h5.3m1.4 0h2m22.4 0h8.8m3.9 0h6.6m8.2 0h6.4m1.4 0h2.6m2.3 0h11.3m10.7 0h6.8m6.3 0h3.2m8.9 0h6.3m6.8 0h14.3m9.5 0h1.8m5.5 0h1.4m2.2 0h3.3m1.6 0h7.6m10.4 0h4.1m12.9 0h1.3m7.3 0h4.1m8.8 0h6.8m10 0h2m5.2 0h10.4m3.9 0h6.1m1.5 0h5.4m10.3 0h14.5m11.5 0h2.9m8.4 0h1.7m5.4 0h3.6m8.9 0h4m1.7 0h7.7m16.9 0h12.4m9.9 0h10.9m4.3 0h8.7m15 0h1.5m4.9 0h3.2m5.5 0h4.8m5.8 0h3.4m2.3 0h5m10.9 0h3.2m18.2 0h3.1m2.2 0h5.2M211.1 1496.8h8.1m2.4 0h6m1.5 0h5.4m1.7 0h13.8m1.8 0h4.8m2.1 0h1.8m15.4 0h1.4m3.7 0h3.3m6.5 0h2.7m12.7 0h1.5m11.8 0h7.6m9.1 0h6.4m5.6 0h3.5m9.7 0h1.5m6.5 0h7.9m22.2 0h3.7m5.3 0h4.8m8.1 0h6.7m1.1 0h2.7m4.7 0h5.3m7.5 0h9.5m4.1 0h9.7m6.2 0h3.1m.7 0h5.9m9 0h8.5m27.1 0h11m6.5 0h1.8m5.6 0h4.2m9.1 0h8.6m8 0h9.1m11.4 0h19m4.5 0h4.3m1.3 0h7.3m6.4 0h4.8m7.9 0h1.8m5.3 0h5.4m1.6 0h7.8m2.1 0h7.7m2.9 0h5m6.4 0h2m3.5 0h1.8m4.4 0h8m2.8 0h6.1m4 0h2.8m2.2 0h19.6m14.8 0h2.4m7.7 0h15.7m12.4 0h3.2m5.4 0h5m19.1 0h9.8m15.8 0h6.9m2.5 0h3.2m8.7 0h5.4m2 0h1.5m7.1 0h8.1m3.8 0h.5m6.8 0h3.2m3.7 0h3.8m.3 0h11.4m1.8 0h5.5m1.7 0h7.4m7.7 0h11.6m13 0h1.4m4.1 0h3.9m17.6 0h2.5m7 0h2.5m18.8 0h5.7m13.1 0h5.9m4.6 0h5.8m2.7 0h2.9m9.1 0h4m8.3 0h3.9m3.3 0h11.1m10.4 0h1.5m.6 0h11.7m2.4 0h9.5m4.7 0h4.1m7.8 0h1.5m8.8 0h2.6m4.1 0h4.2m.7 0h6.5m23.3 0h4.5m.6 0h3.7m11.4 0h4.5m3.1 0h10.2m7.4 0h4.6m9.8 0h5.7m4.9 0h2.6m5.6 0h5.9m21.1 0h11.1m4.2 0h2.6m2.3 0h6.7m5.9 0h3.3m4.5 0h10m4 0h2.1m6.8 0h2.6m3.1 0h3.8m5.6 0h3.8m2.1 0h13.7m20 0h14.6m14.9 0h4.4m3.3 0h4.3m5.8 0h16.1m9.4 0h1.9m12 0h3.6m3.2 0h5.4m3.5 0h2.8m4.5 0h5.4m4.8 0h6.6m12.2 0h5.3m3.1 0h2.1m6.7 0h2.4m1.1 0h5.5m13.6 0h8.6m3.1 0h9.6m6.5 0h4.1m6.6 0h1.1m6.8 0h1.9m6.4 0h4.2m4.1 0h7.5m6.5 0h3.2m3.7 0h1.9m.3 0h8.8m7.7 0h11.6m1.4 0h10m.5 0h8.4m7.2 0h6.2m18.2 0h1.5m4.7 0h4.7m12.7 0h1.9m12.4 0h2.3m8.6 0h4.4m10.1 0h1.9m5.7 0h3.1m7.2 0h4.1m18.8 0h4.1m17.8 0h1.4m.4 0h2.5m1.8 0h5.3m2.4 0h9.2m5.5 0h3.6m6.1 0h1.4m1.9 0h1.9m11.1 0h3m6.8 0h4m21.9 0h10m10.4 0h2.1m3.5 0h5m15.4 0h4.9" fill="none" stroke="#60BC4A" stroke-opacity="0.8" stroke-width="17.28"/>
<path d="M213 1362.6h4m4.7 0h5.7m3.3 0h1.9m2.1 0h2.6m12.8 0h8.3m3.2 0h3.8m.7 0h2.2m10 0h3.7m11.3 0h5m8.7 0h6.1m2.5 0h3.4m4.6 0h1.3m6.2 0h3.6m4.8 0h2.6m4.9 0h1.5m3.2 0h1.7m10 0h4.6m7.6 0h6.3m3.9 0h1.8m4 0h6.3m1.1 0h3.8m.3 0h2.8m2.6 0h2.5m21.2 0h8.8m2.3 0h5.8m1 0h4.8m1.5 0h4.1m.6 0h4.1m14.5 0h6.7m7.7 0h5.3m1.8 0h4.5m2.2 0h1.9m3.5 0h2.7m7 0h2.6m3.4 0h9.1m6.2 0h7.7m2.9 0h14.2m1.1 0h4.1m.5 0h2.3m.6 0h4m.4 0h1.7m10.2 0h9.9m2.5 0h4.8m5 0h4.3m8 0h.5m8.3 0h4.1m12 0h2.9m.6 0h1.5m7.8 0h5.4m4 0h5.6m6.3 0h1.6m11 0h3.3m1.3 0h8.3m10.6 0h1.8m11.3 0h8.5m8.3 0h8.2m4.1 0h4.2m6.7 0h4.4m6 0h6.3m4.5 0h8.8m2 0h3.3m12.3 0h3.1m5 0h4m3.2 0h2.7m10 0h6.5m7.8 0h4.9m9.2 0h3.1m.4 0h3.4m4.5 0h5.6m6.3 0h4m10.8 0h4.8m9.1 0h3.1m9.8 0h6.5m1.2 0h3.6m5.8 0h1.7m4.2 0h7.5m24.6 0h2.9m4.3 0h1.6m4.5 0h4.9m12.2 0h3.8m8.9 0h4.7m14.2 0h1.8m6.4 0h1.3m5.7 0h4.7m12.6 0h7m1 0h6.8m32.3 0h9.6m2 0h5.4m10.6 0h3.7m10.8 0h12.8m8 0h7.1m4.6 0h9.1m5.5 0h17m7.6 0h5.9m3.1 0h24.4m7.2 0h4.9m7.7 0h6.9m3.2 0h2.1m.6 0h7m16.7 0h3.5m8.4 0h5.1m1.2 0h8.6m5.7 0h11.5m10.6 0h1.7m2.5 0h15.5m2.9 0h7.8m2.7 0h3.4m4.5 0h10.9m5.5 0h4.2m10.9 0h4.7m2.6 0h1.9m4.1 0h14.6m6.4 0h2.7m20.9 0h6.9m7.3 0h22.1m5.9 0h.8m12.7 0h3.1m7 0h13.3m19 0h14.5m7.1 0h2.9m9.2 0h9.5m2.3 0h17.5m13 0h1.9m1.2 0h7.5m.3 0h6.9m8.5 0h2.7m2.4 0h3.7m11.2 0h6.2m5.7 0h1.8m7.6 0h1.9m2.7 0h7m3.1 0h3.5m4.6 0h14m5.4 0h1.9m1 0h2.6m4.8 0h6.3m12.1 0h3.2m6.3 0h2.8m2.9 0h11.4m1.8 0h6.2m3.5 0h12.7m9.1 0h3.4m5.9 0h4.6m13.1 0h3.7m7.5 0h3.2m10.9 0h10.8m15.6 0h2m8 0h4.1m10.6 0h10.2m5.9 0h3m2.3 0h2.6m2.6 0h4.3m1.4 0h2.8m.4 0h2.3m2.4 0h9.7m2.2 0h7.5m2.6 0h3.2m8.5 0h5.1M213.8 1396.2h3.4m4.8 0h2.5m3.9 0h1.9m5.6 0h1.5m7 0h5.8m11.5 0h4.3m3.5 0h7.9m4.9 0h5.4m21.7 0h8.6m1.4 0h3.1m6.6 0h4.4m8.5 0h.3m6.3 0h1.5m.4 0h2.4m14.4 0h11m3.6 0h1.6m10.8 0h4.3m4.6 0h1.7m5.7 0h5.7m1.8 0h2.6m5.1 0h1.8m6.6 0h12.1m6 0h4m.7 0h5.9m2.8 0h3.7m1.2 0h4.1m4.1 0h3.9m5.9 0h20.8m14.2 0h6.3m2.4 0h3.5m12.3 0h4.8m6.1 0h7.5m7.4 0h1.9m.4 0h3.9m6.8 0h7.1m1.8 0h4.3m.7 0h6.5m3.3 0h6.5m11 0h1.2m6.6 0h.7m15 0h2.5m1.8 0h3.7m9.6 0h11.6m3.6 0h4.4m.5 0h3.5m7.4 0h3.2m9 0h1m8.4 0h6.9m5.8 0h7.8m1.3 0h3.5m5.6 0h3.4m1.4 0h3m3.5 0h3.5m6.7 0h9.1m5.5 0h1.7m14.9 0h15.7m14.2 0h4.2m8.3 0h3.8m2 0h4.2m5.9 0h12.4m2.4 0h3.5m8.2 0h.7m6 0h2.8m6.6 0h3.5m5.3 0h1.8m11.2 0h4.2m3.2 0h4.9m18 0h3.2m13.6 0h7.3m3.8 0h4.3m3.8 0h1.8m.8 0h2.7m14.9 0h.9m6.6 0h4.9m3.5 0h5.2m3.1 0h12.8m16.6 0h10.7m10 0h2.5m9.2 0h16.8m2.7 0h2.9m1 0h9.8m2.1 0h2.3m1.5 0h10.1m6.8 0h11.9m6 0h1.8m5.5 0h8.1m1.8 0h3.9m9.5 0h8m9.8 0h4.4m10.7 0h6.7m.8 0h1.7m6.2 0h1.7m2.6 0h8m3.4 0h7.2m9.7 0h2.4m9.7 0h6.2m15.1 0h13m8.3 0h12.1m12.8 0h3.2m6.2 0h15.6m3 0h6.3m2.7 0h1.9m13.6 0h7.2m1.2 0h15.6m9.9 0h4.8m2.4 0h2.3m9.2 0h7.4m7.7 0h2.9m11 0h4.4m3.2 0h5.8m10.3 0h7.9m2.9 0h20.7m15.1 0h4.8m3.6 0h7.9m.9 0h3.5m5.7 0h9.8m7.7 0h8.2m9.8 0h5.1m2.2 0h2.8m8.7 0h5m5.5 0h3.1m.5 0h4.3m16.7 0h1.3m4.4 0h14m4.3 0h10.1m1 0h14.9m2.6 0h3.1m3.8 0h3.2m2.8 0h8.2m1.3 0h2.5m.8 0h5.2m8.2 0h1.5m2.6 0h3.6m5.6 0h1.4m3.7 0h2m3.3 0h4.6m4 0h5.4m1.1 0h7.6m2 0h8.1m5.3 0h2.8m2.7 0h6.8m1.4 0h3.5m3.6 0h7m3.4 0h1.9m4.4 0h1.1m11.9 0h6.5m11.9 0h10.6m2.9 0h16.5m13.7 0h3.7m18.3 0h7.1m2.7 0h3.4m7.6 0h2.9m1.6 0h21.6m2.7 0h3.1m2.9 0h3m3 0h2.6m1.5 0h4.4m2.8 0h5.2m10.3 0h5.7m.4 0h2.5m2.3 0h1.5m8.5 0h4.9m.8 0h1.3M212.4 1429.7h4m6.7 0h4m8.7 0h1.6m11.5 0h2.1m28.5 0h6.2m4.3 0h3.9m4.9 0h6.1m8.3 0h2.2m2.7 0h8.6m3.8 0h6.4m3.6 0h3.7m16.1 0h2.1m1.5 0h3.9m14.9 0h1.4m.3 0h7.4m2.4 0h4.8m14.7 0h2.3m5.4 0h9.5m3.4 0h3.1m2.8 0h3m1.9 0h1.9m2.6 0h4.7m8.7 0h2.6m1.8 0h4.7m4.8 0h10.4m2 0h3.4m10.6 0h9.7m19 0h4.1m7.3 0h6.7m9.1 0h2.3m26.1 0h2.4m10.1 0h4.7m1.8 0h3.3m2.5 0h2.7m7.9 0h2.2m16 0h4.7m2.7 0h.5m9.7 0h3.1m3.6 0h5.6m21.8 0h1.8m6.7 0h2.1m17 0h4.4m11.5 0h12.7m4.7 0h7.5m.6 0h2.3m11.3 0h12.6m.7 0h13.2m6 0h1.4m22.1 0h3.9m8.1 0h3m9.4 0h1.2m6.5 0h5.4m6.1 0h4.8m1.7 0h2.1m3.5 0h3m8.3 0h8.4m2 0h13.5m6 0h8.3m2.9 0h8m.5 0h2.4m7.9 0h13.7m1.8 0h4m16.5 0h4.2m9.5 0h6.7m3.2 0h16.5m13.1 0h4.6m2.9 0h2.1m28.8 0h4.5m5.7 0h2.2m3.5 0h10.6m2.3 0h2.9m6.5 0h6.9m20.4 0h2.2m11.6 0h5.4m1 0h6.2m.4 0h4.5m5.6 0h3.7m6.7 0h4.6m.3 0h2.6m1.2 0h4.5m6.9 0h8m1.6 0h1.9m5.1 0h11m6 0h5.8m2.6 0h2.5m6.9 0h14.7m2.7 0h20.2m6.8 0h2.2m1.8 0h1.9m2 0h2.3m3.9 0h4.5m4.2 0h5.7m2.2 0h3.2m15.3 0h7.4m11.7 0h6.7m8.9 0h5.6m5.2 0h6.2m1.7 0h1.7m7.7 0h3m6.3 0h2.9m1.6 0h10m2.4 0h5.3m7.8 0h5.4m3.7 0h4.1m7.6 0h4.9m7.2 0h5.3m5 0h9.2m6.7 0h6.3m20.3 0h2.8m2.2 0h12.2m.5 0h3.9m3.4 0h6.9m19.5 0h1.6m8 0h15m7.7 0h2.1m5.2 0h9.6m8.4 0h9.8m8.6 0h4.1m4.3 0h6.2m3.7 0h7.1m14.5 0h6.9m5.3 0h3.7m10.4 0h7.1m6.1 0h3m8.5 0h3.9m6.5 0h2m9.1 0h1.4m6.4 0h6.8m4.5 0h4.3m8.6 0h3.2m6.2 0h6.1m3.3 0h2.3m1.8 0h2.5m7.1 0h4.7m11.3 0h1.4m2.6 0h1.8m10.4 0h2.1m.5 0h4m13.3 0h8.8m4.5 0h4.9m3.6 0h1.5m5.7 0h2.2m2.2 0h1.7m14.9 0h1.7m9.8 0h2.2m3.4 0h8.4m3.1 0h6.8m6.4 0h1.8m6.3 0h4.3m5.4 0h6.2m2.8 0h4.6m11.5 0h3.3m1 0h4.5m16.5 0h19.4M214.1 1463.3h2m17.3 0h13m1 0h2m9.5 0h17.1m3 0h2.7m9.7 0h1.6m8.3 0h4m1.7 0h4.3m13.6 0h1.8m8.9 0h4.7m12.4 0h6.1m10.5 0h2.7m5.5 0h3.7m7.6 0h9.8m.4 0h8.8m9.6 0h5.4m2.1 0h2.7m7.6 0h4.3m5 0h2.1m3.8 0h4.1m.7 0h4.9m7.2 0h4.2m2 0h3.1m4.2 0h12.6m6.5 0h7.1m12.1 0h2.9m4.2 0h22m9 0h6.9m11.7 0h2.2m5.4 0h12.3m1.5 0h4.4m1.7 0h2.1m10.3 0h2.2m4.6 0h8.7m6.3 0h11.6m15 0h1.6m1 0h4.1m5.3 0h1.9m4.6 0h2.4m4.6 0h5.6m4.8 0h4.4m6 0h15.7m9 0h1.7m6.2 0h2.2m4.7 0h3.1m8.2 0h3.6m1.4 0h12.2m3.8 0h3.4m23.3 0h4.9m2.2 0h2.3m5.9 0h5.4m.5 0h3.1m5.4 0h3.5m12.5 0h10.3m2.6 0h4.2m.9 0h5.4m16 0h8.9m4.4 0h2.5m17.8 0h4.3m3.5 0h7.7m5.1 0h9.6m7.4 0h.9m16 0h3.4m.8 0h6.1m8.1 0h1.8m7 0h3m6 0h3.1m2.8 0h5.3m16.3 0h1.9m8.4 0h3.3m1.5 0h3.5m11.9 0h2.3m8.3 0h4.5m14.8 0h2m16.8 0h2.4m22 0h1.5m2.6 0h10.2m1.4 0h5.6m1.3 0h8.9m2.7 0h3.4m8.4 0h7m9.3 0h3.5m2.7 0h3.3m4.8 0h2m2.6 0h4.5m.5 0h3.3m4.5 0h3.3m4.8 0h2.8m4.4 0h1.4m6.1 0h2.1m1.6 0h11.7m13 0h8.5m6.7 0h2.8m4.5 0h1.5m3.9 0h2.2m2.4 0h4.4m4.9 0h3.5m.3 0h3m3.4 0h3m.4 0h10.7m7.2 0h2.7m4.3 0h2.8m13.2 0h8.9m4.2 0h7.9m4.6 0h2.6m7.9 0h10.7m20.8 0h1.5m13.4 0h2.3m.7 0h12.5m7.1 0h7.2m6.1 0h2.9m3.2 0h5.6m4.7 0h3.3m7.5 0h7.6m2.1 0h7.2m7.2 0h5.2m3.9 0h2.8m2.7 0h4.9m24.1 0h3.4m12.3 0h4.4m5 0h2.8m1.2 0h2.1m11.6 0h12.1m5.4 0h7.7m1.8 0h10.3m9.6 0h3.5m12.9 0h6m5.3 0h4.7m2.2 0h1.4m4.1 0h3m6.2 0h8.9m5.6 0h14.3m6.8 0h1.8m2.7 0h7.7m9.7 0h9.6m3.3 0h1.5m13.1 0h3.8m4.7 0h1.3m10.7 0h6.6m13.1 0h12.9m1.5 0h9.8m3.1 0h4.1m2.2 0h4.2m8.6 0h3.1m16 0h5.3m16.4 0h5.7m16.3 0h2.4m7.3 0h16.4m2.6 0h2.3m5.7 0h4.5m3.4 0h5.5m3.7 0h1.8m5.6 0h7.5m9.4 0h16.8m1.7 0h3.6m3.8 0h7.7M218.5 1496.8h2.1m6.2 0h2.9m4 0h3.1m12.4 0h3.2m3.4 0h1.7m2.3 0h16.8m2.3 0h2.9m1.9 0h5.7m5.2 0h10.9m1.7 0h13.2m6.2 0h8.3m9.3 0h2.3m4.7 0h11.1m3.9 0h2.1m8.5 0h21.8m4 0h4.8m5.2 0h9.5m5.3 0h2.5m1.3 0h6.1m6.7 0h6.1m8.1 0h5.5m12.1 0h1.8m3.6 0h2.1m4.5 0h10.4m7.1 0h25.8m16.8 0h3.3m.4 0h7m2.8 0h10.5m7.2 0h9.4m12.8 0h4.3m23.6 0h3.2m2.9 0h2.7m5.9 0h5.5m9.7 0h2.8m2.8 0h6.7m4 0h1.3m8.2 0h3.5m8.9 0h1.8m6.4 0h1.4m4.2 0h4.9m.4 0h5.8m6.6 0h4.2m6.2 0h3.8m1.4 0h3.6m32.8 0h1.6m1 0h9.1m14.3 0h13.8m1.8 0h4.2m6.3 0h14.7m16 0h11.5m11.4 0h1.8m6.2 0h5.6m5.6 0h1.8m3.4 0h5.2m6.7 0h2.9m4.8 0h4.9m1.8 0h5.1m2.4 0h1.7m10 0h3.2m4.1 0h3.1m6 0h7.4m14.5 0h10.1m3.6 0h.8m7.3 0h17.2m5.7 0h3.8m1.1 0h3.6m20.9 0h14.5m4.5 0h4.2m8.5 0h1.8m1.5 0h8.3m4.8 0h9.7m4.4 0h2.8m9.7 0h9.7m2.3 0h2m10.3 0h3.8m8.1 0h4m4.7 0h3.8m5.5 0h10.2m3.2 0h3.5m2.8 0h2.1m22.9 0h6.9m3.1 0h2m9.6 0h5.6m3.1 0h4.5m8.8 0h8.8m10.6 0h3.9m4.3 0h6.3m3.3 0h4.9m6.3 0h20.7m9.7 0h5.6m1.2 0h1.8m7.2 0h3.3m8.6 0h3.2m11.1 0h2.8m2.9 0h6m1.2 0h4.5m2.4 0h3.6m5.8 0h3.5m12.3 0h21.4m24.1 0h5.4m5.1 0h2.6m8.6 0h1.5m14.7 0h10.8m2.5 0h8.4m6.7 0h3m5.8 0h3.1m1.4 0h4.3m5.5 0h3.7m7.8 0h13.6m3.9 0h2.2m3 0h8.1m1 0h2.5m6.3 0h9.6m12.4 0h2.6m8.2 0h7.9m2.7 0h6.4m3.5 0h2.8m8.7 0h2.8m2.8 0h5.5m6.1 0h6.1m3.6 0h5.1m.5 0h1.7m10.7 0h5.7m10.2 0h2.8m8.6 0h1.9m7 0h5m11.2 0h14.7m6.8 0h1.5m4.9 0h4.9m11.4 0h5m8.9 0h7.6m6.2 0h8.4m.5 0h7.1m1.7 0h5.4m8.3 0h16m4.5 0h10.6m8.7 0h1.8m1.1 0h3.2m5.6 0h2.1m7.8 0h6.9m5.1 0h3m1.6 0h3.3m3.4 0h9.6m1.6 0h4.8m8 0h11m18.9 0h10m4 0h1m5.9 0h1.3m19 0h5.6" fill="none" stroke="#60BC4A" stroke-opacity="0.8" stroke-width="17.28"/>
<path d="M211.1 1379.4h1.8m13.3 0h7.8m1.6 0h6.9m6.8 0h2.2m5.9 0h1.2m4.9 0h2m6.6 0h4.9m5.7 0h2.3m4.6 0h9.6m4.3 0h14.5m1.7 0h3.1m5.3 0h1.2m6 0h2.7m5.2 0h.9m7.6 0h3.3m4.6 0h1.8m9.6 0h9m12.2 0h2.2m6.3 0h2.2m10 0h8.4m5.8 0h4.9m.6 0h2.9m3 0h7m2.4 0h6.4m1.2 0h3.8m9.2 0h5.6m6.1 0h1.6m10.1 0h11.7m1.7 0h1.2m5.1 0h14.1m12.5 0h1.9m3.6 0h10.6m8.5 0h2.8m5.1 0h5.7m21.6 0h4.8m9.4 0h5.5m5.5 0h1.7m7.6 0h3m1 0h6.2m7.9 0h2.4m2.1 0h3.9m2.6 0h2.1m6.2 0h4.4m8 0h7.7m9.2 0h20.7m10.4 0h4.4m16.3 0h4.2m9.8 0h1.9m12.3 0h10.9m20.1 0h8.9m23 0h3.8m3.3 0h1.8m2.7 0h3.5m6.8 0h7.5m12.7 0h5.9m2.9 0h8.4m1.1 0h4.4m12.3 0h2.9m1 0h3.2m.7 0h4.4m6.4 0h10.1m4.1 0h4m13.6 0h5.7m9.6 0h6.1m4.8 0h7.4m2.2 0h2.5m5 0h2m13.9 0h6.3m13.9 0h2.1m4.9 0h4.8m11.3 0h8.9m4.4 0h1.6m1.3 0h3.3m28 0h3m2 0h13.5m10.2 0h4.1m5.6 0h12.3m13.3 0h2.3m1.7 0h2m4.4 0h8.6m9.6 0h9.9m3.5 0h9.7m20.4 0h4.3m16.9 0h5.7m3.8 0h6.3m1.9 0h11.4m6.4 0h8.9m11.7 0h4.4m2.9 0h3.1m13.4 0h6.7m8.3 0h8.5m5 0h3.3m6.1 0h6.6m.5 0h2.6m6.3 0h14.5m15.2 0h2.6m4.8 0h8.3m4.9 0h7.7m.5 0h5.2m22.2 0h2.6m15.9 0h3.1m9.8 0h2.4m.3 0h4.5m2.8 0h1.2m21 0h9.7m2.9 0h1.2m11.9 0h6m15.6 0h1.6m2.5 0h3.9m5.7 0h3m3.6 0h4.9m1.4 0h1.8m1.2 0h1.8m9.4 0h4.9m5.2 0h8.2m19.5 0h3.7m7.7 0h7.6m4.5 0h13.3m9.5 0h5.9m1.9 0h2.7m10.2 0h10.5m5.4 0h4.6m2.7 0h10.2m3.9 0h2.5m6.7 0h9.2m7 0h3.5m2.2 0h16.7m6.1 0h12.4m5.3 0h11.7m1 0h8.1m3.1 0h5.4m1.7 0h1.6m4.7 0h1.8m1.9 0h11.6m6.2 0h3m8.5 0h3.8m7.9 0h2.1m9.1 0h9.7m3.7 0h1.8m3.7 0h2.4m4.5 0h1.2m17.2 0h6m5.8 0h5.3m2.3 0h3.7m.6 0h3.1m2.4 0h4.2m5.4 0h6.4m1.5 0h4.2m5.8 0h2.2M211.1 1412.9h2m7.9 0h3.6m10 0h8.7m6.2 0h3.1m6.2 0h5.2m3 0h17.1m6.4 0h4.9m5.1 0h2.9m2.3 0h2.3m3.2 0h4.7m1.7 0h2.3m3.4 0h1.8m13 0h2.8m3 0h5.7m20.4 0h5.7m3.7 0h4.8m5.2 0h1.9m1.8 0h1.8m5 0h4.4m4.7 0h3.1m16.5 0h1.9m13.3 0h4.7m3.2 0h8.4m15.7 0h4m11 0h7.6m8.1 0h6.8m1.5 0h3m18.2 0h2.9m8.2 0h8.4m20.7 0h2.8m11.4 0h1.7m13.3 0h2.3m5.5 0h1.4m9 0h8.6m.6 0h16m4.8 0h7.1m6.8 0h1.8m6.1 0h10.4m2.8 0h7.2m3.9 0h2.3m3 0h3.6m10.7 0h.9m5 0h4.4m8.9 0h1.8m2.7 0h9.4m3 0h5.4m4 0h3.2m10.4 0h.8m2.1 0h3.6m2.2 0h2.2m2.2 0h2.3m7.7 0h2.9m5 0h2.1m4.1 0h2.9m9.6 0h3.6m.4 0h16.2m2.4 0h3.4m2.2 0h3.8m11.8 0h7.1m8.7 0h1.7m3 0h.5m10.8 0h2m5.4 0h2.2m1.3 0h4.4m5.8 0h1.3m9.1 0h1.2m2.2 0h2.2m4.4 0h3.6m14.1 0h3.6m5.4 0h5m4.1 0h2.7m10.8 0h2.6m7.6 0h4.9m8.1 0h1.5m5.4 0h6.8m2.5 0h1.8m8.7 0h3.6m6.1 0h1.5m.5 0h5.4m10.5 0h11.5m6.5 0h3.1m28.4 0h8.4m4.4 0h2.5m3.9 0h4.7m3.7 0h4m8.5 0h8.7m9.3 0h5m6.1 0h10.4m3.8 0h2.6m11.2 0h13.6m2.3 0h5.5m5.9 0h6m4.3 0h1.7m3.2 0h1.9m3.6 0h2.4m1.8 0h3.2m2.6 0h7.9m14 0h2.6m2.1 0h7.7m.9 0h4.7m7 0h3.7m3.8 0h11.9m4.1 0h16.5m10.8 0h9.1m9.5 0h3m3.7 0h1.4m5.9 0h1.8m6.5 0h1.8m7.3 0h1.9m1.4 0h1.8m5.5 0h3m16.8 0h1.4m6.1 0h2.1m2.2 0h1.9m1.8 0h2.8m4.6 0h7.8m15.1 0h4.8m3.3 0h1.4m24.9 0h29.5m2.2 0h4.9m16.7 0h1.9m5.2 0h13.3m4.4 0h5.6m5.5 0h2.1m15.6 0h6.5m2.3 0h21.6m11.6 0h3.1m6.2 0h2.7m4.9 0h9.1m6.9 0h3.5m13.4 0h13.6m8.7 0h3m33.1 0h3.4m2.3 0h2.1m8.1 0h1.4m9.4 0h1.1m3.9 0h2.3m15.8 0h2.2m3.6 0h4.2m9.7 0h6.2m2.2 0h5.4m7.3 0h4.2m7.5 0h3.2m1.8 0h2m.9 0h4m4 0h3.3m3.1 0h7.9m8.1 0h6.5m5.3 0h5.7m5.1 0h2.1m4.7 0h5.5m2.2 0h5.1m6.6 0h4.4m2.7 0h3.7m.9 0h6.6m2.4 0h2.3m4 0h9.8m8.8 0h2.2m8 0h4.2m5.5 0h2.2m5.6 0h2m8 0h9.5m6 0h5.8M211.1 1446.5h2.8m7.9 0h2.4m15.1 0h18.2m7.5 0h5.1m6.9 0h3.6m6.3 0h2.3m7.4 0h2.6m7.4 0h7.2m3.5 0h9.3m9.7 0h3.9m4.7 0h5.5m1 0h4m1.1 0h8.1m.5 0h3m3 0h7.7m3.4 0h3.7m11 0h7.9m6.9 0h3.3m2.8 0h7.5m6.9 0h1.6m1 0h7.3m.6 0h1.7m17.7 0h6.6m1 0h3.9m5.8 0h2.3m7.5 0h2.4m6.5 0h5m2.9 0h5.5m1 0h1.9m29.7 0h3.6m2.1 0h14.2m4.8 0h5.6m7.3 0h1.7m6.5 0h5.8m15.4 0h5.5m7.8 0h1.9m4.3 0h15.3m1.3 0h2.1m16.5 0h4.6m2.1 0h4.3m.8 0h4.7m1 0h6.6m7.6 0h6.5m6.9 0h10.6m16.2 0h6m4.4 0h4m3 0h6m7.9 0h9.7m10.3 0h14.6m.4 0h2.6m4.5 0h2.4m9.9 0h18.5m9.2 0h3.7m.5 0h6.6m12.6 0h4m2.8 0h6.2m6.4 0h4m3.1 0h3.7m5.5 0h12m.6 0h2.9m6.4 0h2.8m9.9 0h13.4m10 0h17.9m5.4 0h1.3m7.9 0h2.4m1.2 0h1.7m3.2 0h6.1m5.3 0h6.8m2 0h3.3m2.4 0h3.7m5.7 0h2.7m7 0h12.6m6.1 0h1.4m11.4 0h9m.6 0h3.6m4.2 0h2m3.3 0h9.5m12.8 0h9m5.3 0h8.1m4.4 0h1.7m1.1 0h18.7m.8 0h6.1m8 0h2.5m4.6 0h5m4.1 0h3.7m17.7 0h3.2m6.8 0h4.4m15.1 0h1.2m16.2 0h9.5m11.3 0h2.6m10.6 0h4.2m3.7 0h2.1m8.5 0h2.9m1.1 0h4.3m12.9 0h3.4m6.5 0h4.2m3.7 0h1.8m2.5 0h7.9m2.5 0h2.4m6.1 0h2.5m3 0h4.5m2.9 0h3.5m10.9 0h2.8m1.1 0h10.4m2.6 0h16.4m2.5 0h8.1m4.4 0h5.9m7.9 0h1.2m3.4 0h4.1m3.8 0h6.5m4.1 0h5.3m9.3 0h6.2m11.9 0h1.8m5.6 0h6.3m3.6 0h6.5m12.4 0h4.1m1.9 0h3.2m9.2 0h1.1m5.5 0h5.5m1.9 0h9m10.3 0h4.1m5.7 0h4.1m2.2 0h5.3m2.4 0h8m2.9 0h17.1m1.4 0h1.9m.7 0h5.6m5.7 0h1.9m6.7 0h13m5 0h6.6m1.9 0h2m5.6 0h6.1m1.1 0h6.2m4.7 0h2.5m6.2 0h4.4m5.4 0h2m2.9 0h3m10.4 0h.5m3.5 0h2.5m4.7 0h7m5.1 0h2.6m6.1 0h2.4m9.5 0h8.4m4.9 0h2.7m4.5 0h1.9m6.9 0h2.8m3.4 0h1.8m1.5 0h3.7m1.4 0h5.2m21.4 0h1.1m6.6 0h3.4m3.2 0h8.1m7.9 0h6.8m15.5 0h9.7m4.6 0h3.5m1.3 0h2.9m16.1 0h2m3.3 0h2.7m1.8 0h1.4m3.8 0h3.3m13.9 0h3.3m21.1 0h1.2m21.3 0h3.8m6 0h4.6M211.1 1480.1h7.6m15.3 0h.6m4.5 0h1.5m3.9 0h2.8m5.5 0h4.1m3.5 0h1.7m24.8 0h.8m7.8 0h3.6m2.8 0h1.9m2 0h12.3m5.1 0h3.6m9.3 0h2.2m4.3 0h8.3m16.1 0h13.8m1.7 0h6.9m9.8 0h9.1m7.6 0h1.9m19.7 0h2.2m6 0h31.9m7.5 0h5.8m4.3 0h6.2m3.8 0h1.9m6.8 0h13.5m9.9 0h3m14.1 0h11.5m3.1 0h3.6m7 0h8.1m5.6 0h6.7m12 0h4.9m11.5 0h3.4m11.3 0h2.8m.5 0h2m2.5 0h6.7m4.1 0h2.1m8.7 0h1.2m11.2 0h7.1m1.4 0h6.1m6.7 0h1.9m3.9 0h2.4m11.2 0h3.3m2.4 0h1.6m10 0h13.1m6 0h1.3m10 0h2.5m10.2 0h1.9m4.6 0h9.2m2.8 0h8.7m17.7 0h3.9m13 0h6.8m9 0h3.4m8.4 0h11.4m3.9 0h6.1m9.2 0h5.7m.8 0h3.3m10.7 0h4.5m5.1 0h2.5m1.1 0h1.3m3.5 0h4.1m2.1 0h7.3m4.8 0h3.6m7 0h2.4m17.3 0h6.2m38.6 0h14.4m9.1 0h1.8m7.8 0h6.5m2.4 0h11.6m22 0h4.9m2.1 0h3.8m5 0h3.6m1.2 0h3.9m4 0h2.6m1.1 0h9.9m3.5 0h2.3m11.5 0h3.6m9 0h5.6m1.2 0h7.6m2.6 0h2.4m10.9 0h4.8m7.4 0h8.8m5.1 0h2.6m4.7 0h2.1m12.3 0h5m3.2 0h4.2m12.1 0h2.3m1.1 0h3m4.3 0h1.6m4.7 0h12m3.2 0h2.5m17.6 0h2.8m5.3 0h26.9m3 0h4.7m3.4 0h4.2m2.6 0h8m6.4 0h2.7m19.7 0h1.7m10.9 0h1.8m10.2 0h3.7m6.3 0h4.1m7.6 0h3.1m2.2 0h1.5m6.8 0h2.2m3.9 0h6.7m10.5 0h4.3m4.2 0h1.9m4.2 0h4.1m5.3 0h5.4m3.2 0h14.6m3.9 0h3.6m6.8 0h3.5m9.9 0h1.4m2.2 0h3.6m5.2 0h5.7m2.9 0h3m5.5 0h2.3m3.9 0h2.2m2 0h12.9m13.4 0h4.2m3.1 0h3.4m2.3 0h3.3m2.7 0h3.6m2.6 0h10.3m4.9 0h1.7m3 0h5m8.6 0h4m5.4 0h3.7m6.7 0h3.6m9.8 0h4.5m6.5 0h7m6.1 0h5.7m2.4 0h2.3m2.8 0h5.6m6.8 0h2.4m13.6 0h7.5m4.7 0h5.7m19.2 0h2.5m4.7 0h.5m6.5 0h11.2m14.1 0h3.5m4.9 0h4.9m6.7 0h4.5m2.1 0h2.8m5.9 0h4.7m1 0h4.7m3 0h6.4m4.5 0h5.8m21.1 0h16m6.6 0h1.8m15.4 0h9.8m5.4 0h2.1m3.3 0h4.5m8.2 0h3.8m5 0h28" fill="none" stroke="#60BC4A" stroke-opacity="0.8" stroke-width="17.28"/>
<path d="M212.2 1379.4h14.7m6.4 0h3m5.5 0h5.5m3.5 0h7.3m1.6 0h4.5m2.8 0h2.8m6.4 0h4.4m3.6 0h3.3m14.8 0h1.8m13.1 0h3.1m1.7 0h4.5m4.3 0h2.8m6.6 0h1.9m7.6 0h.9m3.9 0h6m2.7 0h3.8m22.6 0h3.6m.8 0h4.6m3.8 0h8.1m10.3 0h4.9m5.7 0h2m3.2 0h2.6m5.6 0h3.8m5 0h2.6m2.4 0h8.9m10.4 0h3m10.2 0h1.5m10.3 0h3.1m2.2 0h4.1m23.9 0h2.7m.5 0h2.8m11.4 0h9.9m3.4 0h2.1m6.6 0h21.4m5 0h5.5m9.4 0h6.9m.3 0h9m1.6 0h2.4m4.8 0h6.8m3.5 0h3.5m4.2 0h2.2m6.8 0h1.5m3 0h6.7m9 0h4.2m25.7 0h11.8m3 0h17.7m5.7 0h8.3m.5 0h11.9m11.4 0h21.5m9.1 0h19.5m8.8 0h1.6m.4 0h4.1m2.1 0h8.2m6.1 0h14.1m6.7 0h.4m8.7 0h2.5m3 0h8.7m6.5 0h2.4m1.8 0h2.1m3 0h1.7m14.8 0h5.5m2.6 0h3.7m20.4 0h6.1m4.7 0h6.2m6 0h3.6m2.9 0h4.6m2.8 0h13m7 0h13.1m3 0h4m3.4 0h12.7m7.5 0h3.3m2.8 0h2.7m3.7 0h27.6m1.6 0h1.2m16.6 0h9.2m7.2 0h2.6m10.9 0h14.7m.9 0h1.6m2.1 0h3.6m9.5 0h9.3m10.3 0h4.9m8.3 0h19.7m4.9 0h16.1m10 0h1.6m4.9 0h3.3m12.4 0h5.3m10.2 0h1.6m13.5 0h2.5m3.5 0h10m10.3 0h7.7m7.1 0h6.4m4.1 0h1.9m8.5 0h1.9m3.6 0h3.4m15 0h16.6m1.2 0h6.2m6.9 0h4.5m8.1 0h1.9m5.6 0h3.6m22 0h2.6m21.7 0h3.2m1 0h1.7m5.2 0h2.1m4.2 0h18m8.3 0h1.6m4.6 0h11.3m12 0h5.4m4.4 0h3.9m2.5 0h7.1m1.6 0h5m3.5 0h2.8m.4 0h2.6m.4 0h10.8m3.5 0h6.6m12.1 0h13.5m7.4 0h6.1m6.2 0h5.9m19.7 0h3.1m4.5 0h3.3m1.3 0h11.6m9.1 0h5.2m4.7 0h4.1m8.8 0h3.2m3.2 0h5.9m13.2 0h5.3m4.2 0h1.4m15.3 0h4.5m16.9 0h3.8m10.3 0h2.4m6.7 0h4.5m4 0h3.1m1.8 0h4.5m.4 0h1.4m14.7 0h3.1m3.6 0h5.5m9.8 0h6.4m2.6 0h6.6m10.2 0h2.9m2.6 0h1.6m4.6 0h4m9.9 0h7.9m7.2 0h2.9m8.2 0h3.7m2.3 0h2m1.7 0h1.6m6.9 0h1.1m8.8 0h2.9m2.8 0h2.2m7.6 0h29.2M216.3 1412.9h3.1m7 0h6.2m11.5 0h3.3m4.4 0h5.8m5.5 0h2.6m17.5 0h6.1m5.2 0h4.7m3.3 0h3.7m.9 0h4.6m3.3 0h3.1m.9 0h4.8m.4 0h14.4m1.4 0h2.3m6.4 0h19.5m6.6 0h3.5m5 0h6.6m.5 0h3.2m2.6 0h2.4m4.8 0h3.9m3.9 0h17.9m11.9 0h3.3m3.3 0h4.6m9.7 0h12.5m7.9 0h9m6.2 0h3.3m11.5 0h2.9m5.1 0h16.1m1.5 0h9.6m19.9 0h7.1m3.5 0h12.8m.3 0h14.7m.9 0h5.1m5.7 0h6.5m7.2 0h2m16.5 0h4.2m5.7 0h8.2m.4 0h7.5m9 0h4.2m7.5 0h3.6m.9 0h2.4m5.9 0h8.7m3.6 0h3.9m11.7 0h1.5m2.9 0h1.5m8 0h4.4m5.7 0h3.8m7.7 0h2.2m5.1 0h1.4m3.8 0h2m2.8 0h1.6m3.8 0h6.2m1.5 0h3.3m6.5 0h2.9m1.5 0h11m2.2 0h1.8m14.8 0h2.3m3.6 0h3.6m10.6 0h5m5.7 0h10.1m.3 0h2.3m3.6 0h9.7m4.3 0h1.3m2.6 0h2.7m3 0h7.2m2.1 0h8.3m1.8 0h1.6m3 0h1.6m4.2 0h15.5m2.2 0h6.8m3.6 0h5.5m8.9 0h2.6m4.9 0h1.7m14.3 0h4.3m2.3 0h4.6m5.4 0h3.9m2.6 0h5.1m5 0h5m2.7 0h1.9m4 0h11.9m10.1 0h7.9m17.9 0h11.9m10.5 0h3.7m1.1 0h5.3m4.9 0h1.8m6.8 0h7.4m7.3 0h7.9m6.4 0h5.1m11.4 0h5.2m6.2 0h7.7m12.2 0h1.9m5.8 0h3.9m8 0h3.6m4.7 0h2.3m.5 0h3.1m2.9 0h3.2m1.8 0h4m6.5 0h15.4m2.9 0h1.8m6.3 0h2.3m5.6 0h3.1m5.3 0h3m15.4 0h2.8m25.6 0h1.6m12.1 0h3.2m8.1 0h1.9m3.5 0h1m7.3 0h3.7m.4 0h8.7m.5 0h2.8m.4 0h6.9m1.6 0h15.7m2.5 0h7.5m.7 0h3.6m.5 0h3.2m1.4 0h2.3m12.6 0h14m3.4 0h4.7m24.7 0h1.6m28.1 0h3.6m10.1 0h11.5m3.2 0h2m15.8 0h3.8m7.9 0h1.2m2.7 0h10m12.2 0h3.7m20.2 0h11.4m3.2 0h4.1m7.2 0h3.9m7.7 0h8.3m2.1 0h6.2m20.8 0h8.3m3.4 0h3.8m32.7 0h3.7m.7 0h9.5m1.8 0h5m5.7 0h3.4m15.8 0h2.3m.8 0h5m5.5 0h3.2m10 0h2m5.6 0h8.7m7.5 0h4.2m1.8 0h3.2m.6 0h2.3m5.2 0h1.1m3.6 0h4.5m6.5 0h9.5m7.2 0h4.6m4.3 0h4.7m2.5 0h6.1m4.1 0h3.6m5.4 0h4.2m5 0h1.7m4.7 0h2.3m7.5 0h1.5m3.1 0h3.2m11.3 0h4m5.7 0h7.8m2.8 0h5.3m4.1 0h3.3m7.1 0h2.9m14.6 0h2.7m4.4 0h3.9M213.2 1446.5h6.7m3.6 0h13.8m22 0h6.5m3.7 0h8.3m4.4 0h3.3m5.2 0h6.7m3.4 0h4.6m7.6 0h4.9m10.8 0h5.9m6.7 0h.8m7.6 0h2.4m2.6 0h2.5m6.7 0h1.9m4.6 0h1.4m6.3 0h4.8m11 0h3.7m6.5 0h3.1m7.1 0h4.2m6.1 0h4.9m3.6 0h2.4m5.9 0h2m13.9 0h3.8m6.9 0h2.4m2.5 0h4.6m3.5 0h8.9m1 0h7.9m3.6 0h4.3m4.1 0h2.4m7.8 0h19.4m6.6 0h3.5m12.8 0h6.2m7.1 0h4.2m3.4 0h6.4m6.3 0h8.6m10.4 0h6.9m2.7 0h3.4m16.1 0h2.7m3.2 0h15.5m3.2 0h1.6m4.7 0h2.2m3.3 0h2.4m6.9 0h4.5m10.7 0h2m23.5 0h6.8m4.6 0h5.8m2.6 0h4.4m10.7 0h1.3m12.3 0h9.6m13.2 0h1.8m3 0h1.8m3.3 0h11.3m17.1 0h10.6m2.3 0h1.9m5.2 0h14m4.4 0h2.4m4.8 0h7.8m2.6 0h4.5m2.3 0h3.5m14.1 0h2m3.6 0h5.7m1.4 0h9.3m17.7 0h5.4m18.8 0h3.5m5.2 0h5.4m2.9 0h2.6m.3 0h1.9m11.4 0h2.7m7.2 0h1.6m1.9 0h3.8m2.3 0h7.1m1.3 0h5m17.2 0h4.9m2.4 0h8.9m9.1 0h2m4.7 0h3.1m3.2 0h2.2m10.3 0h10.4m12.2 0h3.6m9.1 0h3.3m.3 0h2.5m17.3 0h2.2m7.6 0h6.4m1.1 0h6m3.6 0h5.5m7.7 0h13.7m4.9 0h5.1m10.7 0h8.9m3.7 0h4.2m24.7 0h5.6m1.2 0h9.7m7 0h3.2m2.9 0h5.6m3.6 0h2.5m2.9 0h14.3m2 0h7.9m2.8 0h3m2.6 0h2.1m8.3 0h2.2m2.7 0h4.1m4.6 0h4.4m3.1 0h2.2m5.7 0h10.8m1.4 0h2.5m9 0h4m15 0h3.9m9.1 0h3.4m7.8 0h2.9m5 0h1.3m4.3 0h2m8.4 0h5.5m3.9 0h9m13.7 0h3.6m3 0h7m4.9 0h5m5.1 0h13.8m2.7 0h3.3m1.8 0h6.2m6.9 0h2.5m5.7 0h3.3m7.6 0h9.4m6.7 0h5.5m2.7 0h3.6m3.9 0h3.8m6.6 0h4.3m15.7 0h2.8m.5 0h2.1m4.2 0h7.1m.5 0h8.1m11.6 0h6.4m5.2 0h1.7m4 0h3.4m6.4 0h2.5m4.8 0h1.8m5.4 0h7.6m3 0h3.3m6.5 0h1.9m1.6 0h2.9m10.3 0h.4m3.3 0h6.1m5.6 0h4m5.4 0h1.9m4.7 0h10.9m8.7 0h4.5m1.3 0h5.9m2.6 0h2.5m5.2 0h4.8m.4 0h1.3m3.9 0h2.8m7.9 0h15m7.3 0h4m2 0h4.6m6.7 0h9.3m7.5 0h11.2m11.8 0h6m2.1 0h2.7m1.5 0h17.5m.6 0h2.8m3.2 0h1.4m1.7 0h3.6m11.1 0h4.9m17.1 0h8.2m4.7 0h13.3m8.8 0h4.8M218 1480.1h14.6m3.2 0h1.5m2.7 0h5.3m4 0h4.3m2.7 0h1.3m7.2 0h20.8m5.5 0h5.2m4.5 0h1.9m.5 0h3.4m10.9 0h6.5m3.9 0h7m2.7 0h5.7m20.6 0h3.8m13.9 0h1.6m11.5 0h2.6m10.3 0h5.8m3.7 0h12m9.9 0h5.8m34.7 0h6.4m4.4 0h5.7m6.8 0h3.1m.5 0h5.9m14.3 0h11.3m5.8 0h11.3m10.1 0h4.5m2.2 0h8.4m6.7 0h7m5.3 0h13.4m3.5 0h3.6m14.5 0h9.5m1.4 0h1.9m3 0h1.5m5.3 0h1.8m4.4 0h8.3m6.8 0h1.5m11.7 0h2.8m4.7 0h4.4m6.6 0h2.9m11.8 0h1.9m1.9 0h3.8m8.2 0h3.4m11.7 0h7.4m3.4 0h7.9m1.1 0h11.6m.5 0h4.5m9.3 0h4.2m7.3 0h19.1m2.5 0h5.7m14.2 0h5.1m7.2 0h7.2m12.7 0h2.8m7.3 0h7m7.9 0h2.2m3.5 0h8.7m4.9 0h3m4.6 0h2.5m1.6 0h1.2m4.5 0h3.5m7.8 0h2.5m6.4 0h6m1 0h18.7m21.8 0h18.5m20.8 0h7.3m.4 0h6.7m7.6 0h2.2m14.6 0h20.6m3.5 0h3.5m2.4 0h6.4m2.2 0h2.6m2.5 0h5.4m1.2 0h2.5m11.2 0h2.1m.9 0h12.9m5.2 0h1m10.7 0h2.6m6.2 0h4m1 0h12.3m3.4 0h8.8m7.4 0h6.5m3.4 0h.4m6.2 0h11.7m3.6 0h4.6m2.8 0h13.5m.9 0h2.5m1.6 0h2.1m5.6 0h4.3m10.6 0h2.9m9.5 0h12.3m3.9 0h4.2m25.5 0h4.4m6.1 0h2.1m4.7 0h2m8.9 0h1.9m4.9 0h15.8m5.7 0h3.8m11.5 0h9m2.3 0h7.7m2.7 0h5.9m6.8 0h1.5m2.2 0h6m.8 0h5.3m5.3 0h10.1m4.7 0h2m5.8 0h1.8m4.9 0h6.7m4 0h2.9m16.6 0h3.7m3.8 0h1.6m7 0h1.6m11.5 0h1.9m2.2 0h3.1m7.8 0h1.8m4.1 0h6.9m.9 0h5.3m.8 0h3.4m13.2 0h13.2m2.8 0h2.9m3.6 0h3.7m1.9 0h4.1m2.2 0h4m11.3 0h1.6m2.7 0h4.4m3.6 0h10m2.6 0h5.1m7.7 0h4.4m7.8 0h5.6m3.1 0h7.9m7.9 0h5.2m4.3 0h3.8m.9 0h1.7m9 0h5.9m3.5 0h12.5m8.1 0h4.2m4.3 0h20.6m3.9 0h1.4m3.3 0h5.7m11.7 0h13.7m4.8 0h3.6m5.5 0h2.7m8.4 0h1.5m1.4 0h7.3m3.3 0h2.4m3.3 0h2.6m6.9 0h5.9m7.3 0h19.6m16.4 0h6.2m2.3 0h14.9m8.4 0h3.4m4.2 0h4.7m3.1 0h9.6m4.2 0h4.6m26.6 0h4.5" fill="none" stroke="#60BC4A" stroke-opacity="0.8" stroke-width="17.28"/>
<path d="M211.1 1547.2h3.3m20.2 0h4.8m13.9 0h1.5m3 0h4.6m25.6 0h2.1m7.7 0h.7m7.1 0h4.5m16 0h2.3m8.7 0h7.4m3.5 0h1.9m13.3 0h2.5m5.1 0h1.2m9.9 0h7.4m6 0h4m6 0h8.3m5.5 0h2.9m2.7 0h1.3m11.9 0h1.4m10.7 0h1.3m15.5 0h3.3m10.5 0h2.6m14 0h1.4m4.6 0h6.5m4.1 0h3.4m7.1 0h2.5m2.2 0h4m3.2 0h3.2m18.2 0h6.2m15.1 0h9m16.1 0h1m7.4 0h3.7m6.5 0h4.6m20 0h8.2m10.2 0h7m7.8 0h3.8m3.9 0h3.3m5.3 0h2.9m16.2 0h3.5m20.8 0h2.9m10.8 0h4.5m9.7 0h2.7m9 0h2.8m3 0h5.4m7.6 0h1.7m2.2 0h1m4.4 0h2.8m6.3 0h5.3m4.5 0h2.2m8.2 0h3m12.3 0h2.4m2.2 0h1.4m6.1 0h1.4m15 0h4m2.7 0h2.4m1.5 0h1.2m9.6 0h2.6m.4 0h1.6m18.1 0h5.2m6.8 0h2.7m4.5 0h1.8m20.1 0h3.2m.3 0h3.2m4.4 0h3.7m12.9 0h4.5m12 0h2m18.1 0h1.9m6 0h5.4m7.5 0h3.8m1.4 0h3.4m16.1 0h1.5m2.3 0h2.1m14.3 0h1.3m14.8 0h4m10.4 0h1m12.8 0h2.5m3.1 0h9.4m8.9 0h2.1m1.1 0h2.7m1.7 0h6.4m3.6 0h7.8m24.7 0h2.5m2.7 0h2.6m5.6 0h1.8m7.2 0h2.8m14.5 0h1.1m8.6 0h2m2.7 0h1.7m9.2 0h4.1m14.1 0h2.4m4.7 0h7.1m5.8 0h4.1m10.5 0h1.5m22 0h4.9m8.6 0h3m9.1 0h2.7m21.1 0h4.8m7.3 0h3.1m9.6 0h7.8m4.3 0h5.8m22.2 0h1.3m10.8 0h4.9m23.7 0h2.6m10.6 0h2.2m5 0h2.5m5.6 0h11.6m9 0h1.2m10.5 0h1.8m5.3 0h2.1m9.4 0h1.7m2.9 0h2.3m3.7 0h2.5m15 0h6.4m5.7 0h1.8m6.8 0h1.8m10.9 0h7.2m19.3 0h1.5m2.8 0h2m21 0h2.5m5.8 0h5.4m9.7 0h2.8m2 0h1.5m15.2 0h2.4m10 0h1.5m1.5 0h2.7m4.9 0h3.8m2.2 0h2.9m2 0h2.6m3.4 0h2.3m1.9 0h1.7m2.4 0h5.7m2.3 0h2.1m11.9 0h2.2m13.3 0h9.5m8.8 0h2.3m18.8 0h2.2m3.8 0h4.3m21.4 0h3m9 0h4.7m.4 0h2.3m19.7 0h2m4.7 0h1.2m7.9 0h3.8m2.4 0h1.8m11.8 0h2.8m6.7 0h2m6.6 0h1.9m7.2 0h4.1m4.5 0h1.5m20.9 0h2.2m3.1 0h1.7m2.6 0h2.1m1.1 0h1.9m2.5 0h3.3m11.9 0h2.3m7.2 0h1.9M211.3 1580.6h11.3m11.2 0h1.8m9.3 0h2.1m2.5 0h3.1m6.5 0h5.6m2.5 0h2.9m11.5 0h7.8m5.6 0h8m13.1 0h2m11.8 0h1.5m15.1 0h2.5m8.4 0h2.2m19.6 0h7.4m11.7 0h6.8m2.4 0h1.9m2.1 0h3m3.5 0h2m12.5 0h1.5m2.3 0h3.4m5.5 0h2.9m10.1 0h3.2m2.7 0h2.6m13.2 0h2.9m3.8 0h2.5m6.9 0h1.5m11.8 0h4.5m11.2 0h11.9m6 0h1.5m7.7 0h5.2m4.5 0h2.4m2.2 0h1.3m8 0h3.7m2.5 0h3.3m5.1 0h1.6m7.1 0h9.6m4.4 0h4.9m.6 0h7.4m3.2 0h1.9m6.3 0h2.5m1 0h1.6m6.9 0h2m8.3 0h3.3m4.4 0h7.1m6 0h7.5m14.8 0h6.5m7.5 0h1.2m10.1 0h2.6m2.6 0h1.8m10.9 0h4m18.2 0h3.6m7.7 0h3.6m5 0h1.8m4.3 0h5.9m6.7 0h5.5m1.2 0h2.9m4.3 0h3.5m13.7 0h1.7m26.2 0h1.8m2.9 0h2.7m11 0h3.3m14.9 0h6.3m13.4 0h1m7.5 0h2.6m6.4 0h8.4m7.7 0h3m1.3 0h2.6m12.4 0h2.8m2.2 0h2m3.4 0h2.2m1.5 0h5.4m9.9 0h7.7m2.8 0h12m4.6 0h3.7m.4 0h3.7m2.5 0h3.9m19.6 0h3.3m6.9 0h6.4m11.9 0h5.5m10.6 0h1.5m3.6 0h1.3m8.3 0h2.3m2.1 0h9m2 0h2m9.4 0h4.2m9.2 0h2.9m6.9 0h2m3.2 0h3m2.4 0h2.7m24.6 0h5.7m4.2 0h1.8m3.2 0h1.9m2.1 0h1.1m6.6 0h2.4m21.9 0h3.1m1.4 0h1.8m5.3 0h3.4m14.9 0h3.2m4.9 0h2.5m3.7 0h1.4m16.6 0h1.4m10.1 0h3.2m3.2 0h11m29.8 0h5.6m17.2 0h6m1.4 0h2m17.8 0h2.7m1 0h1.5m5.8 0h2.2m19.8 0h2.3m3.5 0h1m3.6 0h2m3.3 0h1.8m17.2 0h7m5.6 0h2.1m7.4 0h3.6m10.1 0h3.3m9.3 0h3m3.1 0h7.3m5.7 0h5.8m2.3 0h2.2m9.2 0h10.5m3.5 0h5.3m6.9 0h2.7m8.7 0h2.2m3 0h6.6m9.6 0h6.1m.4 0h4.6m5.6 0h3.6m13.3 0h1.6m.7 0h3.3m8.8 0h1.6m16.2 0h2.8m24.1 0h1.6m2.2 0h1.3m6.4 0h7.7m12.6 0h2.2m17 0h11m5.1 0h1.2m3.3 0h3.7m3.2 0h3.1m.5 0h4.6m.9 0h3.5m2.6 0h7.1m11 0h6.3m9.9 0h5.6m5.1 0h13.1m6.2 0h1.6m8.6 0h3.2m4 0h3.5m12 0h5.2m4.3 0h1.4m.3 0h7.6m15 0h2m2.5 0h1.7m5.6 0h3.7m7.2 0h2.2m.5 0h1.6m18.9 0h8.8m1.2 0h2.1m17.3 0h6.8m4.8 0h3.3m4.3 0h3.5m12.4 0h3.1m1.9 0h1.5M211.1 1614h3m10.8 0h4m4.1 0h1.3m10.1 0h6.5m8.4 0h6.6m2.1 0h1.7m.5 0h4.2m7.9 0h2.4m15 0h6.8m2.7 0h1m5.9 0h3.2m16.6 0h.5m3.7 0h3.3m2.8 0h3.3m6.8 0h3.3m6.4 0h8.4m9.6 0h1.8m10.2 0h1.5m11.2 0h8m3.4 0h7.4m2.7 0h1.9m4.2 0h5.3m4.6 0h2m.4 0h5.1m2 0h5.1m11.6 0h5.3m6.2 0h6.8m3.9 0h2.6m10.7 0h6.1m37.8 0h1.7m2 0h3.5m8.9 0h2.5m2.9 0h9.2m23.1 0h1.5m6.1 0h1.9m11.2 0h1.6m21.4 0h4.5m18.2 0h7.6m1 0h3.3m2.9 0h3m12.8 0h8.4m.8 0h3m20.5 0h5m4.7 0h1.2m14.2 0h2.1m.6 0h3.4m7 0h4.7m4.7 0h4.8m8 0h9.9m17 0h4.7m6 0h7.4m8.8 0h4m4.6 0h1.2m6.7 0h1.7m2.8 0h4.1m4.7 0h2.1m7.5 0h3.3m.4 0h2m11.2 0h3.1m22.5 0h9m2.6 0h9.6m2.9 0h3.9m8.4 0h3.7m11.9 0h2m5.3 0h2.6m3.2 0h2.8m6.6 0h3.1m7.7 0h4.7m.9 0h6.7m3.9 0h14.6m4.8 0h8.6m.4 0h2.1m.4 0h2.2m3.1 0h5.3m7.7 0h2.7m6.3 0h8.3m7.6 0h3m1.8 0h10.4m9 0h3.3m5.8 0h4.5m12.4 0h3.2m6.1 0h3.1m43.3 0h2.2m25.9 0h1.9m3.7 0h4.8m7.4 0h3.2m5.2 0h2.1m1.9 0h4m4.9 0h5.6m5.6 0h5.3m18 0h10m.7 0h6.5m.8 0h3.4m1.2 0h2.4m4 0h1.7m8.4 0h5.7m8.6 0h1.7m13.3 0h2.9m22.8 0h3.4m3.7 0h5.4m3 0h1.7m21 0h1.5m6.7 0h2.7m8.4 0h4m2.9 0h1.7m5.9 0h4.3m14.5 0h1.1m14.9 0h5.8m4.3 0h2.6m21.8 0h6m7.7 0h2.1m20.7 0h5.4m2.5 0h2m28.8 0h2.9m20.4 0h2.6m3.8 0h3.2m9.5 0h3.2m10.3 0h1.4m3.9 0h4m12.3 0h1.9m8.4 0h1.7m18.5 0h2.6m1.4 0h4m2.5 0h3m.3 0h7m.8 0h3.6m1.8 0h1.4m24.7 0h3.4m1.9 0h2.6m6.2 0h5.5m11.1 0h2.5m.4 0h1.8m2 0h5.5m6.4 0h3.8m1.9 0h5.2m15 0h1.5m7.7 0h4.8m6.6 0h2.5m4 0h1.8m2.2 0h1.7m9.9 0h6.4m11.7 0h1.8m6.6 0h2.6m5.8 0h5.6m10.8 0h2.7m15.9 0h3.7m5.7 0h4.2m4 0h2m2.3 0h1.9m3.9 0h8.9m.3 0h8.7m.5 0h4.3m3.9 0h1.8m5.3 0h1.5m9 0h4.1m5.8 0h1.4m5.7 0h3.3m4.8 0h8.6m6 0h3.6M211.1 1647.4h2.3m.6 0h14.5m2.1 0h5.7m4.8 0h5.2m12.5 0h1.5m4.1 0h2.6m11.6 0h1.9m1.8 0h2.3m4.2 0h2.4m3 0h6.2m8.3 0h5.3m6.2 0h10.4m7.8 0h4.8m1.3 0h1.8m6.2 0h9.4m9.7 0h1.8m6.2 0h3.9m17.4 0h1.7m8.8 0h2.2m.9 0h3.8m1.8 0h2m3 0h9.8m5.1 0h3.7m7.4 0h2.1m9.4 0h6.6m1.5 0h2.3m2.2 0h2.5m6.4 0h3.5m7.1 0h2.5m1.3 0h1.9m1.7 0h16.6m.7 0h4.2m1.4 0h2.8m2.1 0h7.5m14.7 0h3.7m2.4 0h5.5m3.4 0h13.8m6.5 0h1.9m.4 0h6.5m2.7 0h4.8m3 0h8.3m.9 0h5.3m8.3 0h2.3m.5 0h2.7m19.5 0h2.8m.4 0h5.4m26.7 0h4.1m1.6 0h4.2m7.7 0h8.3m7.7 0h4.6m2.3 0h4.7m4.4 0h6.3m3.9 0h3.8m.5 0h10.2m9.4 0h4.8m3 0h11.8m16.7 0h3.3m13.5 0h11.2m1.7 0h1.7m18.7 0h3.9m5 0h2m6.8 0h2.4m1.2 0h6.6m15.4 0h9.1m2.4 0h4.6m9.1 0h1.8m10.4 0h3.3m11.5 0h4.2m10.4 0h3.8m1 0h2.4m6.7 0h3m2.9 0h3.9m2.5 0h12.3m2.1 0h1.7m14.7 0h2.3m7.3 0h4.9m1.4 0h24.6m1.7 0h2.7m2.2 0h9.8m7.1 0h2.3m4.1 0h1.7m5.6 0h5.6m1.3 0h13.2m26.9 0h4.4m8.8 0h2.7m2 0h2.1m11.3 0h1.1m11.1 0h2.9m13.4 0h3.2m3.4 0h2.5m.6 0h3.4m6 0h2.9m3.8 0h3m1.3 0h2.3m3.5 0h5.2m1.1 0h16.2m15.6 0h3m9.9 0h1.9m15.6 0h4.2m3.8 0h3m2.8 0h3.9m7.2 0h3.6m7 0h3.2m9.1 0h4.1m5.8 0h16m.9 0h2.9m17.2 0h8.3m3 0h1.8m8.2 0h5.7m7.1 0h11.6m3.5 0h12.6m6.6 0h2.5m2.3 0h3m3.2 0h2.1m5.2 0h2.8m2.3 0h2.8m1.9 0h6.1m.7 0h2m1.2 0h4m3 0h1.8m4.2 0h3.4m4.3 0h2.5m8 0h4.7m8.8 0h9.7m1.2 0h1.9m5.2 0h5.3m5.6 0h14.8m5.4 0h20.1m7.9 0h2.6m2.4 0h10.1m7.7 0h1.7m9 0h10.3m4 0h2.7m1.6 0h2.2m2.4 0h13.8m5.5 0h1.7m8.7 0h2.1m1.6 0h2.1m4.3 0h3m.9 0h2.5m6.2 0h4.8m1.1 0h3.2m.5 0h6.5m2.5 0h2m5.1 0h4.7m2.3 0h5.1m4.2 0h1.9m2.1 0h3.8m5.5 0h2.5m2.3 0h2.9m2.6 0h4.2m19.8 0h2.5m9 0h3.5m5.6 0h2.7m5.7 0h3.1m2.8 0h2.3m13.6 0h7.8m.5 0h4.5m4.1 0h2.5m5.8 0h2.4m5.9 0h2.4m3 0h2.3m6.2 0h2.1m9.3 0h2.5m11.9 0h1.9m10.4 0h5.1m16.5 0h4.3m6.7 0h2m7.6 0h1.7m4.5 0h1.7m5.3 0h4.2m14.7 0h4.9m.8 0h5.4m12 0h3.6m4.1 0h3.6M211.1 1680.8h2.8m2.5 0h1.7m4.5 0h1.6m3.3 0h1.4m5.9 0h2.3m3.1 0h1.9m1.6 0h7.3m7.6 0h5.5m16.1 0h2.1m5.8 0h1.9m11.5 0h2.8m2.6 0h1.8m1.2 0h7m1.8 0h3.2m7.5 0h1.9m12.2 0h6.4m6.5 0h1.6m5.2 0h1.8m2.9 0h1.4m9.3 0h6.4m2.3 0h3.1m6.5 0h9m6.5 0h1.8m3.3 0h9.3m5.3 0h2.7m6.3 0h5.2m10.7 0h6m2.9 0h4.7m16.8 0h6.2m11.1 0h6.1m9 0h1.5m8.6 0h8.1m6.1 0h2.2m.5 0h6.6m5.1 0h2.5m6.6 0h13.6m4.3 0h4.2m17.3 0h5.2m9 0h7.8m3.8 0h5.3m18.5 0h2.2m2.4 0h2.7m2.5 0h1.8m4.2 0h5.4m1.6 0h1.7m15.9 0h4.5m11.2 0h5.6m13.8 0h1.2m17.4 0h2.1m2 0h12.1m1.7 0h9.6m4.1 0h7.3m.4 0h2m2.2 0h3.5m3.8 0h3.7m6.7 0h2.3m2.6 0h1.8m8.4 0h2.3m9.8 0h9m2.8 0h4m3.9 0h2.1m7.4 0h7.6m20 0h4.3m9.2 0h3.2m8.6 0h3.8m.6 0h4.4m.4 0h4.3m11.4 0h1.3m10.8 0h5.5m6.4 0h2.8m13.2 0h17m15.6 0h1.7m.6 0h3.9m1 0h17m11.2 0h3.5m15.5 0h2.1m8.5 0h12.3m.9 0h2m6.6 0h8m9.2 0h1.5m6.8 0h2m16.8 0h2.4m13.2 0h7.6m2.2 0h2.6m.5 0h1.6m27.5 0h1.8m4.5 0h3.3m10.5 0h2.7m2.4 0h3.9m7.8 0h17.9m9 0h4.7m8.4 0h3.1m2.5 0h18.6m2.5 0h1.8m3.5 0h2.4m20.6 0h3.1m9.3 0h.7m5.5 0h15.7m3.4 0h3.6m11.5 0h9m3.3 0h1.5m21 0h3.3m5.8 0h4.2m6.1 0h4.6m3.8 0h5.3m3.7 0h2.1m8.5 0h3.1m3.9 0h3.1m5.1 0h1.9m7.7 0h1.5m9.7 0h6m30.8 0h2.7m5.6 0h6.2m7.4 0h2.6m5 0h3.5m1.6 0h4m8.1 0h5m3.6 0h2.4m10.2 0h1.6m7.2 0h5.6m5.2 0h4.2m7.7 0h4.6m.5 0h2.6m6.8 0h2.9m12 0h2.5m8.4 0h3.3m5.7 0h2.3m7.4 0h1.7m5.5 0h7m3.1 0h2.8m.8 0h2.2m5 0h2.6m3 0h3.2m1.8 0h3.7m3.2 0h1.9m17.5 0h1.4m14.1 0h1.2m17.2 0h6.6m19.7 0h3.4m19.1 0h4.9m8.6 0h4.6m13.8 0h3.3m2.6 0h2.5m6.7 0h7.9m3.4 0h3.3m6.2 0h1.6m5.5 0h10.4m.9 0h2.9m4.6 0h10.2m5.5 0h5.7m3.4 0h2.9m.9 0h2.3m2.3 0h4.5m1.7 0h9m1.1 0h11.3m30.6 0h4.5m14 0h4.6m3.3 0h5.5m8.6 0h2.6m2.9 0h1.9" fill="none" stroke="#465BB1" stroke-opacity="0.8" stroke-width="17.21"/>
<path d="M213.7 1547.2h1.7m26.9 0h1.6m10.2 0h2m30.2 0h2.4m4.9 0h2.5m4 0h2.6m21 0h1.4m6.7 0h3.5m8.4 0h1.9m8 0h2.2m9.2 0h3.4m8 0h2.1m12.6 0h2.3m8.3 0h1.9m11 0h5.1m1.5 0h4.1m6.7 0h1.5m12 0h3.5m4.2 0h10.7m14.7 0h2.5m1.2 0h2.2m13.2 0h4.3m9.3 0h2.9m8.9 0h1.6m1.1 0h3.6m2.6 0h2.8m6.3 0h1.8m22.3 0h8.3m13.5 0h11.2m8 0h1.8m8.8 0h3.4m24 0h3.6m6.8 0h3.6m13.5 0h4.9m6.8 0h3.1m7.2 0h1.9m3.2 0h10m21.7 0h1.1m19.8 0h1.5m4.8 0h1.7m13.8 0h5.1m5.1 0h1.1m5.8 0h1.7m7.6 0h1.9m3.9 0h.7m7.3 0h1.3m6.9 0h5.9m3.6 0h1.5m8.6 0h6.9m6 0h1.8m1.8 0h1.3m17.6 0h5m2.6 0h2.6m2.5 0h1.4m8.6 0h1.5m3.4 0h1.8m2.8 0h4.4m16.3 0h1.3m8.2 0h3.7m17.2 0h3.5m5.3 0h1.7m1.8 0h4.2m3.9 0h3.3m24.9 0h2.7m.6 0h6.5m13.5 0h7.4m5.9 0h4.3m5.1 0h2.8m10.1 0h6.6m2.9 0h1.5m2.8 0h7.4m10.1 0h2.4m22.7 0h1.5m11.6 0h2.8m2.6 0h4.5m12.8 0h3.6m2.7 0h2.5m1.3 0h1.3m6.8 0h2.1m23.9 0h1.8m10.7 0h1.2m6.2 0h3.1m4.7 0h4.6m5.3 0h2.1m13.5 0h7.6m.6 0h4.1m2.8 0h8.1m5.1 0h6.9m7.3 0h1.2m10.6 0h5.5m7.5 0h2.9m7.9 0h4.5m20.6 0h10m8.9 0h3.1m16.2 0h1.8m11.7 0h6.2m1.7 0h11m8.5 0h2m8.5 0h4.6m23.9 0h1.5m22.5 0h3.6m7.1 0h4.9m9.5 0h3m7.1 0h1.2m11.7 0h2.1m13.6 0h2.4m6.2 0h2.5m3 0h2.1m11.4 0h1.9m3.7 0h2.2m1.1 0h3.6m19.4 0h4m2 0h2.3m6.2 0h3.8m14.3 0h9m11.8 0h2.7m7.9 0h5.7m12.1 0h7.2m4 0h5.5m7.1 0h1.6m12.6 0h1.6m6.7 0h1.9m8 0h2.9m1.3 0h6.3m2.4 0h3.6m1.5 0h1.3m6.4 0h1.7m.9 0h3.3m.3 0h3.8m4.3 0h3.7m.7 0h6m12.5 0h6.4m17.7 0h1.3m14.6 0h6.2m4.4 0h1.4m6.7 0h4.6m19.7 0h10.4m3.3 0h1.8m12.3 0h2m10.2 0h4.2m2.7 0h6.4m2.4 0h1.5m8.6 0h3.1m8.9 0h3m2.4 0h2.6m8.9 0h2.4m7.5 0h2.8m14.9 0h4.1m7.5 0h1.1m2 0h4m.7 0h2.5m2.7 0h1.7m3.4 0h5.8m13.5 0h1.9M230.2 1580.6h4.2m3.7 0h3.4m6.4 0h2.3m4.9 0h2.5m6.4 0h1.4m15.5 0h1.4m10.7 0h2.8m17.6 0h3.6m.6 0h5.7m19.5 0h4.5m1.1 0h3.1m10.4 0h5.9m22.6 0h6.3m9.4 0h2.2m.5 0h3.5m1.6 0h4.9m10 0h4.5m2.2 0h1.6m2 0h3.7m8.7 0h7.5m1.8 0h4.1m4 0h11.9m1.5 0h3.5m2.9 0h1.6m8.8 0h2.3m12.1 0h8.6m17.6 0h1.5m2.9 0h7.2m5.8 0h5.9m2.7 0h1.9m6.4 0h2.9m2.3 0h2.2m3.6 0h4.1m2.6 0h5.7m11 0h3.4m5.9 0h2m6 0h2.2m5 0h2.9m3.6 0h2.4m3.6 0h4.8m7.2 0h3.1m4.6 0h1.5m10.6 0h4.1m6.1 0h2.5m18.8 0h5.4m11.3 0h3.5m2.8 0h2.5m.4 0h4.4m17.1 0h1.2m15.9 0h5.2m4.3 0h2.8m5.9 0h3.9m4.5 0h1.4m10.8 0h2.6m1.5 0h1.8m17.5 0h2m12.6 0h14.4m4.7 0h2.6m1.3 0h4.4m9.8 0h7.5m17.6 0h3.4m10.9 0h5m4.4 0h2.5m9.1 0h2.1m8.6 0h2.7m11.4 0h3.6m1.4 0h3.6m.6 0h4.8m.8 0h2.9m7.4 0h4.8m9.4 0h4.2m12.1 0h2.1m4.6 0h1.8m2.3 0h3.9m10.1 0h2.6m12.7 0h6.3m11.4 0h5.6m15.3 0h1.8m2.3 0h3.2m7.4 0h2.2m2.5 0h3.5m7.6 0h3.4m.6 0h1.3m14.8 0h6.1m3.4 0h3.5m7.6 0h2.4m3.4 0h2m13.3 0h4.4m13.9 0h5.6m2.4 0h2.7m.5 0h1.4m6.2 0h3.6m21.1 0h3.3m1.7 0h2.8m2.7 0h2.7m17.5 0h2.6m1.8 0h1.5m5.8 0h5.1m14.5 0h3.5m3.5 0h3.6m9.3 0h1.5m14.9 0h5.1m25.1 0h3.6m19.5 0h2.8m3.9 0h9.1m8.1 0h2.4m4.5 0h2.8m.8 0h6.8m15.3 0h3m3.2 0h1.2m5 0h2.4m.4 0h13.3m14 0h3.9m4.1 0h5.3m2.2 0h4m13.6 0h3.9m6.7 0h2.1m10.2 0h2.8m4.4 0h2.2m10.2 0h2.8m9.1 0h1.7m7.1 0h2.3m7.2 0h2.4m10.3 0h2.5m12.2 0h2m6.6 0h1.8m7 0h3.3m2.2 0h13.1m1.8 0h2.1m3.6 0h2.5m22.2 0h1.5m6.4 0h9.1m11.6 0h1.2m4.4 0h2.3m12.7 0h3.6m18.8 0h1.9m18.2 0h2.4m3.7 0h2.4m2.3 0h2.3m4 0h1.9m3.2 0h2.3m2.1 0h4m5.7 0h2.1m15.3 0h4m11.4 0h4.8m13.4 0h5.1m7.3 0h5.3m1.8 0h5.4m4.1 0h7.2m8 0h3.1m2.6 0h1.7m6.2 0h2.9m14.2 0h1.9m2.3 0h2.9m6.5 0h2.4m7 0h1.9m2.7 0h11.2m14 0h2.6m15.3 0h2m7.4 0h3.6m4.5 0h3.8m4 0h1.7m15.3 0h1.8M213.4 1614h1.4m13.4 0h5.5m2.3 0h2.5m16.3 0h2.8m7.5 0h1.2m2.6 0h1.9m8.6 0h1.7m12.7 0h4.8m7.1 0h2.2m3.2 0h3.3m11.2 0h7.3m4.6 0h1.5m6.2 0h1.6m1.9 0h1.5m12 0h4.5m11.7 0h4.9m4.1 0h9.3m2.5 0h1.4m18.6 0h1.6m6 0h4.1m.5 0h1.7m7.9 0h1.3m5.3 0h1.8m3.7 0h3.4m10.4 0h1.9m10.2 0h3.5m7.5 0h3.8m10.4 0h4.5m23.3 0h9.4m13.6 0h1.4m2.1 0h5.3m7.7 0h1.1m27.1 0h3.3m3.5 0h3.5m9.1 0h1.5m14.5 0h12.3m15.1 0h2.1m14.5 0h2.4m3.5 0h2.6m1.6 0h3.3m17.9 0h2.2m21.1 0h2.3m3.6 0h2.8m12 0h1.7m5.7 0h2m2 0h8.4m6 0h3.5m3.4 0h7.1m21.7 0h1.7m14.5 0h2m8.6 0h5.5m4.8 0h2.4m6.1 0h5.4m2.7 0h1.8m5.6 0h3.3m4.1 0h2.8m4.6 0h1.8m2.8 0h7.1m4.9 0h4.2m27.4 0h4m8.2 0h4.3m8.6 0h3.7m5.1 0h3.6m7.5 0h6.7m1.2 0h2.9m3 0h8m9.1 0h1.7m3.3 0h2.3m5.3 0h3.4m15.1 0h2.6m10.8 0h1.8m.7 0h1.8m.8 0h1.5m10.2 0h3.6m5.1 0h1.1m11.9 0h1.4m11 0h1.4m18 0h1.4m7.2 0h1.8m13.3 0h3.7m1.8 0h4.1m23.3 0h7.2m20.1 0h3m24.9 0h5.1m5.2 0h7.1m1.8 0h6.6m.7 0h3.3m2.6 0h6.3m4.2 0h4.1m14.1 0h9.3m11.5 0h2.1m5.1 0h2.2m2 0h2.6m1 0h5.4m.3 0h7.9m9.8 0h1.2m5.5 0h3.2m24.8 0h1.9m12.5 0h2.7m6.3 0h1.4m21.9 0h1.6m2.2 0h5.3m8.3 0h5.6m2.6 0h2.3m2.3 0h1.7m17 0h4m6 0h1.8m17.9 0h1.1m16.5 0h3.2m12.1 0h9.1m18.5 0h4.3m4 0h1.9m17.6 0h9.3m14.4 0h3m12.9 0h5.2m9.3 0h1.7m3.3 0h11.7m1.8 0h3.6m6.8 0h2.6m7.4 0h9.8m13.8 0h3.4m4.1 0h2.8m2.6 0h1.5m4 0h1.7m5.6 0h2.2m2.2 0h3.2m1.8 0h1.9m26.2 0h1.6m1.2 0h7.6m8 0h4.5m5.1 0h1.8m.4 0h1.8m5.7 0h7.8m2.4 0h1.2m17.4 0h4.9m7.8 0h1.4m3.4 0h4m5.1 0h5.4m.4 0h3.6m4.1 0h5.5m7 0h4.5m11.3 0h2.2m4.7 0h3.4m11.2 0h8.9m4.1 0h6m13.9 0h1.7m8.8 0h1.6m.6 0h3.7m2 0h3.8m7.5 0h1.7m7.3 0h1.9m2.9 0h3m7.1 0h2.3m2 0h5.8m10.6 0h1.9m2.8 0h4.3m1.9 0h6.2m7.2 0h7.4M212.7 1647.4h2m13.1 0h3.5m4.3 0h1.9m8.1 0h12m1.9 0h5.5m1.2 0h11.4m2.1 0h3.2m.9 0h5.6m1 0h4.4m4.8 0h9.7m3.9 0h7.6m9 0h6.4m6.1 0h2.7m.4 0h7.6m8 0h11.1m.4 0h7.6m15.4 0h4.3m1.9 0h10.2m.8 0h2.3m2.4 0h3.2m.6 0h4.4m11.7 0h3.3m2.3 0h6.7m2.9 0h10.8m5.2 0h2.9m.9 0h3.6m1.1 0h7.8m2.1 0h4.5m5.1 0h2.7m.5 0h3.1m15.2 0h2.1m2.8 0h2.8m3.2 0h1.6m20.5 0h1.7m2.3 0h3.8m7 0h1.9m12.4 0h7.9m.5 0h1.8m5.1 0h4.1m3.4 0h4.4m6.9 0h2.3m3.9 0h9.7m.9 0h1.9m15.1 0h7.1m1.4 0h1.8m4 0h28.1m2.7 0h3m2.8 0h9.1m10 0h6m3.2 0h3.7m3.3 0h5.8m4.9 0h5.3m2.4 0h1.9m8.8 0h8.5m8.6 0h1.5m10.4 0h13m7 0h14.9m9.8 0h1.4m1.9 0h5.4m20.4 0h1.5m2.4 0h4.8m4.4 0h2.6m14.4 0h7.6m7.7 0h3.8m5.7 0h8m10.5 0h1.7m1.9 0h12.9m10.1 0h4.5m2.4 0h2.4m1 0h6.3m3.4 0h4.3m2.5 0h3.9m10.9 0h3.5m.3 0h16.1m.9 0h8.7m3.5 0h2.8m23.2 0h3.1m1.3 0h3.6m8.4 0h8.5m.9 0h5.5m2.7 0h4.6m4.2 0h2.7m32.7 0h7.4m3 0h10.2m1.3 0h3.4m.7 0h5.7m17.1 0h2.1m1.5 0h3.3m13.4 0h3m2.8 0h2m2 0h5.7m3.2 0h5.2m1.6 0h2.7m.9 0h2.7m6.1 0h2.5m17 0h11m5.3 0h11.3m.5 0h2.6m17.1 0h5.2m1.6 0h4.2m5 0h1.5m6.7 0h8.4m1.8 0h7.2m5.9 0h7.2m14.6 0h2.3m1.5 0h18.6m6.9 0h4.4m.4 0h9.6m4.3 0h8.5m10.2 0h2.8m15.3 0h5.9m1.1 0h3.7m4.1 0h2m.7 0h6.6m1.4 0h1.9m3.2 0h3.3m4.7 0h2.1m.6 0h2.6m2.6 0h4.4m3.4 0h2.7m2 0h5.7m1.1 0h9.4m5.6 0h4m12.2 0h2.6m.5 0h6.6m3.9 0h7m13.4 0h6.8m18.7 0h9.3m1.2 0h3.8m8.7 0h9.1m2.8 0h1.9m17.3 0h2.9m1.3 0h3m.8 0h3.8m14.1 0h5.2m4.6 0h5.7m.7 0h3m2.4 0h1.2m4.4 0h2.3m1.1 0h7.6m3.4 0h2.5m1.8 0h1.9m5.1 0h3.9m.6 0h1.9m9.4 0h2.1m3.7 0h5.6m.5 0h3.5m2.4 0h6.9m1.1 0h3.7m1.5 0h4m2.8 0h17.6m4.7 0h10.4m4.4 0h4.6m1.3 0h7.1m1.7 0h4.2m.9 0h15m6.4 0h1.9m3.1 0h5.5m3.4 0h1.7m4.2 0h4.9m5.4 0h2.4m.9 0h5.3m3 0h3.2m10.5 0h9.6m2.3 0h11.8m3.7 0h17.9m2.9 0h8.1m6.9 0h2.7m3 0h3.3m2.2 0h2.7m4.9 0h16.1m3.5 0h2.2m5.8 0h11.7m2.2 0h5.5m2.2 0h8.2M213.2 1680.8h3.9m.3 0h3.9m2.2 0h4.7m3.3 0h4m.9 0h4.5m.5 0h3m5.9 0h7.3m5.8 0h5.7m12.4 0h4.8m13.2 0h2.5m1.4 0h4m.4 0h2.6m5.6 0h3.2m1.8 0h3.7m16 0h3.4m5 0h7.9m5.1 0h1.7m.4 0h2m2.4 0h8.2m9.7 0h1.5m1.7 0h4.3m14.2 0h5m.4 0h2.4m10.2 0h3.1m6.8 0h1.5m8.1 0h5.4m11.3 0h4.3m17.2 0h4.3m9.6 0h4.4m12.9 0h5.7m3.3 0h4.3m10.9 0h5.7m.8 0h1.9m5.2 0h6.5m2.7 0h6.4m12.2 0h5.7m7.6 0h13.9m11.7 0h2.6m6.4 0h3.5m15.6 0h9.8m.8 0h1.6m3.5 0h3.9m1.9 0h2m6.1 0h3m15 0h2.6m4.8 0h8.5m6.6 0h1.5m15.9 0h16.4m.7 0h1.6m12.5 0h3.1m10.1 0h3.6m5.9 0h1.8m.6 0h1.6m4.1 0h5.2m5.5 0h2.9m2.9 0h4m3.7 0h6.5m3.4 0h3.4m14.9 0h2.1m4.8 0h3.1m.7 0h4.6m10.4 0h10.3m14 0h8.4m4 0h2.6m9.8 0h2m3 0h1.8m2.9 0h5.3m8.9 0h10.6m4.1 0h5.6m3.6 0h2.5m42.1 0h2.6m.3 0h2m2.5 0h2.4m15.6 0h12.6m10.2 0h8.8m6.6 0h2.1m12.8 0h2.3m2.8 0h1.7m10.6 0h4.6m7.6 0h1.2m6.1 0h2.1m17.1 0h4.8m15.9 0h3.6m1.2 0h1.9m17.4 0h11.7m3.8 0h2.5m4.6 0h3.4m7.1 0h3.8m6.3 0h5.5m16.5 0h8.2m9.4 0h6m1.7 0h3.9m17.2 0h3.9m.4 0h4.9m17.1 0h6m3.9 0h5.9m4.6 0h4.2m14.3 0h2m8.9 0h4.8m11.7 0h2.7m13.9 0h3m9.5 0h4m6 0h7.5m5 0h3.5m3.9 0h5.1m.7 0h9.9m5.2 0h1.8m1.7 0h6.5m.5 0h2.1m8.8 0h3.1m34.1 0h2.3m11.2 0h3.8m4.8 0h5.1m8 0h1.5m3.9 0h3m10.5 0h1.6m3.6 0h5m1 0h2m14 0h4.4m6.7 0h4.1m7.6 0h4.3m3.2 0h1.9m1.2 0h1.9m7.7 0h13.4m5 0h3.7m4.2 0h3.7m4.2 0h3.7m5.5 0h6.9m5.6 0h4.5m1.4 0h2.2m3.5 0h1.5m3.3 0h4.4m3.6 0h1.4m5.3 0h1.6m13.3 0h2.3m17.6 0h1.7m13 0h5.4m9.3 0h4m31.9 0h3.5m3.5 0h10m3.2 0h15.2m3.4 0h2.5m1.1 0h8.1m6.5 0h2.8m3.9 0h4.8m3 0h5m11 0h2.3m1.5 0h1.7m13.1 0h6.9m6.6 0h2.4m1.5 0h2.3m2.9 0h1.7m3.1 0h1.4m9.3 0h2.5m9.9 0h14.1m35.1 0h1.4m5.7 0h2.2m7.3 0h6.9m1.2 0h4.3m.5 0h2.5" fill="none" stroke="#465BB1" stroke-opacity="0.8" stroke-width="17.21"/>
<path d="M211.1 1563.9h1.7m3.9 0h2m4.3 0h1.5m3.9 0h10.8m5 0h2m14.5 0h3.1m21.6 0h1.8m2.6 0h7.8m10.5 0h3.9m2.8 0h3m7.2 0h1.5m9.6 0h4.1m24.8 0h2.7m19.2 0h1.5m10.1 0h2.5m.7 0h2.8m5 0h1.5m1.9 0h5.9m13.7 0h2.5m10.3 0h1.4m7.9 0h1.5m5.5 0h2m3.4 0h2.3m10.4 0h1.8m9.7 0h.5m8.7 0h1.6m.7 0h18m4.2 0h1.4m8.6 0h2.8m5.3 0h3.4m2.3 0h1.8m3.7 0h2.5m6 0h1m11.5 0h15m11.4 0h5.7m2.8 0h1.6m11.1 0h3.9m9.7 0h3m22.6 0h1.1m4.9 0h4.9m6.6 0h5.1m10.6 0h9.5m2.4 0h1.5m33.3 0h1.8m4.8 0h2.8m9.7 0h3.7m3.2 0h2.4m11.5 0h3m3.7 0h1.9m5.5 0h7.5m4.6 0h3m3.7 0h3.2m24.2 0h1.5m9.8 0h6m3.6 0h1.8m4.5 0h1.1m9.1 0h2m11.9 0h3.8m2.8 0h1.9m7.6 0h2.7m8.4 0h3.5m.8 0h2.9m7.6 0h2.6m19.3 0h2m3.6 0h2.9m9.5 0h3.5m7.2 0h6.9m7.6 0h3.6m20.3 0h1.8m6 0h4.5m2.9 0h5.9m3.4 0h2.4m2.6 0h5.6m8.2 0h4.6m2.7 0h6.5m7.7 0h1.9m9 0h2.7m20 0h1.5m6.5 0h3.2m10.6 0h2.2m.8 0h3.9m21.4 0h1.6m13.1 0h3.5m3.3 0h3.1m16.2 0h3.2m1.5 0h5.1m7.3 0h2.2m19.7 0h5.8m5.5 0h3.6m7.9 0h1.8m3.8 0h1.2m3.5 0h3.7m16.4 0h3.8m9.9 0h1.3m16.8 0h3.2m18.8 0h2.6m8.2 0h5.4m9.3 0h2.5m5.8 0h2.8m5.7 0h2m26.8 0h3.4m32.7 0h1.5m5.7 0h2.5m6.3 0h2.5m8.7 0h2.7m11.6 0h2m15 0h2.2m36.6 0h1.5m3.4 0h10.4m2.6 0h2.5m6.9 0h4.7m9.1 0h2.3m4.9 0h2.6m23 0h4.8m11.5 0h4.6m24.6 0h2.8m6.7 0h2.7m6 0h1.4m3 0h5.4m4.8 0h3.5m2.3 0h5.5m29.8 0h5.6m14.5 0h4m1.3 0h3.4m6.4 0h2.6m3.5 0h2.9m14.6 0h1.6m4 0h2m4 0h4.2m16.6 0h4m5 0h6m8.5 0h5.2m2.9 0h2.8m7 0h2.1m4 0h7.7m6.6 0h1.1m3.4 0h2.5m.3 0h2.4m2.8 0h3.2m8.8 0h3.8m22.6 0h2m16 0h5.6m9.3 0h5.1m1.5 0h3.2m4 0h2m1.9 0h3.8m8.3 0h5.9m.8 0h2m2 0h2.4m7.4 0h1.4m14.5 0h2m2.7 0h1.4m6.4 0h8.1m1.7 0h2.7M212.4 1597.3h2.8m2.2 0h5.5m16.3 0h13.1m7.2 0h8.5m4.2 0h15.2m3.1 0h3.8m7.1 0h1.7m8.2 0h1.8m12 0h2.3m17.1 0h2.2m2.9 0h1.8m5 0h1.5m11.3 0h2.7m6.8 0h1.1m35.8 0h5.8m3.4 0h5m31.7 0h2.5m11.1 0h1.8m21.9 0h2m2.9 0h2.4m4.7 0h3.1m24.1 0h4.9m7 0h4m11.2 0h1.8m5.7 0h2.6m.9 0h2.6m2.1 0h2.1m6.3 0h8.7m3.1 0h1.5m6.8 0h1.2m6.5 0h3.3m2.1 0h2.5m11.7 0h1.5m4.4 0h1.8m14.1 0h3.9m9.3 0h1.6m13.5 0h2.1m.8 0h4.4m.4 0h4.6m2.5 0h2.2m9.5 0h4.3m7 0h2m4 0h4.5m2.2 0h4.1m25.4 0h5m20.8 0h1.4m11.5 0h.5m3.9 0h.7m5.4 0h1.4m6.1 0h7.3m8.5 0h2m.7 0h2.2m7.1 0h3.2m7 0h2m5.2 0h8.2m1.6 0h3.5m2.5 0h3.6m7.7 0h8.1m18.1 0h1.6m4.6 0h4.6m2.5 0h6.3m.4 0h7m23.6 0h1.9m17.9 0h8.9m2.1 0h8.7m3.3 0h3.1m3.2 0h4.3m12.1 0h2.3m20 0h5.5m3.1 0h2.1m3.2 0h6.2m1.1 0h2.2m19.6 0h2m11.4 0h14.2m12.9 0h1m25.5 0h7.1m19.6 0h6m7.5 0h3m8.1 0h5.9m9.2 0h4m8.7 0h1.6m14.4 0h2.8m6.6 0h3.5m10.5 0h2.4m6.7 0h13m5.3 0h7.6m6.4 0h2.9m.6 0h3.4m3.2 0h8.8m4.3 0h2.6m6.1 0h1.6m5.1 0h3.4m2.1 0h2.6m7.5 0h1.9m.3 0h2.1m1.2 0h4.7m3.7 0h2.9m2.1 0h5.9m9.8 0h3.7m13.7 0h1.6m2.5 0h3.4m1.1 0h5.4m3.3 0h1.7m14.2 0h8.6m.6 0h3.5m6.7 0h1.4m11.7 0h3.3m.6 0h2.4m8.1 0h1.6m8.4 0h7.6m18.7 0h5.6m10.1 0h6.5m16 0h2.4m10.3 0h1.4m30.2 0h2.7m3.4 0h6.2m.4 0h2.4m3.5 0h1.7m6.9 0h3.5m6 0h1.1m11.3 0h.8m8.8 0h2.1m3.9 0h7.1m19.3 0h3.4m10.5 0h2.3m7.1 0h6.3m2.8 0h6.4m15.9 0h1.1m7.5 0h6m3.4 0h5.4m17.9 0h3.4m1.2 0h5.4m10.8 0h3m.9 0h1.3m7.2 0h2.7m2.3 0h2.6m1.3 0h6.5m15.8 0h1.2m13.8 0h3.5m14.4 0h1.7m6.7 0h2m4.6 0h12.5m16.1 0h6.5m3.9 0h1.3m6.5 0h2.4m9 0h7m5.9 0h7.4m6.2 0h7.3m8.9 0h1.2m12.4 0h2.4m4.3 0h5.2m2.8 0h6.4M211.1 1630.7h10.1m18.7 0h3.9m3.9 0h9.9m17.5 0h1.5m.4 0h1.8m3.5 0h4.2m4.7 0h5.9m4.1 0h3.4m5.4 0h2.6m5 0h2.6m.6 0h2.7m9.6 0h3.1m17.7 0h3.7m10.9 0h1.2m3.9 0h2m2 0h9.2m19.3 0h7.7m2.3 0h7.9m3.7 0h4.6m4 0h3.6m10.6 0h9.2m14.2 0h4.4m3.8 0h9m11.6 0h2.8m4.4 0h5m2.3 0h3.4m3.4 0h4.2m9.3 0h2.1m8.9 0h8.3m5.1 0h1.8m29.7 0h3.1m.3 0h2.7m6.1 0h6.3m3.8 0h1.3m6.8 0h2.1m9.4 0h4.4m5 0h2m5.3 0h6.3m14.7 0h2m23.5 0h5.1m6.5 0h2.7m9.8 0h3.7m2.1 0h3.9m.3 0h2m1.5 0h2.2m5.8 0h2.1m5.5 0h4m18 0h3.1m3.7 0h6.2m6.1 0h9.6m5 0h3.6m16.2 0h13.4m1.9 0h3.1m3.4 0h2.1m3.2 0h4.1m15 0h4.2m11.8 0h2.6m4.1 0h4.1m1 0h6.9m4 0h1.5m2.5 0h2.1m10.8 0h4.8m9.4 0h3.3m1.4 0h1.3m9.3 0h2.6m3.2 0h2.1m10.9 0h2.8m14.9 0h3m5.4 0h2.5m19.7 0h1.3m11.2 0h2.9m2.3 0h5.8m.8 0h4.1m10.3 0h4.5m8.3 0h2.7m2.9 0h5.4m7.9 0h2.8m16.6 0h4.6m7.6 0h1.7m7.3 0h2.3m19.9 0h4.1m5.5 0h7.1m5.2 0h3.2m24.2 0h1.1m15.1 0h2.1m5.1 0h3.1m4.4 0h6.8m4.6 0h6.5m17.5 0h3.6m2.3 0h1.6m25.1 0h4.3m4.7 0h9.7m11.6 0h1.9m5.3 0h16.5m16.7 0h6.1m3.8 0h2.6m33.5 0h3.4m11.5 0h2.2m.7 0h5.7m3 0h8.6m12 0h10.4m11.8 0h5.4m3.5 0h3.6m2.9 0h1.1m10.3 0h3.7m1.2 0h1.6m24.7 0h1.2m3.1 0h2.2m7.9 0h4.8m7 0h1.9m11.4 0h2.4m12.2 0h2.9m7.5 0h2m6.4 0h2.8m1.6 0h2.1m22.5 0h4.1m4.1 0h3.6m7.2 0h7.1m7.4 0h4.8m6.2 0h5.6m8.3 0h2.5m2.8 0h4.3m22.4 0h10.6m3 0h1.9m6.9 0h1.7m8.3 0h4m1.2 0h3.8m17.4 0h1.6m6.2 0h2.1m8.2 0h1.7m12.2 0h3.1m17.9 0h6.2m9.5 0h7.9m2.5 0h2.5m1.1 0h4.8m4.3 0h1.9m4.3 0h5.5m6.5 0h5.6m17.1 0h3.8m15.9 0h4.6m7.5 0h1.7m5 0h6.4m8.3 0h1.2m10.6 0h3.9m11.6 0h2.9m10 0h2.3m2.3 0h1.7m3.9 0h1.8m12.2 0h1.8m6.2 0h5.7m2.3 0h3.3m2.9 0h1.8m8.3 0h1.5M211.1 1664.1h2m.7 0h1.4m8.1 0h5.7m8.6 0h2.2m1.6 0h3m1.8 0h5.4m6.9 0h5.1m14.6 0h5.9m15.7 0h3.1m3.2 0h10.6m2.8 0h2m.5 0h4.7m1.3 0h3.4m6.1 0h1.4m7 0h2m2 0h7.4m2.7 0h6.3m4.8 0h1.5m2.9 0h5.2m11.6 0h4.9m12.6 0h8.8m9.1 0h2.5m7.1 0h7.7m1.7 0h6.8m5.5 0h3.2m.4 0h2.6m20.1 0h3.6m4.1 0h6.5m12.8 0h12.9m.5 0h7.4m2.3 0h5.5m7.3 0h4.5m11.9 0h7m8 0h1.8m3.1 0h16.5m32.5 0h3.4m6 0h2.6m15.1 0h3.2m11.5 0h4.2m8.9 0h4m2 0h8m25.1 0h10m4.6 0h4.8m5.6 0h3.6m2.9 0h2.5m8.5 0h2.8m1.9 0h3.6m7.3 0h7.4m2.4 0h5.2m1.7 0h2.4m2 0h3.6m1.6 0h2.1m.4 0h5.8m19.3 0h2.6m5.9 0h2.8m.7 0h1.9m31.6 0h1.4m2.8 0h12.5m1.5 0h8m4.3 0h4.6m10.5 0h1.7m13.3 0h4.3m4.6 0h1.5m7.4 0h1.1m12 0h3.9m2.1 0h2.8m5.7 0h6.5m.7 0h2.9m22 0h3.6m4.9 0h2m12.2 0h15.5m3.8 0h3.3m4.7 0h.7m5.6 0h8.3m.5 0h3.1m14.3 0h4m3.9 0h10.8m2.9 0h5.2m17 0h3.4m9.5 0h8m18.5 0h1.9m4.8 0h5.9m.8 0h5.4m4 0h4.2m13.4 0h.7m17.1 0h2.3m6.6 0h3.4m5.2 0h4.8m2.3 0h2.2m16.3 0h3.3m3.7 0h4.7m1.1 0h2m7.9 0h6.8m37.6 0h3.2m15.8 0h8.7m8.8 0h3.6m5.3 0h2.1m7.3 0h2.2m4.6 0h6.5m10 0h2.1m3.5 0h1.8m3.6 0h3.6m1.2 0h2m9.1 0h8.9m.3 0h2.9m15.5 0h2.7m1 0h2.8m3 0h1.3m3.6 0h2.1m8.2 0h2.5m1 0h13m13.5 0h1.2m7.2 0h3.3m13.9 0h8.8m2.4 0h2.1m4.2 0h2.1m14.1 0h3.7m3.1 0h2.4m7.9 0h2.3m14.7 0h6.2m8.5 0h6.3m5.7 0h6.4m8 0h2.1m.9 0h1.8m3.3 0h4.1m15.4 0h5.6m4.8 0h4.4m33.8 0h1.8m19.4 0h1.4m10.3 0h6.5m4.2 0h2.9m8.8 0h3.7m16.3 0h3.8m.5 0h14.3m8 0h4.5m.5 0h5.9m.9 0h3.3m3.1 0h10.2m5.4 0h2.3m7.8 0h2.6m3 0h3.6m3.5 0h5.8m5.2 0h8m2.8 0h1.7m8.7 0h1.9m2.2 0h5.9m.9 0h3.1m5.5 0h10.1m4.2 0h2.6m3.9 0h6.4m8.3 0h6m3.1 0h4.2m4.8 0h2.4m.8 0h2.7m3.4 0h5m17.1 0h6.7m8.7 0h3.8m12.4 0h5m.9 0h1.7M213.1 1697.5h5.3m5 0h2.8m1.5 0h2.5m7 0h1.3m18.9 0h1.4m23.8 0h2.1m5.9 0h3.6m7.5 0h10.1m8.8 0h1.2m13.6 0h3.6m7.4 0h6.1m7.7 0h5.2m20.5 0h1.9m.9 0h4.3m7.3 0h2.3m2.9 0h4.1m17.9 0h1.8m5.2 0h1.7m19.8 0h2.5m20.9 0h1.4m17.1 0h4.1m.8 0h6.3m2.8 0h2.1m9.6 0h.9m6.6 0h1.3m20.2 0h8.2m4.4 0h8.4m6.6 0h10.2m1.9 0h11.1m7.4 0h2.4m9.9 0h5.4m15.4 0h1.7m14.5 0h1.7m11.9 0h2.1m9.4 0h1.9m3.5 0h1.9m6 0h10m6.4 0h1.8m1.1 0h4.3m8.5 0h3.6m1.4 0h3.4m10.9 0h2.6m8.4 0h3.7m2.9 0h2.2m7.8 0h2.8m7.9 0h1.5m4.7 0h1.6m8.7 0h1.6m10.4 0h3.4m54.7 0h2.4m9.8 0h12.7m10.6 0h1.8m6.5 0h2.4m4 0h2.5m6.7 0h3.6m5.2 0h2.2m10.8 0h2.5m4.3 0h9m1.8 0h3.3m7.6 0h5.8m3.3 0h1.5m7 0h2.7m7.4 0h4.5m10.6 0h5.9m2.5 0h6.3m13.1 0h3.4m3 0h2m3.4 0h1.5m1.8 0h4.2m4.4 0h2.2m7.4 0h1.4m.9 0h12.6m6.9 0h2.5m.6 0h5.1m.3 0h6.1m3.5 0h4.6m6.6 0h1.7m2.2 0h2.3m2.1 0h12.2m10 0h4.4m7 0h3.5m8.5 0h2m4.3 0h1.1m20.2 0h8.5m6.6 0h7.6m4.4 0h1.7m9.2 0h1.4m9.6 0h3m1.8 0h1.8m7.6 0h6m5.5 0h5m.4 0h3.5m7.1 0h3.8m6.7 0h1.4m3.5 0h1.9m3.7 0h.9m6.6 0h2.2m2.1 0h2.3m6.2 0h2.5m33.5 0h1.3m11.9 0h2m6.2 0h2.5m9.7 0h5.9m4.3 0h8.1m.9 0h7.7m6.6 0h2.1m8.3 0h1.9m5.1 0h2.1m6.1 0h5m10.9 0h4.8m2.8 0h1.8m6.1 0h10.8m6.9 0h2.3m13.6 0h2.3m9.3 0h1.5m3.7 0h4.6m19.9 0h9.1m5.1 0h3.2m4.8 0h1.6m5.9 0h6.1m3.2 0h1.9m21.2 0h1.7m3.6 0h4.4m12.1 0h6.6m8.5 0h4.6m4.3 0h2.3m6.6 0h1.9m6.4 0h3.1m30 0h2.5m2.5 0h2.6m8.2 0h4.6m5.1 0h3.8m11.9 0h10m3.8 0h2.7m1 0h2.8m8.1 0h2.4m10.4 0h2.9m2.6 0h3.2m4.7 0h2.7m13.3 0h3.2m.7 0h7.9m10.3 0h3.6m2.9 0h2.5m9.7 0h8.5m16 0h10.5m6.4 0h1.8m21 0h2.1m18.4 0h1.7m3.5 0h3.3m6.8 0h4.1m.5 0h2.9m3.7 0h2.4m8.8 0h4.2m7.2 0h3.2m5.2 0h1.6m2.3 0h2.5m9 0h1.3m11.7 0h1.2m18.1 0h.9" fill="none" stroke="#465BB1" stroke-opacity="0.8" stroke-width="17.21"/>
<path d="M212.1 1563.9h5.3m2.5 0h1.9m1.9 0h2.9m11.8 0h2.8m9.6 0h3.8m23.8 0h4.9m4.8 0h2.3m6.4 0h9.1m5.3 0h1.9m6.9 0h5.4m4.6 0h5m21.4 0h3.4m13.5 0h1.9m22.1 0h1.6m1.1 0h2.1m1.4 0h6.4m1.7 0h1.8m4.5 0h2.6m15.3 0h7.7m2.2 0h2.9m6.5 0h2.1m5.4 0h2.2m11.4 0h2.1m6.4 0h4.8m2.9 0h2.2m6.4 0h2.1m18.2 0h1.7m7.2 0h1.1m5.3 0h6.7m3.6 0h2.1m.4 0h5.1m1.1 0h5.5m10 0h4.2m13.6 0h2.4m14.7 0h4.2m6.8 0h5.9m7.4 0h6.3m1.6 0h3.1m23.3 0h3.5m5.8 0h1.4m9.6 0h4.1m16.2 0h2.1m14.7 0h6.4m14.1 0h4.6m4.5 0h1.7m10.1 0h4.6m1 0h2.6m15.3 0h1.7m.5 0h4.5m11.8 0h2.6m3.5 0h1.6m5.2 0h5.4m22.2 0h5.3m7 0h5m.4 0h3.9m6.3 0h2.7m11.7 0h5.6m2.4 0h1.2m5.3 0h5.6m9.8 0h1.1m3.9 0h2.2m3.4 0h3.9m4.4 0h1.7m21.4 0h3.2m5.5 0h4.5m10.7 0h2.5m5.5 0h4.4m6.7 0h5.6m16.5 0h5.7m4.8 0h2.4m6.3 0h4.8m3 0h2m10.2 0h1.3m5.4 0h2.3m9.8 0h3.9m11.1 0h2m4.4 0h14.3m4.1 0h7.9m9.9 0h1.2m3.6 0h2.2m2.5 0h7.8m17.1 0h5.8m11 0h2.6m3.3 0h3.1m14.7 0h2.9m8.2 0h2.4m9.2 0h2.6m16.1 0h1.4m10.7 0h1.3m7.5 0h1.5m3.6 0h2.7m2.3 0h5.8m21.6 0h4.1m9.1 0h1.9m11.4 0h7.3m14.4 0h6.8m4 0h3.1m8.7 0h5.5m3.1 0h7.1m20.5 0h3.4m34.9 0h1.8m4.4 0h2.6m7.6 0h3.4m5.2 0h2.6m17.5 0h2.3m14.2 0h2.8m13.4 0h1.6m23.9 0h1.6m12.2 0h4m6.5 0h2.9m10.5 0h3.2m.9 0h6.3m11.9 0h1.1m21.3 0h1.9m8.8 0h8.7m21.6 0h2m7 0h4.9m1.9 0h2.5m4 0h2.8m5.5 0h1.5m19.7 0h1m27.4 0h2.2m10 0h2.7m8 0h1.8m2.7 0h3.3m14.8 0h.5m2.4 0h2.9m3.1 0h1.4m6.8 0h4.2m18.1 0h4.6m4.6 0h1.4m12.3 0h2.7m3 0h5.6m7.1 0h1.8m6.3 0h6.1m4.7 0h1.7m1.1 0h1.7m3.8 0h1.5m9 0h3m22.9 0h1.8m11 0h2.5m18.9 0h.5m5.7 0h2.9m1.8 0h5.4m.6 0h3.3m10.6 0h1.5m4.5 0h2.2m.6 0h3.4m1 0h8.8m8.6 0h1.6m6.2 0h1.7m4.2 0h1.2m13.3 0h1.4m1.3 0h2.5M214.5 1597.3h3.6m4.1 0h2m27.4 0h4.6m11.1 0h3.7m15.8 0h4.5m9.1 0h1.8m2.6 0h7.3m.4 0h8.1m6.2 0h2.5m16.7 0h1.9m4.4 0h1.5m3.4 0h3.5m10.5 0h5.7m11 0h3.2m29.5 0h4.8m25.7 0h6.9m5.3 0h8.1m8.5 0h1.3m18.9 0h4.3m1 0h6.1m18.9 0h1.8m10 0h3.3m12.2 0h6m2.5 0h1.7m6.6 0h2.3m1.2 0h3.5m3.1 0h5.3m7.3 0h4.5m2.6 0h5.8m3.7 0h1.8m4.2 0h3.5m6.2 0h5.3m2.8 0h3m9.7 0h4.6m6.9 0h9m1.9 0h9.1m6.5 0h2.2m3 0h1.8m3.2 0h2.4m2.4 0h1.3m14.2 0h3.6m3.8 0h5.4m5.3 0h1.4m17.1 0h2.6m16.1 0h10.1m15.1 0h3.4m4.7 0h2m3 0h1.2m5.3 0h3.9m7.6 0h9.9m.6 0h2.1m.8 0h4m8.8 0h5.9m.6 0h6.6m6.8 0h3m2.1 0h3.9m2.2 0h6.4m18.2 0h3.9m7 0h6m3.2 0h3.9m4.9 0h1.8m5.6 0h3.4m24.2 0h2.4m22.4 0h3.5m7.3 0h1.8m4.6 0h4.6m2.9 0h13.5m.9 0h3.5m24 0h2.5m.7 0h2.7m6.7 0h2.5m17.1 0h2.2m3.2 0h1.4m24.2 0h3.8m35.2 0h1.8m8.5 0h1.7m21 0h8.9m5.9 0h5.1m6.5 0h3.5m7.7 0h10.1m10.7 0h5.3m1.4 0h6.3m3.8 0h11.9m3.6 0h5.5m11.6 0h4.4m8.5 0h4.8m4.5 0h2m2 0h4.6m9.4 0h2m2.9 0h5.4m2.3 0h2m6.6 0h1.5m3.2 0h3.4m6 0h1.7m.7 0h2.6m3.3 0h5.1m1.5 0h3.5m8.2 0h1.1m11.5 0h1.7m10.6 0h3.9m2 0h2.5m4 0h4.7m12.3 0h3.7m7.2 0h2m2.1 0h8.1m9.5 0h1.3m4.2 0h2m2.9 0h2.8m5 0h6.9m9.1 0h1.4m24.5 0h4.6m18.3 0h1.8m11 0h4.5m22.8 0h1.9m13.1 0h2.7m6.9 0h1.8m1 0h2.6m7.1 0h3.8m2.1 0h3.3m10 0h4.2m3.4 0h5.9m5.3 0h1.7m18.2 0h9.8m9.1 0h4.8m.9 0h5.5m9.9 0h2.2m16.4 0h2.5m5.7 0h4.6m9 0h2.2m4 0h7.9m13.4 0h2.6m4 0h8m5.8 0h2.3m4.6 0h3.9m1.3 0h3.7m1.2 0h2.7m5.1 0h8.1m19.4 0h2.8m4 0h9.9m6.2 0h8.1m.6 0h6m15 0h11.5m7.3 0h5.3m5.3 0h2.5m1 0h8m8 0h3m12.8 0h1.8m9.2 0h7.6m7 0h4.3m9.8 0h1.9m3.8 0h4.2m5 0h1.9M237.4 1630.7h3.2m2.5 0h5.3m10.5 0h2.8m14.2 0h1.8m.4 0h4.9m6.1 0h2.8m4.5 0h2.1m5.4 0h4.2m3.7 0h1.8m5.8 0h2m5.7 0h4.8m5.5 0h5.8m21.7 0h.9m4.6 0h2.1m2.1 0h3.4m7.8 0h3.7m23.2 0h3.7m6.5 0h5.1m3.2 0h3.3m10.4 0h5.9m17.5 0h1.5m9.4 0h1.7m14.2 0h3.2m6.2 0h3.5m7.6 0h2m2 0h1.8m15 0h1.5m.7 0h4.4m12.8 0h6.5m2.4 0h5m25.8 0h1.7m1.3 0h7.5m4.9 0h5.2m3.1 0h5m.7 0h10.8m5.8 0h3.7m.6 0h3.9m16.5 0h7.3m2.9 0h22.6m7.5 0h4.1m1.3 0h2.8m10.7 0h3.5m2.5 0h1.7m.6 0h2.9m.8 0h5.1m2.8 0h2.4m8.8 0h2.8m16.6 0h1.9m8 0h7.5m8.2 0h4.6m3.9 0h2.2m29.3 0h1.5m1.7 0h3.1m2.4 0h1.5m13.5 0h6.7m6.7 0h5.4m7 0h5.5m2.7 0h2.4m5.5 0h3.7m1.8 0h3.9m2.6 0h4.9m8.8 0h2.5m10.3 0h2.8m1.6 0h9.1m3.7 0h2.1m10.6 0h2.4m14.2 0h1.5m3.5 0h6.8m6.2 0h10.4m13.3 0h4.9m1.5 0h3.7m4.4 0h2.2m7.4 0h5m10.6 0h4.2m1.3 0h4.3m6.4 0h6.9m1.4 0h4.1m17.1 0h5.2m4 0h6.3m3.3 0h1.7m22.3 0h1.9m10.7 0h6.6m8 0h9.6m13 0h3.9m11.6 0h2.4m6.8 0h2.8m7.2 0h4.2m5.1 0h4m17.1 0h3.7m3.3 0h7.1m19.2 0h1.5m18.3 0h4.5m3.6 0h6.7m17.5 0h3.2m19 0h3.4m1.2 0h5m37.1 0h5.3m3.2 0h2.1m4.3 0h2.8m8.8 0h2.9m21.5 0h6.6m8.6 0h1.3m5.8 0h2.8m8.7 0h2.6m4 0h2.6m24.1 0h2.2m2.5 0h1.7m7.5 0h2.6m3.4 0h5.4m14.1 0h2.2m1 0h7.6m7.5 0h8.9m.6 0h7.8m1.4 0h3m10.5 0h7.5m13.1 0h1.7m4.3 0h4.1m8 0h3.5m12.7 0h3.5m6.5 0h4.4m5.8 0h2.4m9.2 0h1.4m25.3 0h2.7m2.2 0h8.3m2.2 0h5.1m5.4 0h2.6m12.2 0h1.4m11.8 0h3.5m5.7 0h1m4 0h8.4m20.6 0h2.1m16.6 0h2.7m8.7 0h1.7m1.1 0h2.5m5.7 0h3.5m.5 0h5.7m10.4 0h1.6m4.2 0h3.1m17.8 0h9.8m13.6 0h1.7m7.4 0h1.9m11.3 0h2.9m8.1 0h2.6m8.6 0h10.1m5 0h8m2.5 0h2.1m.3 0h3.6m2.1 0h2.3m11.6 0h5.8m7.6 0h2.1m1.9 0h1.9m6.1 0h3.9m2.7 0h4.5M212.4 1664.1h2.1m1.7 0h3.2m8.9 0h10m.8 0h3m1.6 0h3.2m4 0h5.3m19.2 0h2m13.5 0h9.7m1.7 0h4.6m11.8 0h1.5m.6 0h1.9m3.3 0h2.7m4.2 0h3.5m5.9 0h4.2m.6 0h3.4m7.9 0h2.2m6.7 0h1.7m2.8 0h4.3m3.8 0h4.8m13.4 0h4m15.6 0h6.6m5.1 0h5.6m9.3 0h3.1m5.4 0h2.4m6.3 0h1.8m5 0h14.8m5.1 0h3.5m12.4 0h6.3m14 0h1.9m6 0h3.7m4.1 0h8.7m3.1 0h10.2m8.7 0h2m7.8 0h4.5m44.7 0h1.8m4.5 0h7.4m3.3 0h6.5m12.1 0h4.2m9.2 0h8.6m4.4 0h3.4m10.1 0h13.1m18.5 0h6m3.4 0h1.8m7.4 0h4.3m1.1 0h9.9m1.4 0h3.3m4.4 0h4.8m10 0h1.6m3.8 0h3.1m1 0h3.4m2.2 0h1.4m2.3 0h1.8m12.7 0h2.7m11 0h5.3m3.4 0h2.1m31.9 0h1.6m2.3 0h1.9m11.1 0h2.9m10.4 0h1.9m7.8 0h7.3m10.4 0h2.3m5.2 0h6m3.3 0h3.2m7.3 0h8.2m2.5 0h1.9m5.4 0h4.7m5.1 0h2.1m21.9 0h3m2.2 0h6.3m4.4 0h9.8m14.1 0h5.2m1.9 0h1.7m5.7 0h5.1m6.9 0h1.9m1.7 0h7.7m14 0h1.9m10.9 0h2.8m20.5 0h1.7m4.8 0h8.1m11.6 0h9.3m6.2 0h6.2m4.5 0h2.2m4 0h2.5m5.7 0h6.5m10.2 0h10m11.4 0h3.5m2 0h6.6m3.4 0h1.5m12.3 0h8.4m1.9 0h5.1m3.3 0h2.5m6.6 0h3.3m20.1 0h4.7m21.3 0h2.8m25.7 0h6.2m2.2 0h6.7m.7 0h8.7m3.1 0h3.7m5.1 0h9.3m2.7 0h1.9m3.4 0h2.1m5.1 0h2.6m.6 0h1.3m16.7 0h1.7m5.5 0h1.8m12.5 0h2.4m1.4 0h4.4m1.6 0h3.3m.7 0h4.1m6.6 0h2.4m11.6 0h4.6m14.4 0h2.5m3.7 0h1.3m21.4 0h1.7m2.7 0h5.6m12.1 0h1.1m5.4 0h4.5m3.8 0h3.1m10.1 0h10.2m11.7 0h3m4.9 0h1.7m10.4 0h2.7m7.4 0h2.3m.4 0h2.7m4.6 0h11.6m9.3 0h2.1m7.1 0h4.7m30.9 0h3.6m19.5 0h3.4m11 0h3.3m3.9 0h8.6m5.9 0h4.6m13.5 0h1.9m12.9 0h9.4m3.1 0h1.9m4.5 0h2.3m1.9 0h4.5m8.8 0h3.9m3.9 0h1.8m10.7 0h2.2m2.2 0h1.3m10.1 0h4.4m6.6 0h4.2m8.7 0h1.6m2.1 0h.3m6.2 0h2.3m1.7 0h6.9m8.7 0h3.4m3.3 0h5.3m6.9 0h4.1m8.3 0h4.5m2.8 0h4.4m2.8 0h2.2m1.3 0h4.8m10.6 0h7.8m9 0h4.2m11 0h11.2m3.6 0h2.3M217.7 1697.5h3.5m4.3 0h2.9m1.1 0h6.3m12 0h2.8m19.9 0h1.5m14.6 0h4.8m2.2 0h6.2m11.3 0h7.5m4.6 0h5.4m9.8 0h6.5m12.8 0h3.3m20.1 0h2.2m3.9 0h2.3m6.3 0h3.7m2.5 0h2m5 0h1.2m18.5 0h6.6m9.9 0h2m26.4 0h4.7m6.1 0h2.3m14.8 0h2.2m6.9 0h2.2m.7 0h6m6.4 0h6.1m3.6 0h16.4m10.2 0h4m7 0h6m10.9 0h3.3m9.7 0h8.8m9.7 0h2.6m14.4 0h3.7m12.3 0h4.5m4.6 0h5.2m6.9 0h5m8.6 0h2.5m2.9 0h1.5m12.1 0h7.8m.4 0h2.5m4.6 0h4.5m5.8 0h2.8m7.9 0h4.3m6.5 0h4.3m6.4 0h2.7m6.6 0h1.7m4.8 0h3m4.7 0h3.8m2.5 0h7.9m5 0h4.3m29.4 0h8.3m26.3 0h8.9m13.5 0h3m11.7 0h5.6m1 0h3.4m5.1 0h1m7.3 0h3.3m7 0h4m6.2 0h5.7m7.6 0h3.2m1.9 0h6.2m7.2 0h2.5m4 0h2.7m10.9 0h3.2m7.5 0h4.4m7.8 0h1.3m7.4 0h10.7m5.8 0h4.4m.6 0h1.8m3.1 0h3.2m4.5 0h4.1m5.6 0h2.2m1.7 0h2.3m15.2 0h4.3m1.1 0h2m3.7 0h1.7m4.7 0h4.9m5.2 0h4.5m3.6 0h1.9m2.8 0h1.5m10.8 0h1.6m19.7 0h1.5m5.8 0h4.1m2.7 0h1.9m6.3 0h2.5m27.1 0h1.9m8.8 0h4.2m1.8 0h9.1m1.5 0h6.6m5.9 0h3.2m.4 0h9m9 0h2.5m3.6 0h1.8m4.6 0h2.2m6.2 0h8.1m1.9 0h3m.5 0h3.6m3.2 0h3.3m3.3 0h1.6m2.8 0h2.6m25.1 0h1.3m16.1 0h3m12.3 0h1.7m4.1 0h11.1m8.1 0h2m6.7 0h2.3m12 0h2.3m3.8 0h2.6m4.5 0h3.2m4 0h5.4m13.8 0h4.3m5.7 0h1.9m3.7 0h2.4m15.6 0h2.4m4.3 0h4.9m11.4 0h6m2.5 0h5.1m4.9 0h3.4m25.5 0h2.3m4.3 0h6.2m5.7 0h1.8m4.7 0h1.9m23 0h2.8m.3 0h2.7m11.3 0h4.1m8.5 0h7.6m8.3 0h2.8m4.3 0h2.3m2.8 0h3.8m5.7 0h7.3m25.2 0h1.7m5.5 0h7.5m6.3 0h1.5m13.8 0h1.8m13.1 0h2.7m1.3 0h2.4m1.4 0h4.4m6.1 0h2.4m10.9 0h4m1.8 0h3.7m13.9 0h4.4m1.8 0h2.1m6.5 0h9.4m4.5 0h4.3m1.1 0h7.6m10.6 0h1.8m24.6 0h2.4m19.2 0h4.7m20 0h1.3m3.6 0h4.9m5.8 0h4.3m2.7 0h1.9m4.2 0h2.4m1 0h10.2m4.5 0h6.9m1.8 0h2.5m4.3 0h1.3m3.6 0h3m17.4 0h3m1.5 0h3.5" fill="none" stroke="#465BB1" stroke-opacity="0.8" stroke-width="17.21"/>
<path d="M211.1 1748h1.7m.5 0h1.8m3.3 0h11.2m13.7 0h2.5m5 0h1.5m3.5 0h2.8m8.2 0h3.3m6.5 0h1.9m1.2 0h2.2m12.4 0h2.5m9.1 0h4.2m4.5 0h7.2m25.7 0h4.1m17.9 0h9m.9 0h6.1m7.6 0h5.4m5.5 0h10.4m12.9 0h3m1.5 0h4.3m7.8 0h1.8m6.8 0h2.9m5.8 0h3.9m3.8 0h3.7m5.7 0h3.6m7.9 0h2.2m9 0h1.8m1.6 0h9.8m.4 0h6.1m4.4 0h3.1m5.1 0h3.3m3.8 0h1.6m.4 0h8.6m4.4 0h2.9m.4 0h3.9m9.8 0h.7m4.5 0h3.6m4.5 0h2.7m14.9 0h1.9m6 0h2.3m4.1 0h2.1m6.4 0h2.1m3.8 0h6.3m7.9 0h3.4m5.2 0h2.8m4.8 0h3.6m11.9 0h3.7m2.6 0h4m16.5 0h3.6m7.4 0h3.4m3.3 0h1.8m5.8 0h2.9m11.4 0h2.2m6.2 0h4.7m.6 0h9.2m7.5 0h.5m6.7 0h4.7m3.9 0h3.6m2.1 0h3.2m1.4 0h4m2.2 0h2.9m4.5 0h5.6m10 0h3.5m3.2 0h2m6 0h2.7m8.1 0h10.3m4.5 0h5.6m3.9 0h7m10.5 0h6.5m6.8 0h2.2m4.5 0h3.1m4.9 0h8.3m.5 0h1.8m4.4 0h1.9m11.5 0h4m4.9 0h1.3m11.1 0h7.9m9.7 0h2.1m11.3 0h7m3.4 0h3.3m10.3 0h3.5m25.4 0h1m8 0h6.9m1.8 0h3.4m4.4 0h11.3m6.6 0h12.8m8.6 0h6.8m15.3 0h7.2m5 0h5.1m14.4 0h1.9m3.2 0h2.3m5.7 0h2m7.5 0h4.2m2.8 0h4.9m29.2 0h3.2m3.1 0h4.8m1.7 0h1.9m17.8 0h3m7.8 0h5.5m5.4 0h23m6.7 0h1.9m6.8 0h2.3m6.4 0h2.3m.6 0h9.3m5.6 0h5.1m10.7 0h3.3m5.2 0h3.8m11.3 0h1.8m10.9 0h2m13.7 0h4.3m.5 0h1.7m3.9 0h5.2m8.2 0h11.5m2.1 0h1.2m4.1 0h1.5m10.6 0h3.5m13.6 0h3.6m14 0h12.2m4.2 0h1.7m10.1 0h1.4m11.4 0h3.6m5.6 0h12.2m7 0h4.5m1.7 0h8.4m4.7 0h4m1.8 0h2.1m6.8 0h1.8m10.7 0h9m5.4 0h10.1m21.1 0h.5m10.6 0h5m4.8 0h4.8m7.8 0h2.3m7.2 0h2.4m.7 0h2.8m10.4 0h2.4m4.4 0h2.6m5.8 0h1.9m3.3 0h5.2m8 0h.3m4.9 0h2m7.7 0h3.9m3.9 0h3.9m5.4 0h1.6m8.5 0h.5m4.2 0h7.6m5.2 0h2.6m4.5 0h5m17.9 0h2.3m9.6 0h4.8m7.9 0h4.9m5.3 0h5.8m2.5 0h14m8.8 0h10.7m6.1 0h2.7m4.2 0h3.2m3.4 0h1.6m7.9 0h2.9m1.1 0h6m2.8 0h3.4m2.2 0h10.6m.5 0h5m6.3 0h5.2m7.4 0h2.5m9.9 0h9.9m18.3 0h2.4m3.2 0h3.7m1.6 0h2.5m10.2 0h2.5M211.1 1781.7h4m1.4 0h4.6m5.5 0h1.6m3.4 0h1m2.5 0h1.8m6.2 0h4.2m4 0h5.8m4 0h2.7m3.8 0h10.9m1.8 0h1.5m12.3 0h7.8m13.8 0h3.6m3.5 0h1.7m2.6 0h4.6m3.4 0h8.6m3.8 0h9.6m17.3 0h3.5m.5 0h7m12.5 0h7.9m6.3 0h11.2m13.5 0h2.6m3.8 0h6.6m3.9 0h3.2m2.4 0h9.6m26.6 0h1.9m4.8 0h3.9m1.7 0h2.5m4.7 0h3.5m4.5 0h11.4m14.1 0h5.8m2.4 0h1.9m1.9 0h2.1m1.9 0h7.1m2.7 0h6.9m9.3 0h17.5m1 0h2m1.7 0h2.4m10.9 0h18.1m3 0h10m.4 0h11.5m4.1 0h3.1m9.6 0h3.8m7.2 0h1.7m1.9 0h15.1m7.1 0h3.9m15.1 0h19m1.1 0h1.4m4.2 0h3.9m5.5 0h25.2m1.9 0h2.6m2.9 0h7m8.1 0h10.6m10.9 0h1.6m4.5 0h11.8m5.2 0h8.2m7 0h2.8m10.6 0h2.1m5.3 0h2.6m4.9 0h2.7m5.2 0h4.1m4.1 0h14m4.9 0h2.9m15.5 0h3.3m3.6 0h11.2m7.8 0h2m5.2 0h2.5m15.7 0h9.9m5.2 0h2.1m6.9 0h3.4m3.1 0h5.7m6.1 0h.6m3.8 0h4.1m3.9 0h7.1m2.9 0h1.8m2.2 0h6.6m3.6 0h1.2m13.9 0h14.4m10.2 0h3.5m10.6 0h3.5m4.8 0h9.1m1.9 0h4.4m7.7 0h3.5m6.7 0h3.3m5.1 0h2.7m1 0h5m.8 0h5.1m4.6 0h3.8m10.3 0h2.9m9.1 0h8.5m16.5 0h1.8m1.3 0h1.4m5.9 0h3m5.1 0h2.3m5 0h8.8m4.5 0h5.6m9.2 0h3.8m24 0h2.9m12.1 0h15.9m9.1 0h5.1m8.1 0h4.3m4.6 0h2.7m1.5 0h2.9m9.6 0h5.5m3.7 0h3.3m6.2 0h3.7m7.2 0h6.8m.5 0h5m7.5 0h5.7m3.8 0h7.2m1.2 0h2.7m7.3 0h9.3m12.3 0h2.5m10.6 0h1.3m8.6 0h8.7m4.3 0h1.9m11.9 0h3.5m9.9 0h9m10.2 0h4.5m5.9 0h16.4m21.2 0h8.4m2.7 0h3.5m4.5 0h4.5m3.8 0h13.3m5.4 0h14.8m9 0h5.2m10.1 0h5.5m3.2 0h2.5m5.8 0h4.4m.4 0h2.2m6.7 0h2.6m2.8 0h1.8m7.2 0h8.1m2.1 0h5.4m6.4 0h2.7m4.5 0h10.6m2.7 0h2.1m5.8 0h2.5m2.7 0h6.8m3.4 0h4.6m11 0h7.1m13.9 0h.3m6.4 0h2.7m3.6 0h2.2m18.7 0h4.5m8 0h5.4m12.8 0h3.1m3.3 0h5.7m5.4 0h13.6m4.8 0h9.9m4.6 0h4.1m10.5 0h4.8m1.3 0h6.4m3.5 0h1.3m14.6 0h5.8m18.5 0h10.7M211.3 1815.4h6.6m3.8 0h3.8m16.7 0h.7m7.8 0h2.9m5.9 0h9m3 0h2.1m7.1 0h1.9m10.4 0h1.7m.8 0h5m3.3 0h.7m15.4 0h1.4m5.7 0h6.7m2.9 0h6m5.7 0h1.8m1 0h1.3m14.9 0h5.9m13.9 0h3.9m6.3 0h3.8m23.2 0h8.8m7.3 0h2.5m7.5 0h3.8m4.9 0h8.2m5.3 0h12.9m6.9 0h12.6m1.3 0h4.9m3.8 0h4.7m5.6 0h2.5m5.7 0h11m6.8 0h1.2m11.4 0h4.5m7.8 0h4.7m10.7 0h1.8m6.7 0h14.6m2.2 0h7.2m9.6 0h2.3m7.6 0h2.7m20.4 0h3.3m1.3 0h1.7m26.8 0h16.1m15.1 0h4.5m11.2 0h8.1m.9 0h9.2m1.9 0h8.3m35.4 0h1.5m2.1 0h4m1.8 0h2.7m8.3 0h4m2.5 0h2.1m1.7 0h1.9m2.2 0h1.2m10.9 0h10.4m3.5 0h3.8m3.1 0h.6m3.9 0h3.9m8.6 0h4.5m8.6 0h6.1m8.2 0h4.8m1 0h2.2m7.7 0h5.1m10.6 0h1.7m6.2 0h2m3.6 0h1.6m5.9 0h12.8m3.3 0h4.2m6.7 0h3.8m7.9 0h2.7m7.5 0h3m5.9 0h1.4m2.1 0h1.8m7 0h15.2m4.2 0h3.4m2.6 0h10m1.9 0h3m2.9 0h4m5.9 0h3.7m10.5 0h2.5m12.2 0h2.4m11.3 0h3.8m3.2 0h9.1m4.1 0h3.4m4.3 0h1.9m7.6 0h2.3m21.6 0h1.1m12.5 0h3.9m12.9 0h3.5m.9 0h9.9m3.4 0h2.1m5.4 0h12.9m3.2 0h3.7m2.9 0h9.4m4.6 0h.4m2.3 0h2.4m2.2 0h7.4m12.5 0h9.4m6.4 0h1.9m13.9 0h8.1m10.1 0h2.4m6.1 0h3.7m2.1 0h2.6m14.2 0h3m4 0h7.2m5 0h1.5m10.5 0h3.6m13.7 0h10.5m6.1 0h1.7m8.6 0h2.4m6.4 0h24.4m3.1 0h6.4m1 0h16.7m1.4 0h3.8m8 0h2.4m7.8 0h1.9m5 0h6.5m11.9 0h3.5m7.5 0h2.1m9.2 0h16m6.8 0h5.1m5.7 0h1.4m3.5 0h13.4m11 0h7.4m9.1 0h5.9m6.9 0h5.1m2.1 0h8m9.6 0h3.3m7.4 0h4.1m5.8 0h1.7m25.3 0h1.6m2.4 0h4.9m12.6 0h7.9m5.7 0h2.4m5.3 0h2.5m12.3 0h8.5m7.4 0h9.6m4.8 0h5.3m7.2 0h2.1m.9 0h15.4m1.5 0h6.4m9.3 0h.6m7.7 0h2.7m8.3 0h3.5m1 0h4.4m2.8 0h3.8m3.7 0h7.1m9 0h5.1m7.4 0h3.9m4.8 0h1.3m31.3 0h4.8m11.5 0h6.1m5 0h5.9m7.4 0h8.9m13.9 0h1.5m4.2 0h2.2M211.1 1849.1h2.3m11 0h8.2m4 0h4.6m8.7 0h6.3m3.5 0h3.2m1.7 0h7.7m2.9 0h7.1m10.3 0h1.5m3.7 0h4m4.8 0h6.3m7.7 0h2m4.5 0h3m2.3 0h8.6m6.8 0h13.3m21.8 0h1.7m2.7 0h7.2m10.6 0h2.3m.7 0h2.2m7 0h15.3m1.2 0h3.3m8 0h4.1m4.5 0h3.1m7.2 0h3.6m14.2 0h1.9m24.6 0h7.2m7.8 0h5.3m3.6 0h2.3m17.4 0h.7m10.8 0h5.6m4.7 0h7.4m2.5 0h4.1m7 0h4.6m1.5 0h1.8m9.5 0h2.6m4 0h4.5m3.1 0h1.4m2.2 0h2.9m4.1 0h4.3m5.8 0h3.3m2.8 0h7.8m9 0h4.9m3.6 0h1.5m5.6 0h5.9m.5 0h7.6m7.4 0h6m4.4 0h3.2m3.5 0h2.2m14.3 0h1.3m9.6 0h12.6m11.2 0h2.8m4.8 0h5.6m7.1 0h4.5m14 0h1.8m8 0h5.2m7 0h3.4m3.3 0h1.9m18.8 0h2.1m5.7 0h3.3m8.3 0h5.5m6.8 0h5.5m4.2 0h13.4m6.4 0h2.6m6.8 0h3m2.9 0h5m2.7 0h2.9m6.1 0h3.2m7 0h8.4m4.1 0h5.9m7.8 0h1.8m6.2 0h5.8m.8 0h8.8m.6 0h7.9m.5 0h6.9m6.6 0h.8m3.6 0h3.8m9.9 0h.6m11.6 0h3.4m7.7 0h4.4m2 0h1.8m3.4 0h11.6m3 0h3.1m2.2 0h11.7m3.4 0h5.8m7.4 0h2m8.3 0h2.7m5.8 0h3.4m2.3 0h4.7m6 0h5.4m6.7 0h2.6m20.4 0h4.7m2.6 0h4.6m3.2 0h15.4m18.9 0h3.5m10.5 0h4m18 0h5.7m3.8 0h2.8m6.3 0h13.3m3.4 0h3.1m4.3 0h1.6m5.7 0h3.9m3.9 0h5.8m3.5 0h6.1m2.7 0h9.3m2.8 0h9.1m5.4 0h4.3m3.3 0h4m6.5 0h4.7m11.5 0h1.9m4.5 0h6.9m15.4 0h4.6m6.8 0h7.8m4 0h12.5m4.8 0h2.2m3.2 0h3.4m2.5 0h2.3m2.2 0h3.2m2.1 0h6.4m3.2 0h2.7m4.1 0h3m.4 0h2.1m7.6 0h5.5m.9 0h4.8m10.7 0h5.1m2.4 0h4.1m3.1 0h1.5m11.2 0h2.2m11.7 0h4.4m3.1 0h10.5m9.9 0h4.7m10.3 0h2.4m7.4 0h1.8m2.8 0h3.3m6.1 0h7.1m6.3 0h1.7m3.6 0h5.4m12.2 0h4.6m3.4 0h7.2m.7 0h3.1m2.5 0h14.5m4.4 0h1.6m1.5 0h5.1m2.1 0h4.2m2.9 0h6.2m3.2 0h12.2m14.2 0h6.5m11.7 0h3.9m10.7 0h15.1m10 0h2.5m11.9 0h1.4m4 0h1.8m25.5 0h1.3m9.3 0h1.9m9.5 0h4.1m9.3 0h6.8m4 0h4.7m4 0h2.8m10.4 0h3.5m2.7 0h2.8m13.7 0h6.1m.4 0h3.6m4.8 0h5.1m14.8 0h6.5m12.6 0h3m1.7 0h3.6m8 0h2.8m4.6 0h1.7M212.8 1882.7h2.1m7.7 0h2.2m26 0h9.1m2.4 0h9m6.7 0h3m1.9 0h3m7.6 0h2.1m3 0h3.2m13 0h5.2m4.9 0h5.5m11.4 0h4.4m8.2 0h6.6m7.9 0h3m2 0h2.4m11 0h1.8m18.7 0h3.5m16.4 0h9.5m2 0h2.4m5.9 0h2.2m16.5 0h1.3m4.9 0h12.2m3.5 0h2m1.9 0h1.8m13.3 0h4.4m5.9 0h2.2m5.4 0h19.7m6.3 0h1.2m13 0h5m11.7 0h2.7m4.9 0h1.9m4.9 0h8.9m3.8 0h7.9m2.4 0h6.8m.7 0h5.8m1.1 0h9m1.8 0h3.1m6.4 0h12m3.2 0h6.1m3.4 0h4.3m11.4 0h5.4m1.4 0h5.5m.5 0h1.3m6.2 0h6m5.8 0h1.2m9.1 0h2.8m3.8 0h7m5 0h1.4m9.7 0h8.8m4.8 0h10m3.4 0h1.7m5 0h2.5m3.3 0h3.9m9.4 0h2.3m9.3 0h2.3m3.3 0h3.1m3.4 0h7.6m6.9 0h18.7m4.7 0h8.6m7.6 0h2.6m23 0h6.5m20.2 0h1.7m11.4 0h1.6m6.8 0h6.1m1.5 0h10.2m4 0h6.9m5.6 0h14.8m8.2 0h5.4m4 0h7.1m12.3 0h.9m5.9 0h6.9m.9 0h3.1m1.7 0h2.2m3.6 0h1.9m8.5 0h2.9m2.6 0h6.3m7.2 0h8.2m6.6 0h9.2m2.1 0h5.6m3 0h7m6.3 0h5.2m12.4 0h2.1m2.9 0h3m8 0h6.6m6.6 0h3.8m3.2 0h2.3m10 0h8.4m3.7 0h2.8m3.3 0h2.8m27.7 0h6.7m5.8 0h3.1m4 0h1.1m19.5 0h8.6m1.2 0h2.9m3.5 0h8.9m3.8 0h11m17.4 0h1.7m5.4 0h3.1m5.4 0h10m12.8 0h2.3m11.4 0h9.2m6.3 0h1.1m7.9 0h3.9m2.3 0h4.4m11.5 0h6.2m10.4 0h3m5.1 0h2.1m8.7 0h2.5m2.5 0h4.4m12.4 0h5.4m6.7 0h3.4m8.5 0h5m1.1 0h6.4m2.8 0h1.9m14 0h6.5m7.2 0h2.1m4.4 0h4.8m9 0h7.3m5.6 0h1.5m4 0h4.3m8 0h3.5m11.7 0h1.9m7.9 0h3.3m1.5 0h1.5m4.8 0h2.3m3.6 0h14.4m10.9 0h5.2m7.2 0h1.7m6.4 0h4.1m2.5 0h12.7m6.7 0h6.4m6.5 0h.5m8.3 0h9.3m2.6 0h8.9m9 0h5.9m11.2 0h3.8m4.9 0h8.3m5.8 0h1.2m13 0h2.2m1.9 0h2.2m3.5 0h6.3m10.7 0h1.6m11.8 0h2.7m9.7 0h4.4m2.9 0h8.2m1.1 0h4.3m9.8 0h4.4m2.5 0h1.4m4.6 0h2.3m5.7 0h3.8m4.4 0h1.9m14.4 0h6.1m3.9 0h12.8m2.1 0h11m1.2 0h3.5m6.1 0h2m14 0h6m2.5 0h6.5m6.5 0h1.7m3.2 0h1.6" fill="none" stroke="#F6746C" stroke-opacity="0.8" stroke-width="17.34"/>
<path d="M212.1 1748h1.9m.4 0h4.7m14.4 0h6.6m8.6 0h.8m2.1 0h2.2m7.7 0h4.1m3.7 0h4.4m4 0h2.6m3.6 0h8.2m3.8 0h8.3m5 0h3.8m23.3 0h10m6.4 0h17.3m7.6 0h2.3m6.6 0h7.1m6.3 0h2.6m14.2 0h11m1.6 0h2.9m2.9 0h9.2m.4 0h4.7m4.9 0h7.2m2.5 0h3.1m4.3 0h7.1m2.2 0h9.3m.8 0h10.4m.4 0h3m8.4 0h1.8m8.2 0h2.2m1.7 0h3.4m5 0h3.5m1.9 0h1.8m7.2 0h2.8m4.4 0h1.8m6 0h6.1m3.5 0h3.4m4.9 0h3.2m3.1 0h14.5m.5 0h2.7m7.2 0h.8m7.6 0h2.1m5.5 0h2.4m4.9 0h9.3m5.5 0h3.2m1.4 0h6.2m2.2 0h11m4.6 0h2.1m4.5 0h15.5m6.8 0h6.6m2 0h2.3m4.9 0h5.2m1.5 0h9.9m6.3 0h2.4m6 0h2m7.8 0h6.1m4 0h4.1m5.2 0h2.8m4.7 0h3.5m1.8 0h2.8m2.6 0h3.6m1.5 0h5.9m11.2 0h4.4m2.1 0h4.6m2.6 0h5.4m5.7 0h2.9m11 0h5.9m4.2 0h3.5m11.4 0h7.9m6.8 0h4.6m2.7 0h5.9m3.9 0h4.1m6.9 0h1.9m.4 0h2.4m3.9 0h10.4m5 0h3.5m4.5 0h7.6m9.5 0h11.1m3.1 0h10.3m8.3 0h2.1m4.3 0h5.8m5.7 0h24.8m3.7 0h4m8.8 0h3.2m2 0h5.8m12 0h5.8m16.5 0h4.9m5.4 0h7.7m17 0h2.5m5.4 0h13.5m2.8 0h4.6m3.2 0h4.8m.6 0h8.9m5.4 0h1.6m3.5 0h1.5m30.9 0h4.5m3.4 0h3.1m.5 0h17.4m3.4 0h5.8m9.9 0h2.5m30 0h1.6m.5 0h4.6m6.1 0h6.2m.9 0h2m7.9 0h7m3.7 0h12.1m1.9 0h3.9m5 0h12.7m.4 0h7.1m5.8 0h5.8m12.2 0h1.9m.3 0h5.3m3.8 0h7.6m12.1 0h3.5m1.7 0h1.6m5.5 0h8.5m4.6 0h12.5m14.5 0h.7m13.2 0h5.6m.3 0h9.6m12.4 0h2.4m4.2 0h1.1m16.7 0h4.4m5.2 0h3.1m9.1 0h4m2.6 0h3.2m2.2 0h6.7m.4 0h9.8m9.9 0h5m10.5 0h1.6m22.4 0h9.6m3.6 0h6.2m3.4 0h5.5m4.6 0h6.5m3 0h2.1m6.5 0h6.6m1 0h5.8m6.8 0h1.7m.5 0h2.5m6 0h5.6m4.5 0h2.2m5.1 0h6.9m2.5 0h3.6m4.2 0h6.8m2.4 0h6m3 0h1.6m8 0h6.6m1.2 0h5.9m5.4 0h15.4m12.3 0h1.6m3.4 0h9.3m5.1 0h5.2m4.4 0h3.9m14.6 0h4.8m12.8 0h7.5m1.3 0h5.6m3.7 0h2.9m2.3 0h7.2m1.5 0h2.5m6.1 0h2.7m2 0h1.5m11.3 0h1.9m3.6 0h7.7m6.6 0h6m1.1 0h11.3m12.8 0h11.3m5.2 0h4.6m2.3 0h3m9.9 0h2.7M214.4 1781.7h2.8m5.4 0h2.2m2.7 0h2.7m3.6 0h2m.4 0h1.8m8.6 0h3m6.8 0h2.2m6.3 0h3.4m9.5 0h3.2m2.9 0h5.1m14 0h13.4m5.7 0h1.4m2.3 0h2m6.3 0h1.7m7.2 0h3.3m12.1 0h16.7m2.1 0h1.9m8.4 0h11.1m6.5 0h7.7m11.8 0h12.9m1.2 0h5.2m7.2 0h1.6m5.7 0h1.6m8.2 0h11.2m21.1 0h2.3m2.5 0h1.3m2.9 0h2.8m5.3 0h2.2m16.4 0h1.6m17.4 0h1.9m2.3 0h1.4m2.5 0h1.5m5.7 0h2.2m9.5 0h5.8m19 0h2.4m.6 0h3.1m3.1 0h8.3m18.6 0h4.4m8.6 0h1.8m11.7 0h1.5m6.2 0h8.9m2.4 0h7m1.9 0h3.3m13.7 0h5.9m5.2 0h16.5m17.6 0h2.5m1.6 0h4m2.5 0h4.7m26 0h3.3m3.8 0h1.7m5.6 0h5.9m15.7 0h9.3m2.6 0h3.4m12.2 0h1.6m13.5 0h4.8m3.6 0h7.7m2.8 0h5m3 0h6.3m1.3 0h3.8m8.9 0h2m12.6 0h6.3m1.5 0h14.2m7 0h2.6m13.6 0h2.2m3.7 0h6.6m1.1 0h4.1m25.7 0h2.4m2.4 0h4.6m7 0h1.5m5.9 0h2.9m4.1 0h1.3m6.6 0h3.3m8 0h2m2.2 0h1.8m7.3 0h1.4m4.4 0h10.1m24.4 0h2.5m5.1 0h3.3m7.8 0h4.4m9.4 0h3.3m4.9 0h7.3m7.6 0h2.6m1.9 0h4.8m3.1 0h2.4m3.6 0h2.2m3.7 0h6m2.4 0h9.1m4.1 0h8.8m13.2 0h11m2.8 0h2.7m2.5 0h2.6m3.8 0h6.5m.9 0h4m9.7 0h2m10.1 0h8.6m4.7 0h23m3.5 0h11.5m16.5 0h8.4m3.7 0h3.8m10.9 0h3.8m1.3 0h2.9m3.7 0h8.8m4.1 0h2.2m6.8 0h3.3m4.5 0h8.6m5.4 0h1.9m3.6 0h3.6m9.6 0h5.2m5.8 0h2.6m3.1 0h5.1m9.5 0h13.7m1.1 0h12m1.7 0h5.6m9.8 0h5.7m.5 0h3.8m15.8 0h7.2m10.1 0h9.1m5.3 0h5.2m27.9 0h9.6m9.2 0h1.9m5.4 0h2.6m5.1 0h3.3m11.9 0h2.6m20.5 0h7.6m11.6 0h3.6m5.8 0h3m1.1 0h7.2m3 0h1.8m3.4 0h1.5m5.2 0h1.2m3.5 0h8.6m6.7 0h3.5m5.9 0h5.8m3.9 0h1.2m11.3 0h1.3m5.7 0h5m1.1 0h2.5m7 0h1.3m9.8 0h7.1m7.8 0h7.9m8.7 0h3.8m2.9 0h5m15.4 0h3.4m5.2 0h9.4m7.8 0h8.4m3.8 0h2.5m9.1 0h4.2m14.2 0h4.3m8.5 0h4.1m9.8 0h1.8m8.4 0h2.7m5 0h4.9m2.8 0h8m18.8 0h8.3M217.2 1815.4h5.2m2.4 0h16.4m3.2 0h4.2m6.2 0h3.4m9.6 0h4.4m2.5 0h5m2.2 0h10.1m2.1 0h2.2m3.6 0h1.9m4.2 0h12.9m1.7 0h5.6m6.8 0h4.3m4.6 0h3.8m3.7 0h2.4m7 0h6.9m6.8 0h12.8m5 0h7.7m8.3 0h16.9m9.2 0h8.7m1.1 0h8.9m4.7 0h4m10.6 0h2.8m11.5 0h8.3m11.2 0h2.7m5.2 0h1.8m7.3 0h2.3m5.5 0h5.2m9.6 0h6.7m9.5 0h2.3m5.4 0h9.2m5.4 0h8.2m3.8 0h6.6m15.3 0h1.5m5.8 0h9.3m5.3 0h4.8m4.9 0h18.1m3.6 0h2.7m.3 0h25m17.9 0h14.1m5.4 0h3.5m15.8 0h2.3m7.8 0h3.3m9.5 0h4.9m29.4 0h3.5m4.2 0h1.6m6.5 0h4.4m4.6 0h1.9m2.4 0h1.4m.5 0h3.6m4.7 0h7.4m9 0h4.9m4 0h1m3.5 0h2.8m2.5 0h3.1m10 0h1.3m13.3 0h9.6m3.4 0h2.4m.8 0h7.5m10.2 0h4.4m5.1 0h3.5m4.7 0h3m2.4 0h5.1m13 0h1.2m4.7 0h8.1m2.4 0h9.3m1.3 0h1.4m10.9 0h3.8m3.4 0h1.8m.4 0h2.3m19.9 0h2.9m4.7 0h4m10.4 0h1.4m1.6 0h1.7m9.8 0h2.8m2.3 0h11.9m1.1 0h13.6m3.1 0h8.2m7.7 0h1.7m9.6 0h1.6m4 0h2.2m7.5 0h2.5m6.5 0h17.8m6.2 0h10.2m12.7 0h4.1m2.1 0h2.3m11.5 0h1.7m3.8 0h3.7m13.6 0h.5m4.4 0h4.3m10.5 0h.4m4.3 0h1.5m1 0h1.9m7.7 0h13.9m8 0h5.7m4.6 0h10.8m9.2 0h11.5m1 0h5.8m4 0h3.5m7.4 0h3.2m9.3 0h1.8m7.9 0h4.5m4.7 0h9.1m4.4 0h12.8m9.1 0h7.5m3.9 0h2.3m5.1 0h3.3m29 0h3m5 0h2.4m15.3 0h2.8m4.2 0h5.6m2.9 0h9.2m.5 0h6.4m5.1 0h11m4.4 0h6.4m3.2 0h6.2m19 0h2.6m9.3 0h5.5m3.3 0h1.4m15.6 0h10.5m8.6 0h5.2m8.8 0h4.8m5.6 0h1.7m8.4 0h11m3.9 0h3.8m8.3 0h4.6m.3 0h24.3m4.8 0h1.6m3.5 0h11.5m9.1 0h2.8m5.4 0h4.4m3.4 0h1.7m19.1 0h7.2m11.8 0h4.2m3.9 0h3.3m6 0h2.3m14 0h2.9m5 0h6.6m5.1 0h4.2m4.5 0h5.9m5.9 0h2.4m3 0h2.2m6.3 0h3.1m8.4 0h7.8m9.1 0h1.5m7.9 0h.5m4.3 0h30.4m5 0h9.4m8.5 0h4.5m4.5 0h6m10.4 0h12.1m3.3 0h5.6M214.6 1849.1h10.5m8.7 0h3.5m6.7 0h4.3m9.3 0h.8m3.7 0h3.1m6.3 0h2.1m14.1 0h5.5m2 0h3.2m5.2 0h.5m9.8 0h7.3m2.4 0h4.2m1.6 0h2m8.9 0h4.3m28 0h8.4m3 0h4.1m5.8 0h12m.9 0h2.1m2.4 0h2.6m18.1 0h2.6m4.6 0h4.4m8.9 0h1.9m1.7 0h8.6m2.2 0h15.6m10.6 0h15.9m5.8 0h2.2m10.8 0h5m.9 0h4.9m16.2 0h7.2m8.8 0h1.7m10.3 0h1.4m4.2 0h4.4m5.7 0h2.9m.4 0h10.9m3.1 0h3.5m3.1 0h1.9m4.5 0h1.7m1.5 0h5.5m2.9 0h7.2m1.9 0h4.2m6.4 0h5.8m8.1 0h1.9m4.9 0h1.8m8 0h1.9m6.2 0h8.8m7.6 0h2.9m1.8 0h2.4m3.3 0h4.2m13.6 0h1.8m18.3 0h10m4 0h6.2m10.5 0h2.1m12.5 0h4m2.3 0h6.7m9.2 0h2.8m6.7 0h2.9m.5 0h20.2m.7 0h7.1m9.4 0h2.2m4.1 0h5.8m6.5 0h3.7m15.5 0h6.2m1.2 0h6.6m3.2 0h4.3m3.6 0h4.1m1.5 0h7.5m4 0h3.2m12.7 0h.4m6.8 0h9.2m2 0h3.5m6.9 0h2.2m7.4 0h2m6.5 0h1.9m7.1 0h1m7.1 0h2.8m2.4 0h9.4m3.3 0h10.8m2 0h9.1m3 0h3.4m2.1 0h3.1m10.2 0h4.4m1.7 0h3.6m10.3 0h4.8m6.9 0h6.2m.6 0h9.7m3.2 0h2.7m4.5 0h3.7m3.3 0h7.4m5.8 0h3.2m20.6 0h5.5m5 0h2.3m3.2 0h4.6m28.2 0h3.5m4.8 0h10m6.6 0h12.9m8.6 0h5.2m1.4 0h7.7m13.9 0h2.8m4.5 0h2.9m2.7 0h4.6m2.5 0h5.3m4.4 0h4.9m4.7 0h4.1m7.9 0h2.4m9.5 0h6.8m2.9 0h4.7m2.6 0h7.9m5.1 0h11m.5 0h4m9.6 0h14.6m3.2 0h4.6m10 0h2.2m14.4 0h1.3m5.7 0h4.6m4.1 0h1.8m.9 0h3.6m1.8 0h3.5m5 0h1.7m4.1 0h5.5m1.6 0h1.8m3.4 0h4.1m6.3 0h2.3m6.3 0h4m9 0h1.6m7.2 0h2.3m1.8 0h10.9m3 0h10.9m3 0h2.3m15.5 0h7.1m3.3 0h10m2.8 0h7.2m2.1 0h4.2m1.9 0h5.9m7.2 0h7.7m.3 0h5m4 0h9m7.8 0h4.8m5.8 0h2.1m1.7 0h3.9m13.1 0h3.4m2.6 0h2.9m3.7 0h3.5m2.8 0h4.3m4.8 0h4.6m22.2 0h1.9m7.3 0h13.1m6 0h6.5m17.7 0h9.5m6.6 0h3.6m4.3 0h5.4m10 0h17.3m2.3 0h4.4m4.4 0h10.9m5.5 0h5.4m7.8 0h3m8 0h3.1m4.2 0h7.2m5.5 0h2.6m3.8 0h12.6m4.7 0h1.8m5.3 0h1.2m5.6 0h13.3m7.9 0h14m1.6 0h3.1m2.2 0h9.4m1.4 0h6M214.2 1882.7h7.5m21.9 0h6m11.6 0h1.9m7.6 0h3.1m6.7 0h1.4m6.2 0h4.1m5.7 0h1.6m3.7 0h6.7m9.5 0h6.3m7.3 0h9.6m5.4 0h7.2m5.2 0h9.3m1.6 0h3.4m1 0h9.7m6.6 0h11.7m6.9 0h1.7m24.1 0h3.4m1 0h7.3m3 0h15.6m1.9 0h4.2m12.5 0h3.1m.6 0h3.3m.4 0h14.7m3 0h3.6m4.6 0h6.8m22.1 0h3.9m5.2 0h9m3.6 0h5m11.6 0h2.3m4.8 0h3.8m7.5 0h3.2m8.4 0h3.8m5.4 0h2.1m4.4 0h2.5m7.6 0h3.2m4.2 0h2.4m15.4 0h2.8m4.7 0h2.3m7.8 0h2.5m11.9 0h2.8m4.1 0h1.9m2.3 0h5.2m8.5 0h.3m6.1 0h7.1m1.4 0h3.3m7.5 0h3.7m2.8 0h11.1m10.9 0h2.7m8.6 0h4.8m.3 0h3.1m4.5 0h2.2m5 0h7.3m4.4 0h10.7m3 0h.4m3.9 0h4.8m6.2 0h5.6m20 0h1.7m16.9 0h3.7m1.2 0h22.4m7 0h21.6m.3 0h10.3m4.9 0h3.7m6.9 0h2.9m8.8 0h5.4m5.5 0h7m15.8 0h5.4m7.3 0h1.9m9.8 0h9.2m3.7 0h3.7m7.4 0h2.3m1.7 0h3.1m.8 0h5m3 0h4.5m6.6 0h1.8m4.9 0h8.6m6.8 0h5.3m10.5 0h3.5m4.2 0h2.3m10.2 0h2.4m6.5 0h12.1m4 0h.7m5.3 0h7.7m5.2 0h8m2.4 0h4.6m3.9 0h3.4m12 0h5.1m1.4 0h4.7m3.2 0h25m10.5 0h4.5m4 0h.6m4.5 0h18.5m7.2 0h2.6m1.5 0h1.2m11.3 0h5.2m12.5 0h15.9m1.8 0h5.2m3.9 0h4.6m8.6 0h14.2m3.5 0h10.3m9.6 0h3.1m4.7 0h5.4m4.3 0h3.7m4.9 0h8.9m10 0h6.8m3.6 0h6.5m.7 0h6.6m4.6 0h1.6m7.3 0h11.9m4 0h8.1m4.6 0h4.9m6.1 0h2.5m5 0h4.2m2.1 0h13.9m5.1 0h8.6m.7 0h5.8m5.8 0h6.3m11.1 0h1.8m3.8 0h3.5m2.9 0h9.4m2.1 0h10.5m6.3 0h6m1.9 0h2.9m2.7 0h1.7m2.8 0h5m13 0h12.3m5.7 0h6.6m4.2 0h4m2.7 0h2m16.9 0h4.5m5 0h6.4m4.1 0h6.2m7.9 0h1.2m10.3 0h6.9m8 0h6.4m10.6 0h4.2m6.9 0h4.1m10.2 0h5.1m2.8 0h1.5m2.6 0h4.9m4.9 0h9.4m5.5 0h10.6m3.1 0h6.9m7.2 0h.3m8.9 0h2.5m2.9 0h11.2m4.9 0h2m2.3 0h1.3m3.4 0h7.1m5.2 0h3m9.2 0h4.2m10.3 0h2.7m13.5 0h1.5m9.6 0h2.6m2.1 0h5.3m14.6 0h3.6m4.6 0h3.9m8.8 0h4.2m.3 0h4.6m2.6 0h.6" fill="none" stroke="#F6746C" stroke-opacity="0.8" stroke-width="17.34"/>
<path d="M211.1 1764.9h2.3m3.8 0h3.3m1 0h11.1m2.8 0h4.7m6.9 0h1.7m2.3 0h2.8m6.8 0h2.5m13.4 0h1.7m5.3 0h5.7m1.6 0h1.3m8.4 0h1.3m4 0h2.6m4.8 0h2.4m3.7 0h7.4m7 0h2.1m13.7 0h2.7m3.1 0h1.8m14.4 0h3.1m7.8 0h1.8m2.9 0h9.6m6.8 0h4.5m3.1 0h3.7m.8 0h1.9m1.8 0h2.8m2.6 0h15m3.4 0h2.2m26.3 0h1.8m3.3 0h2.3m6.8 0h3.4m8.5 0h3.5m13.4 0h5.2m17.2 0h15.2m3.8 0h1.6m5.1 0h3.2m9.5 0h5.7m6.3 0h.9m5.1 0h2.3m4.1 0h7.9m4.2 0h2.4m32.3 0h6.5m14.2 0h4.9m5.4 0h9m6.5 0h5.6m14.1 0h8m3.6 0h8.5m10.9 0h2.9m1.8 0h6.6m3.6 0h9.3m7.6 0h1.5m14.8 0h1.7m3.7 0h6.9m3.6 0h2.8m9.1 0h2.5m6.8 0h12.6m2.8 0h1.4m15 0h3.2m5.3 0h4.1m4.3 0h2.8m1.6 0h4.2m13.5 0h4.2m.8 0h1.6m5.2 0h5.4m7.3 0h5.4m11.4 0h1.9m5 0h2.9m.4 0h4.1m10 0h1.3m10.9 0h2.9m.5 0h1.9m6.2 0h25.3m4.6 0h5.5m5.3 0h10.5m9.3 0h3.9m7.9 0h4.5m4.3 0h3.1m1.2 0h8.1m8.9 0h6.1m4.4 0h2.3m7.4 0h9.9m2.2 0h8.1m9 0h8m10.5 0h1.4m2.6 0h16.1m3.9 0h3m1 0h12.6m6.3 0h1.9m8.2 0h11.7m6.6 0h1.5m5.4 0h1.8m19 0h14.4m3.5 0h6.8m4.9 0h7.7m29.7 0h1.6m2.2 0h2m6.2 0h2.1m4.6 0h3.6m13.5 0h5.8m8.2 0h2.5m5.6 0h6.3m4.4 0h3.3m.8 0h4.6m2.3 0h4.4m3.8 0h3.8m5.4 0h5m3.1 0h3.2m6.9 0h3.2m11 0h4.4m6.4 0h2.8m2.7 0h11.5m2.7 0h2.1m7.7 0h2.2m20.2 0h3.3m5.4 0h2.7m12.5 0h5.2m4.3 0h4.7m2 0h3.2m1.3 0h1.7m3.2 0h2.8m7.4 0h4m2.6 0h2m13.4 0h4.4m2 0h4.8m6.4 0h2m6.8 0h8.5m4.4 0h3m2.6 0h3.9m3.2 0h4.7m10.3 0h1.4m6.1 0h2.2m7.1 0h15.3m6.9 0h5.5m12.2 0h3.1m4.4 0h2.2m6.1 0h6.6m3.8 0h2.1m2.1 0h1.6m16 0h4.7m7.7 0h5.8m4.1 0h8.7m3.9 0h1.3m2.4 0h1.3m3.4 0h1.6m14.8 0h7.3m.7 0h17.9m2 0h2.4m4.3 0h8.7m3.5 0h1.6m2.6 0h3.6m6.1 0h4.2m2 0h14.7m4.7 0h4m11.4 0h8.7m2.5 0h8.2m4.2 0h5.9m.6 0h5.1m6.2 0h1.9m9.7 0h2.1m4.2 0h7.7m2 0h3.3m5.7 0h2.2m6.2 0h1.7m8.1 0h8.4m2.1 0h2.2m16 0h18.8m2.9 0h3.7M211.1 1798.5h6.6m3.5 0h10.6m3.1 0h4.3m5 0h4.4m5.4 0h4.4m7 0h8.2m5.6 0h2.5m12 0h2.2m8.9 0h3.3m13 0h3.1m.6 0h4m2.2 0h3.2m7.2 0h2.4m4 0h3.5m7.1 0h4.7m2.3 0h5.7m15.8 0h7.5m14.9 0h3.7m3.1 0h2.2m2.5 0h4.4m3.3 0h2.7m4.8 0h5.3m7.5 0h8.6m.4 0h5m.4 0h13.8m3.5 0h3.7m6.6 0h2.2m4.2 0h9.7m7.8 0h5.2m12.9 0h5m2.2 0h1.7m.7 0h2.9m1.9 0h6m5.6 0h3.8m4 0h2.9m5.1 0h3m.8 0h2.7m5.9 0h9.6m3.3 0h8.3m3.6 0h6.9m2.5 0h3.5m9.4 0h21.2m10.9 0h9.5m4.7 0h1.9m5.4 0h1.9m4.2 0h8.3m9.5 0h5.6m5.5 0h1.5m4.2 0h12.1m7.4 0h4m11.8 0h4.5m1.3 0h5.3m7 0h4.7m3.8 0h7.2m14.5 0h6.4m5.4 0h1.8m1.6 0h7.6m6.2 0h5m2.9 0h10.4m6.3 0h4.4m5.4 0h3.5m2.4 0h2.3m4.7 0h7.1m.6 0h3.3m10.3 0h2m5.2 0h5.9m1.7 0h10.1m10.7 0h2.7m1.2 0h1.5m1.5 0h4.7m9.9 0h8.1m4.9 0h2.8m5.5 0h4.6m7.7 0h6.1m.5 0h3.9m3.1 0h4.6m6.1 0h7.1m2.6 0h5.8m7.2 0h7.3m.5 0h2.9m5.9 0h2.9m11 0h3.2m3.8 0h4.8m6.8 0h4.8m1.4 0h3.5m3.9 0h1.9m1.9 0h6.1m9.6 0h4.8m5.6 0h2.6m12.6 0h2.2m4.3 0h9.3m7 0h5.6m3.3 0h4.1m1.1 0h8.4m3.4 0h6.1m5.3 0h2.9m5.7 0h4.6m4.5 0h1.3m4.4 0h1.4m7.7 0h22.1m.4 0h5.3m.6 0h2.8m9.5 0h6.4m14.1 0h4.8m6.1 0h3.5m3.1 0h4.3m5.6 0h2.3m8 0h4.7m4.1 0h7.4m4.3 0h11.3m11.6 0h6.3m6.9 0h5m2.3 0h3.6m7.5 0h2.2m10.3 0h11.1m10.7 0h3.6m18.9 0h7.2m2.6 0h2.6m18.5 0h6m2.7 0h8.6m4.8 0h11.1m2.5 0h5.1m8.1 0h3.9m5.4 0h12.1m7.5 0h6.6m5.5 0h3.9m15 0h10.3m5.9 0h9.3m.5 0h4.2m5.4 0h3.7m10.9 0h4.7m2.6 0h3m1.6 0h2.5m3.5 0h4.9m10.8 0h4.6m10 0h1.4m3.9 0h7.4m3.9 0h2.6m2 0h3.4m6.6 0h1.3m5 0h5.7m10.6 0h4.2m2 0h6m4.8 0h5.9m3 0h9m6.4 0h9.4m7.4 0h3.6m4.4 0h3.4m4.8 0h4.1m12.3 0h5.7m5.1 0h2.9m2.8 0h7.7m5.8 0h1.4m7 0h6.1m6.5 0h6.2m7.1 0h4m3.9 0h1.9m4 0h1.5m6.7 0h1.5m7.3 0h3.5m17.1 0h11.3m13.6 0h7.3m4.8 0h10.9m8 0h2.4m17.8 0h7.3m2.2 0h7.7m12.7 0h1.6m4.3 0h.5M211.1 1832.2h5.9m4 0h3.5m10.9 0h1.6m2 0h2.2m10.4 0h2.1m12.8 0h1.6m7.9 0h6.6m1.1 0h8.3m13.5 0h7.4m3.3 0h10.5m2.9 0h1.9m4.3 0h10.2m4.2 0h5.6m2.1 0h7.2m7.6 0h6.1m3.6 0h1.7m2.8 0h2m12.7 0h3.4m20.9 0h5.9m4.5 0h1.6m4.8 0h17.1m3.1 0h10m11.7 0h2m3.6 0h6.9m5 0h5.7m6.8 0h2m5.9 0h7.4m26.9 0h3.2m6.4 0h3.3m6.7 0h4.2m6.6 0h.6m5 0h2.9m8.5 0h23.5m15.9 0h3.4m4 0h6m2.4 0h3.8m3.1 0h7.9m9.4 0h1.6m6.6 0h7.9m7.1 0h4.6m1.4 0h7.5m7.3 0h1.6m7.6 0h5m6.4 0h3.9m6 0h2.7m15.2 0h7.6m2.7 0h2m4.1 0h13.7m11.7 0h2.1m9.8 0h5.9m5.2 0h6.4m7.2 0h3m3 0h4.8m2.8 0h7.3m13.3 0h5m6.9 0h2m3.3 0h9m2 0h1.6m6 0h4.2m5.5 0h2.6m18.4 0h2.7m9 0h2.7m.8 0h5.4m3.5 0h2m11.4 0h7m7.1 0h1.8m5.2 0h3.1m1.8 0h2.5m2 0h5.3m1.3 0h4.2m4.1 0h6.2m4.6 0h2.3m8.1 0h.5m6 0h3m4.5 0h1.8m2.1 0h2.9m4.5 0h2.2m6.5 0h3.2m3 0h4.9m1.1 0h3.8m10.4 0h17.3m4.1 0h4.1m21 0h3.8m1.1 0h3.4m2.5 0h3.5m5.5 0h3.6m10.1 0h.4m16 0h4.9m5.8 0h8.3m2.5 0h8.7m5.7 0h3.1m1.3 0h4.9m10.3 0h7.1m6.6 0h2.9m5 0h1.2m5.6 0h2.8m13.9 0h2.9m5.9 0h1.8m4.5 0h10.1m2.6 0h13.9m10.2 0h13.6m4.8 0h2m4.3 0h4.8m11.6 0h3.5m3.4 0h8.4m3.1 0h4.1m6.1 0h3.3m1.7 0h3.9m10.5 0h7.4m4.9 0h1.7m6.4 0h1.5m8.6 0h1.4m1.6 0h3.7m18.2 0h10.5m1.7 0h4.7m3.6 0h1.4m2.8 0h2.4m4.6 0h11.9m12.1 0h9.2m.9 0h6.1m9.8 0h5.7m1.5 0h4.8m4.5 0h2.5m3.9 0h2.7m3.4 0h6m4.9 0h2.4m1.7 0h2.7m2 0h8.4m1.6 0h5.8m4.8 0h1.9m4.6 0h3.3m4.6 0h2.6m4 0h12.1m4.8 0h5.5m3.3 0h2.4m10 0h3.1m2.4 0h.6m9.7 0h1.8m8 0h10m5.7 0h3m6.1 0h5.2m11.3 0h3.2m11.8 0h3.5m6.6 0h2.3m3.9 0h2.3m.6 0h6.1m5 0h3m6.8 0h4.2m14.4 0h1.7m4.9 0h3.4m9.9 0h8.1m6 0h8.3m2.1 0h2.3m2.7 0h2.9m9.4 0h3.1m11.2 0h13m3.9 0h5m10.4 0h2.1m1.4 0h5.9m7.5 0h4.9m.7 0h10.2m12.6 0h7.5m4.7 0h6.8m5.4 0h1.1m11.7 0h3.1m5.4 0h10.2m.6 0h5.2m.4 0h7.8M211.1 1865.9h11.3m1.7 0h6.9m2.8 0h1.7m2.3 0h2m4.7 0h3.9m3.5 0h1.7m2.5 0h4.5m14.4 0h11.1m3.4 0h2.7m5.6 0h6.6m14.1 0h12.9m7.3 0h7.5m5.2 0h4.3m9.4 0h5.1m8.1 0h2.9m5.8 0h13.1m3.2 0h2.5m1.7 0h2.8m6.3 0h1.8m2.2 0h4.4m4.5 0h2.3m6 0h5.7m6.4 0h8.2m9.9 0h1.6m2.8 0h5.1m14.7 0h4.9m2.3 0h2.8m1.2 0h3.3m7.8 0h5.3m3.7 0h1.5m4.1 0h3.3m12.5 0h1.9m7.3 0h3.5m8.1 0h3.5m7.8 0h3.9m4 0h3.2m8 0h3.2m4.7 0h3m8.4 0h4.8m7.6 0h5m4.3 0h2.7m4.5 0h4.5m.6 0h12m6.3 0h8.3m10.5 0h8.8m3.6 0h11.8m2.5 0h5.6m6.8 0h16.3m8.9 0h5.5m11.1 0h1.4m5.8 0h.5m8.8 0h3m3.1 0h2.2m4.2 0h10.3m8.6 0h4.8m3.1 0h9.1m4.4 0h2.8m7 0h8.9m9.5 0h2.1m6 0h8.8m2 0h1.6m6.7 0h5.4m.8 0h1.9m1.1 0h8m2 0h2.1m1.2 0h7.4m5.7 0h2.1m4.8 0h17.3m5.2 0h6.7m3.2 0h2.1m8 0h.7m2.9 0h7.4m5.1 0h4m2.1 0h7.1m4.2 0h9.9m.3 0h18.2m3.1 0h3.6m2.4 0h4.2m9.2 0h1.7m8.9 0h8.2m4.9 0h1.4m9.4 0h1.7m4.5 0h4m4.3 0h6.8m7.7 0h5.8m1.7 0h5.8m2.9 0h3.6m2.5 0h3.2m3.1 0h3.5m4.6 0h14.3m5.9 0h10.1m.4 0h7.2m4.7 0h4.6m9.9 0h4.1m9.8 0h2.3m2.3 0h1.6m9.7 0h2.2m2.6 0h9.9m8.7 0h.6m5 0h9.2m7.7 0h.5m22.7 0h3.4m7.9 0h5.4m4.4 0h4.3m2.1 0h4.6m5.9 0h6.5m2.9 0h2.4m2.5 0h6.3m4.7 0h1.7m1.4 0h2m9.2 0h3.8m8.9 0h9.2m3.6 0h4.6m5.2 0h4.7m3.8 0h3.1m5.4 0h12.4m4.5 0h2.8m3.3 0h8.7m2.3 0h3.6m2.6 0h2.7m6.9 0h2.5m10.3 0h8.6m8.2 0h2.2m7.3 0h6.4m2.5 0h1.4m4.8 0h12.9m1 0h5m5 0h4.3m5.9 0h3.3m3.7 0h2.2m.8 0h2.2m5.1 0h2m11.4 0h11.1m13 0h6.3m9.5 0h4.4m.7 0h4.5m6.6 0h1.8m7 0h2.5m3.4 0h5.2m.8 0h4.9m1.8 0h9.9m2.8 0h8.1m4.2 0h5.5m.7 0h10m13 0h3.7m7.2 0h2.2m6.8 0h1.4m15.8 0h14.2m9.3 0h4.1m8.8 0h2.2m25.4 0h6m2.9 0h1.7m4.4 0h18m1.3 0h6.5m10.5 0h4.3m8.8 0h4.9m14.3 0h3.5m3.7 0h9.9m3.6 0h4.8m1.1 0h2.5m4.8 0h11.2m7.7 0h1.2m4.3 0h8.6m5.3 0h6.9m9 0h12.5m7.2 0h7.6m3.7 0h4.8" fill="none" stroke="#F6746C" stroke-opacity="0.8" stroke-width="17.34"/>
<path d="M212.7 1764.9h5.2m1.9 0h2.4m11.6 0h2.2m6.5 0h3.1m2.3 0h3.7m1.4 0h5.4m3.9 0h14.8m3.1 0h3.9m4.3 0h1.3m4.8 0h6.6m2.1 0h1.3m4.8 0h4.4m1 0h5.1m7.8 0h3.8m7.5 0h7.1m7.1 0h2.6m2.2 0h14m1.7 0h6.8m5.4 0h1.7m10.6 0h5.7m5.5 0h2.1m2.3 0h2.2m.5 0h3.2m1.4 0h1.9m15.8 0h4.8m5.8 0h12.1m13.8 0h1.8m.9 0h6.2m4 0h9.9m6.5 0h7.4m9.4 0h16m13.8 0h1.5m3.9 0h6.5m1.8 0h7.8m9.9 0h2.1m5.6 0h.6m5.8 0h1.4m8.4 0h2.6m4 0h3.5m37.3 0h11.7m7.4 0h4.9m7.6 0h4.3m7.7 0h15.5m8.4 0h.8m9.5 0h10.1m3.7 0h3.2m5.2 0h5m7.9 0h5m4.1 0h12.5m3.9 0h5.1m5.5 0h3.1m6.5 0h5.1m5.3 0h4.4m12.8 0h4.2m4.9 0h11.5m4.3 0h4.2m2.7 0h3.6m3.5 0h3m2.8 0h10.6m7.1 0h2.2m4.6 0h2.1m4 0h6.3m6.4 0h12.8m.5 0h1.8m6.1 0h1.8m2.7 0h9.6m3.6 0h10.3m1.5 0h1.9m3.3 0h2.9m25.8 0h6m7 0h.6m14.6 0h8.3m4.2 0h3.7m8.9 0h3.8m1.7 0h2.6m6.7 0h10.3m6.4 0h2m3.1 0h6.3m11 0h3.6m6.7 0h8.4m8.7 0h9.2m2.7 0h4m14.7 0h2.1m4.8 0h2.4m11.2 0h1.8m6.4 0h9.6m10.3 0h8m2 0h4.9m3.1 0h7.7m23 0h3.2m11.9 0h1.5m6.3 0h28.9m2.4 0h3.6m3.6 0h3m4.6 0h3.7m6.4 0h9.1m5.9 0h5.9m4.8 0h4.9m7 0h5.8m1.9 0h2.2m3.2 0h3.7m3 0h2.6m7 0h2.4m7.9 0h1m5.3 0h6.5m4.4 0h9.7m5.3 0h5.4m3.7 0h1.8m10.1 0h2.5m2.3 0h7.5m2.4 0h12m11.5 0h6.8m3.2 0h9.8m7.8 0h4m3.3 0h3.4m1.8 0h2.7m.3 0h4.6m1.4 0h7m4.4 0h2.2m4.1 0h10.9m6.9 0h1.8m6.4 0h4.7m.6 0h8.2m7.1 0h3.4m4 0h2.3m6 0h2.8m3.3 0h11.7m1.9 0h2.5m5.8 0h6.5m13.9 0h6.4m6 0h13.6m3.7 0h1.7m2.8 0h5.7m7 0h3.7m2.2 0h3.5m2 0h12.7m9.7 0h5.7m4.4 0h5.5m10.3 0h2.2m2.1 0h1.7m1.9 0h2.9m2.1 0h10.7m9.4 0h2.1m18.6 0h1.4m1 0h4.1m10.8 0h1.2m2.1 0h1.2m6.7 0h5.8m4.6 0h1.5m13.3 0h3.3m7.5 0h10.6m9.1 0h2.1m8.9 0h3.5m4.5 0h2m3.7 0h5.1m3 0h5.4m6.4 0h3.7m9.7 0h1.8m1.9 0h1.8m6.1 0h7.6m.3 0h1.8m16.5 0h1.7m3.3 0h5.1m27.2 0h4.3m2.3 0h2.7M217 1798.5h2m12 0h1.5m5.9 0h2.7m9.3 0h2.2m6.9 0h6.5m9.1 0h4.7m5.5 0h6.6m3.2 0h6.5m11.6 0h5.4m4.9 0h2m2.6 0h3.6m3.7 0h1.4m6.4 0h3m7.4 0h3.4m5.3 0h3.7m17.9 0h1.3m8.3 0h16.3m4.6 0h2.2m.8 0h3.9m3 0h4.7m1.3 0h6.2m3.9 0h5.1m11 0h1.8m3.6 0h1.8m12.4 0h4.9m4.7 0h1m5.3 0h5.6m8.3 0h6.1m12.3 0h7.3m5.1 0h3.6m.3 0h2.1m3 0h1.7m6.7 0h3.2m5.9 0h3.6m3.4 0h1.6m4.7 0h2.2m3.3 0h2.6m10.9 0h4.7m6.9 0h5m5.5 0h3.9m8.1 0h4.8m19.8 0h12.3m10.2 0h4m.5 0h6.8m2.5 0h3.6m6.9 0h10.9m4.2 0h4.2m5.1 0h3.3m13.6 0h3.9m4.6 0h6.1m10.2 0h2.7m6.5 0h5.8m5.7 0h.6m21.1 0h2.8m10 0h1.8m.4 0h1.4m9.3 0h4m5.5 0h2.2m11.1 0h5.8m4.9 0h5.1m5.7 0h1.8m.9 0h4.1m7.6 0h2m10.9 0h2.7m.6 0h6.6m4.5 0h1.5m12.2 0h10.2m1.3 0h2.6m1.7 0h1.4m3.3 0h9.5m8.5 0h6.3m1.4 0h4.5m10.9 0h3.8m4.7 0h1.9m2.5 0h4.5m3.2 0h2.2m11 0h4m6.5 0h3.3m9 0h1.9m3.6 0h.8m8.7 0h9.6m1.8 0h3.4m5.3 0h6.5m5.2 0h2.8m4.9 0h2.4m2.3 0h1.5m4.7 0h11m6.3 0h4.1m1.2 0h11.6m6.3 0h2.6m7.9 0h6m6.6 0h2.4m5 0h2.5m9.9 0h1.9m4.7 0h6.7m3.2 0h2.3m6.4 0h3.7m4.3 0h3.7m4 0h3.3m22.6 0h1.8m3.9 0h2m3.6 0h6.1m9.9 0h13.3m6.3 0h2.3m4.4 0h4.5m4.8 0h3.5m5 0h5.2m8.1 0h.6m7.7 0h5.7m21.1 0h1.8m4.9 0h8.3m3.6 0h3.7m4.2 0h5.1m2.7 0h9.8m11.6 0h12.1m18.4 0h1.7m10.1 0h2.2m1.2 0h19.9m6.4 0h2.4m9.1 0h4.2m11.2 0h.7m7.3 0h2.2m7.9 0h6.8m13.3 0h3.7m11.2 0h3.5m2.5 0h2.5m26.1 0h.6m11.2 0h1.9m2.8 0h4.7m4.5 0h10.8m4.8 0h1.6m4 0h3m3.3 0h2.7m3.5 0h9.9m5.4 0h3.2m10.1 0h1.2m10.1 0h3.3m1.2 0h3.4m4.5 0h5.4m2.3 0h3.9m4.3 0h9.6m5.2 0h1.5m6.6 0h6.2m4.5 0h4.4m9.8 0h3.7m12.6 0h6.1m2.2 0h3.4m4.5 0h6.2m2.7 0h11.8m6.2 0h4.3m3.8 0h4.2m11.7 0h1.8m2.9 0h5.5m6.7 0h3.3m11.4 0h2.7m7.1 0h2.6m2.3 0h1.2m2.5 0h4.4m10.8 0h1.8m6 0h7.9m25.6 0h5.9m5.9 0h6.2m11.1 0h7.9m11.1 0h6.6m8.4 0h3.6m6.3 0h14.1m2.6 0h.8M216.3 1832.2h2.7m8.1 0h5.5m3.7 0h3.4m4.4 0h2.5m9 0h4.4m11.1 0h5.7m5.2 0h2.5m8.6 0h11.1m11.2 0h1.6m9.1 0h4.3m2.8 0h3.5m10.6 0h3.9m4.2 0h1.7m14.5 0h2.1m4.7 0h5m.3 0h1.6m8 0h5.4m16.5 0h10.1m6 0h3m3 0h6.2m17.4 0h1.4m17.1 0h6.1m.6 0h5m5.5 0h6.4m7.1 0h2.1m4 0h3.6m11.5 0h22.8m10.7 0h2.7m6.1 0h3.9m6 0h3.2m3.2 0h1.3m4.1 0h9.9m33.1 0h6.4m3.8 0h3.6m4.6 0h3.8m2.4 0h4.5m9.9 0h5.6m5.4 0h4.7m6.5 0h8.5m3.2 0h2.8m10.1 0h.3m4.6 0h9m6 0h2.8m5.1 0h7.4m1.3 0h16.6m6.2 0h4.1m.6 0h5.5m17.5 0h7.9m.7 0h11.2m4.5 0h4.5m9.1 0h6.5m1.6 0h2.8m5 0h1.5m18.5 0h4.8m5.2 0h6.7m.6 0h1.8m10.5 0h3.4m2.6 0h5m7.8 0h1.9m1.2 0h19.8m1.3 0h1.9m9.9 0h2.2m4 0h2.5m3.1 0h12.8m5.6 0h8.5m.4 0h6.6m1.7 0h3.2m1.1 0h3.4m3.9 0h2.7m4.6 0h3.7m7.5 0h3.3m.9 0h7.1m3.6 0h1.1m5.7 0h5.9m.4 0h3.5m1.5 0h4m2.7 0h7.9m1.8 0h4.4m3.5 0h2.5m4.5 0h8.1m17.5 0h2.7m5.5 0h1.5m23.3 0h2.5m2 0h2m6.5 0h2.5m4.1 0h9.8m4.9 0h13.3m6.3 0h2.4m8.9 0h1.5m11.5 0h5.3m1.7 0h2.7m9.8 0h3.6m9.5 0h6.2m4.7 0h1.1m4.2 0h4.7m4.2 0h9.7m4.4 0h7.3m2.6 0h1.7m10.7 0h1.7m18.4 0h7.9m14 0h4.4m.6 0h5.7m3.4 0h13m2.1 0h4.8m7 0h4.5m8.2 0h2m1.9 0h3.1m5.4 0h9m8.5 0h1.6m4.6 0h5.8m3.3 0h3.6m3.2 0h3m2.3 0h19.6m9.1 0h3.1m3.3 0h2.8m2.2 0h4.2m1 0h3.7m24.1 0h2.3m7.8 0h2.3m6.8 0h9.1m4.3 0h1.2m5.1 0h5.9m3.4 0h.5m3.7 0h4.8m4.6 0h3.7m3.5 0h3.1m1.3 0h3.4m7 0h3m6.3 0h4.3m.5 0h6m3.6 0h1.9m3.6 0h2.4m15.4 0h4.5m4.1 0h4.7m1 0h5.7m7.4 0h1.4m4.1 0h8.6m2.2 0h7.6m13 0h2.7m4 0h2.6m10.5 0h6.8m5.2 0h9.7m3.8 0h8m3.2 0h1.4m2.4 0h2m4.7 0h4.5m7 0h2.3m5.1 0h11.4m7.3 0h3.8m2 0h7.9m13.4 0h4.1m8.7 0h1.7m2.8 0h2.2m1.5 0h10.8m4.6 0h2.6m18.6 0h3.3m7.4 0h9.9m.7 0h2.8m4.5 0h7.3m5.1 0h2.1m8.8 0h14m6.1 0h6.1m5.4 0h4.9m4.3 0h10.3m1.7 0h6.8m8.8 0h2m3.8 0h1.8m8.3 0h1M221.7 1865.9h3.1m7.3 0h.5m2.2 0h3.7m.6 0h3.9m6.8 0h2.8m2.3 0h1.9m3.1 0h13.8m11.6 0h4.8m4.3 0h3.9m5.2 0h15.5m11.5 0h8.7m8 0h2m5.6 0h8.7m5.8 0h9.5m1.5 0h7.2m11.7 0h2.9m2.8 0h3.1m1.4 0h4.7m5.1 0h1.8m4.9 0h4m4.1 0h2m6.6 0h6.3m11.3 0h6.9m1.8 0h2.6m14.2 0h4.5m6.1 0h3.7m1.4 0h2.6m1.9 0h9.2m6.5 0h2.5m4 0h1.7m1.9 0h12.4m2.1 0h6.7m4 0h7.9m7 0h6m4.3 0h3.6m5.9 0h5.3m1.8 0h6.1m8.2 0h1.5m7.6 0h2.4m10.4 0h2.9m1.3 0h5.9m3.1 0h2m10.6 0h5m15 0h2m11.9 0h5m10.4 0h1.5m6.6 0h4.2m21.1 0h8.2m4.1 0h12.5m2 0h1.7m5.5 0h7.4m1.6 0h2.4m2.9 0h3.9m13.2 0h5.4m5.5 0h2.3m11.7 0h1.3m5.8 0h6.6m7.5 0h8.8m2.7 0h7.4m9.4 0h1.4m2.4 0h6m4 0h2.2m.5 0h2.5m6.6 0h3.4m.7 0h2.6m11.6 0h1.5m.7 0h6.2m18.3 0h4.2m7.8 0h2.1m2.5 0h5.6m3.1 0h2.5m6 0h4m5.1 0h1.8m7.4 0h5.6m8.5 0h1.7m16.8 0h4.5m2.2 0h3.8m2.8 0h8.4m2.5 0h8.1m9.1 0h4m7.8 0h5.4m.3 0h4.2m4.4 0h4m7.1 0h4.8m8.7 0h3.1m4.4 0h1.7m6.8 0h1.9m1.8 0h4.5m4.3 0h3.8m15.3 0h3m10.6 0h1.8m7.7 0h4.2m3.2 0h2.6m11.4 0h8.3m3.8 0h1.6m2.3 0h9.1m2.8 0h4m8.5 0h8.1m3.4 0h2.6m13.1 0h2.4m4.3 0h21.9m4 0h5.3m6.1 0h5.8m2.9 0h1.8m7.6 0h4.5m5.1 0h2m5.2 0h1.9m4.9 0h3.5m2.9 0h2.8m.6 0h6.5m6.4 0h7.9m13.6 0h1.6m3.2 0h2.5m7.5 0h2.7m4.2 0h3.7m14.1 0h5.9m1.4 0h2.7m9.3 0h3.7m2.2 0h1.6m9.2 0h2.7m1.1 0h8.8m10.1 0h9.6m2.4 0h7.1m5 0h1.5m2.3 0h4.4m13.3 0h2.4m3.6 0h6.4m2.9 0h7.3m1.9 0h5.1m.8 0h2.2m.8 0h4.2m5 0h7.7m23.5 0h3.5m7 0h8.8m3 0h2.1m3.1 0h5.9m4.4 0h4.1m3.5 0h4.8m3.8 0h2.2m3.5 0h3.2m10.1 0h2.7m9.1 0h3.3m4.1 0h2.1m11.5 0h11.6m2.3 0h8.6m2.6 0h4.5m6.1 0h1.3m27.4 0h5.3m6.7 0h8.7m12.7 0h5.3m14.2 0h4.3m.3 0h5.8m16.6 0h2.7m5.1 0h11.9m4.5 0h6.7m9 0h12m2.1 0h2.9m13 0h2.7m3.4 0h2.5m1.1 0h3m15.6 0h6.7m2 0h1.7m12 0h3.8m7.1 0h5.9m13.9 0h6.3m8.5 0h5.1m19 0h1.2" fill="none" stroke="#F6746C" stroke-opacity="0.8" stroke-width="17.34"/>
<path d="M211.4 1899.6h7m.6 0h8.7m2.6 0h3.8m2 0h4.7m7 0h11.9m1.6 0h3.3m9.4 0h3.7m11.2 0h3.3m4.5 0h3m8.5 0h37.5m5.2 0h12.1m.6 0h7.8m7.3 0h12.9m.9 0h2.9m4.4 0h4.4m5.7 0h6.7m1.5 0h2.5m4.9 0h2.4m8.9 0h21.8m.7 0h3.9m5.8 0h39.6m1.9 0h8.6m4.1 0h7.1m1.1 0h3.9m4.8 0h3.6m16.6 0h2.4m.4 0h2.2m30.7 0h1.9m4.6 0h22.5m6.3 0h4.5m3.9 0h3.1m8.2 0h.7m12.1 0h9.4m6.2 0h12.8m19.9 0h7.3m11.1 0h17.7m10.6 0h6.4m8.5 0h5.2m1.9 0h12.7m9.8 0h4.5m1.4 0h2.3m12.4 0h1.4m8.6 0h23.6m6.5 0h3.1m5.6 0h37.9m10.2 0h15.5m4.2 0h11.2m1.6 0h2.9m33.6 0h2m9.9 0h10.6m22.1 0h1.6m3.2 0h15.6m8.1 0h2.3m3.6 0h36m.8 0h13.4m22.7 0h2.7m3.5 0h10.3m2 0h4m4.4 0h12.8m11.6 0h1.8m6.7 0h4.1m8.3 0h7.3m7 0h11.3m19.9 0h6.3m8.2 0h2.5m5.7 0h7.6m8.5 0h2.8m3.4 0h1.8m3.5 0h18.1m15.3 0h4.7m12 0h2.1m6.7 0h2.3m11.1 0h5.9m12.1 0h2.6m7.8 0h6.2m5.7 0h5.6m6 0h6.8m2.6 0h8.7m20.4 0h2m18.4 0h4.2m3.9 0h2.4m4.3 0h11.8m2.3 0h4.9m12 0h3.6m9.2 0h18.5m14.9 0h11.3m.5 0h9.9m2.3 0h11.3m4.6 0h4.5m3.1 0h5m7.2 0h8.5m2.6 0h5.4m10.1 0h7.5m1.5 0h10.6m25.2 0h20.7m5.9 0h6.5m13.5 0h9.2m5.9 0h8.1m7.3 0h2.7m4.8 0h2.5m7.4 0h6.8m9.5 0h12m4.3 0h13.9m9.2 0h7.3m8.1 0h3.6m6.8 0h4.5m13.1 0h2.6m10.3 0h16.8m19.1 0h15.8m7.1 0h6.4m12.2 0h21.9m3.2 0h6.9m10.4 0h9m4.9 0h6.7m18.4 0h3.1m3.3 0h1.3M211.1 1933.1h15.2m16.4 0h2m8 0h5.3m7 0h5.4m2.4 0h3m2.1 0h7.6m5.5 0h14.4m3.6 0h3.4m29 0h7.7m3.6 0h1.9m6.6 0h3.6m12.3 0h1.9m4.7 0h12.8m4.2 0h5.1m23.4 0h7.7m27.5 0h8.7m5.3 0h12.7m8 0h4.3m3.4 0h9.5m.8 0h2.9m3.1 0h12.5m41.4 0h3.2m2.9 0h4.7m4.3 0h12.6m8 0h10.7m3.5 0h2.1m22 0h2.9m9.4 0h3.9m4.2 0h4.7m2.5 0h3.3m4.5 0h6.3m4.2 0h1.6m3.7 0h7.4m5.3 0h5.8m11.7 0h4.6m14.1 0h2.4m2.6 0h4.4m6.6 0h10.5m7 0h9.4m6.1 0h4.6m10.6 0h8.2m5.8 0h6.8m1.7 0h11.2m6.7 0h6.4m7.2 0h6.1m23.7 0h5.2m19.6 0h6.3m7 0h10.4m4.6 0h9.4m8.5 0h6.4m16.5 0h6.2m3.7 0h18.7m3.2 0h11.7m1.5 0h2.4m6.1 0h18.6m25.8 0h3.6m4.9 0h19.1m18.5 0h2.9m10.9 0h7.9m1.9 0h27.8m3.1 0h8.3m5.1 0h3.5m4.5 0h7.6m3.6 0h6.8m3.5 0h2.3m3.2 0h13.1m2.7 0h2m18.5 0h22.2m6.6 0h8.9m9 0h4.7m5.2 0h7.8m10.1 0h2.7m12.5 0h18.5m13.7 0h4.1m3 0h5.8m2 0h11.9m4.9 0h1.9m17.4 0h6.2m2.2 0h6.5m5.2 0h1.7m6.6 0h2.8m5.9 0h2.1m20.2 0h15.2m3.3 0h6.5m4.7 0h8m.5 0h28.1m8.9 0h12.8m4.1 0h11.6m2.1 0h2.2m2.9 0h4.2m3.5 0h14.7m3.9 0h8.1m4.8 0h1.5m8.6 0h2m3.3 0h1.9m.9 0h11.8m5.4 0h13.5m9.9 0h2.4m16.5 0h3.2m12 0h2.9m15.4 0h12.8m7.6 0h10.6m17.9 0h8.8m2.5 0h12.5m5.5 0h1.4m7.7 0h3.6m11 0h2.8m18.5 0h4.2m13 0h2.5m6.4 0h15.1m5.2 0h3.5m3.3 0h6.3m7.1 0h1.4m.6 0h2.5m10.7 0h7.4m2.5 0h3.1m14.5 0h2.6m12.8 0h3.8m2.6 0h2.3m16 0h14.9m2.6 0h2.4m2.8 0h7.5M212.2 1966.6h14.1m7.1 0h2.4m11.3 0h5.7m2.6 0h5m.9 0h22.4m3.8 0h3.1m3.5 0h8.2m3.1 0h3.4m14.4 0h12.4m7.8 0h5.9m2.8 0h5.1m2.4 0h3.4m4.9 0h3.4m2.5 0h14.8m2.6 0h1.8m32.7 0h2.3m4.5 0h12.5m5 0h5m8.3 0h1.7m20.6 0h5.5m9.5 0h9.1m19.9 0h2.9m1.9 0h2.5m13 0h8m10.8 0h18.2m7.6 0h4.5m3 0h15.5m1.5 0h11.7m6.7 0h.8m17 0h8.1m15.3 0h9.2m41.9 0h8.9m7.8 0h3.8m3.6 0h2.8m3.7 0h2m4.5 0h6.4m18.5 0h5.4m6.9 0h9.5m2.8 0h1.7m2.7 0h6m2.2 0h3.9m10.6 0h10.3m1.4 0h7.1m6.9 0h6.2m10.8 0h2.2m16.9 0h12.4m8 0h14.2m5.8 0h8.5m2.8 0h10.4m2.9 0h7.8m1.1 0h5.4m7.6 0h25.5m14.6 0h12.1m6.7 0h8.2m6 0h3.3m3.6 0h17.3m3 0h2.4m6 0h4.3m2.2 0h9.6m1.6 0h4.4m.7 0h8.5m3.2 0h7.3m4.8 0h16.6m3.7 0h5.3m7.6 0h14m7.8 0h10.7m2.4 0h14.8m2.7 0h7.3m3.9 0h10.1m10.7 0h23.1m1.7 0h6.3m8 0h11.6m3 0h1.8m10.3 0h2.4m5.4 0h2.1m1.1 0h2.1m6.5 0h3.3m7.4 0h2.8m3.9 0h10.1m9.6 0h3.3m9.1 0h5.4m3.6 0h8m18.9 0h5.2m12.9 0h1.8m9.4 0h6.5m8.5 0h8m1.5 0h4.2m8.6 0h.6m9.3 0h8.1m9.9 0h1.4m7.8 0h3.1m5.2 0h30.6m8.9 0h8.9m9.9 0h2m14.6 0h8.7m10.7 0h4.7m8.7 0h2.3m1.2 0h9.2m1.4 0h4.7m16 0h1.5m22.2 0h26m1.3 0h2.7m7.8 0h5.7m1 0h4.4m3.9 0h4.9m19.1 0h8.4m27.2 0h7.5m5.1 0h21.2m5.8 0h6.9m8.1 0h10m10.6 0h4.8m2.9 0h2m4.8 0h17.4m2.6 0h5.9m2 0h10.8m.3 0h1.5m6.8 0h7.1m6.1 0h5.5m6.2 0h16.7m12.1 0h3.4m2.4 0h2.9m2.6 0h3m17.1 0h18.7m6.3 0h3.1m9.2 0h1.8M212.1 2000.1h6.6m8.6 0h3.9m10.7 0h2.7m4.1 0h12.9m1.3 0h1.7m10.5 0h4m5.8 0h4.9m3.9 0h8m39.3 0h17.3m7.1 0h12.8m14.9 0h1.8m2.4 0h2.3m3.4 0h11.6m6.6 0h6.9m4.5 0h13.7m5.9 0h7.5m3.9 0h9.4m6.3 0h3.4m.9 0h27m8 0h2.2m3.2 0h5.8m15.8 0h1.2m12 0h2.2m4.5 0h6.8m4 0h5.7m13 0h4.3m4.6 0h8.4m6.4 0h6.5m7.2 0h18.5m3.6 0h2.7m4.3 0h2m3.2 0h1.6m4.9 0h8.3m16 0h5m5.4 0h8.6m2.2 0h30.5m3.8 0h2.2m9.8 0h2.3m4.5 0h6.8m4.4 0h8.8m2.5 0h8.2m4.3 0h8.3m3.3 0h8.2m3.7 0h9.4m9.6 0h3.5m9.4 0h1.9m7.5 0h10.3m16 0h13.5m7.5 0h22.1m1.4 0h11.8m5.3 0h13.4m4.2 0h13m11.9 0h1.9m18.3 0h4.9m6.9 0h25.9m12.8 0h9.9m2.1 0h7.8m1.5 0h2.7m.3 0h2.9m2.3 0h15.9m17.2 0h4.7m8.2 0h5m6.3 0h9.1m2.9 0h3.6m1.6 0h7.9m6.6 0h2.3m10.4 0h1.8m4.4 0h3.2m8.6 0h5.6m5.7 0h18.1m7.1 0h3.2m13 0h2.2m5.6 0h11.2m4.8 0h4.9m16.3 0h.8m3.4 0h4.9m13.3 0h5m6.7 0h3.7m7.9 0h1.9m7.3 0h2.6m3.4 0h5.8m2.7 0h7.1m6.4 0h1.3m6 0h2.9m4.1 0h1.8m7.1 0h2.8m7.7 0h7.1m6.2 0h3m7 0h11.8m2 0h2.2m9.7 0h3.6m7.5 0h6.2m2.8 0h1.3m2.2 0h5.1m8.9 0h3.7m5.2 0h11.2m5.3 0h6.9m6.3 0h7.1m4.7 0h11.5m5.3 0h12.4m4.5 0h4.5m3 0h9.4m1.5 0h2.4m1.9 0h7.4m7.8 0h3.6m6.1 0h1.8m6.9 0h14.1m2.6 0h8.5m1.4 0h19.9m21.7 0h6.3m4.8 0h23m.7 0h5.6m21.3 0h4.8m6.9 0h4.5m18.2 0h6.4m16.3 0h5.4m6 0h3.6m27.6 0h3.9m3.2 0h3.5m5.8 0h3.2m19.2 0h4.5m35.1 0h11.7m2.5 0h2.3m6 0h6.3m5.8 0h4.5m4.3 0h1m5.5 0h12.2m6.1 0h18.6m3.3 0h2.7m3.5 0h21.4M211.4 2033.6h5.8m10.2 0h6.4m2 0h5.4m5.9 0h19.3m11.8 0h8.5m37 0h31.2m4 0h4.5m6.9 0h1.5m5.2 0h5.5m9.1 0h5.2m.9 0h5.9m1.5 0h2.2m8.3 0h1.5m3.5 0h7.4m4.6 0h17.2m5.3 0h4.1m1.7 0h6m3.3 0h2.8m6.1 0h13.3m1.2 0h4m22.2 0h12.5m7.4 0h3.6m1.1 0h2.4m3.1 0h10.4m7.1 0h20m6.3 0h19.9m16.4 0h5.8m2.8 0h10m6.1 0h1.9m7.8 0h2m7.9 0h14.2m18.5 0h5.5m9.9 0h17.9m15.5 0h2.7m3.9 0h3.4m1.5 0h7.8m1.2 0h3m1.5 0h14.7m2.5 0h9.2m6.1 0h6m2.4 0h11.4m1.5 0h10.1m6.1 0h3.6m1.7 0h1.9m17.6 0h1.7m20.1 0h1.8m26.8 0h7.5m1.3 0h8.3m1.1 0h11.2m7.4 0h10.2m1.3 0h5.4m.3 0h18m6.7 0h5.7m1.8 0h18.3m12.8 0h6.8m4.7 0h1.7m6.4 0h8.4m.8 0h4.6m2.7 0h7m14.9 0h7.4m2.3 0h1.7m6.6 0h11m4.1 0h23.9m8.7 0h4.8m8.1 0h15.1m6.5 0h9.3m2.3 0h6.2m11.9 0h16.9m2.9 0h13.9m14.6 0h4.1m1.4 0h1.8m3.7 0h10.2m5.4 0h1.3m5.1 0h3m1.6 0h14m2.9 0h10.7m15.7 0h6.7m7.5 0h21.8m14.8 0h2.2m.8 0h7.4m17.5 0h1.5m.8 0h16.3m2 0h2.6m5.2 0h9.5m8.2 0h10.6m7.4 0h30.1m4.1 0h18.7m2.8 0h2.4m1.8 0h3.5m1.8 0h14.9m4.1 0h13.9m14.9 0h4.2m2.1 0h5.2m8.6 0h3.1m2.2 0h3m5.5 0h2.8m9.2 0h20.1m6 0h19.7m1.9 0h8.3m2.7 0h8.4m7 0h3.2m4.4 0h5.3m7.7 0h6.6m14.9 0h8.9m4.4 0h6.8m18.4 0h2.9m2.5 0h3.9m1.4 0h4.9m6.6 0h3.5m3.2 0h6.9m3 0h5.1m3.4 0h1.4m3.6 0h1.8m3.9 0h6.1m8.8 0h1.4m11.8 0h5m5.8 0h2.6m7.9 0h1.9m16.8 0h7m2.6 0h1.4m4.7 0h10.6m15.1 0h14.4m16 0h1.2m4.7 0h29.2m4.3 0h20.8" fill="none" stroke="#FE7C02" stroke-opacity="0.8" stroke-width="17.25"/>
<path d="M217.7 1899.6h2m7.3 0h4m2.4 0h3.4m5.1 0h2.8m14.3 0h3m4.2 0h8.5m2.3 0h12.6m1.9 0h5.9m1.6 0h9.9m36.1 0h6.6m10.7 0h2m6.4 0h8.7m11.5 0h2.3m1.5 0h3.8m5.1 0h7.1m5.3 0h2.9m1.1 0h6.3m4.1 0h7.2m20.4 0h2.1m5 0h1.4m41.4 0h3.3m7.2 0h5.5m5.7 0h2.5m2.5 0h6.2m2.2 0h18m1 0h1.8m.8 0h16.5m16.1 0h6m22.9 0h3.6m8 0h.5m3.9 0h6.4m5.6 0h10.4m8 0h7.6m11.4 0h17.8m9.4 0h10m18.9 0h12m5 0h9.9m5.6 0h1.5m15.2 0h7.4m3.1 0h2.8m.9 0h12.2m1.7 0h10m22.2 0h7.9m1.7 0h7m36.5 0h11.6m14.1 0h5.6m9.8 0h3m1.5 0h35m.6 0h11.3m9.2 0h18.8m5 0h4.6m14.2 0h9.5m.9 0h5m34.6 0h2.2m12 0h24.1m1.3 0h4.9m8.9 0h3.4m2.6 0h5.8m11.4 0h13m3.4 0h1.9m6 0h9.7m5.9 0h6.6m11.7 0h21.3m4.9 0h9.6m1.1 0h7.1m6.2 0h9.9m1.4 0h4.8m.4 0h4.9m16.7 0h12.5m9.3 0h11.6m.7 0h5.3m3.6 0h12.5m4.5 0h13.5m1.2 0h5.4m14.2 0h1.5m6.3 0h5.4m7.5 0h1.8m11.9 0h15.4m2.4 0h19.8m2.8 0h5.3m1 0h3.5m12.5 0h1.6m5.6 0h11.5m4.1 0h10.6m17.1 0h16.3m9.9 0h1.9m8.5 0h3.7m9.9 0h6m3.1 0h4.5m3.6 0h8.6m8.8 0h2.3m5.6 0h9.9m6.1 0h2.9m9.2 0h24.1m21.7 0h7.3m5.1 0h14.9m10.2 0h4.9m6.7 0h8.7m1.3 0h2.9m4.3 0h8.8m5.4 0h9m12.5 0h4m14.2 0h8.7m9.3 0h7.9m2.2 0h6.2m5.1 0h11.7m6.3 0h9.4m17.7 0h15.7m16.9 0h8.5m5 0h13.6m22.5 0h2.6m5.5 0h7m12.4 0h6.3m7.6 0h17.5m3.6 0h2.9M227.9 1933.1h12.9m6.2 0h6.4m9.6 0h2.7m4 0h3.8m1.6 0h3.5m8.1 0h5m13 0h5m2 0h30.4m6.3 0h5m.5 0h6.3m3.9 0h13.7m4 0h.8m13.2 0h3.9m5.4 0h24.8m6.3 0h28.9m9.3 0h4.7m11.3 0h9.4m2.9 0h3.3m9.6 0h2.2m1.5 0h4.5m11.1 0h42.8m1.8 0h4.3m3.3 0h5.7m11.2 0h9.4m9.3 0h2.6m3 0h20.5m7.9 0h7.3m4.6 0h3.5m3.3 0h3.9m1.9 0h5.9m4.9 0h3.9m1.9 0h5.1m8.7 0h3.9m4.4 0h9.1m7.2 0h15.5m1 0h1.9m8.3 0h4.9m12.9 0h4.6m10.4 0h1.9m6.4 0h12m8.9 0h1.9m8.5 0h3.1m9.8 0h4.4m8.6 0h8.6m7.8 0h21.9m3.8 0h21m4.9 0h8.4m9 0h6m9.8 0h8.1m5 0h17.9m4.8 0h1.6m20.7 0h4.6m10.3 0h2.9m1 0h7.5m17.2 0h27.2m2.2 0h6.3m19.7 0h17.9m1.5 0h8.9m9.9 0h3.3m28 0h2.9m10.4 0h3.1m2.1 0h3.7m10.4 0h.4m11.3 0h1.6m3.6 0h1.9m11.7 0h4.1m.6 0h19.9m20.8 0h5.8m9.7 0h10.4m3.3 0h6.6m6.4 0h11.5m1.3 0h11.9m19.1 0h15.1m2.7 0h2.5m8.1 0h1.6m14.6 0h.5m5.3 0h15.8m4.8 0h1.8m6.9 0h6.6m.3 0h1.7m11.7 0h3.4m.7 0h19.2m16.1 0h4.7m5.1 0h1.5m11.1 0h1.9m26.7 0h10.3m11.4 0h5.5m10.2 0h3.5m.8 0h4.3m2.8 0h4.9m15.6 0h3m8.8 0h4.1m1.8 0h6.1m2.9 0h4.7m.5 0h2.3m10.4 0h4.7m16.8 0h8.7m1 0h17.9m1.8 0h13.4m1.5 0h16.8m11.4 0h7.3m10.9 0h19.3m7.4 0h3.9m13.1 0h4.9m4.5 0h4.6m4.2 0h10.4m13.3 0h5.5m5.3 0h11.5m6.9 0h4.9m13.7 0h6.6m2.1 0h4.7m4.9 0h5.4m3 0h2m1.1 0h12.1m6 0h2m12.1 0h4.8m9.4 0h6.4m4.6 0h1.6m6.3 0h14.4m13.5 0h2.5m2.6 0h1.8m8.5 0h16.8M228.4 1966.6h2.9m3.8 0h11m6 0h4m3.6 0h2.3m21 0h3.2m3.7 0h4.9m6.8 0h4.5m2 0h15.8m11 0h9.2m6.3 0h2.4m3.7 0h3.8m2 0h6.3m2 0h3.9m15.5 0h2m.4 0h34.1m3.1 0h3.7m11.1 0h6.4m3.6 0h7.9m2.1 0h22m4.1 0h4.3m14.3 0h21.3m1.5 0h3.3m6.6 0h8.8m6.6 0h12.2m19.2 0h6.6m3.1 0h2.8m15.8 0h2.9m12.1 0h4.1m3.7 0h14.1m12.1 0h13.6m9.8 0h39.6m9.2 0h7.5m4.1 0h2.9m3.4 0h5.1m.6 0h5.9m5 0h19.9m5.7 0h6.5m8.1 0h2.5m2 0h4.1m6.6 0h1.6m2.5 0h10.1m10.8 0h2.8m5.7 0h8.3m4.8 0h12.2m.8 0h18.3m11 0h9.4m12.8 0h7.2m9.9 0h1.4m9 0h4.3m6.4 0h2.5m4 0h9m24.1 0h16m10.7 0h8.1m6.8 0h7.4m1.9 0h5m18.6 0h1.7m2.6 0h4.1m6.2 0h2m8.2 0h3m3 0h2.1m7.1 0h4.6m5.9 0h6.2m15.2 0h5.1m3.9 0h9m12.6 0h9.2m11.3 0h1.8m13.4 0h2.6m7.5 0h2m12.1 0h12.1m21.7 0h3.1m4.9 0h7.5m12.1 0h2.6m2.1 0h8.9m5.8 0h4.9m.7 0h2.5m.7 0h4.9m6.5 0h7.3m5.1 0h1.5m8.7 0h11m1.9 0h10.5m4 0h5m10 0h14.1m9.2 0h9.3m2.7 0h10.8m8 0h3m10.5 0h2.9m5.2 0h5.8m3.3 0h8.3m11.2 0h4.1m2.8 0h5.9m5 0h6.6m29.2 0h10.3m7.5 0h11.3m5.5 0h11.2m7.3 0h10.2m5.1 0h10.1m.9 0h2.6m7.8 0h2.8m3.3 0h17.4m2.2 0h19.8m26.2 0h2.7m1.3 0h9.2m4.3 0h2.4m3 0h5.3m5.5 0h18.4m7 0h26.1m13.1 0h2m22.9 0h2.5m10.7 0h6m10.8 0h9.8m3.4 0h1.9m6 0h1.1m18.1 0h4m4.5 0h3.4m9.4 0h1.7m1.9 0h6.3m5.7 0h7.5m4.1 0h7.6m15.3 0h8.4m7.2 0h2m5.7 0h1.6m1.6 0h18.5m17.3 0h5.2m4.2 0h8.6m2.4 0h2.3M224.5 2000.1h1.8m6.2 0h8.2m5.4 0h3.3m11.5 0h2.7m2.1 0h10.1m2.6 0h7.2m3.5 0h5.3m6.6 0h40.7m17.9 0h6.5m11.4 0h16.3m.4 0h3.8m3.3 0h2.4m10.2 0h8m8 0h3.4m12.3 0h3m10.4 0h5.3m11.3 0h4.5m2 0h2.3m25.6 0h6.9m3.3 0h2.7m6.3 0h17.2m1.8 0h11.4m.8 0h5.9m5.4 0h5.4m4.3 0h12.6m4.6 0h6m7 0h7.8m7.1 0h3.4m20.3 0h1.7m4.7 0h5.7m2.6 0h2.6m2.6 0h4m6.9 0h14.8m6.2 0h6.8m7.2 0h3.6m32 0h2.3m3.3 0h3.6m6 0h2.2m12.6 0h2.2m7.4 0h1.5m9.2 0h5.7m9.1 0h2.5m9.3 0h2.6m8 0h11m2.1 0h9.2m2 0h8.9m8.9 0h17.4m12.1 0h6.9m22.7 0h2.8m12.6 0h4.5m12 0h5.6m11.6 0h13.3m.5 0h19.7m3.5 0h8.3m24.5 0h14.2m8.5 0h3.5m6.4 0h2.9m1.3 0h1.7m3.7 0h1.5m16.6 0h16.5m6.8 0h6.1m3.6 0h7.7m10.2 0h1.8m2.2 0h3m6.5 0h5.7m3.1 0h4.8m7.4 0h3.6m5.8 0h6.2m9.6 0h3.7m22.5 0h2.7m1.8 0h14.4m.8 0h7m9.8 0h6.2m5.6 0h13.2m4.9 0h1.6m6.4 0h9.4m6 0h8.1m5.2 0h4.6m4.5 0h6.4m4.3 0h1.7m4.4 0h4.1m5.7 0h7.8m1.8 0h3.6m5.9 0h3m.4 0h6.5m5.3 0h7.2m5.7 0h6m7.1 0h2m12.9 0h1.3m2.9 0h8.9m4.4 0h8.9m4.8 0h1.5m4.4 0h1.8m3.7 0h7.5m9.1 0h.7m11.7 0h1.6m10.7 0h7.7m5.7 0h6.1m10.1 0h6.7m13.1 0h3.8m3.1 0h4.4m8 0h2.9m1 0h3.3m6 0h9.2m2.2 0h7.5m5.3 0h3.5m12.7 0h4m7.1 0h2.8m18.5 0h23.1m4.9 0h4.6m23.3 0h2.1m7.4 0h9.8m13 0h8.3m3.1 0h17.1m10.6 0h12.9m5.7 0h5.5m7.1 0h23.7m4.8 0h2.7m4 0h4.8m6 0h13.7m8.1 0h34.6m12.2 0h1.7m5.7 0h3.3m8.3 0h5.4m3.1 0h3.1m4.1 0h1.3m14.5 0h7.5m17.2 0h4.7m1.3 0h4.9M216.4 2033.6h9.9m6.8 0h3.4m4 0h4.1m21.1 0h13.2m7.1 0h38.4m29.8 0h5.4m3.1 0h8.3m2 0h1.9m8.7 0h8.6m3.8 0h2.3m4.5 0h2.9m.8 0h7.6m2.1 0h4.9m8.9 0h3.1m15.8 0h6.7m2.7 0h3.1m4.6 0h4.7m1.4 0h7.5m11.9 0h2.6m2.6 0h19.9m14.8 0h8.8m2.2 0h2.5m3 0h2.5m10.6 0h6.9m18.6 0h7.7m18.5 0h15.9m8.1 0h2.4m11 0h3.3m4.8 0h5m2.3 0h9.3m12.8 0h18.2m8.7 0h8.4m16.5 0h16.9m1.3 0h2.4m5 0h2.9m6.4 0h2.6m1.6 0h2.9m13.3 0h2.1m9.6 0h7.5m4.6 0h3.8m10 0h2.9m8.7 0h7.5m2.2 0h1.3m2.3 0h19m4.3 0h17.4m.4 0h28.2m6.1 0h2.7m6.9 0h2.5m9.8 0h6.5m11 0h2.7m4 0h1.7m16.6 0h8.1m4.3 0h3.2m18.6 0h12.6m5.4 0h6.1m6.6 0h1.5m7 0h2.2m3.2 0h4.1m14.8 0h1.4m11.8 0h3.7m1.8 0h4.5m11.6 0h2.1m25.9 0h10.1m3.4 0h9.5m16.1 0h1.7m11.6 0h2m11.1 0h8.7m15.5 0h1.8m15 0h16m2.7 0h2.8m.4 0h5.1m10.5 0h3.4m3.9 0h4.3m1.6 0h3m15.4 0h1.5m14.9 0h9.8m10.1 0h5.7m22.6 0h13.9m.8 0h2.2m6 0h13.1m5.9 0h2.2m16.7 0h1.6m1.2 0h6.6m8.1 0h9.6m9.2 0h6.5m34 0h2.4m17.3 0h4.2m1 0h3.2m2.1 0h3.2m13.5 0h5.5m12.5 0h16.3m2.8 0h3.5m3.8 0h10m1.7 0h1.7m3.5 0h6.9m1.4 0h10.6m18.7 0h3.2m22.5 0h3.3m6.9 0h1.4m9.7 0h8.4m1.8 0h5.8m3.9 0h9.1m5.2 0h16.3m7.5 0h5.8m7.5 0h16.1m3 0h3.9m2.5 0h2.8m3.5 0h8m3.9 0h2.8m5.5 0h4.4m5.6 0h3m2.9 0h2.1m.4 0h1.8m10.8 0h7.6m2.5 0h3.4m12.7 0h3.6m3 0h6.6m3.2 0h18.2m5.6 0h1.9m2.1 0h3.3m12 0h13.6m15.8 0h15m4.1 0h4.2m27.8 0h3.8m29.7 0h6.9" fill="none" stroke="#FE7C02" stroke-opacity="0.8" stroke-width="17.25"/>
<path d="M211.1 1916.3h1.4m1.6 0h10.7m2.3 0h4.3m8 0h6.7m8.6 0h3.9m.6 0h2.5m5.3 0h10.5m14.5 0h7.7m.7 0h15.5m2.5 0h24m4.9 0h4.3m3.3 0h3.2m14 0h21.4m7.3 0h5.2m13.8 0h4.3m4.8 0h2.1m8.9 0h1.9m1.9 0h4.5m.4 0h9.6m15.6 0h4.1m2.5 0h2.5m1.1 0h2.3m9.7 0h22.3m15.8 0h9.1m4.4 0h15.2m1.6 0h3.4m7.3 0h12.5m7.4 0h4.2m5.4 0h8.7m6.1 0h5.5m8.6 0h10.3m9.1 0h3.4m4.3 0h10.8m8.7 0h10.1m6.9 0h2.3m1.6 0h1.8m2.2 0h4.2m8.8 0h2.6m1.8 0h3.7m8.8 0h13.7m.5 0h9.8m2.8 0h5.1m.3 0h10.1m11.3 0h2.8m4.4 0h9.1m12.6 0h19m4.7 0h2.4m8 0h6.5m9.1 0h13.6m11.8 0h21.1m5.5 0h2.1m1.9 0h3.5m1.2 0h1.9m1.3 0h2.5m17.2 0h3.1m9.4 0h6.5m7.3 0h2.7m6 0h8.5m2.8 0h1.8m3.9 0h6.7m7.6 0h2.6m39.6 0h16.2m1.4 0h2.4m7.2 0h9.9m.6 0h8.8m8.1 0h17.4m5 0h17.1m.6 0h7.6m8.6 0h2.8m10.6 0h5.6m12.2 0h13.2m8.5 0h9.6m9.7 0h6.2m1 0h16m19 0h7.5m14.3 0h1.1m2.7 0h10.1m6.3 0h2.2m9.8 0h5.7m.5 0h15m8.4 0h1.8m.5 0h1.8m16.2 0h1.1m4.3 0h3.5m3.9 0h2.3m4.9 0h18.2m1.9 0h5.1m3.2 0h3.8m18.3 0h10.7m5.5 0h8.6m5.1 0h2.8m7.8 0h4.7m3.2 0h13m5.8 0h2.8m7.5 0h2m6.4 0h13.5m3.9 0h8.7m10.3 0h3.8m1.3 0h2.7m.5 0h5.7m3.2 0h8.9m2.9 0h8.9m1.6 0h4.8m16 0h5.2m7.5 0h1.8m3 0h1.9m2.7 0h2.9m4.1 0h10.1m19.1 0h7.1m4.7 0h22.4m17.3 0h6.6m6.4 0h7.2m10.8 0h4.9m13.3 0h7.8m4.1 0h9.4m.5 0h3.1m5.3 0h8.6m8.1 0h6.9m4.2 0h5.7m1.7 0h1.9m6.2 0h9m1.7 0h6.2m19.2 0h3m12.1 0h3.4m1.5 0h3.5m4 0h1.7m7.5 0h9.8m9.8 0h4.1m13.3 0h18.8m2.7 0h7.3m5.8 0h5.7m7.8 0h26m4 0h4.5m7.7 0h5.3m2.8 0h2.2M211.1 1949.8h3.2m3 0h13.2m10.6 0h3.5m3 0h5.5m12.4 0h2.5m4.5 0h1.7m2.8 0h13.1m12.1 0h11.1m18.7 0h6.7m6.3 0h1.8m22.8 0h2m14.7 0h10.9m19.4 0h1.5m10.8 0h2.3m1.6 0h9.5m8.8 0h2.3m15.3 0h4.8m1.9 0h1.8m.4 0h19m8.3 0h3.4m1.6 0h9.4m2.6 0h3m5.1 0h11.4m7.5 0h14m2.7 0h5.1m2.5 0h19.5m6.4 0h17.3m4.4 0h7.6m2.6 0h2.3m9.8 0h3m11.4 0h13.9m2.7 0h3.6m22.4 0h2.7m2.7 0h2.4m2.6 0h11.5m16 0h3.2m4.1 0h5.5m10.5 0h14.5m15.4 0h2.6m18 0h14.4m5.5 0h10m2.3 0h9.6m5.8 0h9.8m3.8 0h11.2m5.8 0h1.9m8.7 0h4.8m13.2 0h7.8m17.8 0h10.1m5.8 0h1.5m9.5 0h3.4m3.9 0h2.5m20.5 0h28.1m9.7 0h2.4m12 0h3.8m.4 0h5.7m15.6 0h12.5m7.3 0h1.4m11.8 0h13.7m1.5 0h2.7m5.4 0h11m4.1 0h29.3m1.5 0h4.7m9.9 0h7.4m2.2 0h3.9m8.9 0h11.5m15.5 0h6.7m5.3 0h2.4m11.6 0h8.6m3.3 0h4.9m3.5 0h10m2.8 0h3.7m10 0h2.6m12.2 0h1.2m8.3 0h6.7m13.9 0h3.5m2.6 0h3m2.2 0h16.1m4.6 0h4.6m5.4 0h2.1m7.9 0h4.1m2.1 0h11m1 0h1.5m6.2 0h25.4m9.2 0h2.2m.6 0h6.3m6.3 0h16.4m6 0h8.1m2.1 0h9m.8 0h1.3m5.9 0h7m1.3 0h11.7m8.9 0h10.3m5.6 0h7.7m12.8 0h11.5m3.4 0h3.8m2.8 0h9.2m6.5 0h42m19.5 0h4.1m2.9 0h19.7m9.8 0h4.8m20.3 0h3.3m1.7 0h1.6m13.4 0h12.2m4.8 0h23.9m2.4 0h13.8m9.4 0h6.3m4.1 0h2.8m11.6 0h15.5m21.6 0h4.5m6 0h2.1m4.2 0h4.2m9.2 0h12.7m9.5 0h27.9m2.3 0h3.7m10.2 0h3.2m4.3 0h19.2m2 0h3.2m12.7 0h8.7m3.1 0h2.5m1.1 0h4.8m.5 0h14.3M211.1 1983.3h2.9m6 0h2.9m5.1 0h5.9m5.5 0h2.5m5.8 0h9.3m4.7 0h2.1m1.2 0h3.8m16.3 0h13.8m6 0h6.8m2.5 0h8.6m6.4 0h3.8m1.9 0h9m9.2 0h5.3m9.3 0h4.1m13.2 0h11.5m11.1 0h10.9m12.1 0h26.2m.7 0h15.1m5 0h2.1m1.8 0h46.1m11.9 0h7.2m26.2 0h6.5m1.6 0h8.7m10 0h15.9m10.7 0h1.5m3.6 0h4m6.4 0h9.8m5 0h6.6m6.1 0h10.4m.9 0h3.2m10.2 0h15.1m.8 0h17.3m10.8 0h5.3m4.2 0h9.7m.5 0h8.2m3 0h10.1m16.5 0h4.7m15.8 0h1.8m.7 0h1.8m7.1 0h8.7m1.2 0h4.5m6.8 0h6.4m2.9 0h3.8m4.1 0h15.4m21.2 0h2.7m10.9 0h1.2m6 0h7.7m16.1 0h5.1m4.1 0h7.4m19.9 0h16.5m1.5 0h2.2m6.4 0h2m3.1 0h7.5m21.8 0h5.7m14.5 0h3.2m33.6 0h11.7m11.1 0h18.3m17 0h7.4m2.5 0h19m7.8 0h2.2m12.9 0h9.9m17.7 0h2.1m.8 0h17m34.2 0h8.5m4.8 0h7.2m2.7 0h12.5m6.9 0h4.2m29.5 0h5.1m3 0h8.3m4.9 0h1.7m7.1 0h3.8m4.6 0h4.1m2.7 0h2m8.6 0h3.6m2.2 0h9.6m13.2 0h1.7m4 0h2.8m1.2 0h5.6m10.5 0h3.8m11.7 0h3.3m.6 0h2.6m3.8 0h13.4m5.2 0h7.2m9.4 0h13.3m11 0h3.1m11.1 0h11.8m8.5 0h25.7m10.2 0h2.8m7.4 0h2.6m.5 0h4.1m3 0h2.1m16.3 0h9.2m4.6 0h3.6m9.8 0h5.4m1.4 0h25.4m7.7 0h5m14.7 0h6.2m7.2 0h2.6m6.2 0h3.6m2.8 0h13.3m14.2 0h3.9m6.9 0h11m.5 0h2.4m6 0h14.7m3.3 0h1.4m7.2 0h3.8m4.1 0h5.1m1.3 0h1.8m8.8 0h6.1m9.4 0h14.9m8.5 0h5.1m6.2 0h6.9m10.9 0h2.3m7.5 0h12.1m4.6 0h7.5m4.9 0h1.6m6.9 0h.7m4.4 0h23.6m6.5 0h3.3m9.1 0h9.2m13.1 0h3.4M211.1 2016.8h9.1m6.6 0h8.5m6.7 0h7.3m7.7 0h12.2m18.4 0h10.8m4.4 0h33.7m6.1 0h2.4m1.1 0h7.3m13.8 0h14m23.6 0h13.9m10.5 0h9.5m1.8 0h13.9m.9 0h6.2m.9 0h3m19.9 0h6.9m1.1 0h3.1m1.5 0h6.6m14 0h2.3m4.8 0h8.6m8.4 0h3.2m14.7 0h4.9m13.6 0h7.7m4.3 0h13.7m11.8 0h2.9m6.2 0h10.5m6.3 0h7.2m5.6 0h8.5m6.7 0h2.9m1.9 0h6.3m16.6 0h4.1m3.9 0h1.7m18.9 0h2.3m13.1 0h3.5m13.8 0h8.7m11.4 0h12.8m5.1 0h8.9m12.8 0h2m4.7 0h8m9.6 0h1.5m.4 0h4m18.5 0h4m9.4 0h2.4m1.6 0h3.6m39.1 0h4.3m8.3 0h3.6m11.2 0h3.9m15.6 0h9.9m4.4 0h4.9m2.1 0h4.8m2.1 0h2.6m5.1 0h9.1m4.3 0h20.9m22.4 0h5.9m4.2 0h5.8m12.2 0h13.9m9.6 0h2.3m5 0h7.5m20.4 0h1.8m4.9 0h5.5m5.5 0h1.8m.3 0h3.4m3.3 0h14.4m4.7 0h12m19.1 0h1.9m2.6 0h8.3m11.8 0h7.4m31.1 0h2.1m5 0h16.7m19.9 0h8.6m7.7 0h8.7m2.2 0h6.2m15.4 0h14.7m3.6 0h2.9m2.6 0h2.2m5.7 0h6.3m5.5 0h3.8m8.5 0h5.1m4.7 0h12.5m8.4 0h16.9m15.2 0h14.7m3.6 0h6.8m5.8 0h2m2.1 0h20.2m8.5 0h8.1m14.9 0h5.1m.8 0h18.5m4.2 0h2.9m7.7 0h4.3m6 0h10.2m3.6 0h1.6m2.2 0h10.3m2.7 0h5.5m5.4 0h2.8m4.3 0h4.5m3.2 0h9.3m20.4 0h5.5m.6 0h5m2 0h5.7m9.9 0h6.6m5.8 0h3.2m9.6 0h6.8m1.8 0h2.4m2.1 0h9.9m1.1 0h10.5m2.6 0h5.9m4.5 0h11.4m12.1 0h10.7m2.8 0h2m6 0h16.6m6.3 0h4.5m1 0h3.4m3.6 0h6.5m7.1 0h22.4m4.6 0h6.3m1.9 0h2.1m7.3 0h1.9m13.3 0h.6m5.2 0h11.6m1.7 0h1.9m2.3 0h6.3m8.1 0h5m5.9 0h6.1m10.1 0h3.6m1.6 0h2.3m8.3 0h1.3m8.1 0h2.7m2.6 0h6M211.1 2050.3h2.3m6.2 0h2.2m.4 0h8.7m3.4 0h4.9m8 0h4.9m8.8 0h5.2m8.8 0h2.4m3.2 0h8.1m1.8 0h1.7m7.4 0h13.6m1.1 0h3.9m17.2 0h10.5m2.7 0h2.5m4.5 0h4.8m3.1 0h11.5m1.6 0h2.1m5.2 0h4.3m10.9 0h8.2m3.2 0h17.3m5.8 0h8.4m1.1 0h13.2m7 0h6.5m12.4 0h2m4.4 0h9m9.3 0h27m9.1 0h3.5m29.8 0h7.2m9.4 0h7.3m2.5 0h12m2.3 0h6.2m1.2 0h3.7m5.4 0h3.8m5.7 0h3.2m4.8 0h.6m12.9 0h3.2m9.2 0h11.7m.8 0h4.3m6.9 0h10.3m6.5 0h11.2m21.7 0h14.3m8.2 0h6.2m7.2 0h4.6m4.4 0h2m2.3 0h4.3m12.5 0h5.3m.6 0h4.2m8.4 0h7.1m13.6 0h16.1m5.3 0h5.6m16.1 0h4.8m1.2 0h4.2m2.8 0h7.1m1.3 0h12.7m10.7 0h10.7m10.8 0h4.2m17.8 0h9.7m3.4 0h2.6m9.2 0h2.1m.9 0h12.8m2.8 0h8.5m33.1 0h3.3m2.3 0h9.3m2 0h11.1m5.6 0h6.5m21.4 0h3.7m5.2 0h7.6m8.4 0h4.2m3.7 0h9.3m4 0h3.9m12.9 0h2.3m5.2 0h9.3m8.6 0h12.5m2.3 0h4.1m3.8 0h8m.8 0h2.5m.9 0h20.4m24.6 0h5.7m7.4 0h17.4m4.5 0h5.6m13.9 0h10.9m41.7 0h7.2m5.7 0h4m5 0h2.3m21.6 0h6.3m14.9 0h3.9m6.4 0h2.9m13.9 0h3.5m9.5 0h10.6m11.4 0h11.2m6.4 0h1.9m.6 0h8.3m3.2 0h8.4m12.8 0h3.7m1.6 0h5.1m7.8 0h6.3m3.9 0h5.8m12.5 0h2.7m7 0h6m4.5 0h12.7m3.1 0h14.8m14.2 0h10.3m6.7 0h15.4m5.7 0h11.5m5.7 0h8.8m18 0h30.3m2.6 0h7.3m4.7 0h4.5m5.5 0h3.6m8.2 0h2.5m4.6 0h2.1m6.3 0h4.7m1.9 0h6.3m5.1 0h7.8m3.4 0h5.7m1.6 0h4.5m8.1 0h23.7m4.6 0h6.6m8.2 0h4.8m7.1 0h13.5m1 0h3.5m16.6 0h1.9m6.9 0h9m9.4 0h7.1m9.5 0h21.7m8.5 0h9.1" fill="none" stroke="#FE7C02" stroke-opacity="0.8" stroke-width="17.25"/>
<path d="M211.8 1916.3h3m9.3 0h3.7m2.9 0h9.4m7.8 0h7.5m2.5 0h2m1.1 0h6.7m11 0h14.1m6.3 0h2.1m14.1 0h3.9m22.6 0h6.3m2.9 0h4.7m1.8 0h15.4m22.2 0h4.4m5.9 0h15.2m5.3 0h2m2.5 0h10.3m.5 0h3.3m3.1 0h1.8m8.2 0h15.3m4.4 0h3.9m1.1 0h2.5m.9 0h11.1m20.9 0h17.2m7.7 0h4.1m15.5 0h3m2 0h8.7m11.1 0h8.8m2.8 0h6.8m7.3 0h7.5m6.3 0h4.2m12.5 0h5.3m7.1 0h5.7m14.2 0h3.9m10.2 0h8.3m.9 0h3m.4 0h3.6m2.8 0h8.6m2.7 0h3.2m2.3 0h10.2m12.3 0h1.9m8.4 0h2m5.9 0h1.7m12.5 0h8.9m1.4 0h5.8m9.5 0h9m20.8 0h6.1m1 0h9.4m5.1 0h7m18.8 0h10m19.7 0h4.4m3.3 0h3.3m2.1 0h2.6m.5 0h2.7m1.1 0h18.6m3.7 0h8.8m5.1 0h8.7m1.3 0h7.4m7.1 0h4.2m.4 0h5.3m5.3 0h9m1.2 0h41m14.8 0h2.8m1 0h8.6m8.5 0h2m7.4 0h9.5m18.6 0h2.1m17.4 0h2m6.2 0h7.7m3.7 0h12m4.2 0h10.9m14.5 0h7.9m12.4 0h9m4.8 0h2.4m14.6 0h20.4m6.1 0h13.7m3.6 0h2.2m11.1 0h5.3m3.3 0h4.9m8.2 0h1.9m13.6 0h7.9m2.3 0h1.9m3.6 0h11.8m4.7 0h3.3m2.1 0h5.3m4.6 0h2.7m16.8 0h3.3m6.2 0h2.2m4.7 0h15m11.7 0h2.9m15.8 0h1.9m1.4 0h9.2m3.3 0h2.8m15.3 0h5.4m4.5 0h5.7m.6 0h7.8m12.1 0h5.3m7.3 0h10.1m4 0h2.7m1.3 0h1.9m4.3 0h4.6m7.5 0h4.3m7.5 0h3m3.4 0h15m6.2 0h6.9m4.7 0h2.2m.5 0h4.1m1.5 0h5.5m11.9 0h9.3m13.6 0h6.1m21 0h18.7m5.2 0h7.8m9.2 0h8.8m3.5 0h11.2m9.9 0h5.5m8 0h1.9m3.8 0h4.6m12 0h4.7m5.5 0h5.6m4.3 0h3.1m.5 0h7.6m7.6 0h3.1m9.2 0h12.9m5 0h5.7m9.8 0h2.9m2.1 0h3.6m4.2 0h6.7m10.3 0h9.3m2.7 0h12.7m19.4 0h2.1m9.6 0h3m6.7 0h2.3m31.5 0h5.4m3.1 0h9.1m3.9 0h4.2m4.8 0h.5M215.4 1949.8h2.5m14.4 0h6.8m7.6 0h1.6m4.1 0h13.8m1.1 0h5.9m.3 0h1.4m14.6 0h13.5m9.7 0h20.1m5.3 0h5.1m3 0h24.2m4.8 0h12m9.5 0h20.8m1.7 0h8.4m3.1 0h3m8.1 0h8.1m3 0h13.6m6.5 0h3.3m.4 0h1.8m19.4 0h7.9m2 0h3m8 0h4m1.6 0h6.5m10 0h8.9m12.6 0h4.1m6 0h1.6m18.1 0h7.8m15.9 0h5.8m6.2 0h4m.9 0h11.2m1.6 0h12.8m14.7 0h1.9m2.2 0h11.9m13.2 0h4.1m1 0h2m12.1 0h17.4m1.8 0h5.5m4.1 0h10.1m14.9 0h16.8m2.9 0h17.6m13 0h6.9m8.6 0h3.7m8.2 0h5m10.6 0h3.3m11.7 0h7.2m.5 0h10.1m3.4 0h14.6m6.4 0h19.2m11 0h5m2.2 0h7m6 0h3m1.1 0h21.9m26.7 0h9.1m2.9 0h13.4m2.4 0h1.8m4.3 0h17m11.1 0h5.2m5.3 0h8.3m15.4 0h2.9m1.3 0h6.8m9.6 0h5.5m27.9 0h1.4m8.6 0h7.5m7.8 0h1.8m2.5 0h10.3m10.1 0h16.9m5.3 0h6.7m1 0h10.5m9.7 0h4.7m3.5 0h4.9m8.6 0h4.2m4.3 0h7.1m3.5 0h13.6m1.6 0h6.3m9.3 0h12.7m2.1 0h2.1m3.5 0h1.8m18.7 0h3.7m3.2 0h4.4m3.1 0h7.3m4.6 0h1.3m11.9 0h2.4m1.9 0h5.8m24 0h7m4.4 0h2m4.9 0h7.7m17.7 0h4.8m6.7 0h3.5m7.6 0h2.2m2 0h5.2m5.6 0h2.7m10.3 0h10.3m8.9 0h7m6.3 0h14.2m10.1 0h4.8m2.4 0h4.2m7.8 0h6.1m42.3 0h20.9m2.7 0h4.3m18.3 0h11.2m5 0h20.1m1.9 0h3.1m4.8 0h10.1m10.8 0h6.2m24.1 0h2.2m14.5 0h6.6m7 0h5.5m3 0h7.4m18.1 0h23m3.1 0h4.7m3.4 0h5.6m5.8 0h7.6m11.3 0h10.9m26.5 0h3.7m2.3 0h11.6m1.8 0h3.3m20.1 0h3.4m1.8 0h14.1m10.1 0h1.7m1.1 0h2.5m3.4 0h1.9M217 1983.3h3.6m3.7 0h4.3m4.5 0h6.9m1.1 0h4.9m10.2 0h6.1m.7 0h2.6m2.4 0h15.8m14.4 0h7.4m5.4 0h2.3m8.9 0h7.8m2.4 0h3.3m7.6 0h10.6m3.9 0h10.7m4.8 0h2.8m24.5 0h7.7m9.5 0h13.5m24.8 0h2.1m13.7 0h6.4m.7 0h3.2m44.7 0h13.3m8 0h25.4m5.1 0h3m11.6 0h7.1m14.5 0h10.1m2.1 0h2.6m5.1 0h7.8m10.7 0h4.1m7 0h5.7m9 0h2.3m1.8 0h7.4m17.9 0h2.2m15.9 0h12.2m3.9 0h5.6m8.3 0h1.9m6.8 0h4.4m10.7 0h13.4m5.9 0h15.4m2.3 0h2.1m4.8 0h2.3m9.1 0h2.6m5.2 0h6.1m6.8 0h2.5m2.4 0h5.5m14 0h22.6m1.3 0h12.3m3.7 0h3.5m8.3 0h15.5m3.7 0h2.3m9.2 0h21.3m15.1 0h2.9m2.9 0h5.7m.6 0h4.5m6.1 0h23.2m4.3 0h15.9m1.8 0h32.4m12.9 0h12.5m16.9 0h18.4m6 0h2m19.5 0h7.2m5 0h10.1m16.2 0h8.8m5.3 0h2.2m15.6 0h35.6m7.1 0h6.2m5.8 0h4.1m11.1 0h5.1m8.5 0h23m9.1 0h4.4m6.9 0h4.2m2.4 0h4.4m8.2 0h4.3m2.7 0h4.1m4.2 0h6.5m2.2 0h3.6m16.1 0h6.8m2.6 0h3.1m1.4 0h2.6m4.2 0h11.9m4.3 0h11.3m1.9 0h2m1.2 0h5.2m12 0h3.6m8.8 0h10.8m14.7 0h9.5m1.7 0h12.5m10.4 0h9.9m24.3 0h11.6m1.4 0h8.8m1.2 0h1.9m4.5 0h2.6m4.1 0h14.4m7.8 0h3.5m7.2 0h8.7m4 0h2.8m27.4 0h5.6m3.6 0h16.1m4.8 0h5.9m3.9 0h5.5m4.3 0h2.2m13.9 0h11.8m6.2 0h8.3m9.6 0h1.9m4.2 0h2.6m16.5 0h1.4m1.7 0h6.2m4.8 0h5.5m3.7 0h2.7m2.7 0h7.9m4.7 0h10.8m15.4 0h8m3.7 0h7.6m7.8 0h9.9m3 0h4.4m13 0h6m6.1 0h3.7m2.8 0h5.4m4.3 0h3.7m22.2 0h7.9m1.9 0h7.4m13.4 0h12.1M225.3 2016.8h2.2m7.1 0h6.1m7.9 0h9.1m14 0h12.1m13.8 0h3.1m36.5 0h5.9m1 0h2.5m7.5 0h13.5m15.5 0h22.2m16.8 0h5.7m9.9 0h3.2m12.5 0h2.3m4.8 0h2.3m1.6 0h21.3m5.5 0h2.5m1.7 0h2.9m5.2 0h13.1m3.2 0h6.2m7.2 0h8.2m3.5 0h14.2m5.4 0h15m6.3 0h5.7m18.8 0h6.7m1.5 0h7.6m11 0h5.7m5.8 0h3.2m12.8 0h6.3m1.5 0h3.3m4.9 0h15.1m5.6 0h5.3m.3 0h20.3m4.7 0h10.7m2.1 0h15.2m7.3 0h11m13.3 0h3.7m10.3 0h9.6m7 0h4.3m6.6 0h9.1m2 0h1.8m2.6 0h19.9m5.8 0h7.6m1 0h3m2.2 0h40.5m2.9 0h9.7m3.8 0h9.1m4.4 0h17m8.5 0h5.8m3.5 0h3.5m3.4 0h3.5m1.2 0h6.5m7.7 0h5.7m19.5 0h23.8m7.5 0h2.7m6.5 0h11.4m12.5 0h9.2m5.9 0h3.1m6.1 0h18.3m3.9 0h6.3m7.2 0h3.8m.4 0h1.7m2 0h3m17.3 0h1.5m17.6 0h13.4m2.6 0h4m6.9 0h11.3m7.9 0h32.5m.7 0h6.4m17.5 0h17.3m8.9 0h9.1m7.3 0h3.6m14.1 0h7.5m13.3 0h3m5.3 0h2.2m3 0h3m6.8 0h4.5m7.2 0h5.6m5.7 0h4.2m13 0h9.8m15.5 0h12.2m17.8 0h1.3m12 0h2.7m2.2 0h3.5m18.8 0h9.9m6.7 0h16.3m3.7 0h2.2m17.1 0h5.6m1.5 0h9.1m2.9 0h5.3m10.9 0h3.3m1.9 0h3.6m8.9 0h4.1m4.1 0h6.8m1.4 0h5.7m3.1 0h1.4m11 0h21.8m4.1 0h2m3.6 0h3.4m4.3 0h11.3m5.2 0h5.4m5.9 0h8.7m5.4 0h1.2m3.1 0h3.5m8.5 0h2.5m9.1 0h4m6.9 0h3.5m12.4 0h11.1m9.3 0h2.4m2.4 0h5.5m20.3 0h4.5m3.1 0h2.4m2 0h5m5.1 0h3.7m25.8 0h4.3m8.5 0h1.5m.7 0h8.7m2.3 0h10.9m3 0h4.8m10.2 0h3.1m2.5 0h1.6m7.5 0h6.8m7.6 0h3.4m4.7 0h11.5m2.2 0h3m2.7 0h8m3.6 0h3.6m3.5 0h4m6.6 0h3.5M214.3 2050.3h6m.8 0h1.8m7.3 0h4.8m8 0h3.1m5.4 0h6.1m12.4 0h5.7m1 0h4.6m6.7 0h3.2m.3 0h8.8m12.2 0h2.5m2.5 0h18.6m9.1 0h4.1m1.1 0h5.9m5.7 0h2.2m10.1 0h3m.7 0h3m6.4 0h12.3m10 0h1.4m17.9 0h5.3m7 0h2.5m11.8 0h1.3m12.2 0h13.8m.6 0h5.8m9.2 0h9m25.6 0h6.9m8.1 0h28.8m5.8 0h10.8m5.9 0h3.9m10.6 0h3.7m4.8 0h2.6m2.3 0h3m9.8 0h1.9m3.3 0h3.9m4.4 0h9.3m6.6 0h7.8m10.3 0h2.2m2.9 0h6.2m11 0h7.9m11.8 0h19.3m14.8 0h9.6m6.8 0h6.5m3.2 0h3.5m5 0h1.6m2.9 0h13.9m3.9 0h2m5.5 0h7.1m7.9 0h9.3m19.9 0h4.9m4.2 0h16m4.9 0h2.6m2.8 0h2.4m7.4 0h2.7m11.3 0h12.1m12.4 0h9.2m2.8 0h19.2m8.3 0h4.8m1.2 0h10.6m.7 0h2.3m11.4 0h4.2m7.1 0h34.5m1.9 0h3.7m7.9 0h3.4m13 0h1.7m7.1 0h22.8m2.3 0h6.6m6.2 0h9.8m2.8 0h5.1m7.9 0h5.4m13.1 0h1.9m4.6 0h4.8m10 0h5.9m13.1 0h3.7m2.7 0h3.4m8.4 0h2.2m1.1 0h2.3m19 0h24.1m8.2 0h6.8m16 0h5.9m4.2 0h15.3m11.8 0h39m7.6 0h3.5m9.7 0h2.9m.9 0h20.1m7.8 0h11.5m7.3 0h5.6m5.3 0h13.7m4.5 0h6.9m10.8 0h12.8m9.8 0h4.3m4 0h2m6.9 0h4.6m7 0h14.2m2.3 0h3m3.7 0h9.2m4.9 0h5.3m4.4 0h13.9m3.4 0h4.6m8.8 0h1.4m13.3 0h4.5m13.4 0h13.8m10.7 0h8.1m14 0h7.1m10.1 0h7.1m7.4 0h19.4m28.9 0h4m9.1 0h2.9m5.9 0h4m4.1 0h3.9m4.8 0h6m4.4 0h4.1m3.3 0h3.3m7.8 0h3.6m8.5 0h2.7m4.3 0h3m5.9 0h5.1m25.9 0h1.9m7.3 0h6.8m6.1 0h8.5m12.1 0h2.4m2.1 0h16.2m2.3 0h6.3m11.3 0h9m7.4 0h5.6m24 0h9.9" fill="none" stroke="#FE7C02" stroke-opacity="0.8" stroke-width="17.25"/>
<text x="201.4" y="1365.2" font-size="18.6" text-anchor="end">NAT_Kr_Goseong_5</text>
<text x="201.4" y="1380.9" font-size="18.6" text-anchor="end">NAT_Kr_Goseong_4</text>
<text x="201.4" y="1396.7" font-size="18.6" text-anchor="end">NAT_Kr_Goseong_3</text>
<text x="201.4" y="1412.4" font-size="18.6" text-anchor="end">NAT_Kr_Goseong_2</text>
<text x="201.4" y="1428.1" font-size="18.6" text-anchor="end">NAT_Kr_Goseong_1</text>
<text x="201.4" y="1443.9" font-size="18.6" text-anchor="end">NAT_Kr_Tongyeong_5</text>
<text x="201.4" y="1459.6" font-size="18.6" text-anchor="end">NAT_Kr_Tongyeong_4</text>
<text x="201.4" y="1475.3" font-size="18.6" text-anchor="end">NAT_Kr_Tongyeong_3</text>
<text x="201.4" y="1491.0" font-size="18.6" text-anchor="end">NAT_Kr_Tongyeong_2</text>
<text x="201.4" y="1506.8" font-size="18.6" text-anchor="end">NAT_Kr_Tongyeong_1</text>
<text x="201.4" y="1551.4" font-size="18.6" text-anchor="end">CUL_Kr_Wando2017_6</text>
<text x="201.4" y="1568.6" font-size="18.6" text-anchor="end">CUL_Kr_Wando2017_5</text>
<text x="201.4" y="1585.8" font-size="18.6" text-anchor="end">CUL_Kr_Wando2017_4</text>
<text x="201.4" y="1603.0" font-size="18.6" text-anchor="end">CUL_Kr_Wando2017_3</text>
<text x="201.4" y="1620.2" font-size="18.6" text-anchor="end">CUL_Kr_Wando2017_2</text>
<text x="201.4" y="1637.5" font-size="18.6" text-anchor="end">CUL_Kr_Wando2017_1</text>
<text x="201.4" y="1654.7" font-size="18.6" text-anchor="end">CUL_Kr_Wando2015_4</text>
<text x="201.4" y="1671.9" font-size="18.6" text-anchor="end">CUL_Kr_Wando2015_3</text>
<text x="201.4" y="1689.1" font-size="18.6" text-anchor="end">CUL_Kr_Wando2015_2</text>
<text x="201.4" y="1706.3" font-size="18.6" text-anchor="end">CUL_Kr_Wando2015_1</text>
<text x="201.4" y="1752.4" font-size="18.6" text-anchor="end">INTRO_NZ_Lyall_2</text>
<text x="201.4" y="1769.4" font-size="18.6" text-anchor="end">INTRO_NZ_Lyall_1</text>
<text x="201.4" y="1786.3" font-size="18.6" text-anchor="end">INTRO_NZ_Well2017_7</text>
<text x="201.4" y="1803.3" font-size="18.6" text-anchor="end">INTRO_NZ_Well2017_6</text>
<text x="201.4" y="1820.2" font-size="18.6" text-anchor="end">INTRO_NZ_Well2017_5</text>
<text x="201.4" y="1837.2" font-size="18.6" text-anchor="end">INTRO_NZ_Well2017_4</text>
<text x="201.4" y="1854.2" font-size="18.6" text-anchor="end">INTRO_NZ_Well2017_3</text>
<text x="201.4" y="1871.1" font-size="18.6" text-anchor="end">INTRO_NZ_Well2017_2</text>
<text x="201.4" y="1888.1" font-size="18.6" text-anchor="end">INTRO_NZ_Well2017_1</text>
<text x="201.4" y="1905.2" font-size="18.6" text-anchor="end">INTRO_Fr_Roscoff_5</text>
<text x="201.4" y="1922.2" font-size="18.6" text-anchor="end">INTRO_Fr_Roscoff_4</text>
<text x="201.4" y="1939.3" font-size="18.6" text-anchor="end">INTRO_Fr_Roscoff_3</text>
<text x="201.4" y="1956.4" font-size="18.6" text-anchor="end">INTRO_Fr_Roscoff_2</text>
<text x="201.4" y="1973.4" font-size="18.6" text-anchor="end">INTRO_Fr_Roscoff_1</text>
<text x="201.4" y="1990.5" font-size="18.6" text-anchor="end">INTRO_Fr_Thau_5</text>
<text x="201.4" y="2007.5" font-size="18.6" text-anchor="end">INTRO_Fr_Thau_4</text>
<text x="201.4" y="2024.5" font-size="18.6" text-anchor="end">INTRO_Fr_Thau_3</text>
<text x="201.4" y="2041.6" font-size="18.6" text-anchor="end">INTRO_Fr_Thau_2</text>
<text x="201.4" y="2058.7" font-size="18.6" text-anchor="end">INTRO_Fr_Thau_1</text>
<text transform="translate(2101.4,1431.6) rotate(90)" font-size="18.4" text-anchor="middle">Natural</text>
<text transform="translate(2101.4,1627.5) rotate(90)" font-size="18.4" text-anchor="middle">Cultivated</text>
<text transform="translate(2101.4,1815.3) rotate(90)" font-size="18.4" text-anchor="middle">New Zealand</text>
<text transform="translate(2101.4,1970.5) rotate(90)" font-size="18.4" text-anchor="middle">France</text>
<line x1="211.1" y1="2090.2" x2="2088.6" y2="2090.2" stroke="#000" stroke-width="1.3"/>
<path d="M211.1 2085.2v5M320.2 2085.2v5M398.2 2085.2v5M465.5 2085.2v5M529.9 2085.2v5M618.6 2085.2v5M669.7 2085.2v5M718.9 2085.2v5M780.3 2085.2v5M833.1 2085.2v5M951.0 2085.2v5M1059.0 2085.2v5M1117.8 2085.2v5M1177.3 2085.2v5M1233.5 2085.2v5M1307.5 2085.2v5M1370.7 2085.2v5M1420.3 2085.2v5M1470.9 2085.2v5M1534.3 2085.2v5M1585.0 2085.2v5M1647.2 2085.2v5M1696.2 2085.2v5M1762.6 2085.2v5M1818.8 2085.2v5M1875.1 2085.2v5M1930.0 2085.2v5M1981.0 2085.2v5M2030.4 2085.2v5M2050.0 2085.2v5M2088.6 2085.2v5M265.6 2090.2v9.4M359.2 2090.2v9.4M431.9 2090.2v9.4M497.7 2090.2v9.4M574.2 2090.2v9.4M644.2 2090.2v9.4M694.3 2090.2v9.4M749.6 2090.2v9.4M806.7 2090.2v9.4M892.0 2090.2v9.4M1005.0 2090.2v9.4M1088.4 2090.2v9.4M1147.5 2090.2v9.4M1205.4 2090.2v9.4M1270.5 2090.2v9.4M1339.1 2090.2v9.4M1395.5 2090.2v9.4M1445.6 2090.2v9.4M1502.6 2090.2v9.4M1559.7 2090.2v9.4M1616.1 2090.2v9.4M1671.7 2090.2v9.4M1729.4 2090.2v9.4M1790.7 2090.2v9.4M1846.9 2090.2v9.4M1902.5 2090.2v9.4M1955.5 2090.2v9.4M2005.7 2090.2v9.4M2040.2 2090.2v9.4M2069.3 2090.2v9.4" stroke="#000" stroke-width="1.2" fill="none"/>
<text transform="translate(278.8,2123.0) rotate(-45)" font-size="22.4" text-anchor="end">LG01</text>
<text transform="translate(372.4,2123.0) rotate(-45)" font-size="22.4" text-anchor="end">LG02</text>
<text transform="translate(445.1,2123.0) rotate(-45)" font-size="22.4" text-anchor="end">LG03</text>
<text transform="translate(510.9,2123.0) rotate(-45)" font-size="22.4" text-anchor="end">LG04</text>
<text transform="translate(587.5,2123.0) rotate(-45)" font-size="22.4" text-anchor="end">LG05</text>
<text transform="translate(657.4,2123.0) rotate(-45)" font-size="22.4" text-anchor="end">LG06</text>
<text transform="translate(707.5,2123.0) rotate(-45)" font-size="22.4" text-anchor="end">LG07</text>
<text transform="translate(762.8,2123.0) rotate(-45)" font-size="22.4" text-anchor="end">LG08</text>
<text transform="translate(819.9,2123.0) rotate(-45)" font-size="22.4" text-anchor="end">LG09</text>
<text transform="translate(905.2,2123.0) rotate(-45)" font-size="22.4" text-anchor="end">LG10</text>
<text transform="translate(1018.2,2123.0) rotate(-45)" font-size="22.4" text-anchor="end">LG11</text>
<text transform="translate(1101.6,2123.0) rotate(-45)" font-size="22.4" text-anchor="end">LG12</text>
<text transform="translate(1160.8,2123.0) rotate(-45)" font-size="22.4" text-anchor="end">LG13</text>
<text transform="translate(1218.6,2123.0) rotate(-45)" font-size="22.4" text-anchor="end">LG14</text>
<text transform="translate(1283.7,2123.0) rotate(-45)" font-size="22.4" text-anchor="end">LG15</text>
<text transform="translate(1352.3,2123.0) rotate(-45)" font-size="22.4" text-anchor="end">LG16</text>
<text transform="translate(1408.7,2123.0) rotate(-45)" font-size="22.4" text-anchor="end">LG17</text>
<text transform="translate(1458.8,2123.0) rotate(-45)" font-size="22.4" text-anchor="end">LG18</text>
<text transform="translate(1515.8,2123.0) rotate(-45)" font-size="22.4" text-anchor="end">LG19</text>
<text transform="translate(1572.9,2123.0) rotate(-45)" font-size="22.4" text-anchor="end">LG20</text>
<text transform="translate(1629.3,2123.0) rotate(-45)" font-size="22.4" text-anchor="end">LG21</text>
<text transform="translate(1684.9,2123.0) rotate(-45)" font-size="22.4" text-anchor="end">LG22</text>
<text transform="translate(1742.6,2123.0) rotate(-45)" font-size="22.4" text-anchor="end">LG23</text>
<text transform="translate(1803.9,2123.0) rotate(-45)" font-size="22.4" text-anchor="end">LG24</text>
<text transform="translate(1860.1,2123.0) rotate(-45)" font-size="22.4" text-anchor="end">LG25</text>
<text transform="translate(1915.8,2123.0) rotate(-45)" font-size="22.4" text-anchor="end">LG26</text>
<text transform="translate(1968.7,2123.0) rotate(-45)" font-size="22.4" text-anchor="end">LG27</text>
<text transform="translate(2018.9,2123.0) rotate(-45)" font-size="22.4" text-anchor="end">LG28</text>
<text transform="translate(2053.4,2123.0) rotate(-45)" font-size="22.4" text-anchor="end">LG29</text>
<text transform="translate(2082.5,2123.0) rotate(-45)" font-size="22.4" text-anchor="end">LG30</text>
<text x="1150.1" y="2191.0" font-size="22.5" text-anchor="middle" fill="#000" >Chromosome</text>
</svg>
</body></html>
